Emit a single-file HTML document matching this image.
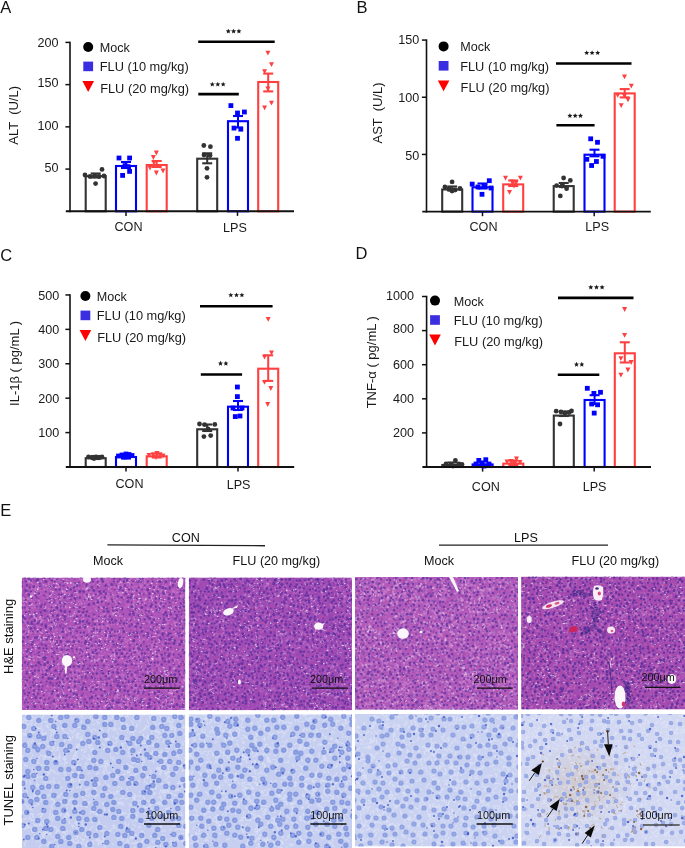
<!DOCTYPE html>
<html><head><meta charset="utf-8"><style>
html,body{margin:0;padding:0;background:#fff;}
svg{will-change:transform;}
body{width:685px;height:848px;position:relative;overflow:hidden;font-family:"Liberation Sans", sans-serif;}
</style></head><body>
<svg width="685" height="848" style="position:absolute;left:0;top:0"><defs><filter id="sf" x="0" y="0" width="1" height="1"><feGaussianBlur stdDeviation="0.45"/></filter><radialGradient id="brn"><stop offset="0" stop-color="#c9ad8c" stop-opacity="0.35"/><stop offset="1" stop-color="#c9ad8c" stop-opacity="0"/></radialGradient><clipPath id="ch0"><rect x="21.8" y="577.6" width="163.6" height="132.4"/></clipPath><clipPath id="ct0"><rect x="21.8" y="714.4" width="163.6" height="133.6"/></clipPath><clipPath id="ch1"><rect x="188.8" y="577.4" width="163.2" height="132.9"/></clipPath><clipPath id="ct1"><rect x="188.8" y="714.3" width="163.2" height="133.7"/></clipPath><clipPath id="ch2"><rect x="355.0" y="577.0" width="163.0" height="132.8"/></clipPath><clipPath id="ct2"><rect x="355.0" y="714.0" width="163.0" height="132.5"/></clipPath><clipPath id="ch3"><rect x="521.1" y="576.6" width="163.9" height="133.0"/></clipPath><clipPath id="ct3"><rect x="521.1" y="714.0" width="163.9" height="132.5"/></clipPath></defs><g clip-path="url(#ch0)"><g filter="url(#sf)"><rect x="21.8" y="577.6" width="163.6" height="132.4" fill="#b055b9"/><g transform="translate(21.8,577.6)"><path d="M31 32h0M157 112h0M115 127h0M82 80h0M144 37h0M136 87h0M92 61h0M54 55h0M90 10h0M147 131h0M29 20h0M69 10h0M25 79h0M35 5h0M53 34h0M20 44h0M20 43h0M57 57h0M109 57h0M147 126h0M155 119h0M158 55h0M123 65h0M67 128h0M123 77h0M140 124h0M157 3h0M55 46h0M154 129h0M76 24h0M85 65h0M9 63h0M59 71h0M4 40h0M23 27h0M32 44h0M56 0h0M46 97h0M130 80h0M87 77h0M154 111h0M92 39h0M5 64h0M162 41h0M117 70h0M34 27h0M118 30h0M134 36h0M3 22h0M106 14h0M41 16h0M47 15h0M34 99h0M99 32h0M87 107h0M137 114h0M121 88h0M115 29h0M3 69h0M115 115h0M136 21h0M6 118h0M134 3h0M89 129h0M92 125h0M13 48h0M120 86h0M6 28h0M100 47h0M138 58h0M73 66h0M140 71h0M161 94h0M136 6h0M141 40h0" stroke="#cc80d0" stroke-width="1.0" stroke-linecap="round" stroke-opacity="0.55"/><path d="M130 12h0M107 82h0M2 70h0M108 61h0M116 42h0M66 112h0M160 53h0M103 103h0M124 16h0M31 97h0M54 39h0M15 77h0M142 24h0M149 108h0M99 56h0M6 127h0M98 39h0M118 9h0M46 121h0M10 23h0M94 17h0M113 77h0M52 132h0M72 111h0M42 1h0M111 27h0M150 117h0M95 42h0M116 126h0M28 60h0M161 60h0M5 116h0M116 76h0M129 3h0M39 19h0M117 24h0M130 120h0M153 96h0M5 107h0M131 23h0M129 19h0M155 11h0M92 41h0M138 119h0M44 63h0M78 42h0M101 123h0M127 3h0M37 91h0M58 82h0M87 21h0M148 42h0M145 18h0M119 34h0M149 128h0M112 25h0M84 75h0M162 123h0M66 26h0M118 9h0M77 1h0M104 83h0M155 88h0M42 53h0M32 50h0M7 123h0M48 2h0M78 129h0M75 27h0M109 60h0M120 32h0M123 25h0M6 8h0M70 83h0M89 10h0M61 63h0M102 102h0M151 57h0M16 116h0M114 37h0M59 96h0M72 106h0M146 33h0M162 50h0M33 56h0M159 8h0M96 120h0M18 24h0M37 24h0M28 100h0M79 29h0M155 106h0M86 68h0M162 87h0M2 63h0M26 21h0M104 131h0M134 11h0M68 121h0M51 41h0M59 91h0M62 94h0M162 106h0M101 38h0M88 39h0M64 88h0M33 97h0M54 109h0M137 78h0M37 21h0M125 109h0M3 44h0M106 14h0M148 73h0M103 26h0M54 123h0M92 74h0M47 119h0M94 110h0M132 2h0M77 19h0M43 75h0M82 53h0M114 70h0M50 52h0M93 120h0M156 0h0M49 43h0M58 78h0M5 119h0M77 27h0M151 119h0M33 84h0M144 7h0M142 94h0M13 30h0M116 26h0M97 30h0M152 88h0M7 79h0M41 106h0M47 100h0M46 73h0M76 99h0M152 66h0M91 85h0M85 126h0M129 105h0M43 106h0M130 32h0M51 6h0M102 70h0M28 34h0M10 54h0M35 128h0M23 52h0M106 8h0M35 46h0M90 22h0M35 62h0M141 27h0M12 92h0M45 2h0M117 36h0M25 124h0M3 43h0M14 117h0M126 69h0M64 32h0M22 94h0M119 88h0M37 39h0M38 84h0M70 52h0M39 12h0M4 52h0M10 54h0M43 88h0M67 55h0M136 116h0M149 5h0M83 41h0M160 20h0M37 90h0M136 128h0M57 117h0M158 109h0M87 31h0M21 8h0M17 93h0M41 95h0M131 17h0M110 31h0M153 131h0M117 16h0M89 64h0M125 130h0M24 23h0M60 34h0M11 118h0M107 82h0M29 4h0M19 10h0M66 93h0M37 51h0M107 107h0M104 47h0M148 43h0M55 98h0M29 14h0M82 53h0M88 126h0M116 24h0M111 125h0M24 84h0M83 75h0M109 56h0M162 98h0M88 115h0M46 85h0M130 20h0M16 5h0M141 110h0M101 119h0M143 96h0M76 17h0M154 81h0M120 48h0M57 93h0M74 124h0M11 55h0M72 126h0M114 89h0M41 56h0M14 48h0M118 89h0M104 62h0M34 49h0M65 98h0M120 103h0M18 104h0M48 103h0M68 7h0M5 15h0M8 55h0M49 98h0M8 111h0M36 13h0M51 64h0M97 127h0M98 49h0M100 78h0M9 12h0M141 53h0M136 43h0M9 101h0M161 121h0M109 73h0M92 122h0M5 57h0M17 98h0M96 27h0M79 130h0M114 31h0M119 76h0M10 109h0M75 64h0M123 14h0M93 73h0M119 35h0M3 71h0M48 33h0M79 36h0M127 34h0M38 60h0M93 46h0M17 75h0M10 88h0M30 70h0M68 64h0M92 18h0M29 20h0M78 104h0M39 87h0M30 31h0M129 72h0M125 32h0M68 131h0M2 66h0M11 121h0M74 49h0M45 124h0M30 46h0M50 24h0M13 30h0M82 21h0M138 62h0M125 53h0M35 3h0M50 6h0M102 42h0M88 61h0M140 117h0M83 130h0M28 96h0M151 68h0M0 66h0M105 128h0M80 64h0M138 67h0M132 106h0M133 40h0M11 88h0M161 115h0M161 82h0M80 51h0M114 68h0M112 125h0M152 121h0M127 44h0M122 33h0M95 32h0M11 7h0M68 54h0M78 127h0M163 70h0M125 8h0M156 118h0M8 94h0M80 78h0M161 16h0M110 98h0M42 81h0M65 132h0M134 111h0M122 77h0M146 88h0M132 56h0M58 100h0M136 50h0M61 87h0M41 24h0M55 116h0M161 30h0M37 48h0M95 13h0M141 8h0M3 92h0M53 62h0M92 47h0M41 39h0M77 68h0M129 118h0M130 82h0M137 10h0M2 20h0M97 77h0M17 84h0M63 109h0M158 32h0M150 89h0M31 31h0M110 83h0M117 65h0M61 44h0M97 121h0M92 32h0M125 96h0M135 20h0M62 11h0M6 15h0M31 15h0M105 22h0M88 50h0M93 67h0M145 78h0M89 124h0M63 94h0M116 120h0M121 115h0M22 103h0M103 37h0M140 131h0M60 92h0M0 43h0M162 84h0M110 128h0M140 49h0M105 3h0M5 21h0M135 46h0M111 129h0M2 63h0M58 132h0M79 18h0M146 99h0M34 85h0M19 13h0M60 49h0M159 80h0M61 54h0M106 47h0M41 42h0M131 122h0M62 15h0M104 118h0M42 101h0M105 106h0M31 16h0M74 79h0M6 56h0M142 76h0M135 12h0M0 73h0M145 9h0M68 69h0M17 18h0M161 111h0M153 28h0M149 63h0M75 62h0M53 75h0M7 51h0M52 49h0M62 23h0M2 101h0M118 105h0M28 131h0M132 16h0M83 7h0M97 109h0M40 97h0M37 8h0M62 36h0M49 39h0M86 3h0M134 114h0M61 126h0M80 97h0M145 1h0M45 89h0M105 80h0M138 6h0M53 85h0M159 28h0M137 111h0M60 85h0M111 73h0M1 53h0M120 81h0M2 43h0M162 52h0M113 13h0M69 106h0M37 2h0M11 46h0M42 29h0M15 77h0M16 126h0M5 93h0M68 70h0M47 118h0M126 49h0M161 78h0M102 127h0M38 29h0M60 126h0M135 70h0M8 93h0M11 39h0M144 47h0M101 87h0M46 73h0M114 55h0M34 1h0M22 40h0M132 29h0M144 122h0M156 67h0M93 54h0M75 8h0M13 56h0M91 21h0M103 6h0M97 34h0M47 101h0M42 86h0M23 100h0M90 31h0M14 30h0M33 26h0M90 102h0M102 51h0M27 68h0M27 118h0M80 38h0M71 91h0M155 98h0M162 2h0M45 78h0M83 24h0M14 72h0M41 103h0M21 67h0M151 91h0M86 47h0M41 53h0M17 65h0M19 29h0M30 9h0M99 57h0M60 1h0M78 126h0M29 67h0M47 88h0M143 24h0M58 77h0M47 119h0M25 51h0M55 48h0M68 79h0M1 100h0M156 59h0M51 127h0M154 11h0M110 12h0M29 40h0M86 100h0M15 96h0M23 65h0M64 109h0M71 71h0M98 63h0M7 39h0M125 63h0M128 69h0M64 0h0M56 87h0M67 24h0M130 68h0M29 126h0M83 61h0M44 25h0M122 79h0M102 84h0M60 97h0M103 30h0M125 35h0M96 125h0M147 116h0M72 29h0M49 109h0M2 60h0M86 40h0M25 64h0M96 89h0M161 105h0M44 83h0M87 45h0M55 90h0M28 19h0M8 101h0M17 122h0M12 56h0M152 82h0M51 93h0M138 59h0M48 83h0M105 19h0M140 28h0M90 31h0M1 51h0M51 9h0M82 106h0M123 103h0M121 47h0M163 9h0M129 129h0M119 37h0M53 20h0M112 108h0M84 130h0M156 20h0M108 7h0M96 96h0M55 23h0M22 58h0M19 82h0M87 12h0M152 44h0M34 98h0M77 77h0M67 96h0M74 33h0M7 32h0M145 18h0M1 46h0M143 28h0M29 112h0M72 29h0M104 30h0M163 108h0M161 81h0M139 23h0M78 8h0M126 39h0M70 77h0M67 131h0M118 75h0M17 119h0M70 21h0M48 101h0M91 95h0M100 61h0M88 115h0M34 82h0M143 112h0M105 83h0M15 44h0M149 0h0M77 106h0M58 106h0M102 52h0M19 16h0M78 29h0M149 18h0M144 2h0M153 100h0M2 42h0M106 120h0M116 108h0M139 100h0M26 120h0M136 125h0M73 55h0M118 126h0M97 55h0M6 22h0M111 26h0M44 126h0M112 83h0M127 27h0M141 67h0M87 22h0M101 67h0M119 26h0M100 68h0M148 110h0M148 90h0M146 64h0M117 88h0M27 39h0M105 15h0M74 90h0M77 129h0M41 84h0M72 77h0M11 70h0M60 5h0M59 70h0M35 125h0M34 114h0M89 81h0M142 9h0M116 68h0M38 103h0M124 87h0M32 31h0M161 35h0M63 131h0M3 14h0M121 98h0M144 22h0M113 76h0M54 41h0M126 86h0M115 116h0M126 67h0M79 110h0M44 59h0M48 96h0M151 6h0M144 91h0M85 87h0M124 14h0M130 20h0M91 15h0M120 16h0M152 54h0M20 121h0M160 91h0M66 73h0M48 51h0M7 130h0M136 47h0M56 68h0M67 121h0M133 71h0M118 86h0M94 38h0M150 21h0M47 25h0M27 98h0M6 87h0M71 6h0M153 22h0M61 42h0M22 42h0M70 131h0M86 54h0M93 11h0M54 11h0M60 55h0M38 59h0M113 49h0M7 109h0M85 23h0M145 67h0M6 11h0M29 39h0M131 26h0M122 18h0M44 105h0M34 89h0M40 103h0M25 23h0M121 86h0M93 18h0M29 13h0M58 84h0M104 3h0M136 112h0M152 108h0M145 2h0M8 128h0M92 60h0M106 95h0M93 87h0M104 113h0M27 56h0M44 37h0M113 87h0M118 67h0M71 3h0M128 15h0M56 128h0M68 71h0M92 9h0M49 44h0M58 30h0M129 39h0M89 83h0M162 59h0M3 21h0M163 130h0M103 10h0M132 127h0M22 27h0M27 85h0M31 104h0M29 92h0M138 118h0M44 121h0M118 52h0M29 83h0M58 13h0M75 62h0M39 25h0M89 34h0M72 60h0M115 9h0M18 17h0M43 41h0M119 65h0M58 67h0M84 3h0M19 50h0M102 109h0M36 19h0M153 31h0M68 8h0M90 33h0M4 16h0M21 20h0" stroke="#cc80d0" stroke-width="1.5" stroke-linecap="round" stroke-opacity="0.55"/><path d="M76 67h0M30 68h0M15 107h0M85 85h0M34 121h0M29 74h0M105 15h0M98 49h0M157 64h0M92 113h0M3 36h0M146 130h0M104 64h0M150 47h0M147 115h0M129 114h0M102 51h0M100 11h0M163 116h0M64 97h0M123 4h0M79 30h0M148 87h0M146 43h0M35 55h0M103 59h0M112 26h0M29 1h0M57 92h0M101 100h0M130 125h0M107 27h0M134 85h0M57 11h0M90 102h0M113 125h0M86 38h0M139 128h0M94 27h0M159 68h0M131 75h0M113 9h0M120 16h0M41 26h0M71 50h0M103 85h0M21 53h0M3 27h0M83 100h0M17 5h0M10 126h0M125 43h0M84 57h0M30 60h0M103 54h0M42 121h0M127 108h0M147 116h0M126 101h0M108 75h0M64 132h0M4 81h0M41 120h0M83 128h0M77 22h0M69 70h0M60 38h0M92 38h0M64 119h0M12 120h0M86 124h0M99 15h0M86 16h0M146 104h0M59 36h0M92 78h0M111 73h0M53 73h0M14 75h0M12 28h0M13 40h0M19 94h0M60 48h0M63 26h0M84 72h0M14 11h0M147 11h0M24 99h0M85 101h0M55 128h0M81 71h0M116 121h0M157 85h0M116 106h0M69 19h0M29 8h0M39 95h0M90 108h0M130 94h0M42 115h0M117 13h0M77 127h0M135 28h0M50 62h0M155 75h0M23 12h0M116 24h0M70 68h0M129 87h0M82 19h0M161 68h0M40 76h0M22 120h0M108 41h0M121 51h0M93 23h0M105 5h0M24 127h0M77 54h0M140 54h0M93 120h0M52 7h0M147 97h0M123 40h0M11 16h0M109 115h0M132 29h0M130 16h0M146 108h0M137 47h0M114 124h0M72 70h0M108 104h0M83 112h0M128 22h0M80 29h0M82 5h0M81 58h0M148 75h0M24 60h0M163 101h0M38 34h0M100 5h0M114 114h0M145 61h0M73 132h0M51 56h0M34 37h0M160 39h0M150 29h0M63 43h0M46 21h0M78 22h0M69 20h0M115 73h0M81 78h0M57 118h0M126 83h0M0 72h0M39 65h0M90 83h0M117 92h0M102 65h0M60 38h0M53 24h0M74 102h0M9 34h0M130 52h0M136 75h0M159 18h0M69 84h0M46 52h0M153 33h0M93 19h0M45 30h0M13 24h0M65 8h0M73 110h0M123 41h0M130 97h0M149 3h0M122 72h0M18 131h0M157 29h0M105 28h0M145 113h0M137 91h0M38 80h0M84 4h0M73 79h0M152 20h0M121 131h0M11 115h0M41 107h0M91 104h0M162 27h0M56 42h0M46 80h0M30 17h0M32 132h0M67 19h0M69 109h0M47 113h0M122 80h0M134 113h0M76 42h0M11 61h0M27 86h0M57 71h0M83 16h0M21 12h0M74 74h0M25 128h0M25 108h0M117 21h0M54 65h0M145 125h0M82 120h0M60 57h0M59 57h0M86 72h0M44 105h0M134 104h0M121 55h0M62 59h0M19 42h0M20 116h0M110 123h0M27 46h0M85 51h0M138 47h0M117 57h0M139 5h0M36 26h0M100 72h0M119 125h0M85 10h0M82 26h0M80 78h0M136 91h0M160 110h0M126 35h0M86 44h0M54 96h0M62 38h0M32 18h0M86 72h0M159 61h0M27 23h0M131 66h0M101 49h0M145 77h0M46 13h0M57 74h0M94 84h0M15 66h0M42 120h0M112 106h0M150 3h0M56 105h0M149 123h0M93 125h0M45 25h0M141 71h0M86 126h0M148 33h0M90 36h0M106 93h0M71 14h0M12 36h0M72 17h0M94 99h0M106 90h0M12 52h0M36 115h0M42 105h0M73 48h0M74 42h0M160 104h0M118 126h0M109 58h0M37 102h0M160 45h0M149 8h0M115 74h0M45 75h0M81 22h0M99 61h0M49 92h0M14 105h0M43 65h0M35 93h0M78 42h0M133 75h0M56 58h0M135 121h0M28 47h0M118 6h0M10 111h0M58 130h0M45 88h0M3 41h0M145 100h0M108 92h0M68 52h0M77 70h0M112 92h0M74 53h0M159 72h0M51 114h0M105 15h0M76 119h0M35 59h0M55 76h0M3 29h0M55 127h0M30 84h0M153 6h0M117 25h0M80 51h0M5 25h0M138 82h0M78 5h0M24 53h0M99 25h0M139 26h0M117 31h0M69 42h0M51 98h0M158 27h0M27 5h0M30 97h0M16 5h0M135 91h0M87 17h0M127 84h0M98 67h0M10 17h0M47 60h0M79 53h0M65 11h0M25 20h0M98 101h0M110 28h0M18 5h0M34 6h0M151 126h0M130 5h0M142 33h0M52 22h0M124 45h0M114 96h0M135 66h0M115 79h0M159 54h0M139 106h0M138 51h0M144 47h0M33 38h0M132 12h0M16 12h0M26 131h0M110 21h0M68 68h0M51 58h0M126 78h0M76 34h0M58 32h0M118 103h0M74 91h0M5 11h0M121 40h0M72 111h0M67 72h0M110 44h0M144 48h0M128 74h0M56 99h0M119 89h0M87 77h0M123 82h0M149 7h0M45 11h0M86 4h0M153 16h0M55 54h0M37 32h0M15 28h0M159 95h0M122 102h0M44 70h0M93 10h0M10 97h0M146 131h0M111 88h0M76 27h0M37 29h0M114 121h0M3 115h0M55 9h0M75 2h0M104 114h0M102 130h0M76 119h0M65 16h0M160 26h0M147 39h0M86 35h0M133 102h0M97 115h0M9 17h0M26 75h0M63 9h0M99 42h0M134 66h0M86 123h0M19 95h0M54 102h0M27 7h0M5 65h0M112 110h0M150 122h0M58 27h0M87 7h0M1 73h0M117 126h0M37 26h0M14 106h0M78 15h0M22 18h0M112 107h0M9 101h0M161 38h0M101 8h0M93 9h0M121 113h0M137 77h0M25 2h0M122 37h0M57 126h0M19 5h0M137 130h0M153 82h0M53 50h0M89 69h0M90 90h0M48 76h0M86 23h0M98 83h0M100 39h0M113 29h0M96 129h0M61 57h0M3 78h0M101 104h0M121 80h0M90 88h0M15 89h0M70 128h0M117 23h0M73 84h0M27 47h0M142 15h0M98 36h0M142 6h0M38 58h0M98 36h0M39 129h0M55 34h0M72 53h0M86 73h0M9 42h0M97 121h0M39 49h0M18 122h0M39 25h0M113 30h0M55 132h0M43 102h0M102 59h0M74 102h0M65 16h0M126 1h0M84 19h0M98 57h0M70 104h0M49 126h0M121 21h0M60 2h0M126 31h0M131 80h0M86 79h0M104 75h0M67 111h0M126 91h0M41 14h0M41 81h0M52 42h0M126 107h0M159 59h0M68 74h0M42 8h0M96 94h0M153 96h0M103 113h0M42 62h0M86 98h0M148 81h0M112 24h0M58 94h0M159 116h0M60 43h0M103 20h0M38 82h0M40 71h0M118 66h0M128 67h0M164 72h0M105 59h0M89 125h0M112 14h0M100 54h0M80 57h0M9 32h0M158 51h0M123 3h0M44 74h0M141 67h0M101 65h0M101 110h0M7 85h0M41 126h0M75 123h0M76 99h0M50 9h0M137 112h0M6 21h0M93 11h0M82 129h0M5 80h0M157 74h0M124 22h0M59 97h0M10 37h0M5 80h0M89 9h0M99 34h0M33 79h0M29 13h0M62 103h0M158 11h0M154 121h0M15 103h0M128 84h0M97 77h0M57 19h0M75 2h0M11 18h0M88 28h0M149 29h0M31 24h0M98 82h0M14 8h0M24 128h0M3 59h0M69 15h0M98 120h0M113 98h0M150 79h0M49 25h0M51 95h0M0 28h0M65 90h0M15 82h0M100 67h0M162 115h0M28 34h0M143 103h0M10 11h0M75 104h0M15 42h0M106 126h0M150 17h0M60 112h0M92 30h0M21 36h0M9 102h0M74 72h0M35 25h0M55 26h0M30 110h0M4 45h0M163 95h0M88 65h0M150 111h0M52 6h0M62 74h0M155 9h0M146 103h0M15 96h0M76 126h0M145 26h0M160 97h0M15 54h0M40 11h0M55 126h0M113 81h0M52 44h0M119 47h0M17 42h0M17 10h0M144 102h0M103 87h0M119 79h0M97 92h0M48 30h0M14 16h0M162 103h0M121 27h0M138 42h0M125 104h0M94 3h0M143 94h0M25 87h0M140 32h0M58 101h0M11 62h0M75 74h0M144 128h0M60 99h0M156 66h0M93 57h0M42 127h0M61 11h0M111 68h0M81 54h0M97 6h0M41 77h0M124 128h0M76 43h0M72 49h0M37 10h0M89 78h0M122 56h0M83 37h0M64 57h0M37 17h0M57 24h0M88 71h0M101 103h0M115 110h0M157 38h0M153 14h0M50 63h0M30 69h0M94 98h0M50 55h0M71 18h0M19 61h0M61 125h0M114 111h0M140 101h0M82 40h0M63 73h0M85 1h0M6 79h0M51 119h0M90 67h0M93 121h0M49 130h0M12 69h0M145 72h0M71 125h0M87 48h0M52 36h0M105 48h0M45 71h0M138 34h0M93 116h0M141 122h0M66 128h0M87 103h0M62 1h0M88 2h0M29 72h0M108 62h0M99 99h0M21 90h0M69 120h0M118 94h0M123 6h0M142 54h0M79 16h0M123 22h0M57 48h0M117 92h0M138 3h0M66 122h0M37 9h0M90 62h0M154 115h0M145 24h0M123 1h0M76 124h0M118 67h0M54 126h0M77 126h0M156 42h0M139 24h0M149 131h0M22 126h0M79 23h0M133 71h0M74 108h0M38 81h0M139 48h0M128 24h0M93 40h0M82 66h0M157 107h0M92 91h0M68 15h0M43 14h0M51 37h0M102 37h0M136 1h0M34 28h0M131 83h0M162 61h0M27 48h0M126 114h0M8 24h0M42 65h0M17 23h0M85 23h0M103 12h0M38 131h0M53 132h0M27 42h0M139 128h0M35 24h0M3 28h0M157 15h0M127 86h0M160 110h0M10 6h0M114 22h0M113 47h0M65 74h0M4 1h0M7 38h0M74 93h0M45 64h0M97 26h0M40 122h0M19 63h0M30 111h0M60 71h0M147 113h0M60 42h0M109 82h0M110 1h0M31 29h0M142 123h0M100 129h0M59 24h0M141 71h0M44 30h0M132 64h0M159 15h0" stroke="#cc80d0" stroke-width="2.0" stroke-linecap="round" stroke-opacity="0.55"/><path d="M74 74h0M7 130h0M76 58h0M163 132h0M47 9h0M14 44h0M17 8h0M35 36h0M131 40h0M34 52h0M105 13h0M35 34h0M31 98h0M32 126h0M115 34h0M6 2h0M89 98h0M121 93h0M81 81h0M32 57h0M81 111h0M81 42h0M74 3h0M107 107h0M74 83h0M62 75h0M35 119h0M160 71h0M52 120h0M85 96h0M105 69h0M68 127h0M71 108h0M139 81h0M38 98h0M151 29h0M136 56h0M30 27h0M2 93h0M84 2h0M131 93h0M83 130h0M115 101h0M163 84h0M12 79h0M100 8h0M7 21h0M8 131h0M77 130h0M95 56h0M87 132h0M160 121h0M56 99h0M12 16h0M69 34h0M60 87h0M112 40h0M150 124h0M52 53h0M130 72h0M92 23h0M158 86h0M10 72h0M40 29h0M135 88h0M132 110h0M19 86h0M43 117h0M56 72h0M87 20h0M0 109h0M140 40h0M86 21h0M64 61h0M67 10h0M66 93h0M83 104h0M100 21h0M137 26h0M76 16h0M149 131h0M98 16h0M29 131h0M113 100h0M79 132h0M86 57h0M11 121h0M82 124h0M28 116h0M119 41h0M39 88h0M61 88h0M105 12h0M39 58h0M117 76h0M96 12h0M113 110h0M80 101h0M6 32h0M40 61h0M60 45h0M138 50h0M43 52h0M125 96h0M66 51h0M103 75h0M109 126h0M77 81h0M59 76h0M27 115h0M55 101h0M116 82h0M2 78h0M47 97h0M51 106h0M114 72h0M163 27h0M79 55h0M154 114h0M2 28h0M2 70h0M131 110h0M161 13h0M144 42h0M30 47h0M142 17h0M80 31h0M106 124h0M130 68h0M40 106h0M126 73h0M30 51h0M75 67h0M95 38h0M67 17h0M89 13h0M99 128h0M162 52h0M106 93h0M107 29h0M121 34h0M77 2h0M139 14h0M66 81h0M158 85h0M43 15h0M81 68h0M111 11h0M102 73h0M104 3h0M128 58h0M12 15h0M19 41h0M68 71h0M113 51h0M92 129h0M25 126h0M132 13h0M100 16h0M95 119h0M113 48h0M118 39h0M45 67h0M26 114h0M87 87h0M153 48h0M155 15h0M108 10h0M162 41h0M5 76h0M112 113h0M80 74h0M55 93h0M160 126h0M100 81h0M14 69h0M5 15h0M95 100h0M0 9h0M74 31h0M86 34h0M58 121h0M63 18h0M128 45h0M121 63h0M34 116h0M152 45h0M23 95h0M144 96h0M125 70h0M51 101h0M93 39h0M149 31h0M95 21h0M72 11h0M38 110h0M70 74h0M32 28h0M131 130h0M30 92h0M119 8h0M126 104h0M4 21h0M37 87h0M156 82h0M71 91h0M91 85h0M119 42h0M17 126h0M67 53h0M67 40h0M74 63h0M74 50h0M3 55h0M97 94h0M161 18h0M53 96h0M162 75h0M51 116h0M5 108h0M101 20h0M35 117h0M44 15h0M31 115h0M144 131h0M162 10h0M154 58h0M35 10h0M133 96h0M9 5h0M27 63h0M53 34h0M138 93h0M8 4h0M82 66h0M119 10h0M6 4h0M138 80h0M47 39h0M128 93h0M30 52h0M125 15h0M99 127h0M94 118h0M137 87h0M118 113h0M112 20h0M110 96h0M91 77h0M112 131h0M132 52h0M48 49h0M35 2h0M99 7h0M55 19h0M77 119h0M77 40h0M52 96h0M23 72h0M126 81h0M159 48h0M147 127h0M106 63h0M113 75h0M8 21h0M92 37h0M54 112h0M26 109h0M29 100h0M27 31h0M22 78h0M31 42h0M58 62h0M43 107h0M98 127h0M33 119h0M48 55h0M130 111h0M92 19h0M120 116h0M120 8h0M55 14h0M71 79h0M152 120h0M40 104h0M43 14h0M157 126h0M138 112h0M147 96h0M9 90h0M109 80h0M157 108h0M59 1h0M140 102h0M137 131h0M99 18h0M83 36h0M148 131h0M151 34h0M130 8h0M0 128h0M5 81h0M40 21h0M8 49h0M132 35h0M40 52h0M20 124h0M144 52h0M28 96h0M105 106h0M80 4h0M149 111h0M142 128h0M13 55h0M72 7h0M135 81h0M71 112h0M91 54h0M5 107h0M40 81h0M142 90h0M40 13h0M59 123h0M40 85h0M60 57h0M72 117h0M74 24h0M118 25h0M161 66h0M163 12h0M1 129h0M77 73h0M98 43h0M77 105h0M141 35h0M29 66h0M158 86h0M33 65h0M96 99h0M24 90h0M115 111h0M92 38h0M71 108h0M4 120h0M108 6h0M11 31h0M144 131h0M50 92h0M70 84h0M107 42h0M148 129h0M46 3h0M11 39h0M110 109h0M62 66h0M90 79h0M111 6h0M76 27h0M138 32h0M65 12h0M138 121h0M69 64h0M61 4h0M12 124h0M6 127h0M27 63h0M100 97h0M13 87h0M122 23h0M6 55h0M28 42h0M140 128h0M106 110h0M73 84h0M52 7h0M123 111h0M131 70h0M63 122h0M9 15h0M49 1h0M106 3h0M13 11h0M71 38h0M61 80h0M12 60h0M114 115h0M14 116h0M38 122h0M41 66h0M90 71h0M18 91h0M133 88h0M38 108h0M37 64h0M118 78h0M151 12h0M48 81h0M48 41h0M102 98h0M56 65h0M100 121h0M58 1h0M137 58h0M51 67h0M58 129h0M89 64h0M34 127h0M153 39h0M0 128h0M123 10h0M89 23h0M145 17h0M157 47h0M51 108h0M54 58h0M48 66h0M162 121h0M83 54h0M9 31h0M62 129h0M16 49h0M5 48h0M61 37h0M20 126h0M106 128h0M153 119h0M69 76h0M153 57h0M36 87h0M47 53h0M121 131h0M87 98h0M85 90h0M115 73h0M139 42h0M137 65h0M62 51h0M66 69h0M74 128h0M74 63h0M96 35h0M106 78h0M91 36h0M149 113h0M27 59h0M91 130h0M83 84h0M46 75h0M105 86h0M34 100h0M144 9h0M56 17h0M156 58h0M5 31h0M119 113h0M147 112h0M69 67h0M93 71h0M3 80h0M122 62h0M98 38h0M109 13h0M135 97h0M151 14h0M87 25h0M2 120h0M117 0h0M43 86h0M106 46h0M60 110h0M100 8h0M36 20h0M107 57h0M69 50h0M163 34h0M163 12h0M114 66h0M137 2h0M69 118h0M10 48h0M54 49h0M149 126h0M111 15h0M51 103h0M31 84h0M131 71h0M92 73h0M153 83h0M7 64h0M116 118h0M151 25h0M29 48h0M94 25h0M89 17h0M5 90h0M112 47h0M92 66h0M42 132h0M92 128h0M114 33h0M11 111h0M3 38h0M78 23h0M110 4h0M51 50h0M102 20h0M59 2h0M57 36h0M82 42h0M36 106h0M109 100h0M72 78h0M116 86h0M81 49h0M67 111h0M30 87h0M129 6h0M26 115h0M34 130h0M74 73h0M137 18h0M18 9h0M161 2h0M9 86h0M81 37h0M149 116h0M73 39h0M133 99h0M89 59h0M77 125h0M113 97h0M37 123h0M146 46h0M163 66h0M108 2h0M50 62h0M107 98h0" stroke="#cc80d0" stroke-width="2.5" stroke-linecap="round" stroke-opacity="0.55"/><path d="M116 32h0M36 73h0M136 70h0M42 130h0M117 79h0M144 94h0M149 26h0M34 47h0M66 117h0M67 77h0M123 111h0M49 66h0M29 73h0M129 123h0M14 18h0M57 39h0M6 64h0M99 93h0M63 57h0M113 75h0M8 49h0M105 108h0M23 56h0M119 117h0M141 44h0M64 107h0M18 62h0M81 99h0M106 123h0M152 58h0M50 64h0M91 41h0M35 49h0M78 10h0M22 41h0M55 104h0M105 69h0M154 107h0M64 66h0M12 0h0M33 112h0M163 6h0M144 96h0M57 39h0M139 42h0M136 119h0M6 127h0M152 130h0" stroke="#843ea8" stroke-width="1.0" stroke-linecap="round" stroke-opacity="0.5"/><path d="M13 61h0M77 129h0M91 121h0M106 3h0M62 3h0M68 27h0M64 107h0M133 6h0M98 63h0M72 116h0M79 35h0M95 16h0M49 103h0M14 118h0M28 93h0M99 59h0M156 92h0M126 23h0M85 58h0M161 16h0M139 4h0M87 31h0M4 89h0M5 1h0M114 74h0M152 102h0M90 28h0M110 41h0M130 115h0M134 112h0M143 109h0M147 12h0M132 23h0M129 110h0M103 46h0M94 70h0M26 114h0M158 125h0M80 83h0M97 13h0M120 30h0M12 100h0M130 104h0M97 59h0M152 106h0M142 129h0M98 51h0M60 65h0M57 71h0M137 100h0M88 43h0M151 11h0M4 20h0M8 62h0M53 40h0M16 54h0M153 34h0M10 108h0M40 111h0M41 72h0M42 25h0M105 106h0M52 68h0M162 87h0M21 131h0M72 81h0M129 99h0M129 28h0M29 120h0M31 114h0M14 108h0M22 1h0M97 98h0M47 48h0M14 112h0M136 32h0M79 102h0M162 117h0M51 48h0M90 59h0M15 85h0M77 28h0M36 30h0M17 112h0M35 102h0M60 0h0M153 65h0M96 12h0M141 84h0M141 39h0M128 113h0M161 28h0M76 103h0M80 46h0M90 112h0M42 110h0M48 79h0M127 16h0M72 8h0M8 71h0M6 120h0M36 127h0M82 120h0M150 26h0M135 54h0M41 80h0M121 72h0M75 111h0M45 19h0M112 73h0M46 111h0M162 26h0M2 16h0M157 100h0M65 73h0M9 25h0M82 89h0M65 87h0M120 103h0M55 77h0M23 28h0M46 11h0M55 39h0M83 99h0M161 82h0M60 37h0M95 58h0M51 42h0M57 121h0M118 101h0M159 86h0M159 110h0M102 26h0M28 35h0M35 14h0M55 19h0M66 9h0M7 98h0M159 93h0M136 56h0M98 36h0M38 121h0M17 89h0M45 41h0M41 44h0M152 78h0M39 71h0M38 83h0M149 4h0M34 8h0M109 99h0M130 36h0M34 84h0M75 49h0M96 96h0M92 69h0M53 48h0M45 24h0M23 1h0M154 9h0M46 4h0M94 52h0M102 126h0M4 84h0M31 49h0M90 98h0M81 74h0M133 35h0M40 34h0M141 94h0M107 22h0M136 87h0M20 65h0M111 64h0M126 26h0M19 23h0M45 126h0M17 113h0M131 122h0M73 132h0M60 92h0M105 80h0M76 66h0M155 32h0M132 125h0M19 29h0M136 110h0M57 124h0M34 67h0M149 106h0M24 77h0M70 48h0M67 68h0M28 61h0M23 78h0M21 71h0M98 0h0M70 64h0M70 85h0M81 120h0M42 21h0M51 15h0M156 103h0M38 66h0M125 37h0M129 76h0M128 84h0M125 60h0M39 34h0M118 66h0M160 48h0M36 37h0M152 48h0M34 108h0M48 112h0M115 52h0M155 114h0M22 73h0M155 43h0M67 60h0M149 130h0M34 11h0M134 46h0M32 93h0M137 16h0M35 68h0M147 28h0M81 105h0M137 110h0M153 123h0M90 115h0M68 70h0M120 71h0M154 37h0M143 22h0M56 47h0M45 48h0M40 8h0M96 87h0M68 81h0M3 108h0M131 33h0M28 30h0M28 113h0M112 114h0M79 68h0M3 79h0M11 89h0M13 123h0M144 52h0M105 4h0M10 66h0M103 81h0M69 118h0M62 32h0M25 97h0M60 102h0M21 104h0M105 94h0M1 38h0M144 36h0M34 97h0M76 100h0M37 68h0M119 108h0M86 78h0M48 19h0M137 116h0M136 110h0M32 73h0M137 124h0M29 45h0M122 53h0M140 48h0M55 123h0M162 96h0M63 101h0M160 81h0M93 6h0M76 111h0M8 71h0M40 128h0M136 41h0M151 40h0M69 101h0M144 78h0M150 9h0M124 81h0M8 101h0M130 79h0M15 59h0M9 64h0M146 68h0M25 43h0M23 37h0M149 95h0M116 95h0M2 41h0M109 10h0M61 44h0M124 118h0M9 54h0M99 118h0M88 61h0M31 60h0M40 28h0M84 84h0M70 64h0M12 47h0M33 66h0M56 84h0M112 131h0M111 106h0M100 101h0M132 94h0M23 18h0M154 10h0M44 86h0M69 112h0M80 28h0M42 100h0M161 27h0M105 16h0M161 49h0M154 92h0M62 28h0M2 39h0M106 122h0M61 57h0M27 54h0M30 48h0M138 1h0M158 9h0M54 109h0M135 93h0M160 87h0M37 12h0M87 97h0M34 113h0M64 92h0M2 94h0M63 128h0M105 108h0M58 67h0M133 42h0M60 88h0M112 68h0M21 33h0M88 125h0M32 70h0M1 67h0M107 67h0M72 12h0M76 121h0M80 29h0M75 96h0M10 98h0M89 101h0M62 88h0M47 26h0M70 61h0M122 33h0M127 3h0M68 2h0M56 130h0M30 8h0M41 9h0M30 8h0M137 56h0M142 23h0M7 111h0M85 3h0M155 39h0M59 34h0M150 18h0M80 68h0M76 112h0M151 45h0M57 38h0M13 23h0M105 91h0M28 45h0M163 1h0M66 131h0M143 91h0M148 120h0M145 87h0M155 54h0M53 67h0M132 42h0M58 14h0M6 39h0M5 7h0M36 13h0M61 91h0M107 37h0M9 14h0M33 49h0M50 103h0M135 73h0M25 40h0M96 130h0M23 32h0M122 72h0M124 51h0M84 47h0M131 104h0M44 120h0M38 51h0M98 73h0M145 66h0M39 9h0M36 42h0M155 75h0M14 100h0M108 36h0M116 22h0M100 115h0M126 85h0M115 38h0M73 7h0M140 131h0M7 66h0M15 54h0M118 80h0M21 129h0M110 130h0M99 112h0M43 23h0M32 94h0M74 17h0M145 15h0M110 17h0M70 23h0M43 72h0M15 68h0M8 60h0M114 112h0M2 121h0M133 128h0M40 43h0M143 106h0M103 99h0M118 30h0M145 105h0M130 111h0M18 120h0M8 47h0M50 25h0M93 26h0M3 2h0M76 130h0M147 15h0M159 79h0M5 41h0M14 126h0M132 15h0M10 14h0M73 22h0M65 46h0M71 13h0M57 47h0M23 8h0M23 26h0M18 109h0M99 63h0M56 121h0M36 70h0M4 1h0M88 98h0M34 125h0M43 24h0M40 28h0M68 129h0M49 24h0M122 41h0M92 114h0M90 40h0M115 132h0M61 48h0M110 57h0M151 18h0M43 8h0M19 2h0M84 114h0M137 31h0M161 100h0M159 122h0M146 12h0M50 31h0M35 63h0M86 130h0M17 21h0M56 119h0M92 45h0M107 65h0M156 39h0M2 14h0M148 105h0M147 3h0M89 6h0M160 46h0M38 127h0M44 32h0M4 79h0M99 125h0M154 71h0M138 20h0M98 77h0M48 130h0M130 80h0M126 100h0M20 12h0M5 14h0M98 60h0M47 72h0M142 62h0M151 10h0M140 115h0M6 60h0M32 80h0M18 91h0M77 18h0M159 41h0M106 110h0M51 9h0M121 4h0" stroke="#843ea8" stroke-width="1.5" stroke-linecap="round" stroke-opacity="0.5"/><path d="M133 104h0M90 99h0M53 77h0M50 52h0M106 44h0M161 74h0M12 125h0M47 73h0M151 101h0M112 88h0M119 72h0M26 62h0M14 97h0M146 128h0M98 45h0M89 58h0M116 111h0M20 11h0M13 63h0M106 31h0M147 85h0M47 13h0M32 39h0M10 65h0M48 22h0M62 34h0M68 81h0M116 123h0M75 93h0M36 27h0M110 99h0M31 81h0M36 99h0M2 71h0M145 129h0M9 7h0M26 77h0M137 4h0M104 72h0M82 66h0M158 4h0M18 66h0M13 77h0M104 72h0M121 4h0M34 37h0M150 62h0M12 120h0M79 38h0M3 15h0M73 68h0M123 97h0M95 94h0M124 36h0M31 72h0M112 91h0M99 20h0M46 1h0M159 62h0M102 5h0M139 77h0M87 42h0M99 7h0M17 116h0M93 8h0M15 88h0M3 11h0M76 66h0M159 31h0M163 51h0M59 44h0M140 5h0M129 105h0M17 90h0M69 69h0M144 75h0M98 119h0M159 86h0M20 33h0M84 74h0M42 47h0M92 101h0M109 105h0M57 103h0M135 56h0M156 8h0M97 128h0M43 18h0M30 27h0M78 62h0M113 20h0M35 40h0M21 36h0M29 131h0M28 0h0M7 89h0M77 57h0M157 37h0M159 53h0M127 41h0M77 75h0M34 59h0M25 40h0M77 71h0M46 24h0M3 48h0M100 44h0M28 100h0M85 130h0M143 53h0M79 94h0M107 105h0M99 41h0M108 71h0M128 94h0M24 46h0M33 23h0M77 18h0M14 101h0M58 86h0M115 58h0M66 57h0M112 123h0M90 59h0M54 23h0M99 27h0M27 114h0M71 10h0M69 16h0M34 25h0M4 107h0M116 96h0M34 123h0M1 82h0M20 121h0M25 62h0M101 64h0M48 2h0M21 81h0M91 58h0M142 43h0M59 56h0M117 104h0M92 118h0M98 51h0M159 63h0M61 99h0M116 114h0M111 104h0M135 93h0M29 126h0M38 7h0M71 38h0M23 7h0M139 7h0M121 122h0M159 88h0M33 99h0M59 13h0M12 88h0M45 86h0M111 14h0M132 61h0M143 56h0M93 104h0M24 25h0M35 49h0M4 23h0M10 121h0M24 59h0M74 111h0M71 48h0M99 121h0M106 85h0M86 10h0M128 125h0M75 61h0M13 47h0M93 42h0M124 45h0M141 123h0M48 35h0M128 83h0M101 37h0M133 61h0M62 15h0M66 2h0M123 27h0M66 20h0M85 101h0M84 56h0M137 46h0M84 125h0M9 65h0M21 93h0M134 122h0M72 46h0M24 14h0M67 59h0M39 121h0M89 115h0M66 42h0M142 40h0M62 2h0M118 56h0M70 73h0M79 20h0M35 37h0M20 67h0M4 108h0M143 6h0M74 61h0M16 36h0M22 67h0M139 103h0M116 115h0M158 42h0M48 94h0M162 76h0M21 114h0M138 101h0M94 32h0M109 34h0M36 94h0M36 1h0M156 12h0M162 94h0M82 96h0M72 92h0M33 51h0M40 47h0M101 36h0M49 128h0M129 24h0M126 114h0M20 8h0M161 43h0M161 33h0M53 2h0M8 71h0M148 107h0M139 126h0M88 81h0M8 41h0M54 24h0M121 54h0M137 35h0M27 22h0M135 13h0M116 113h0M98 111h0M151 120h0M30 45h0M1 38h0M160 65h0M50 87h0M74 57h0M10 32h0M84 38h0M135 113h0M16 82h0M84 16h0M37 104h0M6 14h0M70 35h0M8 39h0M75 126h0M131 124h0M111 34h0M147 62h0M8 76h0M159 9h0M18 32h0M129 122h0M73 37h0M142 99h0M131 62h0M107 113h0M101 22h0M98 96h0M6 34h0M118 5h0M93 91h0M69 82h0M110 39h0M119 111h0M88 15h0M104 79h0M8 68h0M38 60h0M143 70h0M116 68h0M140 14h0M156 32h0M45 102h0M90 12h0M7 25h0M55 88h0M96 38h0M126 4h0M35 82h0M112 64h0M9 14h0M48 65h0M157 66h0M158 38h0M131 1h0M110 3h0M97 56h0M53 53h0M99 65h0M8 105h0M108 30h0M12 128h0M93 70h0M162 109h0M13 17h0M120 81h0M86 42h0M41 85h0M103 18h0M154 80h0M41 3h0M157 59h0M73 2h0M114 28h0M10 129h0M95 68h0M148 106h0M114 29h0M161 57h0M153 65h0M119 20h0M88 116h0M15 106h0M101 109h0M18 34h0M122 59h0M59 69h0M22 61h0M118 82h0M47 64h0M134 121h0M152 41h0M127 110h0M149 49h0M145 103h0M127 15h0M91 90h0M40 118h0M17 21h0M42 0h0M71 45h0M163 10h0M78 16h0M147 76h0M109 59h0M99 131h0M145 5h0M142 60h0M135 102h0M6 13h0M12 103h0M1 18h0M43 129h0M69 98h0M40 66h0M121 55h0M96 1h0M24 71h0M51 72h0M99 2h0M108 115h0M65 17h0M75 5h0M7 49h0M27 91h0M2 115h0M68 46h0M29 111h0M46 24h0M50 17h0M144 44h0M74 72h0M126 50h0M143 67h0M76 24h0M47 44h0M65 102h0M133 95h0M93 44h0M144 82h0M32 10h0M91 52h0M159 31h0M70 49h0M41 24h0M149 66h0M58 73h0M138 5h0M100 62h0M98 110h0M109 53h0M74 103h0M113 49h0M19 30h0M1 119h0M24 19h0M93 37h0M87 27h0M93 19h0M32 131h0M67 108h0M61 108h0M35 118h0M7 8h0M156 118h0M35 79h0M129 94h0M37 50h0M46 97h0M157 108h0M29 106h0M97 103h0M80 130h0M106 80h0M155 50h0M141 23h0M62 35h0M138 112h0M3 19h0M53 58h0M8 121h0M80 58h0M74 41h0M64 95h0M21 4h0M130 65h0M128 105h0M130 2h0M92 40h0M80 113h0M146 122h0M2 68h0M152 63h0M108 12h0M66 101h0" stroke="#843ea8" stroke-width="2.0" stroke-linecap="round" stroke-opacity="0.5"/><path d="M152 7h0M92 33h0M27 93h0M0 88h0M11 74h0M47 96h0M36 32h0M95 105h0M108 33h0M146 0h0M28 107h0M94 88h0M93 45h0M122 66h0M68 62h0M71 97h0M63 130h0M149 108h0M68 92h0M106 130h0M80 102h0M125 86h0M104 92h0M161 68h0M25 34h0M139 41h0M104 105h0M134 25h0M4 27h0M159 46h0M12 49h0M99 34h0M148 89h0M10 81h0M13 0h0M70 96h0M35 68h0M7 47h0M38 100h0M61 84h0M13 48h0M61 116h0M84 121h0M2 78h0M71 89h0M44 68h0M38 110h0M109 84h0M27 46h0M124 55h0M58 8h0M24 107h0M6 129h0M137 54h0M156 40h0M85 27h0M115 46h0M13 4h0M59 96h0M32 123h0M56 51h0M70 20h0M34 93h0M129 114h0M25 4h0M32 22h0M163 8h0M130 129h0M62 43h0M136 123h0M83 19h0M150 90h0M90 110h0M125 79h0M119 123h0M18 87h0M29 125h0M87 34h0M12 56h0M47 82h0M102 80h0M84 12h0M11 121h0M21 57h0M0 8h0M112 132h0M2 69h0M93 76h0M8 19h0M35 86h0M156 3h0M62 125h0M93 39h0M158 28h0M47 56h0M80 96h0M90 99h0M76 25h0M65 6h0M127 17h0M31 106h0M140 78h0M128 130h0M62 127h0M93 1h0M30 11h0M154 132h0M18 71h0M28 105h0M109 123h0M29 11h0M40 116h0M38 63h0M101 71h0M56 105h0M84 26h0M73 106h0M6 60h0M125 46h0M98 57h0M105 10h0M120 5h0M78 123h0M90 70h0M55 127h0M18 85h0M140 120h0M148 32h0M69 98h0M98 87h0M0 18h0M2 100h0M100 33h0M107 24h0M112 101h0M124 38h0M41 12h0M147 93h0M163 43h0M48 41h0M116 127h0M55 20h0M84 118h0M153 42h0M43 60h0M160 34h0M151 23h0M6 130h0M146 79h0M162 76h0M43 49h0M76 11h0M110 56h0M156 127h0M142 121h0M61 14h0M77 14h0M15 76h0M8 41h0M72 115h0M75 130h0M126 14h0M148 48h0M74 80h0M86 79h0M118 39h0M84 102h0M16 117h0M51 74h0M68 127h0M80 3h0M93 85h0M49 56h0M10 19h0M28 101h0M95 124h0M146 24h0M107 48h0M59 99h0M9 78h0M163 48h0" stroke="#843ea8" stroke-width="2.5" stroke-linecap="round" stroke-opacity="0.5"/><path d="M28 1h0M35 2h0M50 0h0M59 0h0M70 2h0M75 0h0M92 1h0M98 2h0M121 1h0M137 0h0M141 1h0M156 0h0M161 0h0M164 1h0M33 4h0M39 4h0M42 4h0M57 5h0M62 5h0M76 4h0M92 4h0M96 4h0M111 4h0M120 5h0M126 4h0M131 4h0M164 5h0M32 8h0M38 7h0M42 8h0M46 10h0M76 9h0M95 8h0M110 7h0M117 10h0M123 8h0M156 10h0M160 10h0M168 8h0M9 14h0M14 14h0M24 14h0M67 13h0M93 12h0M107 12h0M110 12h0M120 12h0M131 14h0M141 14h0M159 13h0M14 18h0M22 18h0M28 16h0M65 17h0M74 17h0M89 17h0M122 17h0M133 16h0M138 18h0M4 22h0M15 20h0M25 22h0M28 21h0M37 21h0M49 22h0M63 22h0M71 21h0M115 21h0M119 22h0M126 20h0M128 20h0M153 21h0M3 24h0M14 25h0M20 27h0M23 27h0M28 25h0M32 25h0M87 26h0M91 24h0M110 25h0M120 25h0M134 25h0M144 26h0M148 25h0M154 24h0M162 25h0M8 31h0M15 29h0M30 30h0M39 29h0M42 29h0M77 30h0M91 30h0M95 29h0M114 31h0M124 28h0M8 34h0M13 35h0M91 33h0M120 35h0M124 33h0M137 33h0M149 34h0M153 34h0M157 34h0M163 33h0M7 37h0M20 38h0M26 39h0M41 38h0M59 38h0M72 37h0M77 39h0M83 39h0M94 37h0M102 37h0M130 38h0M160 37h0M164 37h0M0 43h0M10 44h0M23 41h0M52 41h0M58 43h0M77 43h0M84 43h0M99 43h0M105 43h0M109 43h0M113 41h0M138 41h0M147 41h0M1 45h0M30 45h0M35 46h0M38 48h0M45 46h0M82 47h0M91 45h0M98 46h0M105 46h0M120 47h0M141 46h0M143 45h0M155 47h0M-2 50h0M5 50h0M39 49h0M51 51h0M75 52h0M79 52h0M108 49h0M129 52h0M148 51h0M152 52h0M158 51h0M5 56h0M11 54h0M16 54h0M29 53h0M36 55h0M49 55h0M59 55h0M70 54h0M72 53h0M93 54h0M96 54h0M112 55h0M136 55h0M149 56h0M156 56h0M158 55h0M164 56h0M20 60h0M30 58h0M37 60h0M45 58h0M51 59h0M54 60h0M60 59h0M70 58h0M73 58h0M93 58h0M102 60h0M122 58h0M130 58h0M141 58h0M157 58h0M16 62h0M21 63h0M47 64h0M83 64h0M97 62h0M100 64h0M122 64h0M130 62h0M134 64h0M164 64h0M5 66h0M20 67h0M28 66h0M34 66h0M37 68h0M43 68h0M47 68h0M51 68h0M80 68h0M85 67h0M108 68h0M128 68h0M133 67h0M138 66h0M147 66h0M11 70h0M22 71h0M25 71h0M30 71h0M35 71h0M50 71h0M59 72h0M67 71h0M79 72h0M84 71h0M89 72h0M94 73h0M112 71h0M132 70h0M142 71h0M149 70h0M156 72h0M165 72h0M-1 75h0M23 74h0M37 77h0M58 76h0M61 74h0M91 75h0M105 76h0M129 74h0M135 75h0M140 77h0M143 76h0M148 76h0M152 77h0M157 77h0M1 80h0M10 80h0M17 78h0M30 79h0M36 81h0M41 81h0M48 79h0M55 81h0M60 79h0M64 78h0M72 79h0M87 79h0M103 79h0M107 79h0M117 79h0M131 78h0M156 81h0M7 85h0M43 83h0M46 85h0M52 83h0M62 85h0M64 83h0M72 84h0M75 85h0M85 84h0M105 84h0M108 83h0M115 83h0M161 84h0M6 87h0M19 87h0M39 88h0M68 88h0M73 88h0M76 88h0M87 87h0M96 87h0M101 87h0M114 88h0M133 88h0M143 90h0M148 90h0M152 87h0M162 87h0M0 92h0M5 94h0M9 93h0M41 92h0M46 93h0M61 91h0M72 91h0M77 91h0M96 92h0M108 94h0M116 93h0M128 92h0M135 91h0M143 92h0M148 92h0M163 93h0M21 97h0M29 96h0M49 95h0M57 96h0M64 98h0M71 96h0M124 97h0M133 96h0M140 96h0M-4 101h0M12 102h0M17 100h0M54 100h0M60 100h0M64 100h0M73 101h0M79 101h0M106 99h0M113 102h0M127 102h0M135 100h0M160 100h0M167 101h0M11 105h0M14 106h0M19 105h0M25 104h0M29 105h0M42 105h0M48 104h0M69 106h0M81 104h0M92 104h0M97 105h0M126 104h0M131 105h0M144 105h0M158 105h0M-1 109h0M4 108h0M21 109h0M31 108h0M58 108h0M81 108h0M85 108h0M118 109h0M134 109h0M153 108h0M158 109h0M2 113h0M17 112h0M20 112h0M25 114h0M41 112h0M49 114h0M56 113h0M65 112h0M89 112h0M94 113h0M117 114h0M133 115h0M6 118h0M16 116h0M22 118h0M60 118h0M70 119h0M74 118h0M88 117h0M102 117h0M116 116h0M121 116h0M152 117h0M-1 122h0M23 122h0M27 121h0M33 123h0M52 120h0M56 121h0M76 121h0M82 122h0M97 122h0M101 122h0M109 120h0M114 121h0M139 121h0M153 121h0M-3 125h0M3 125h0M6 125h0M17 125h0M22 126h0M26 126h0M41 127h0M56 127h0M70 126h0M76 126h0M79 125h0M102 126h0M108 126h0M122 125h0M133 125h0M146 125h0M19 129h0M22 131h0M28 130h0M35 131h0M38 129h0M52 129h0M58 129h0M63 129h0M96 129h0M120 130h0M139 130h0M145 131h0M158 129h0M-2 135h0M12 133h0M18 133h0M22 135h0M37 133h0M47 135h0M60 135h0M66 133h0M80 133h0M88 135h0M109 134h0M114 133h0M124 134h0M129 134h0M152 133h0M160 133h0" stroke="#5a32a0" stroke-width="2.0" stroke-linecap="round" stroke-opacity="0.75"/><path d="M3 0h0M12 1h0M31 -1h0M44 -1h0M63 1h0M85 -1h0M127 -1h0M147 -1h0M0 5h0M4 4h0M9 3h0M15 3h0M18 6h0M30 3h0M53 6h0M68 4h0M71 4h0M102 4h0M105 3h0M144 4h0M150 3h0M153 4h0M0 9h0M5 8h0M8 10h0M18 9h0M28 9h0M52 10h0M99 10h0M103 8h0M129 8h0M132 10h0M138 9h0M148 10h0M151 8h0M34 12h0M38 12h0M45 13h0M49 12h0M62 14h0M78 14h0M82 14h0M98 12h0M101 13h0M115 13h0M136 14h0M144 11h0M148 11h0M-1 16h0M17 16h0M32 17h0M37 17h0M40 17h0M47 18h0M50 18h0M79 16h0M84 16h0M96 19h0M104 16h0M110 17h0M118 16h0M128 16h0M148 17h0M152 17h0M158 16h0M0 20h0M10 21h0M43 20h0M58 20h0M67 22h0M76 22h0M83 20h0M90 22h0M100 20h0M106 20h0M134 21h0M138 21h0M157 21h0M162 22h0M-1 25h0M8 26h0M43 26h0M53 26h0M72 26h0M76 25h0M80 24h0M97 26h0M106 24h0M116 26h0M130 27h0M139 26h0M159 26h0M3 30h0M19 29h0M52 30h0M58 30h0M62 31h0M82 30h0M85 31h0M129 29h0M134 29h0M138 31h0M142 29h0M149 29h0M154 30h0M158 30h0M162 29h0M4 35h0M19 35h0M29 34h0M32 33h0M48 34h0M61 35h0M65 34h0M77 33h0M82 34h0M95 33h0M114 32h0M127 34h0M135 33h0M10 39h0M31 38h0M49 38h0M55 39h0M64 38h0M67 39h0M88 39h0M108 37h0M112 37h0M117 38h0M120 37h0M126 39h0M142 37h0M145 38h0M149 37h0M155 38h0M27 41h0M33 43h0M36 42h0M43 42h0M61 44h0M65 44h0M71 42h0M81 41h0M90 42h0M94 43h0M123 42h0M128 41h0M132 42h0M154 41h0M158 43h0M163 42h0M6 45h0M16 46h0M20 47h0M54 46h0M58 45h0M63 48h0M67 46h0M73 47h0M78 47h0M88 45h0M102 46h0M110 47h0M116 46h0M135 47h0M158 47h0M164 46h0M13 51h0M19 52h0M24 50h0M31 50h0M41 51h0M58 50h0M63 50h0M72 51h0M86 51h0M90 52h0M101 51h0M119 50h0M132 50h0M140 50h0M142 51h0M161 51h0M2 54h0M25 55h0M55 54h0M62 55h0M78 54h0M84 54h0M88 55h0M108 56h0M120 54h0M131 53h0M147 56h0M2 60h0M6 59h0M13 60h0M15 60h0M27 59h0M41 60h0M65 58h0M84 58h0M98 60h0M107 58h0M113 59h0M116 59h0M126 59h0M138 60h0M146 58h0M150 60h0M166 59h0M11 64h0M25 62h0M30 62h0M35 64h0M45 64h0M57 64h0M69 62h0M74 64h0M78 64h0M87 64h0M91 64h0M139 62h0M144 62h0M153 63h0M10 67h0M24 68h0M63 66h0M70 68h0M77 68h0M92 67h0M95 67h0M115 67h0M119 68h0M125 69h0M6 72h0M40 72h0M55 72h0M65 71h0M102 72h0M108 73h0M120 72h0M137 73h0M146 72h0M161 72h0M5 74h0M9 75h0M17 75h0M44 77h0M46 77h0M67 77h0M75 76h0M110 77h0M113 75h0M120 76h0M123 76h0M163 75h0M5 79h0M22 80h0M24 80h0M45 79h0M68 80h0M82 80h0M97 80h0M113 81h0M122 80h0M127 80h0M135 79h0M159 79h0M166 79h0M-3 85h0M3 85h0M23 82h0M57 85h0M80 83h0M91 83h0M94 84h0M119 83h0M122 83h0M129 85h0M133 85h0M136 85h0M143 84h0M147 84h0M151 83h0M0 88h0M14 88h0M32 88h0M52 89h0M57 89h0M82 88h0M110 87h0M119 89h0M126 89h0M128 88h0M140 87h0M157 89h0M13 93h0M17 93h0M25 93h0M28 91h0M34 93h0M39 94h0M66 91h0M87 94h0M103 93h0M119 92h0M124 92h0M154 93h0M157 94h0M-1 96h0M5 96h0M32 98h0M38 97h0M43 98h0M53 95h0M66 95h0M75 96h0M81 96h0M87 96h0M91 95h0M106 96h0M110 97h0M114 95h0M121 97h0M145 95h0M149 97h0M158 97h0M164 95h0M3 101h0M8 100h0M21 100h0M41 102h0M46 101h0M50 101h0M70 100h0M84 99h0M87 101h0M118 100h0M131 101h0M0 103h0M5 103h0M35 106h0M38 105h0M53 104h0M57 105h0M62 106h0M85 106h0M101 105h0M107 104h0M111 104h0M121 104h0M155 103h0M9 110h0M12 108h0M17 109h0M37 108h0M41 109h0M47 110h0M53 109h0M64 110h0M71 110h0M75 108h0M89 108h0M98 109h0M103 109h0M110 110h0M128 110h0M139 110h0M142 110h0M149 110h0M161 110h0M168 109h0M12 113h0M31 114h0M35 113h0M60 112h0M69 114h0M74 112h0M79 112h0M83 114h0M98 113h0M106 114h0M113 114h0M122 114h0M147 113h0M161 113h0M3 116h0M12 117h0M30 116h0M42 118h0M45 118h0M80 118h0M85 117h0M93 116h0M107 117h0M112 119h0M127 117h0M133 116h0M136 119h0M146 119h0M157 119h0M160 117h0M167 117h0M4 122h0M19 121h0M38 123h0M44 123h0M48 120h0M63 122h0M68 121h0M70 120h0M85 121h0M104 122h0M144 120h0M157 121h0M162 121h0M11 125h0M32 124h0M46 127h0M50 127h0M59 125h0M65 125h0M85 125h0M88 127h0M95 125h0M97 125h0M113 125h0M137 125h0M142 127h0M150 125h0M161 127h0M167 126h0M42 130h0M46 129h0M71 129h0M77 129h0M110 131h0M114 128h0M126 130h0M128 129h0M133 131h0M148 129h0M4 134h0M7 135h0M31 133h0M40 135h0M50 133h0M55 135h0M86 133h0M100 135h0M105 135h0M132 133h0M143 133h0M167 135h0" stroke="#5a32a0" stroke-width="2.5" stroke-linecap="round" stroke-opacity="0.75"/><path d="M7 1h0M16 2h0M22 1h0M80 1h0M87 -1h0M103 0h0M106 2h0M118 2h0M131 -1h0M151 0h0M24 4h0M81 4h0M116 4h0M138 4h0M159 5h0M12 9h0M55 8h0M65 8h0M70 10h0M84 8h0M90 7h0M141 10h0M4 13h0M53 14h0M58 14h0M72 13h0M126 12h0M162 13h0M7 17h0M142 16h0M53 21h0M109 20h0M147 21h0M38 25h0M67 27h0M0 30h0M35 30h0M100 31h0M110 29h0M120 30h0M-2 34h0M23 33h0M39 33h0M43 34h0M57 34h0M86 34h0M111 35h0M144 35h0M1 39h0M14 38h0M36 38h0M43 39h0M3 41h0M13 43h0M18 44h0M118 42h0M142 42h0M10 46h0M24 48h0M130 45h0M9 51h0M29 51h0M48 51h0M114 49h0M41 54h0M102 54h0M115 55h0M126 56h0M141 56h0M-3 59h0M89 59h0M160 58h0M1 64h0M39 64h0M52 64h0M64 64h0M112 63h0M148 62h0M160 64h0M67 66h0M99 68h0M144 66h0M152 66h0M158 67h0M17 70h0M45 72h0M74 73h0M98 72h0M117 71h0M126 72h0M32 75h0M71 75h0M95 76h0M100 76h0M141 81h0M147 78h0M17 85h0M26 85h0M32 84h0M10 89h0M23 87h0M29 89h0M44 87h0M48 89h0M62 88h0M90 89h0M104 88h0M80 92h0M11 96h0M24 97h0M96 95h0M129 96h0M153 97h0M27 101h0M30 101h0M36 101h0M95 102h0M98 100h0M104 101h0M141 100h0M145 101h0M155 101h0M133 104h0M138 106h0M148 104h0M61 110h0M96 108h0M114 108h0M123 109h0M7 115h0M103 113h0M137 114h0M155 114h0M166 113h0M-3 118h0M36 118h0M52 116h0M55 117h0M141 117h0M14 120h0M91 123h0M120 122h0M128 122h0M118 125h0M127 126h0M155 127h0M6 130h0M13 129h0M65 130h0M87 131h0M90 130h0M104 130h0M152 129h0M161 130h0M26 133h0M70 133h0M76 133h0M119 135h0M138 135h0" stroke="#5a32a0" stroke-width="3.0" stroke-linecap="round" stroke-opacity="0.75"/><path d="M80 61l-4 0M44 72l2 -2M159 18l0 1M42 76l0 4M87 117l0 -2M97 129l0 -2M160 123l1 -2M56 113l-3 0M0 19l2 3M42 46l3 1M153 113l3 -1M26 40l1 4M40 74l-3 1M107 130l-2 2M142 1l-1 -2M76 43l-4 1M99 3l-1 3M48 66l-3 1M13 40l0 -3M144 118l2 3M63 61l3 -2M50 111l2 3M97 11l-1 -4M41 114l1 3M118 61l-1 -3M113 119l0 3M69 11l1 -1M56 15l-4 0M77 109l-3 1M33 17l-2 -1M125 21l-2 2M64 13l-1 -2M155 110l1 1M21 43l-3 1M85 61l1 -4M18 59l-2 3M152 73l-2 2M115 120l-2 1M152 86l-1 0M106 2l2 1M139 118l3 -2M76 48l1 3M73 57l2 -2M162 110l-3 -1M159 43l2 1M119 91l1 -3M18 39l0 2M139 30l-2 -3M41 113l-1 -2M79 48l-1 1M124 121l-4 1M134 40l0 2M81 98l-1 -1M118 126l1 1M81 31l-2 -1M146 30l4 1M72 85l1 -4M145 56l-1 -2M88 98l0 -2M85 73l0 -3M5 58l2 -1M35 87l2 -1M49 39l0 -2M57 45l-2 0M128 115l3 -1M57 60l-1 1M21 63l1 2M97 71l2 0M54 86l3 1M41 88l-1 -2M134 10l1 -2M163 102l2 2M160 131l-1 2M14 40l1 3M17 100l-4 -1M98 52l-1 4M133 73l1 2M0 95l0 -2M119 3l-3 -2M13 123l-3 3M138 107l0 2M88 127l-1 2M68 22l1 -3M70 92l2 2M121 35l-3 3M81 109l0 -3M47 18l1 -2M92 31l2 0M91 132l-2 -1M134 59l-4 0M27 37l3 1M39 62l1 -3M3 122l0 -2M114 69l2 -1M129 94l2 2M13 69l2 0M28 66l1 -3M21 7l4 1M93 76l0 4M155 44l-2 2M32 14l-2 0M19 123l1 -2M119 86l1 -3M143 13l1 3M24 31l0 -3M36 69l3 0M147 115l3 1M27 19l3 -2M9 79l-1 -1M84 47l2 2M45 76l-2 0M151 90l1 2M15 97l-3 3M55 65l-1 1M57 124l0 4M21 56l-3 -1M7 52l0 3M140 14l0 -2M26 18l-1 -1M44 5l2 0M106 45l-1 -2M137 31l-1 3M113 86l-2 -1M42 24l2 1M59 109l-2 -1M41 15l0 -3M144 90l-3 0M25 0l-2 -2M94 37l1 2M19 80l-4 -1M73 58l-3 1M153 89l0 3M95 47l2 -1M141 90l2 1M91 90l-2 2M78 19l-2 3M10 55l-1 1M81 92l-4 -1M40 105l2 2M2 111l2 -1M5 24l-4 0M150 114l1 3M54 8l-1 -2M162 53l-1 2M21 60l4 0M131 22l-1 2M9 27l2 -1M67 20l0 -4M31 51l-1 -3M5 82l1 1M130 31l-1 2M95 30l2 0M123 21l3 -1M101 117l1 -1M27 8l2 3M113 17l-2 3M83 129l3 -3M77 32l2 2M63 21l2 -1M139 17l0 2M150 50l0 2M69 18l-1 2M46 12l-2 -1M105 120l3 3M52 38l-4 1M117 62l2 2M66 11l0 -3M110 120l-2 -1M105 65l1 1M116 3l-1 -2M162 102l1 2M88 79l2 -1M22 59l0 3M162 71l2 2M119 70l1 2M104 99l1 2M13 1l-2 -1M142 124l-2 2M0 28l-1 1M156 5l-2 -1M160 131l4 0M28 23l-2 1M139 73l-1 -2M153 47l2 2M95 34l-3 2M131 32l1 1M134 69l2 0M10 80l-3 -1M76 82l-1 2M144 121l1 3M120 6l1 -2M28 74l2 -2M154 26l1 -2M152 121l0 3M34 6l3 1M5 72l-2 0M91 37l1 -2M84 118l1 -2M115 25l2 -1M11 63l-3 0M65 3l0 -3M48 111l-1 2M20 4l-1 -1M17 101l0 -2M59 129l2 -2M108 121l-3 1M120 46l3 0M83 81l-1 4M24 112l1 2M144 93l-2 -1M64 29l-3 1M7 28l4 -1M42 93l1 -3M78 9l-2 -2M70 96l-1 2M149 96l1 -2M70 59l2 -1M39 119l0 2M35 47l-2 1M125 93l2 3M148 7l1 -3M58 120l2 0M141 2l-2 1M11 82l2 1M74 56l0 -2M107 116l2 -2M38 121l1 -3M65 23l1 -3M8 3l-1 2M130 22l0 -4M60 84l2 3M143 96l3 2M104 122l0 -4M6 48l-1 3M56 30l-4 -1M98 117l-1 1M93 93l1 -2M83 117l0 2M31 66l1 -4M32 44l1 3" stroke="#f2d8ee" stroke-width="0.7" stroke-opacity="0.8" fill="none"/><path d="M30 8h0M144 97h0M68 61h0M116 4h0M116 12h0M152 0h0M162 117h0M106 30h0M138 50h0M127 32h0M147 38h0M20 55h0M163 61h0M85 19h0M138 78h0M37 110h0M7 114h0M159 49h0M136 126h0M20 79h0M77 12h0M159 123h0M90 55h0M15 97h0M126 62h0M10 129h0M151 84h0M98 8h0M143 68h0M96 13h0M141 42h0M18 76h0M146 98h0M94 30h0M36 128h0M38 59h0M32 99h0M31 14h0M25 79h0M138 71h0M132 20h0M96 129h0M158 73h0M90 47h0M37 95h0M41 2h0M113 14h0M25 91h0M78 78h0M26 11h0M75 74h0M67 19h0M82 16h0M93 81h0M107 86h0M77 113h0M30 85h0M17 99h0M72 101h0M25 0h0M32 2h0M149 19h0M129 127h0M18 129h0M29 27h0M91 106h0M149 29h0M0 33h0M7 81h0M144 61h0M51 9h0M130 50h0M157 33h0M48 54h0M95 62h0M126 7h0M37 25h0M109 125h0M18 54h0M59 100h0M129 98h0M98 97h0M20 75h0M35 129h0M125 120h0M78 6h0M25 13h0M78 123h0M80 60h0" stroke="#f4e6f6" stroke-width="0.5" stroke-linecap="round" stroke-opacity="0.85"/><path d="M144 13h0M124 22h0M133 12h0M13 99h0M80 45h0M105 55h0M148 113h0M107 17h0M3 101h0M109 57h0M141 108h0M33 110h0M146 95h0M139 94h0M104 13h0M5 36h0M100 5h0M81 104h0M106 95h0M84 128h0M31 69h0M147 40h0M23 115h0M99 103h0M53 36h0M26 73h0M40 25h0M156 22h0M87 11h0M135 6h0M66 72h0M76 7h0M99 67h0M142 100h0M113 42h0M58 98h0M49 121h0M46 67h0M33 101h0M31 74h0M34 21h0M85 124h0M109 106h0M84 30h0M85 62h0M36 122h0M34 28h0M50 25h0M101 93h0M47 18h0M73 90h0M9 92h0M32 56h0M74 58h0M115 32h0M11 18h0M67 61h0M69 106h0M41 18h0M10 87h0M52 82h0M79 38h0M103 69h0M51 52h0M117 89h0M111 81h0M156 82h0M121 108h0M114 55h0M64 104h0M38 40h0M63 111h0M164 11h0M54 81h0M97 113h0M100 110h0M135 52h0M53 118h0M132 53h0M43 37h0M34 123h0M129 49h0M103 104h0M86 44h0M114 103h0M151 63h0M143 52h0M17 69h0M149 30h0M30 49h0M160 56h0M112 22h0M117 21h0M63 97h0M104 127h0M107 30h0M43 128h0M14 13h0M88 122h0M145 93h0M140 104h0M55 6h0M152 125h0M53 124h0M104 93h0M25 56h0M134 77h0M15 14h0M75 33h0M54 19h0M129 83h0M100 130h0M30 35h0M39 19h0M32 6h0M158 46h0M133 45h0M91 17h0M84 23h0M18 26h0M52 119h0M109 65h0M140 130h0M138 47h0M19 62h0M130 39h0M30 97h0M103 41h0M82 112h0M131 79h0M118 101h0M103 61h0M33 34h0M74 66h0M88 64h0M39 120h0M10 22h0M95 99h0M90 81h0M119 21h0M0 79h0M64 130h0M124 78h0M68 95h0M17 10h0M93 76h0M60 26h0M72 18h0M144 104h0M87 87h0M128 94h0M151 61h0M156 12h0M150 130h0M7 82h0M69 3h0M44 55h0M43 5h0M77 82h0M35 46h0M110 35h0M37 70h0M49 102h0M137 122h0M19 45h0M37 115h0M92 128h0M133 50h0M130 101h0M37 123h0M157 29h0M63 96h0M53 68h0M58 70h0M100 122h0M42 68h0M154 25h0M52 26h0M48 21h0M67 62h0M100 69h0M3 38h0M56 6h0M115 122h0M86 121h0M61 94h0M123 26h0M63 48h0M97 15h0M111 14h0M136 3h0M23 31h0M23 84h0M62 41h0M96 112h0M154 102h0M141 129h0M107 5h0M113 41h0M30 22h0M45 93h0M42 110h0M16 11h0M55 106h0M63 82h0M47 112h0M117 31h0M163 22h0M123 113h0M73 107h0M113 73h0M125 108h0M34 101h0M87 92h0M145 82h0M41 42h0M11 80h0M5 131h0M33 2h0M110 56h0M131 115h0M137 116h0M112 28h0M83 107h0M34 64h0M14 71h0M65 68h0M127 60h0M96 117h0M10 72h0M24 127h0M39 4h0M152 113h0M123 37h0M72 123h0M147 120h0M157 31h0M114 3h0M112 31h0M161 87h0M112 80h0M57 106h0M147 30h0M131 81h0M26 127h0M77 104h0M118 32h0M147 33h0M134 74h0M4 104h0M42 2h0M67 19h0M118 38h0M150 34h0M19 107h0M74 126h0M90 60h0M27 75h0M131 102h0M70 83h0M85 43h0M138 65h0M68 113h0M162 126h0M124 100h0M50 129h0M76 21h0M39 128h0M9 65h0M19 39h0M137 62h0M44 29h0M140 98h0M128 87h0M22 92h0M22 75h0M1 103h0M144 13h0M148 101h0M35 6h0M2 75h0M84 120h0M137 12h0M141 99h0M106 5h0M112 18h0M39 39h0M37 93h0M99 90h0M18 58h0M96 70h0M68 95h0M154 56h0M76 104h0M95 114h0M71 77h0M83 70h0M36 55h0M15 113h0M72 55h0M88 95h0M87 55h0M96 102h0M162 64h0M101 81h0M38 22h0M111 77h0M152 102h0M98 24h0M93 89h0M85 82h0M76 44h0M102 124h0M26 96h0M71 104h0M45 99h0M1 57h0M138 63h0M129 72h0M141 24h0M44 54h0M76 55h0M144 63h0M34 43h0M146 93h0M113 79h0M115 27h0" stroke="#f4e6f6" stroke-width="1.0" stroke-linecap="round" stroke-opacity="0.85"/><path d="M131 34h0M124 56h0M0 93h0M96 113h0M34 10h0M35 77h0M54 27h0M143 22h0M37 77h0M16 52h0M128 11h0M139 21h0M101 15h0M8 37h0M80 71h0M15 107h0M143 47h0M134 56h0M55 122h0M145 70h0M134 120h0M107 58h0M53 44h0M16 5h0M150 20h0M7 48h0M141 47h0M120 38h0M96 114h0M79 62h0M55 41h0M99 31h0M58 129h0M22 2h0M121 124h0M65 11h0M48 30h0M31 88h0M84 67h0M65 75h0M119 84h0M15 36h0M117 42h0M94 38h0M20 114h0M4 66h0M135 19h0M35 67h0M118 21h0M130 6h0M92 82h0M125 128h0M49 6h0M12 37h0M43 17h0M121 128h0M83 55h0M24 53h0M30 25h0M14 126h0M45 12h0M8 82h0M45 46h0M46 6h0M13 67h0M109 62h0M10 120h0M58 86h0M136 121h0M81 44h0M9 74h0M13 16h0M70 22h0M80 124h0M8 95h0M131 76h0M66 79h0M130 81h0M48 106h0M77 66h0M131 81h0M49 5h0M131 16h0M131 82h0M117 17h0M16 12h0M113 123h0M91 84h0M96 66h0M33 113h0M161 109h0M49 69h0M150 126h0M81 41h0M29 61h0M155 72h0M143 94h0M66 49h0M117 43h0M137 41h0M33 59h0M66 66h0M16 5h0M104 11h0" stroke="#f4e6f6" stroke-width="1.5" stroke-linecap="round" stroke-opacity="0.85"/><path d="M42 127h0M133 7h0M128 68h0M112 58h0M60 32h0M10 58h0M142 82h0M57 72h0M72 109h0M91 11h0M31 81h0M36 124h0M154 26h0M36 61h0M151 121h0M62 110h0M77 49h0M126 120h0M147 16h0M136 6h0M17 128h0M28 66h0M0 83h0M19 56h0" stroke="#e0407a" stroke-width="1.0" stroke-linecap="round" stroke-opacity="0.8"/><path d="M80 32h0M9 100h0M91 111h0M33 105h0M161 87h0M13 86h0M2 103h0M7 33h0M37 63h0M61 4h0M135 112h0M51 124h0M88 120h0M48 72h0M122 37h0M10 90h0" stroke="#e0407a" stroke-width="1.5" stroke-linecap="round" stroke-opacity="0.8"/></g><ellipse cx="67" cy="660.7" rx="5.2" ry="5.8" transform="rotate(0 67 660.7)" fill="#fbf6fb"/><path d="M64.8,665 l0.3,8.6 l1.4,0 l0.8,-8.6z" fill="#fbf6fb"/><ellipse cx="74" cy="657.3" rx="1.2" ry="1.1" transform="rotate(0 74 657.3)" fill="#fbf6fb"/><ellipse cx="87" cy="579.5" rx="4" ry="3.2" transform="rotate(0 87 579.5)" fill="#fbf6fb"/><ellipse cx="31" cy="596.5" rx="1.2" ry="1.2" transform="rotate(0 31 596.5)" fill="#fbf6fb"/><ellipse cx="180.5" cy="583" rx="2.6" ry="5" transform="rotate(10 180.5 583)" fill="#fbf6fb"/></g></g><g clip-path="url(#ct0)"><g filter="url(#sf)"><rect x="21.8" y="714.4" width="163.6" height="133.6" fill="#c4cdef"/><g transform="translate(21.8,714.4)"><path d="M146 102l1 4M23 58l1 -2M32 34l-2 3M92 118l2 1M152 7l-3 0M60 60l-2 2M2 131l2 -4M111 66l-4 -2M62 112l-3 2M53 37l2 2M62 84l2 4M162 119l-3 0M82 55l1 -4M142 65l3 1M130 108l1 -2M100 75l0 -2M29 66l-2 4M121 105l-3 3M109 41l-1 3M130 86l-2 -2M51 96l0 2M95 124l3 -1M29 5l-2 2M162 21l2 -4M137 130l-3 3M162 44l4 0M58 51l-3 1M108 60l2 2M17 49l-2 -1M119 126l2 3M4 18l-1 2M1 46l-3 3M112 53l-3 0M24 42l-3 3M160 106l-5 1M4 14l0 3M130 132l-4 2M55 108l-3 1M93 17l-4 -3M103 39l-1 2M8 96l0 -2M49 105l-1 -4M107 50l1 3M150 30l-2 2M96 89l4 -1M78 9l-4 -3M139 126l2 1M125 113l-1 -2M126 40l4 -2M67 103l1 2M0 18l4 3M74 56l2 1M47 68l0 -3M162 1l-1 2M109 78l2 4M90 4l-2 2M138 80l-1 -2M26 8l-4 -1M109 71l-2 1M146 83l-1 -3M100 131l-4 -2M83 1l3 1M125 98l3 3M18 106l-2 -2M27 33l1 -2M132 81l0 -3M109 14l-2 -1M4 132l-2 -2M4 76l2 2M148 100l-3 -3M115 0l-3 -3M76 5l3 -1M42 21l-2 2M75 50l1 4M137 9l3 -1M30 75l-1 -2M42 82l1 3M131 8l2 -5M40 87l-4 1M70 132l1 -3M147 80l-1 -3M132 40l3 1M128 105l1 3M98 6l1 3M161 101l-2 0M78 110l-1 -5M69 73l-3 2M74 96l4 0M9 4l-5 1M94 97l3 -1M99 80l3 1M81 116l3 1M91 62l-3 -1M35 81l-2 -1M80 90l4 -3M116 101l-4 0M116 105l2 -1M150 19l-2 -1M75 26l2 0M135 127l-3 0M32 104l-1 -5M36 121l-1 3M136 83l4 -2M128 21l-2 1M98 1l-2 -2M93 34l-4 1M41 4l4 -2M130 20l0 -5M5 108l-1 3M41 39l4 -3M113 68l2 1M29 81l-2 -2M18 90l-3 0M76 68l1 3M106 25l-3 4M145 95l-1 -2M72 79l1 -4M14 120l-2 1M98 90l3 -1M61 92l-3 -1M149 79l2 0M54 20l5 -1M65 130l0 -5M133 2l1 3M74 125l3 -1M95 45l2 -2M65 129l0 2M89 95l2 -2M51 45l4 -1M80 126l-1 4M125 54l2 -1M32 17l-2 -2M13 11l2 -4M150 79l-1 4M126 37l-1 2M93 104l-1 3M56 62l4 0M19 14l-3 0M20 28l-3 2M91 80l-4 0M16 7l2 0M18 41l3 0M130 36l3 4M145 78l-5 0M71 126l1 4M7 124l-4 2M26 67l-3 2M90 93l1 -4M49 25l-2 1M123 1l-2 -2M107 63l3 3M55 48l3 -2M59 113l-3 1M105 2l-3 2M30 111l-3 1M139 90l-5 -1M31 85l-3 0M114 132l-2 1M23 87l-1 -4M54 122l3 0M136 15l-4 3M152 80l2 1M91 3l-1 -4M102 118l1 2M109 14l0 3M57 128l-4 0M134 22l0 -2M155 123l0 3M140 22l2 0M18 57l0 -2M106 124l-1 2M43 114l-2 3M94 62l2 -1M135 36l-1 3M93 14l-1 3M86 30l2 -2M91 27l3 3M36 81l0 3M119 57l2 -4M128 60l-2 4M66 33l3 0M71 43l0 -4M10 18l3 0M129 92l-1 -3M27 120l2 -2M93 13l-2 1M18 14l-4 -2M69 128l4 2M143 47l2 -1M11 20l-2 -3M138 70l3 -1M37 58l-1 3M131 117l4 -3M115 9l1 3M140 43l-4 -3M45 103l-3 -1M62 118l-2 3M2 42l-2 -1M122 19l-2 5M134 54l5 -1M7 2l5 1M5 1l-4 -2M134 132l-3 0M51 111l2 1M28 98l1 -3M41 64l3 1M23 127l-4 2M27 50l-5 0M25 132l3 -4M46 78l2 -4M106 56l0 4M75 17l2 -1M74 96l4 0M23 117l-3 3M151 85l0 2M8 66l1 4M138 10l-2 -1M29 72l-2 2M53 40l-2 3M163 115l2 -2M136 113l4 -1M38 2l2 -1M108 31l1 -3M31 31l2 3M29 3l3 -1M121 44l2 4M71 96l1 3M22 45l3 -4M50 92l1 3M30 90l-1 3M39 99l0 3M54 92l-2 4M18 127l0 -5M81 121l4 -3M141 49l-2 -4M87 13l-2 -5M79 26l-2 2M98 56l-4 2M112 13l2 4M102 16l4 -2M94 64l-2 3M79 129l2 -3M35 46l-1 -4M35 59l-3 -1M17 35l-4 2M112 61l4 -2M68 15l3 3M60 70l-2 4M108 126l1 -4M158 110l4 -3M159 53l1 -3M15 14l5 0M150 27l3 -1M160 2l1 2M123 75l3 -1M101 78l1 2M151 60l-2 2M21 99l-5 1M156 1l0 5M33 57l-4 -1M25 74l3 0M159 101l-3 -1M159 93l-4 1M55 83l1 2M127 105l-4 0M66 60l2 -2M4 6l-4 1M147 58l-3 0M10 36l-3 0M114 94l-4 -1M20 107l-2 4M109 80l-4 -3M7 59l0 -3M143 77l-5 -1M39 79l-2 4M157 114l2 -3M125 29l-5 0M21 33l4 2M75 111l2 0M130 41l-1 -3M137 87l1 2M54 40l-1 3M32 63l0 2M66 54l4 1M150 60l-3 -3M83 59l-3 -1M142 5l-3 1M128 74l4 2M135 71l-2 3M158 119l-4 3M52 58l-3 -1M113 72l2 -4M46 22l-2 -1M41 49l-3 1M162 72l-4 1M83 130l1 3M133 56l2 3M8 3l-1 -3M125 22l3 3M43 112l1 5M26 112l-4 0M157 109l-4 -2M115 32l-2 -4M110 46l1 4M37 42l-1 2M84 53l3 -2M134 98l3 0M140 34l-1 2M156 122l1 5M17 9l3 -3M97 85l4 -2M120 34l2 1M91 32l3 0M110 70l4 -3M84 2l-2 2M84 118l-3 0M60 13l-4 0M111 8l-2 -2M13 111l0 2M152 58l-3 2M54 35l1 -4M156 69l4 0M159 76l-3 -2M36 127l0 -4M22 29l1 2M85 23l-2 -3M115 40l-3 2M95 125l3 2M42 60l3 -4M85 8l-2 -4M123 111l-2 -2M46 32l-1 3M19 73l-3 -3M46 89l3 2M83 55l-1 2M138 116l-3 0M87 130l-2 -1M137 55l4 1M70 23l2 1M56 92l1 -2M36 36l0 -4M73 82l0 2M111 58l4 1M45 86l-3 3M73 123l-2 -2M3 79l3 2M30 126l0 3M147 28l-2 0M42 121l-1 3M139 38l-3 0M55 32l0 3M69 97l-1 3M49 37l2 -1M139 38l2 -1M113 69l-5 -1M156 123l1 3M147 59l-1 -3M96 91l2 -3M6 29l2 -4M95 62l-2 3M81 56l2 2M110 49l0 -3M138 83l3 4M62 126l-4 3M146 71l2 -4M111 49l4 -2M113 100l0 2M157 43l1 5M107 11l-2 1M154 13l-1 4M96 26l-2 2M101 1l-4 1M115 82l-2 -2M55 104l-1 4M98 125l3 2M31 85l2 3M55 25l-1 -3M96 87l3 3M91 56l2 0M65 79l-1 -3M71 95l0 -5M137 42l-3 -2M76 127l3 -1M131 1l1 4M153 107l4 -1M4 8l2 -4M57 52l-2 -3M111 28l1 -4M19 115l4 -2M140 45l3 -1M37 131l-1 2M157 33l-2 2M100 21l-3 1M13 28l-3 -3M135 3l1 3M142 50l-3 1M31 46l2 2M80 128l-5 -2M103 115l1 -4M158 112l-2 1M143 38l4 -2M149 96l-3 2M149 131l1 -4M77 126l1 -2M161 6l-2 1M86 18l2 -5M39 105l3 3M12 104l-2 -5M88 38l1 3M82 51l-5 2M162 11l0 3M76 35l-2 2M140 107l-4 -1M71 27l1 -2M13 81l-2 -1M31 90l2 -3M49 65l1 3M105 49l1 2M143 34l4 0M85 71l-1 4M107 77l2 2M109 17l-1 3M150 8l-5 -2M85 113l-3 -2M62 38l3 -1M69 67l1 -4M64 107l1 -4M162 47l3 2M107 129l-1 -4M32 66l1 3M39 99l5 -2M47 102l-2 -4M35 97l1 4M78 97l-3 4M43 86l-1 3M140 47l1 -2M31 12l1 3M0 42l-2 4M73 95l0 -3M95 76l3 1M156 75l-2 0M26 85l-1 4M28 121l1 -2M36 44l3 -1M103 119l2 -1M146 93l0 4M152 17l2 4M152 25l1 -4M133 132l-3 2M159 11l-4 -2M45 34l0 -4M19 103l2 -4M104 0l-2 -3M38 6l1 3M140 51l-3 -3M86 5l-1 4M125 25l1 -5M97 59l0 -3M8 60l-1 3M1 118l-2 -1M93 112l1 2M8 39l1 -2M89 5l3 -2M78 32l-2 -1M49 25l-2 -3M130 40l1 -4M7 111l-5 -2M49 54l4 -1M90 130l2 0M61 23l-3 3M147 22l3 -4M19 80l4 0M148 40l2 -1M20 17l2 3M111 89l0 -3M160 45l-2 3M28 100l0 -2M48 84l3 1M26 74l4 -1M1 23l-1 -3M144 89l0 2M121 15l2 -1M10 123l1 2M137 130l-3 1M36 46l3 1M146 73l2 2M158 36l0 4M3 86l-2 2M44 101l2 -2M8 94l3 2M160 36l-2 -4M155 104l2 3M25 57l2 3M130 46l-4 -2M146 77l-1 -3M67 104l2 -2M57 69l2 0M43 32l-1 -3M78 24l-2 -3M89 48l2 2M32 94l-3 -1M79 102l0 -5M134 75l0 -2M35 115l-1 5M103 85l4 -2M142 115l2 2M77 114l-2 -1M42 44l3 1M44 13l-5 1M76 45l1 3M63 87l4 2M77 98l-4 2M130 60l-1 2M83 64l-1 -4M44 1l1 3M1 58l-4 -1M34 124l-2 3M117 77l4 2M105 50l0 5M62 17l-3 -2M31 33l2 2M159 1l-2 2M156 36l3 1M123 65l-2 -2M145 68l3 0M98 1l3 1M148 95l-5 -1M119 82l-3 -1M63 43l-2 -3M112 96l-2 2M57 73l-3 0M65 67l2 0M54 116l1 3M90 112l3 -2M80 122l2 3M100 48l-2 -1M160 18l0 -2M137 18l-3 -1M89 44l4 -2M9 0l-2 -2M155 76l-2 1M116 40l4 -1M136 23l-2 -1M117 47l0 -2M26 120l-3 -2M3 31l-1 3M106 18l0 -2M147 56l-1 -4M57 98l3 -3M128 44l0 -3M119 8l-2 -2M88 100l1 3M122 52l-2 -2M114 85l-3 0M59 102l1 -3M56 45l-1 -5M21 105l1 4M108 62l2 -2M86 23l-3 2M107 91l2 1M56 31l0 4M119 89l0 -3M86 12l1 -3M27 9l2 2M153 129l3 -1M34 20l1 4M81 36l2 -3M142 117l-3 -1M156 57l-2 2M81 79l-2 -3M13 106l-2 0M115 101l-3 0M63 125l-3 0M157 44l1 4M89 33l4 -1M11 84l2 1M78 116l2 1M121 16l-4 2M34 69l3 1M33 39l-2 2M129 82l3 2M29 19l2 -3M19 130l0 2M88 25l-3 1M143 39l-4 0M117 98l-3 1M108 94l0 4M6 12l-1 2M18 64l-2 -2M5 43l4 3M112 17l-3 1M44 97l2 -4M125 65l1 -4M154 35l2 -3M87 82l2 0M133 37l0 -2M153 13l-4 -1M148 125l3 -2M124 28l-3 -3M51 68l4 -2M82 126l1 -4M136 127l1 -3M155 40l2 3M38 67l-1 2M46 92l-3 -3M61 62l2 4M129 107l-4 0M26 24l-1 -2M137 26l-2 2M97 3l-4 3M60 34l0 3M78 14l2 0M85 57l-1 -4M73 48l5 0M101 99l4 0M2 111l1 5M16 68l-2 4M111 110l3 2M162 114l-1 4M5 56l4 1M95 74l3 -2M46 98l0 5M6 31l-3 -2M73 95l3 2M14 71l4 3M69 44l-3 -4M100 56l1 -4M123 45l-3 -3M1 113l-1 -5M44 89l4 -3M2 50l4 2M82 93l1 4M73 9l-3 2M110 114l2 1M87 34l1 -5M47 127l4 1M115 121l-3 -1M82 91l-1 -3M52 21l-2 3M163 128l-3 -3M108 68l-2 4M158 100l2 4M141 38l-2 -1M64 43l4 2M105 67l0 -4M72 111l-3 3M107 29l-2 3M96 58l-3 0M83 116l3 3M72 133l-1 3M152 59l-2 3M144 125l-1 2M28 58l-3 4M66 127l1 4M92 33l-4 2M130 69l-2 2M108 102l4 2M45 103l-3 0M63 121l3 3M148 6l-1 1M101 92l1 -4M59 80l-4 1M6 83l-1 -3M25 32l3 0M29 86l2 -3M78 67l0 4M142 105l-1 -3M110 115l0 3M129 88l2 2M59 1l3 -1M108 32l-2 4M111 91l-4 -2M3 115l2 -4M12 92l2 -1M106 14l2 1M159 127l3 0M72 33l0 2M64 81l-2 -1M94 94l-4 3M153 28l-2 0M122 49l-2 -2M37 46l2 -4M10 100l2 4M24 25l-2 -2M44 45l-4 -1M42 28l2 -5M117 127l-2 2M25 29l0 -4M10 118l4 -1M105 1l2 2M18 62l3 1M17 89l-3 3M43 104l1 2M103 38l0 -4M14 123l3 -1M110 32l-2 4M70 38l1 -5M42 45l3 4M55 129l2 -4M63 92l3 1M158 67l3 1M47 88l2 -4M15 128l0 -2M101 30l-2 -1M134 117l-2 2M132 81l2 -3M10 43l-2 2M11 60l1 -2M140 58l-3 2M148 15l3 0M16 28l3 3M146 5l2 -3M54 7l-2 -2M56 22l-2 -1M128 5l2 -4M2 97l-2 3M86 4l2 -1M163 13l-2 0M154 101l3 3M76 113l0 -5M45 37l-1 3M25 45l1 3M127 133l-2 0M139 75l-1 3M67 6l-2 0M74 66l2 0M137 100l-4 1M73 82l4 -2M61 84l0 -5M10 55l1 -2M160 91l5 0M83 50l3 -1M44 19l-3 -3M150 87l-2 -4M138 89l-3 -1M72 21l0 5M149 101l3 3M5 11l4 -2M15 112l3 -1M91 44l-3 -2M147 63l3 -3M98 79l4 0M159 9l0 -3M121 91l3 3M88 98l-1 -2M142 17l-2 -4M124 126l-2 5M59 52l-1 -3M30 30l3 -3M153 47l-2 2M27 55l2 0M159 31l-5 0M127 102l-1 2M49 127l3 -3M135 10l-1 2M157 114l2 1M153 51l1 4M52 66l-4 -2M24 20l0 -3M104 110l-1 -3M68 131l2 2M42 14l-2 2M18 131l-1 2M145 62l-2 -4M51 90l-1 5M157 110l3 -1M136 21l2 -3M57 65l4 0M106 127l-3 1M8 7l4 -2M115 13l-1 -2M135 32l-4 -1M20 11l-1 2M113 61l-5 0M99 121l1 4M33 83l-4 -1M77 20l2 -4M125 5l2 5M101 13l4 -3M111 64l-1 2M59 133l-2 -2M73 73l2 4M56 124l-3 1M83 74l4 2M155 75l2 1M134 2l-4 1M73 36l-4 -1M45 120l2 1M94 61l1 -2M108 53l0 4M138 88l3 4M107 109l-1 3M0 93l-3 -2M69 82l1 -2M159 49l-3 -1M129 69l-1 2M94 122l2 -1M109 124l2 -1M119 116l3 1M68 6l1 -4M100 87l-2 2M2 68l2 2M135 52l2 3M75 112l2 2M83 49l1 3M140 120l4 2M22 121l0 3M90 84l2 0M134 66l-3 2M135 22l3 3M41 115l1 -3M149 126l-1 2M52 83l0 3M122 20l-1 3M14 48l4 1M44 114l2 4M55 30l4 0M41 73l-2 0M102 8l-3 3M71 98l-2 -2M92 114l0 -4M127 98l2 2M16 110l-3 2M116 86l3 0M30 20l-2 3M139 61l-2 -3M130 61l5 2M46 24l1 2M82 90l-1 -2M56 36l-3 4M55 112l0 -4M65 92l3 -4M58 68l-1 -3M1 74l-4 -3M135 55l4 -2M28 25l2 -1M80 47l-5 2M23 83l3 -2M46 101l2 -1M138 129l1 4M147 12l4 -2M33 46l-3 -3M154 43l0 -3M64 131l3 0M71 93l4 2M106 10l-2 -1M26 10l-2 3M111 125l-1 -4M138 0l1 4M16 70l3 1M113 127l3 2M119 38l-4 0M154 4l2 -2M64 90l-2 -3M44 39l0 5M58 122l2 3M20 19l2 2M161 55l1 2M84 27l-1 -4M95 23l-2 2M131 45l1 4M99 101l2 -3M111 12l-2 1M40 56l0 -3M156 52l1 -2M50 45l3 -2M67 52l-4 -3M151 13l-2 1M66 128l-2 1M19 16l3 -1M156 131l-1 -4M102 24l3 0M21 42l4 -2M43 41l-1 2M112 54l-2 2M33 37l3 -2M109 58l-4 0M132 3l2 -2M70 109l1 -4M34 81l3 2M110 68l-2 -1M94 17l3 3M62 32l0 -4M136 66l-2 1M95 83l-1 3M153 21l0 2M8 101l0 3M151 24l-2 3M101 84l1 -2M15 2l-1 3M28 119l-3 2M104 24l-3 -1M106 102l-2 2M38 107l0 -2M65 128l0 4M120 97l3 3M15 111l-4 -2M45 99l-2 3M8 134l2 4M51 19l0 -2M61 109l-1 4M11 84l-3 -2M119 110l-2 -2M151 110l3 -3M121 23l3 -1M2 8l1 2M27 42l2 2M21 8l-3 2M91 23l1 -2M81 73l0 -3M130 87l-4 0M147 92l1 2M153 124l-4 3M158 37l-1 -3M4 12l0 -4M66 12l2 2M111 81l0 3M123 66l-1 3M116 88l2 4M55 109l-1 -3M37 117l-1 -2M99 17l3 -3M113 104l3 -2M67 89l-2 3M120 127l3 -4M138 23l3 -1M125 33l-3 1M115 50l1 -2M29 70l-3 1M42 49l4 -1M59 130l3 -1M59 36l3 -1M2 105l3 -1M133 121l3 3M138 93l-2 5M47 56l2 0M49 3l2 2M142 133l-2 -2M123 85l-2 -4M67 120l-3 -1M51 125l2 4M112 0l1 -2M26 83l2 -3M140 110l-1 4M126 70l-2 -3M15 61l0 -2M44 60l2 4M57 33l1 -4M15 104l2 0M90 100l1 5M139 108l0 3M114 87l-2 -4M139 22l4 0M123 13l-1 4M138 84l2 -1M70 16l3 -2M126 33l-1 -5M162 89l-5 1M60 24l-1 4M2 80l-3 -4M37 13l-1 2M35 1l-1 2M73 97l-2 -3M25 54l-1 -4M18 83l4 -2M48 125l3 -3M123 119l0 3M62 52l2 2M131 129l-1 -3M30 103l1 5M130 122l-2 0M28 41l-4 0M145 31l-2 -3M84 132l-3 2M65 113l-2 3M5 66l-1 4M125 94l3 -3M94 39l2 0M103 108l2 3M49 118l-1 -2M54 100l1 -3M107 103l0 -3M31 101l-3 3M139 89l-2 -2M135 93l3 3M145 51l4 1M7 93l-1 2M20 83l-1 5M32 26l2 4M111 122l-1 -3M13 64l0 -4M2 8l-1 -2M9 11l3 1M26 127l4 2M85 33l4 3M5 5l-4 -1M80 21l-1 3M138 17l-4 0M126 29l3 3M145 45l-2 4M142 77l1 -4M76 131l2 -2M11 106l-2 0M94 76l1 3M139 19l-4 -3M15 82l-3 0M102 54l1 3M56 59l1 -3M155 102l2 -2M159 49l-1 3M146 31l2 4M115 121l-3 -2M150 115l-3 1M92 80l3 -1M56 24l0 -4M138 109l-2 -4M84 25l4 -1M162 114l-4 2M142 109l-1 -3M151 72l-3 -1M17 83l1 -3M23 68l-2 -1M25 52l2 3M12 79l1 -4M123 56l0 3M126 44l3 3M34 45l-4 -1M20 123l2 -4M133 84l0 3M32 21l0 -4M93 44l-3 2M131 29l3 4M12 85l4 1M67 45l-2 1M84 117l5 0M101 28l0 5M35 87l-2 2M55 115l-1 -2M39 121l-3 2M73 46l-3 3M157 109l-4 -3M68 81l-1 -2M58 24l3 2M27 14l-2 -3M93 11l1 -3M29 2l2 2M14 15l-4 -2M22 1l-3 4M155 70l3 -4M5 63l-1 -3M133 43l0 -2M137 124l3 0M22 74l-5 0M86 48l0 3M143 76l5 1M142 25l-1 4M64 81l3 2M6 6l-4 -2M33 16l3 3M1 20l4 1M33 114l-1 -3M0 33l3 -3M60 45l1 -2M160 45l0 2M16 108l-3 -3M122 98l-2 0M151 24l-3 -1M43 125l5 -1M10 40l2 1M79 47l-2 -1M57 59l0 -4M8 32l-2 -2M42 85l3 -3M110 108l2 -1M64 30l0 5M8 48l5 0M109 129l5 0M5 65l-2 -1M123 119l-4 -2M35 32l2 4M117 112l2 1M5 93l2 -2M47 102l-1 -5M119 0l-3 -3M118 114l-1 -2M104 60l-3 0M133 28l-3 4M87 46l-4 2M31 2l4 1M7 99l5 1M60 109l1 -3M33 15l0 3M110 52l-4 -1M111 4l2 2M94 25l2 -2M58 68l-2 -3M20 32l4 -2M121 26l-1 3M128 131l1 3M8 97l-2 1M76 129l1 -4M94 98l4 3M146 82l-4 -1M20 110l-3 0M108 35l1 -2M42 35l0 -5M34 25l-3 2M5 80l-2 3M22 65l5 -2M147 61l-2 4M151 87l-1 2M42 52l1 -2M102 100l-2 -4M77 110l4 1M150 130l4 1M89 98l-2 -3M79 114l2 3M155 89l4 -1M9 113l1 5M75 111l1 2M18 116l-1 3M8 125l-2 -4M125 87l1 -2M88 76l2 4M96 16l-3 -2M44 121l-2 -5M41 105l1 3M151 1l-2 -2M57 123l-4 2M17 115l-3 0M92 45l0 3M153 38l1 4M25 42l2 2M73 98l-2 -3M31 86l2 0M112 19l0 3M38 117l-4 -1M69 128l2 -2M71 71l3 2M60 6l-1 3M38 38l0 5M149 24l1 -4M74 114l1 3M58 53l-3 1M65 88l4 -1M25 20l-4 -1M84 69l-1 -2M137 56l3 2M109 117l-2 3M124 15l0 -5M97 115l2 -1M118 37l2 -3M83 7l0 -4M67 46l2 -2M126 78l2 0M56 96l3 1M30 37l-2 -1M16 66l-3 0M113 81l-3 -3M91 88l3 -3M86 49l2 1M62 125l-1 3M98 38l3 0M29 55l-2 4M154 14l-2 2M16 48l1 -3M53 51l1 -4M14 60l-4 1M100 131l-3 -1M71 4l0 3M68 1l1 2M30 123l2 -1M52 62l0 -3M86 120l1 -2M152 6l-3 -2M74 60l4 -2M83 80l4 0M111 10l0 -3M47 19l-2 -1M19 107l-3 -4M31 44l3 0M31 56l2 3M67 116l2 -2M72 106l-1 2M63 49l3 -1M162 26l2 2M153 116l4 -2M106 37l1 3M146 85l0 3M2 35l3 -1M111 83l3 0M111 68l2 3M30 77l-2 -1M65 34l-3 3M13 14l4 -1M0 91l0 3M80 29l4 3M83 49l3 0M65 85l-3 1M129 134l-2 3M23 71l2 -1M160 55l1 2M113 81l0 3M48 110l-1 -4M110 123l4 1M140 55l3 0M121 57l0 -2M144 98l-1 3M157 10l4 2M112 118l-3 0M128 90l2 0M99 73l1 3M155 124l-2 -2M141 78l-2 1M132 16l3 2M143 49l-2 3M126 94l-4 -2M138 68l-1 -3M95 2l-3 -4M160 40l-1 -5M1 123l0 3M70 47l-1 -2M145 20l4 -2M95 115l0 2M112 18l-1 -2M77 127l-1 4M52 64l-4 3M140 55l0 2M91 77l2 3M151 7l-3 3M127 1l2 4M49 24l0 3M147 4l-3 3M141 102l-4 0M121 2l-1 -3M109 83l-1 -3M74 67l3 1M114 42l-1 2M107 64l-1 2M88 73l-2 -4M118 68l-2 -3M9 30l1 -4M146 80l3 -2M63 129l1 4M146 60l-4 -3M16 83l3 -2M99 13l-2 2M119 3l0 3M27 16l4 -2M66 31l5 0M16 118l4 1M133 106l2 3M144 100l2 3M124 39l2 0M67 75l-4 0M85 22l-2 3M115 58l2 -3M23 112l-4 -1M55 133l2 2M95 120l-2 3M156 129l-3 0M89 59l-4 -1M14 56l1 2M66 119l-4 3M135 0l3 -2M104 10l1 4M76 8l0 2M155 2l3 1M29 105l-5 1M4 51l-2 0M42 28l0 3M54 51l1 2M98 62l-3 1M24 117l-2 4M143 78l-2 1M96 79l-1 -2M150 106l3 -3M76 126l-3 0M5 115l1 -4M8 19l0 -4M32 112l4 2M71 49l-2 -4M57 20l-2 -2M17 42l1 2M162 106l3 -1M69 33l0 4M111 16l1 3M123 56l-2 2M41 97l1 -5M133 7l1 3M73 15l1 2M129 55l0 4M151 129l3 -4M95 47l0 3M22 80l1 3M39 79l3 0M50 18l-3 -3M123 75l1 -5M52 74l-3 3M93 113l-3 1M90 115l-4 2M155 81l-3 0M153 102l4 2M163 43l2 -2M150 112l3 -1M87 4l-2 -2M148 48l4 0M51 114l-1 -4M1 68l-4 1M67 33l3 -3M36 7l-3 -3M112 133l3 2M113 3l-2 -4M15 64l1 -4M146 44l-4 0M94 65l2 1M20 102l-2 0M23 62l-4 1M140 7l-1 3M137 45l1 3M13 11l-2 2M11 56l1 4M82 126l-2 3M163 67l2 0M101 126l1 -2M143 123l2 2M130 69l-2 -4M8 18l3 0M9 49l2 -2M148 46l3 -1M13 48l-2 2M58 59l-2 0M19 50l3 2M45 107l0 -2M40 118l4 0M125 13l2 -2M68 24l-1 -4M108 41l-3 2M159 97l1 3M159 104l-3 1M162 31l-2 -4M71 73l4 2M59 2l2 2M30 68l2 -1M23 37l3 2M27 103l2 -4M11 8l-2 2M3 89l2 3M26 118l-3 0M106 100l3 -1M130 97l0 -4M83 46l-1 2M123 85l0 -2M82 16l-4 -1M57 23l-3 -3M54 15l-3 3M27 64l-2 1M10 105l-3 -1M91 63l-1 -5M113 106l3 0M6 113l4 0M106 75l-1 -2M2 46l2 -4M57 24l4 -3M53 91l3 2M21 25l2 4" stroke="#e2e7f8" stroke-width="1.1" stroke-opacity="0.6" fill="none"/><path d="M-4 2h0M7 3h0M17 6h0M29 6h0M39 3h0M45 2h0M55 6h0M66 7h0M74 2h0M83 3h0M95 3h0M101 5h0M115 3h0M132 4h0M142 5h0M153 2h0M159 3h0M2 12h0M12 14h0M32 12h0M43 11h0M53 11h0M62 13h0M83 10h0M89 10h0M102 13h0M110 14h0M131 13h0M140 12h0M145 14h0M157 11h0M169 12h0M-6 24h0M8 21h0M17 22h0M22 24h0M35 22h0M43 22h0M66 20h0M73 23h0M83 21h0M100 23h0M111 24h0M119 24h0M130 23h0M143 21h0M150 21h0M158 19h0M3 31h0M13 32h0M21 32h0M30 29h0M40 30h0M48 32h0M61 29h0M67 27h0M76 28h0M88 29h0M108 29h0M117 27h0M127 28h0M135 31h0M146 28h0M156 31h0M167 27h0M-4 36h0M6 36h0M16 35h0M27 39h0M44 36h0M73 38h0M86 36h0M94 35h0M101 38h0M111 36h0M125 40h0M134 39h0M143 40h0M152 39h0M158 37h0M4 45h0M12 47h0M25 48h0M34 48h0M52 48h0M72 46h0M79 47h0M97 47h0M112 45h0M116 46h0M128 43h0M139 47h0M148 47h0M157 48h0M170 48h0M6 57h0M17 54h0M25 54h0M39 55h0M47 55h0M57 54h0M68 53h0M74 54h0M96 57h0M104 53h0M114 56h0M123 54h0M142 53h0M154 54h0M164 52h0M6 62h0M12 61h0M24 64h0M46 64h0M53 61h0M60 62h0M74 65h0M84 63h0M91 61h0M100 64h0M110 64h0M121 61h0M132 62h0M137 66h0M151 60h0M161 65h0M1 69h0M11 73h0M20 73h0M27 72h0M35 72h0M48 71h0M65 69h0M73 70h0M83 74h0M93 69h0M107 69h0M114 69h0M126 73h0M131 71h0M144 72h0M151 73h0M164 71h0M3 81h0M16 78h0M22 82h0M32 81h0M44 80h0M54 81h0M61 79h0M72 78h0M81 81h0M89 82h0M101 78h0M108 80h0M122 78h0M128 78h0M147 82h0M159 81h0M0 87h0M9 87h0M15 85h0M24 88h0M36 90h0M43 87h0M53 88h0M63 89h0M74 89h0M85 90h0M92 88h0M113 89h0M122 88h0M131 87h0M143 88h0M154 87h0M160 88h0M5 98h0M22 96h0M34 98h0M42 96h0M53 97h0M61 98h0M72 94h0M78 97h0M91 95h0M97 97h0M111 96h0M120 96h0M128 98h0M135 94h0M147 98h0M156 94h0M-2 102h0M16 106h0M25 107h0M36 104h0M42 107h0M57 104h0M65 105h0M73 105h0M92 103h0M100 104h0M111 102h0M119 106h0M130 104h0M140 102h0M151 104h0M157 104h0M1 111h0M13 115h0M24 114h0M29 115h0M41 114h0M60 115h0M78 113h0M99 112h0M106 116h0M127 111h0M136 115h0M157 111h0M164 112h0M-4 123h0M6 123h0M15 123h0M36 122h0M47 123h0M54 118h0M67 119h0M74 121h0M85 119h0M96 120h0M103 121h0M110 119h0M120 121h0M133 121h0M141 124h0M152 120h0M159 123h0M22 127h0M30 132h0M39 127h0M48 129h0M57 132h0M68 130h0M85 128h0M98 129h0M105 132h0M118 131h0M125 127h0M136 128h0M144 130h0M153 130h0M164 129h0" stroke="#7d93dd" stroke-width="5.4" stroke-linecap="round" stroke-opacity="0.9"/><path d="M-4 2h0M7 3h0M17 6h0M29 6h0M39 3h0M45 2h0M55 6h0M66 7h0M74 2h0M83 3h0M95 3h0M101 5h0M115 3h0M132 4h0M142 5h0M153 2h0M159 3h0M2 12h0M12 14h0M32 12h0M43 11h0M53 11h0M62 13h0M83 10h0M89 10h0M102 13h0M110 14h0M131 13h0M140 12h0M145 14h0M157 11h0M169 12h0M-6 24h0M8 21h0M17 22h0M22 24h0M35 22h0M43 22h0M66 20h0M73 23h0M83 21h0M100 23h0M111 24h0M119 24h0M130 23h0M143 21h0M150 21h0M158 19h0M3 31h0M13 32h0M21 32h0M30 29h0M40 30h0M48 32h0M61 29h0M67 27h0M76 28h0M88 29h0M108 29h0M117 27h0M127 28h0M135 31h0M146 28h0M156 31h0M167 27h0M-4 36h0M6 36h0M16 35h0M27 39h0M44 36h0M73 38h0M86 36h0M94 35h0M101 38h0M111 36h0M125 40h0M134 39h0M143 40h0M152 39h0M158 37h0M4 45h0M12 47h0M25 48h0M34 48h0M52 48h0M72 46h0M79 47h0M97 47h0M112 45h0M116 46h0M128 43h0M139 47h0M148 47h0M157 48h0M170 48h0M6 57h0M17 54h0M25 54h0M39 55h0M47 55h0M57 54h0M68 53h0M74 54h0M96 57h0M104 53h0M114 56h0M123 54h0M142 53h0M154 54h0M164 52h0M6 62h0M12 61h0M24 64h0M46 64h0M53 61h0M60 62h0M74 65h0M84 63h0M91 61h0M100 64h0M110 64h0M121 61h0M132 62h0M137 66h0M151 60h0M161 65h0M1 69h0M11 73h0M20 73h0M27 72h0M35 72h0M48 71h0M65 69h0M73 70h0M83 74h0M93 69h0M107 69h0M114 69h0M126 73h0M131 71h0M144 72h0M151 73h0M164 71h0M3 81h0M16 78h0M22 82h0M32 81h0M44 80h0M54 81h0M61 79h0M72 78h0M81 81h0M89 82h0M101 78h0M108 80h0M122 78h0M128 78h0M147 82h0M159 81h0M0 87h0M9 87h0M15 85h0M24 88h0M36 90h0M43 87h0M53 88h0M63 89h0M74 89h0M85 90h0M92 88h0M113 89h0M122 88h0M131 87h0M143 88h0M154 87h0M160 88h0M5 98h0M22 96h0M34 98h0M42 96h0M53 97h0M61 98h0M72 94h0M78 97h0M91 95h0M97 97h0M111 96h0M120 96h0M128 98h0M135 94h0M147 98h0M156 94h0M-2 102h0M16 106h0M25 107h0M36 104h0M42 107h0M57 104h0M65 105h0M73 105h0M92 103h0M100 104h0M111 102h0M119 106h0M130 104h0M140 102h0M151 104h0M157 104h0M1 111h0M13 115h0M24 114h0M29 115h0M41 114h0M60 115h0M78 113h0M99 112h0M106 116h0M127 111h0M136 115h0M157 111h0M164 112h0M-4 123h0M6 123h0M15 123h0M36 122h0M47 123h0M54 118h0M67 119h0M74 121h0M85 119h0M96 120h0M103 121h0M110 119h0M120 121h0M133 121h0M141 124h0M152 120h0M159 123h0M22 127h0M30 132h0M39 127h0M48 129h0M57 132h0M68 130h0M85 128h0M98 129h0M105 132h0M118 131h0M125 127h0M136 128h0M144 130h0M153 130h0M164 129h0" stroke="#a6b4e8" stroke-width="2.0" stroke-linecap="round" stroke-opacity="0.7"/><path d="M17 5h0M28 5h0M65 8h0M75 3h0M84 2h0M96 2h0M141 7h0M161 3h0M0 11h0M33 13h0M42 11h0M61 11h0M82 10h0M101 14h0M131 13h0M158 10h0M169 12h0M-7 24h0M8 21h0M24 22h0M112 24h0M120 23h0M158 19h0M3 29h0M12 33h0M77 29h0M116 28h0M128 27h0M136 31h0M157 30h0M169 25h0M-5 37h0M16 37h0M25 37h0M73 39h0M94 35h0M112 37h0M125 40h0M135 40h0M143 40h0M152 37h0M113 44h0M170 48h0M15 53h0M58 53h0M74 54h0M97 57h0M104 53h0M114 57h0M122 53h0M7 63h0M54 60h0M73 66h0M84 63h0M111 64h0M121 63h0M133 62h0M136 67h0M150 59h0M161 66h0M48 71h0M106 69h0M124 74h0M34 80h0M43 79h0M55 80h0M71 77h0M89 82h0M121 78h0M127 78h0M158 82h0M10 88h0M23 88h0M36 88h0M44 86h0M52 87h0M65 90h0M92 88h0M123 88h0M132 85h0M142 88h0M154 88h0M6 97h0M42 94h0M76 97h0M91 96h0M146 99h0M15 107h0M74 106h0M112 101h0M118 106h0M130 104h0M140 103h0M23 113h0M43 115h0M59 114h0M98 111h0M107 116h0M127 111h0M134 116h0M164 112h0M46 124h0M121 120h0M133 119h0M160 124h0M23 126h0M29 132h0M40 128h0M48 130h0M69 128h0M106 133h0M154 128h0" stroke="#7d93dd" stroke-width="3.0" stroke-linecap="round" stroke-opacity="0.5"/><path d="M151 128h0M15 59h0M11 93h0M120 47h0M15 44h0M110 40h0M33 130h0M43 104h0M18 119h0M54 5h0M136 47h0M1 87h0M46 24h0M149 29h0M14 14h0M149 120h0M8 22h0M54 118h0M159 123h0M149 94h0M21 94h0M72 85h0M134 133h0M34 7h0M34 15h0M12 55h0M128 61h0M13 66h0M87 30h0M81 129h0M105 113h0M48 76h0M129 44h0M32 27h0M25 120h0M91 53h0M107 64h0M57 112h0" stroke="#3a52c6" stroke-width="1.5" stroke-linecap="round" stroke-opacity="0.8"/><path d="M158 72h0M83 100h0M3 74h0M72 24h0M30 1h0M6 83h0M119 31h0M45 76h0M113 70h0M119 31h0M25 110h0M127 94h0M17 124h0M68 123h0M105 27h0M26 112h0M7 109h0M6 98h0M89 49h0M116 92h0M31 42h0M57 109h0M56 45h0M11 76h0M163 77h0M21 115h0M2 125h0M47 37h0M128 71h0M53 50h0M78 33h0M55 35h0M162 51h0M3 61h0M115 41h0M35 18h0M78 16h0M144 132h0M43 96h0M58 98h0M127 99h0M3 110h0M134 57h0M105 114h0M83 122h0M43 40h0M123 77h0M10 90h0M154 27h0M17 18h0M60 56h0M119 40h0M11 77h0M58 70h0" stroke="#3a52c6" stroke-width="2.0" stroke-linecap="round" stroke-opacity="0.8"/><path d="M153 89h0M2 62h0M49 70h0M70 66h0M77 23h0M13 29h0M49 103h0M114 124h0M132 67h0M99 33h0M34 47h0M64 110h0M85 100h0M147 32h0M123 35h0M22 60h0M53 94h0" stroke="#3a52c6" stroke-width="2.5" stroke-linecap="round" stroke-opacity="0.8"/></g></g></g><g clip-path="url(#ch1)"><g filter="url(#sf)"><rect x="188.8" y="577.4" width="163.2" height="132.9" fill="#a24bb4"/><g transform="translate(188.8,577.4)"><path d="M68 31h0M25 26h0M102 97h0M48 70h0M131 66h0M39 5h0M41 32h0M64 93h0M39 84h0M19 119h0M121 15h0M147 33h0M97 113h0M116 11h0M106 120h0M97 57h0M29 51h0M35 92h0M22 69h0M54 98h0M18 116h0M73 34h0M31 130h0M46 8h0M140 68h0M112 35h0M81 47h0M27 128h0M97 18h0M59 41h0M13 30h0M102 3h0M160 23h0M143 125h0M62 87h0M79 47h0M143 55h0M117 64h0M97 8h0M46 60h0M150 106h0M154 113h0M156 24h0M141 47h0M124 53h0M41 71h0M131 68h0M67 43h0M66 72h0M110 89h0M146 124h0M32 21h0M69 106h0M103 77h0M111 48h0M35 44h0M118 114h0M30 108h0M43 13h0M124 57h0M134 117h0M23 81h0M43 68h0M52 125h0M63 8h0M38 78h0M74 73h0M84 19h0M113 115h0M143 125h0M8 121h0M153 49h0M52 92h0M124 16h0M109 54h0M120 8h0M126 110h0M140 113h0M133 71h0M55 8h0M49 42h0M4 57h0M122 131h0M136 115h0M96 34h0M68 53h0M65 20h0M62 72h0M83 70h0M124 83h0M35 129h0" stroke="#c078cc" stroke-width="1.0" stroke-linecap="round" stroke-opacity="0.55"/><path d="M41 84h0M45 86h0M153 5h0M61 38h0M91 113h0M23 41h0M3 40h0M156 43h0M29 57h0M159 120h0M80 6h0M1 1h0M12 130h0M118 38h0M60 128h0M28 115h0M6 40h0M15 45h0M55 55h0M59 31h0M117 29h0M135 25h0M136 106h0M36 5h0M71 46h0M121 92h0M46 46h0M149 69h0M130 125h0M125 39h0M120 15h0M120 119h0M94 45h0M143 74h0M149 73h0M93 92h0M73 82h0M28 17h0M139 129h0M32 3h0M9 63h0M100 47h0M34 27h0M35 48h0M86 25h0M116 107h0M134 4h0M2 102h0M143 25h0M6 54h0M35 45h0M29 24h0M64 30h0M126 101h0M67 88h0M33 83h0M47 34h0M145 69h0M111 75h0M128 103h0M15 2h0M96 75h0M112 7h0M24 32h0M86 67h0M29 58h0M4 75h0M54 81h0M84 90h0M135 77h0M140 118h0M25 113h0M72 8h0M121 44h0M54 100h0M50 113h0M64 26h0M58 33h0M112 124h0M8 111h0M93 60h0M74 30h0M130 97h0M89 12h0M2 119h0M45 104h0M149 72h0M135 67h0M3 76h0M19 84h0M138 86h0M155 20h0M115 65h0M111 54h0M157 38h0M63 68h0M87 120h0M97 55h0M138 133h0M112 19h0M72 126h0M119 97h0M92 80h0M25 120h0M141 73h0M99 13h0M11 72h0M161 92h0M16 64h0M38 68h0M100 104h0M127 61h0M15 116h0M128 21h0M22 32h0M162 73h0M157 26h0M67 27h0M133 99h0M109 42h0M147 29h0M78 60h0M96 65h0M152 77h0M95 132h0M76 110h0M159 112h0M141 44h0M6 100h0M83 21h0M125 10h0M31 65h0M118 42h0M128 130h0M157 85h0M91 44h0M112 12h0M23 122h0M116 36h0M150 98h0M35 67h0M53 84h0M104 80h0M41 123h0M108 29h0M34 25h0M143 117h0M0 51h0M47 128h0M77 108h0M76 107h0M139 51h0M48 86h0M121 121h0M52 60h0M34 11h0M24 78h0M74 65h0M65 124h0M102 23h0M27 69h0M156 72h0M128 45h0M108 19h0M45 61h0M37 55h0M63 39h0M41 49h0M149 129h0M154 123h0M132 80h0M156 58h0M52 61h0M74 70h0M146 18h0M82 66h0M14 15h0M46 29h0M83 71h0M23 92h0M77 25h0M139 50h0M61 76h0M102 49h0M67 76h0M69 27h0M77 17h0M32 33h0M27 69h0M120 0h0M112 50h0M83 42h0M12 107h0M146 32h0M7 119h0M141 80h0M79 90h0M107 71h0M133 66h0M106 25h0M97 63h0M76 30h0M91 84h0M47 5h0M41 4h0M36 21h0M71 67h0M19 21h0M118 119h0M85 97h0M90 3h0M148 53h0M39 102h0M117 40h0M27 2h0M26 102h0M160 28h0M143 4h0M129 99h0M103 106h0M72 11h0M54 34h0M152 4h0M48 82h0M121 22h0M37 52h0M145 24h0M118 50h0M83 69h0M144 114h0M107 16h0M13 93h0M108 63h0M74 87h0M117 114h0M111 75h0M152 94h0M37 24h0M21 8h0M80 64h0M155 95h0M112 96h0M7 1h0M92 57h0M28 120h0M40 120h0M100 9h0M87 41h0M0 128h0M21 127h0M114 24h0M127 126h0M96 64h0M123 58h0M143 18h0M128 62h0M87 36h0M92 95h0M51 53h0M102 14h0M142 129h0M16 123h0M49 99h0M160 30h0M75 74h0M107 46h0M117 106h0M118 24h0M17 19h0M50 3h0M3 50h0M123 59h0M0 9h0M83 61h0M73 83h0M49 53h0M61 58h0M136 119h0M59 77h0M60 112h0M137 92h0M87 18h0M51 37h0M67 84h0M16 18h0M149 75h0M153 67h0M12 60h0M161 13h0M156 58h0M51 44h0M77 19h0M92 110h0M104 78h0M123 72h0M20 16h0M69 44h0M101 4h0M133 133h0M126 98h0M147 68h0M117 15h0M63 104h0M17 97h0M129 67h0M148 111h0M130 45h0M8 25h0M118 67h0M32 33h0M142 74h0M10 101h0M106 113h0M147 48h0M81 89h0M118 115h0M3 43h0M38 117h0M148 46h0M141 1h0M99 102h0M16 80h0M68 6h0M60 17h0M51 91h0M156 101h0M16 40h0M161 35h0M72 67h0M156 39h0M133 20h0M74 71h0M28 42h0M44 36h0M98 6h0M93 49h0M151 50h0M105 13h0M152 12h0M64 23h0M38 3h0M76 120h0M78 53h0M57 3h0M1 106h0M96 42h0M12 61h0M94 20h0M106 37h0M126 56h0M113 101h0M24 27h0M80 35h0M115 68h0M32 127h0M63 131h0M127 8h0M86 126h0M25 62h0M125 70h0M17 71h0M4 7h0M115 72h0M100 39h0M57 40h0M105 75h0M156 7h0M5 44h0M1 96h0M79 71h0M134 35h0M45 76h0M114 12h0M61 126h0M79 69h0M125 33h0M62 41h0M117 103h0M94 36h0M72 42h0M113 33h0M31 45h0M31 56h0M95 8h0M72 111h0M15 62h0M3 6h0M102 42h0M157 130h0M25 57h0M61 110h0M29 117h0M87 20h0M145 12h0M29 23h0M1 101h0M24 25h0M74 86h0M121 62h0M89 107h0M47 125h0M121 70h0M79 15h0M8 113h0M141 88h0M45 19h0M2 32h0M66 65h0M111 103h0M53 58h0M115 64h0M137 121h0M63 95h0M20 21h0M49 69h0M36 37h0M130 27h0M8 106h0M30 97h0M20 110h0M135 116h0M154 109h0M48 112h0M50 101h0M12 6h0M70 34h0M65 65h0M70 7h0M146 77h0M70 121h0M47 83h0M111 68h0M22 32h0M2 88h0M111 110h0M69 77h0M48 105h0M108 15h0M135 117h0M124 115h0M2 6h0M49 61h0M4 130h0M70 72h0M82 74h0M112 39h0M12 27h0M150 110h0M29 13h0M89 8h0M42 38h0M159 82h0M63 51h0M98 92h0M24 83h0M118 56h0M146 121h0M15 25h0M5 20h0M79 38h0M3 10h0M145 42h0M63 124h0M128 53h0M7 106h0M18 74h0M103 44h0M33 62h0M55 102h0M36 62h0M125 7h0M5 93h0M36 31h0M136 117h0M4 89h0M88 114h0M134 48h0M62 121h0M73 92h0M76 81h0M31 100h0M95 1h0M132 108h0M81 14h0M5 57h0M147 6h0M99 59h0M136 9h0M12 41h0M46 2h0M14 96h0M59 132h0M91 129h0M4 103h0M25 13h0M65 99h0M126 110h0M129 30h0M106 39h0M109 131h0M22 112h0M162 124h0M47 27h0M95 73h0M12 81h0M47 117h0M65 2h0M79 110h0M145 58h0M123 25h0M41 13h0M122 57h0M137 25h0M73 76h0M80 123h0M131 126h0M84 13h0M113 50h0M17 74h0M44 133h0M93 124h0M59 108h0M65 71h0M117 126h0M75 65h0M68 111h0M74 119h0M51 69h0M91 33h0M150 126h0M67 91h0M90 93h0M56 118h0M90 33h0M33 85h0M41 73h0M118 118h0M79 132h0M155 73h0M50 87h0M78 107h0M149 93h0M73 99h0M45 33h0M11 50h0M115 40h0M29 52h0M76 11h0M162 62h0M59 54h0M32 130h0M6 117h0M100 119h0M133 89h0M55 99h0M52 88h0M63 95h0M104 61h0M154 33h0M30 46h0M20 67h0M148 92h0M148 65h0M20 113h0M57 35h0M48 88h0M2 68h0M66 15h0M95 49h0M101 40h0M89 95h0M45 67h0M134 11h0M139 68h0M55 37h0M158 52h0M97 28h0M135 17h0M57 60h0M98 61h0M109 61h0M119 4h0M153 112h0M71 51h0M71 83h0M67 104h0M155 80h0M11 4h0M159 116h0M89 69h0M152 121h0M48 20h0M93 128h0M22 131h0M89 0h0M117 129h0M111 35h0M37 101h0M68 90h0M60 51h0M53 8h0M36 110h0M52 36h0M162 130h0M109 55h0M139 15h0M148 86h0M70 28h0M144 4h0M58 31h0M161 124h0M55 72h0M136 94h0M115 81h0M159 68h0M149 95h0M146 56h0M129 31h0M92 81h0M116 7h0M97 59h0M84 40h0M60 98h0M43 41h0M102 63h0M71 65h0M160 114h0M59 32h0M48 122h0M110 57h0M65 76h0M87 13h0M111 20h0M83 69h0M127 5h0M122 101h0M39 31h0M9 99h0M29 38h0M101 105h0M14 37h0M94 38h0M36 112h0M152 27h0M133 29h0M28 100h0M42 111h0M159 115h0M144 79h0M29 47h0M50 131h0M141 125h0M129 77h0M155 25h0M57 120h0M55 18h0M31 46h0M74 45h0M84 64h0M46 32h0M162 87h0M32 28h0M130 127h0M133 73h0M133 36h0M58 82h0M72 39h0M95 94h0M60 122h0M41 128h0M1 43h0M116 98h0M110 56h0M47 104h0M148 41h0M96 103h0M149 24h0M63 77h0M122 101h0M115 91h0M137 83h0M43 35h0M79 26h0M143 72h0M144 69h0M7 27h0M86 16h0M127 9h0M108 31h0M39 53h0M157 56h0M23 90h0M33 32h0M30 65h0M138 113h0M76 30h0M86 64h0M4 39h0M127 108h0M39 35h0M74 111h0M29 121h0M30 120h0M59 117h0M118 102h0M36 118h0M127 89h0M50 33h0M7 123h0M159 114h0M131 131h0M162 51h0M25 111h0M117 127h0M106 37h0M88 54h0M83 37h0M154 45h0M68 128h0M109 92h0M52 105h0M55 111h0M40 113h0M135 87h0M61 42h0M71 116h0M15 51h0M4 131h0M91 67h0M94 91h0M121 4h0M67 36h0M23 89h0M51 79h0M47 60h0M152 14h0M5 13h0M137 131h0M46 76h0M102 65h0M67 28h0M1 25h0M129 30h0M96 80h0M6 14h0M46 96h0M75 101h0M21 45h0M100 13h0M90 39h0M30 110h0M157 94h0M106 54h0M153 111h0M90 106h0M4 124h0M83 52h0M88 14h0M151 111h0M154 101h0M162 21h0M5 72h0M116 67h0M106 126h0M95 31h0M113 54h0M82 33h0M96 74h0M147 94h0M141 81h0M125 6h0M6 61h0M155 20h0M81 114h0M48 118h0M143 66h0M118 79h0M149 4h0M38 32h0M90 6h0M129 106h0M27 67h0M107 108h0M102 124h0M54 85h0M29 16h0M150 30h0M151 9h0M14 96h0M141 73h0M26 126h0M162 15h0M117 100h0M11 66h0M72 67h0" stroke="#c078cc" stroke-width="1.5" stroke-linecap="round" stroke-opacity="0.55"/><path d="M87 17h0M156 19h0M74 53h0M101 89h0M47 65h0M54 1h0M132 77h0M127 53h0M161 78h0M26 10h0M63 65h0M14 47h0M85 112h0M17 86h0M61 101h0M59 60h0M5 50h0M144 44h0M99 72h0M58 100h0M55 71h0M117 88h0M94 101h0M68 15h0M79 122h0M42 71h0M41 93h0M27 69h0M28 128h0M107 28h0M155 5h0M72 82h0M119 29h0M93 27h0M17 79h0M78 67h0M19 91h0M109 112h0M37 60h0M95 92h0M65 113h0M44 17h0M9 120h0M26 25h0M10 127h0M88 55h0M120 114h0M100 93h0M48 54h0M39 110h0M156 21h0M162 43h0M4 57h0M102 46h0M54 79h0M58 71h0M154 102h0M97 98h0M32 86h0M103 67h0M23 49h0M100 17h0M141 0h0M50 37h0M47 22h0M121 47h0M74 124h0M60 112h0M142 79h0M53 74h0M95 74h0M75 6h0M21 112h0M112 70h0M130 42h0M141 113h0M59 6h0M62 8h0M93 87h0M86 25h0M119 42h0M151 8h0M109 20h0M50 113h0M83 105h0M101 36h0M114 46h0M81 2h0M22 3h0M58 98h0M83 108h0M143 94h0M26 125h0M19 128h0M102 58h0M62 16h0M61 30h0M62 35h0M133 117h0M115 36h0M145 68h0M24 108h0M70 37h0M75 17h0M93 53h0M23 71h0M49 25h0M106 22h0M156 70h0M61 93h0M144 1h0M119 30h0M57 102h0M75 3h0M163 70h0M107 75h0M67 4h0M89 42h0M55 17h0M82 4h0M64 46h0M70 95h0M114 93h0M114 73h0M56 1h0M147 79h0M111 92h0M34 9h0M81 122h0M54 38h0M40 81h0M91 55h0M98 30h0M159 62h0M89 9h0M95 92h0M22 11h0M22 107h0M44 42h0M108 64h0M20 37h0M146 82h0M15 2h0M2 11h0M160 116h0M145 90h0M92 109h0M7 57h0M120 82h0M52 123h0M10 59h0M146 55h0M99 69h0M88 61h0M17 63h0M78 40h0M45 99h0M131 131h0M8 90h0M22 83h0M63 62h0M146 107h0M129 34h0M78 66h0M22 33h0M5 32h0M47 95h0M146 17h0M90 64h0M55 48h0M18 30h0M159 76h0M27 67h0M65 116h0M49 58h0M159 96h0M135 78h0M156 97h0M96 129h0M25 131h0M129 28h0M134 45h0M101 125h0M7 41h0M109 9h0M148 115h0M121 39h0M42 53h0M103 67h0M125 24h0M12 132h0M76 37h0M83 98h0M130 95h0M111 63h0M101 112h0M117 29h0M133 14h0M103 119h0M5 6h0M74 5h0M127 35h0M83 63h0M7 23h0M104 32h0M86 50h0M131 29h0M154 100h0M133 32h0M119 27h0M97 94h0M68 75h0M30 77h0M103 22h0M8 122h0M113 86h0M75 102h0M116 20h0M49 19h0M34 36h0M137 22h0M130 96h0M49 96h0M111 8h0M99 62h0M62 95h0M0 37h0M128 47h0M123 47h0M48 11h0M102 89h0M24 5h0M103 43h0M116 56h0M13 88h0M103 35h0M34 29h0M103 29h0M5 15h0M88 52h0M66 86h0M44 10h0M101 13h0M117 127h0M123 66h0M155 14h0M149 131h0M27 124h0M29 24h0M140 4h0M34 97h0M77 117h0M141 96h0M109 85h0M26 42h0M95 17h0M95 89h0M4 108h0M156 99h0M96 56h0M149 41h0M89 99h0M57 36h0M95 117h0M115 125h0M142 7h0M59 47h0M74 40h0M27 86h0M41 53h0M46 89h0M24 102h0M32 42h0M154 121h0M50 125h0M124 42h0M51 129h0M35 48h0M127 15h0M151 105h0M51 117h0M150 92h0M100 94h0M94 90h0M144 104h0M100 76h0M100 60h0M127 38h0M118 10h0M60 12h0M46 50h0M158 49h0M63 126h0M19 133h0M105 16h0M31 65h0M124 9h0M74 115h0M133 7h0M123 61h0M36 40h0M138 22h0M115 92h0M33 112h0M5 0h0M46 47h0M126 79h0M126 18h0M33 69h0M85 73h0M80 102h0M161 61h0M15 70h0M4 116h0M99 34h0M60 81h0M21 39h0M86 84h0M151 10h0M74 49h0M20 49h0M128 107h0M107 119h0M2 83h0M3 124h0M86 10h0M37 90h0M153 71h0M103 62h0M66 122h0M153 121h0M120 44h0M74 72h0M75 49h0M112 108h0M54 97h0M41 107h0M82 20h0M38 47h0M119 67h0M65 66h0M74 54h0M158 115h0M60 125h0M145 45h0M98 24h0M94 82h0M40 74h0M113 131h0M122 46h0M54 6h0M60 125h0M142 28h0M114 124h0M52 1h0M42 84h0M62 73h0M123 23h0M119 4h0M146 105h0M146 83h0M88 93h0M107 31h0M159 3h0M8 113h0M121 83h0M145 44h0M46 20h0M133 108h0M121 57h0M15 91h0M56 25h0M102 110h0M75 69h0M98 55h0M11 74h0M156 107h0M18 99h0M47 78h0M105 15h0M80 4h0M100 130h0M160 129h0M141 95h0M136 7h0M121 70h0M148 45h0M79 26h0M2 11h0M138 6h0M91 16h0M128 31h0M120 130h0M65 109h0M133 98h0M145 86h0M26 97h0M116 93h0M72 55h0M46 63h0M118 7h0M34 52h0M119 97h0M150 93h0M31 105h0M35 124h0M126 1h0M86 1h0M117 33h0M60 50h0M26 57h0M151 4h0M136 96h0M37 9h0M133 105h0M27 108h0M89 95h0M14 27h0M13 27h0M147 60h0M33 5h0M152 100h0M130 90h0M151 75h0M82 60h0M10 84h0M87 113h0M157 101h0M83 18h0M26 95h0M48 79h0M32 132h0M88 125h0M65 50h0M11 51h0M162 109h0M42 80h0M70 68h0M60 12h0M97 56h0M103 122h0M108 7h0M75 131h0M155 1h0M138 45h0M72 17h0M35 124h0M87 59h0M84 47h0M155 97h0M55 53h0M46 86h0M143 108h0M96 58h0M90 112h0M37 83h0M63 52h0M24 118h0M43 45h0M13 45h0M107 100h0M119 34h0M44 130h0M33 39h0M93 38h0M137 129h0M68 26h0M65 0h0M10 95h0M114 70h0M36 106h0M32 84h0M0 60h0M162 90h0M120 73h0M9 57h0M46 46h0M41 67h0M99 63h0M94 28h0M30 50h0M48 50h0M160 71h0M93 57h0M161 20h0M58 114h0M150 83h0M45 71h0M52 48h0M152 90h0M121 73h0M89 3h0M79 53h0M3 68h0M157 18h0M77 10h0M68 24h0M79 87h0M101 49h0M17 33h0M21 97h0M54 2h0M13 62h0M41 104h0M11 93h0M67 108h0M93 105h0M108 119h0M9 100h0M154 122h0M157 127h0M1 14h0M62 16h0M60 32h0M75 105h0M94 4h0M61 37h0M7 68h0M121 82h0M36 25h0M128 34h0M119 29h0M29 122h0M39 95h0M147 80h0M69 43h0M46 118h0M92 61h0M136 36h0M43 61h0M4 35h0M152 128h0M3 119h0M63 76h0M127 26h0M44 37h0M51 24h0M3 75h0M25 26h0M134 121h0M16 86h0M103 118h0M31 31h0M19 79h0M71 6h0M66 97h0M80 60h0M73 15h0M55 29h0M104 28h0M75 120h0M108 5h0M120 96h0M154 16h0M120 97h0M85 65h0M73 4h0M106 52h0M146 89h0M152 44h0M18 33h0M145 118h0M110 14h0M104 70h0M140 89h0M126 92h0M0 116h0M69 78h0M152 113h0M77 92h0M140 42h0M8 19h0M17 42h0M111 123h0M131 9h0M106 68h0M50 27h0M57 114h0M28 32h0M91 101h0M77 109h0M145 113h0M43 109h0M52 90h0M25 43h0M49 83h0M56 33h0M15 110h0M61 8h0M6 78h0M131 99h0M121 122h0M132 120h0M136 126h0M123 18h0M18 34h0M40 119h0M132 98h0M109 115h0M130 122h0M158 18h0M143 48h0M107 81h0M108 132h0M149 18h0M38 96h0M55 39h0M62 102h0M119 130h0M126 79h0M122 60h0M160 3h0M82 106h0M10 37h0M107 90h0M25 120h0M40 85h0M116 4h0M100 115h0M41 69h0M11 110h0M94 110h0M22 90h0M133 1h0M143 100h0M85 64h0M65 44h0M71 23h0M76 19h0M65 45h0M2 76h0M51 103h0M75 78h0M26 98h0M92 99h0M8 49h0M53 28h0M15 74h0M89 9h0M90 67h0M129 55h0M133 41h0M16 35h0M56 49h0M151 115h0M5 87h0M156 14h0M65 71h0M142 90h0M27 77h0M61 117h0M132 4h0M64 115h0M82 69h0M53 32h0M99 14h0M43 127h0M154 47h0M16 45h0M124 31h0M51 131h0M45 47h0M46 115h0M101 90h0M94 48h0M114 85h0M71 113h0M21 83h0M46 20h0M36 35h0M129 70h0M161 97h0M47 48h0M144 97h0M149 3h0M155 115h0M7 113h0M15 33h0M27 110h0M104 64h0M81 83h0M24 65h0M80 59h0M103 120h0M131 57h0M12 1h0M91 59h0M131 75h0M111 23h0M98 13h0M94 128h0M12 43h0M48 118h0M14 69h0M69 6h0M37 81h0M150 102h0M109 132h0M65 19h0M1 42h0M151 94h0M35 41h0M152 132h0M74 63h0M122 39h0M10 38h0M78 34h0M55 104h0M127 70h0M28 56h0M11 44h0M12 97h0M142 92h0M21 133h0M129 112h0M16 102h0M124 43h0M117 89h0M44 39h0M50 128h0M154 124h0M41 110h0M26 2h0M110 85h0M108 36h0M118 123h0M66 68h0M148 44h0M60 102h0M134 4h0M16 65h0M114 35h0M84 75h0M59 19h0M75 99h0M44 117h0M152 29h0M53 25h0M95 49h0M135 9h0M128 74h0M102 102h0M3 37h0M36 74h0M7 62h0M23 12h0M127 96h0M103 23h0M157 68h0M78 49h0M38 85h0M69 57h0M21 89h0M14 99h0M155 17h0M91 98h0M47 77h0M97 70h0M100 86h0M73 60h0M142 14h0M68 88h0M64 27h0M40 2h0M116 114h0M99 91h0M30 48h0M62 88h0M146 5h0M36 62h0M116 77h0M122 92h0M93 90h0M33 98h0M68 30h0M142 0h0M140 94h0M134 103h0M37 47h0M121 97h0" stroke="#c078cc" stroke-width="2.0" stroke-linecap="round" stroke-opacity="0.55"/><path d="M147 122h0M66 100h0M118 113h0M140 9h0M43 86h0M56 115h0M108 26h0M79 7h0M27 124h0M112 121h0M88 40h0M139 118h0M118 20h0M122 43h0M36 6h0M63 121h0M21 13h0M18 129h0M38 78h0M145 54h0M159 33h0M162 87h0M124 47h0M30 15h0M70 49h0M94 20h0M125 23h0M56 80h0M50 72h0M131 6h0M127 37h0M78 99h0M33 58h0M123 23h0M10 131h0M130 79h0M149 76h0M146 39h0M65 106h0M141 104h0M116 88h0M119 96h0M62 108h0M155 67h0M44 14h0M93 26h0M137 107h0M139 63h0M13 111h0M9 5h0M132 108h0M47 61h0M148 108h0M136 10h0M47 2h0M95 19h0M135 53h0M147 127h0M12 54h0M115 66h0M70 99h0M163 0h0M44 38h0M106 116h0M36 102h0M144 2h0M160 10h0M39 17h0M162 30h0M95 92h0M57 81h0M54 94h0M79 45h0M35 87h0M137 57h0M53 105h0M143 70h0M153 30h0M52 78h0M39 34h0M29 11h0M8 64h0M55 34h0M49 34h0M42 67h0M4 105h0M41 91h0M77 46h0M124 95h0M31 96h0M158 118h0M145 33h0M137 32h0M32 82h0M60 87h0M44 91h0M1 92h0M4 118h0M38 20h0M9 6h0M16 125h0M146 100h0M155 24h0M23 88h0M120 68h0M27 105h0M36 87h0M93 96h0M42 75h0M86 94h0M106 129h0M2 84h0M44 72h0M1 83h0M113 93h0M83 111h0M92 37h0M111 38h0M97 76h0M18 48h0M33 113h0M38 10h0M147 121h0M39 96h0M156 94h0M138 112h0M36 55h0M81 96h0M81 75h0M103 60h0M112 122h0M75 25h0M124 95h0M86 89h0M30 77h0M92 59h0M27 47h0M114 90h0M64 21h0M12 106h0M155 4h0M27 3h0M22 95h0M84 68h0M127 105h0M121 51h0M39 76h0M89 26h0M15 55h0M26 95h0M122 99h0M139 70h0M120 109h0M78 49h0M44 100h0M152 38h0M126 101h0M25 120h0M150 72h0M156 24h0M118 45h0M36 129h0M77 69h0M142 27h0M20 76h0M76 9h0M18 84h0M57 76h0M23 13h0M80 11h0M29 116h0M37 58h0M109 13h0M5 112h0M110 56h0M65 104h0M40 61h0M108 119h0M150 55h0M160 57h0M121 111h0M160 78h0M111 92h0M115 91h0M143 118h0M109 49h0M118 99h0M108 26h0M133 61h0M162 85h0M69 48h0M157 19h0M38 98h0M153 50h0M25 53h0M9 70h0M137 36h0M143 20h0M100 116h0M9 27h0M109 92h0M98 28h0M93 116h0M147 54h0M9 106h0M4 130h0M10 97h0M145 1h0M136 69h0M36 104h0M124 18h0M22 46h0M10 112h0M12 38h0M20 72h0M24 86h0M64 28h0M39 118h0M30 82h0M89 47h0M148 105h0M134 19h0M129 133h0M88 104h0M17 20h0M15 76h0M139 102h0M110 84h0M87 90h0M44 80h0M101 124h0M57 87h0M74 28h0M46 39h0M70 33h0M122 73h0M103 70h0M110 121h0M158 36h0M146 33h0M84 122h0M54 61h0M88 1h0M133 132h0M111 100h0M76 86h0M3 88h0M6 87h0M130 62h0M28 29h0M149 117h0M92 122h0M131 109h0M55 118h0M34 27h0M26 75h0M160 34h0M62 9h0M20 108h0M162 61h0M5 94h0M28 68h0M134 11h0M58 98h0M153 68h0M73 114h0M160 91h0M79 78h0M28 111h0M98 12h0M57 40h0M124 126h0M126 104h0M157 53h0M140 112h0M53 26h0M111 53h0M10 15h0M134 112h0M97 129h0M89 28h0M84 119h0M64 112h0M44 122h0M63 94h0M21 125h0M19 53h0M48 56h0M91 112h0M88 50h0M72 7h0M139 37h0M42 112h0M23 46h0M9 115h0M161 18h0M71 60h0M34 43h0M149 67h0M60 18h0M3 112h0M35 90h0M98 99h0M31 63h0M17 125h0M8 32h0M98 28h0M80 105h0M105 88h0M70 75h0M106 100h0M40 118h0M157 60h0M149 17h0M45 121h0M163 71h0M67 68h0M47 29h0M149 87h0M68 82h0M10 2h0M74 80h0M153 107h0M26 38h0M158 120h0M65 62h0M28 59h0M162 123h0M111 121h0M98 63h0M95 126h0M27 123h0M122 8h0M28 61h0M39 35h0M161 66h0M116 109h0M138 86h0M109 13h0M1 80h0M116 65h0M40 14h0M33 6h0M52 5h0M56 79h0M122 70h0M97 7h0M50 44h0M53 116h0M155 2h0M20 78h0M112 9h0M137 44h0M75 127h0M112 47h0M98 129h0M7 88h0M41 20h0M162 19h0M162 110h0M71 106h0M22 106h0M17 96h0M116 26h0M2 91h0M114 61h0M1 132h0M146 10h0M111 61h0M137 131h0M75 60h0M10 41h0M78 116h0M60 36h0M75 126h0M7 33h0M36 128h0M143 30h0M114 105h0M62 87h0M105 27h0M134 80h0M35 52h0M45 105h0M11 107h0M110 103h0M158 13h0M113 12h0M27 27h0M75 112h0M128 35h0M141 131h0M28 93h0M100 110h0M157 5h0M135 28h0M14 122h0M100 37h0M58 68h0M0 40h0M95 11h0M86 80h0M68 11h0M106 123h0M4 87h0M127 76h0M59 34h0M52 108h0M53 131h0M105 75h0M46 109h0M121 93h0M129 70h0M77 88h0M126 39h0M16 119h0M47 127h0M77 94h0M67 63h0M72 128h0M93 120h0M116 111h0M56 18h0M108 35h0M133 63h0M18 86h0M23 100h0M26 104h0M158 66h0M43 34h0M157 68h0M95 52h0M123 28h0M90 43h0M10 17h0M38 86h0M150 86h0M3 45h0M140 106h0M69 34h0M46 26h0M46 68h0M81 95h0M63 8h0M110 36h0M119 25h0M6 130h0M144 60h0M27 114h0M49 35h0M117 57h0M53 124h0M109 132h0M13 92h0M58 8h0M152 65h0M120 119h0M119 43h0M16 116h0M100 22h0M15 36h0M116 83h0M52 23h0M65 71h0M28 86h0M145 133h0M52 46h0M24 52h0M127 47h0M15 44h0M144 112h0M143 90h0M8 120h0M11 48h0M106 127h0M119 89h0M18 77h0M108 101h0M105 41h0M23 45h0M134 17h0M114 28h0M97 2h0M72 28h0M2 50h0M85 111h0M62 76h0M46 121h0M116 41h0M35 107h0M40 131h0M102 74h0M125 35h0M86 73h0M113 110h0M146 70h0M163 93h0M22 69h0M136 115h0M131 104h0M104 62h0M35 34h0" stroke="#c078cc" stroke-width="2.5" stroke-linecap="round" stroke-opacity="0.55"/><path d="M149 46h0M110 22h0M19 131h0M31 17h0M55 18h0M121 46h0M105 132h0M75 118h0M49 5h0M13 10h0M86 69h0M161 10h0M30 120h0M89 49h0M124 104h0M109 17h0M60 25h0M128 52h0M57 14h0M129 3h0M46 66h0M74 92h0M81 28h0M12 126h0M67 1h0M16 76h0M82 127h0M158 48h0M131 6h0M14 82h0M66 42h0M75 4h0M87 15h0M45 46h0M148 46h0M24 31h0M22 87h0M60 7h0M23 14h0M65 108h0M53 22h0M29 117h0M56 104h0M85 67h0M25 101h0" stroke="#843ea8" stroke-width="1.0" stroke-linecap="round" stroke-opacity="0.5"/><path d="M135 130h0M120 113h0M147 122h0M103 105h0M47 126h0M46 117h0M37 94h0M101 80h0M130 130h0M132 52h0M50 107h0M17 56h0M38 80h0M126 74h0M154 115h0M145 98h0M64 85h0M112 9h0M41 85h0M67 36h0M21 118h0M17 65h0M145 5h0M2 64h0M21 36h0M11 13h0M9 11h0M114 72h0M87 70h0M87 81h0M65 79h0M5 108h0M92 21h0M52 36h0M90 65h0M100 81h0M60 89h0M122 99h0M89 106h0M90 48h0M85 8h0M36 75h0M150 112h0M115 84h0M157 127h0M44 37h0M117 16h0M52 45h0M36 24h0M66 88h0M94 91h0M75 49h0M145 86h0M115 113h0M63 21h0M29 132h0M112 41h0M7 75h0M101 78h0M59 19h0M23 34h0M108 61h0M154 88h0M87 83h0M105 24h0M110 37h0M109 72h0M44 17h0M67 107h0M9 90h0M24 11h0M93 30h0M118 127h0M88 116h0M110 65h0M67 93h0M60 35h0M120 95h0M138 41h0M36 115h0M66 89h0M133 130h0M130 32h0M132 52h0M99 85h0M69 69h0M110 77h0M94 2h0M12 16h0M31 16h0M141 73h0M89 123h0M20 70h0M48 63h0M49 120h0M126 27h0M31 118h0M40 126h0M93 87h0M41 50h0M70 45h0M101 66h0M51 126h0M77 105h0M161 91h0M86 122h0M38 59h0M110 47h0M14 19h0M141 102h0M53 115h0M50 93h0M77 17h0M130 130h0M100 44h0M62 112h0M155 65h0M161 23h0M106 60h0M106 117h0M143 112h0M95 25h0M26 78h0M27 49h0M4 82h0M14 37h0M151 15h0M61 34h0M150 42h0M134 50h0M3 81h0M14 64h0M151 52h0M122 105h0M156 48h0M93 59h0M35 127h0M155 95h0M139 81h0M8 70h0M128 6h0M62 27h0M51 125h0M69 42h0M161 33h0M7 114h0M137 19h0M135 4h0M112 111h0M120 21h0M91 131h0M142 77h0M114 23h0M97 73h0M150 2h0M90 88h0M72 84h0M68 129h0M44 45h0M124 94h0M19 36h0M140 93h0M30 121h0M104 54h0M147 72h0M139 128h0M16 73h0M117 94h0M27 35h0M61 62h0M47 90h0M9 121h0M65 65h0M61 107h0M51 81h0M163 95h0M86 85h0M5 104h0M81 86h0M84 75h0M32 8h0M132 9h0M101 63h0M132 62h0M130 18h0M36 37h0M33 62h0M136 97h0M146 14h0M148 83h0M9 108h0M87 5h0M88 84h0M6 124h0M151 58h0M110 121h0M100 1h0M19 126h0M47 130h0M27 82h0M85 49h0M78 8h0M144 51h0M148 133h0M139 7h0M45 123h0M122 90h0M77 121h0M156 100h0M59 26h0M112 21h0M83 94h0M105 4h0M55 55h0M45 24h0M4 11h0M104 115h0M111 81h0M100 33h0M48 72h0M37 31h0M7 92h0M95 91h0M51 39h0M127 31h0M29 98h0M162 116h0M109 129h0M66 7h0M160 59h0M111 16h0M3 58h0M104 59h0M117 62h0M154 71h0M114 41h0M12 119h0M144 46h0M160 57h0M18 24h0M114 128h0M119 92h0M59 122h0M65 15h0M75 101h0M154 55h0M162 77h0M100 80h0M125 57h0M143 36h0M76 76h0M74 67h0M70 35h0M118 26h0M6 26h0M64 125h0M80 24h0M9 33h0M46 103h0M6 11h0M108 42h0M131 73h0M30 35h0M163 100h0M115 105h0M63 71h0M94 29h0M130 74h0M24 13h0M98 79h0M114 39h0M68 47h0M141 94h0M83 9h0M110 21h0M77 4h0M45 70h0M73 107h0M11 75h0M61 13h0M104 4h0M25 72h0M105 6h0M68 38h0M29 60h0M151 3h0M77 38h0M28 87h0M53 126h0M80 120h0M144 66h0M87 62h0M16 34h0M24 69h0M140 43h0M78 55h0M129 64h0M3 36h0M96 13h0M52 96h0M57 118h0M7 7h0M127 47h0M100 19h0M121 55h0M158 75h0M149 58h0M143 92h0M52 60h0M143 38h0M83 94h0M156 91h0M133 43h0M153 122h0M31 63h0M136 43h0M162 89h0M82 112h0M68 103h0M97 41h0M57 80h0M139 126h0M137 97h0M38 56h0M53 100h0M155 108h0M130 73h0M33 16h0M11 122h0M3 118h0M33 65h0M137 13h0M22 75h0M11 25h0M86 57h0M74 80h0M37 58h0M134 7h0M46 1h0M15 96h0M0 60h0M30 67h0M128 88h0M83 12h0M95 79h0M132 74h0M18 15h0M152 61h0M44 51h0M11 86h0M12 111h0M157 127h0M56 24h0M146 62h0M54 52h0M35 32h0M37 97h0M3 26h0M61 80h0M148 40h0M93 82h0M88 18h0M111 102h0M108 109h0M105 42h0M122 86h0M71 15h0M116 123h0M63 126h0M132 4h0M155 79h0M83 43h0M42 89h0M132 77h0M105 28h0M96 39h0M78 58h0M87 57h0M128 115h0M110 58h0M149 67h0M33 89h0M9 31h0M24 51h0M5 107h0M64 132h0M7 95h0M6 61h0M127 18h0M105 9h0M35 129h0M106 9h0M162 12h0M135 130h0M37 119h0M58 23h0M161 26h0M57 27h0M74 112h0M109 129h0M68 54h0M70 114h0M152 90h0M117 31h0M11 27h0M62 95h0M7 71h0M104 4h0M77 25h0M10 13h0M11 123h0M57 21h0M106 54h0M63 117h0M58 39h0M83 37h0M80 117h0M127 74h0M127 6h0M157 117h0M72 132h0M61 90h0M45 95h0M91 80h0M66 75h0M30 108h0M7 53h0M62 128h0M39 44h0M105 25h0M104 73h0M32 125h0M15 105h0M87 35h0M144 122h0M68 117h0M66 21h0M31 5h0M114 111h0M28 36h0M26 112h0M94 77h0M152 44h0M56 1h0M49 31h0M117 95h0M18 87h0M23 93h0M84 105h0M130 91h0M98 36h0M17 40h0M20 55h0M82 121h0M17 31h0M124 127h0M41 60h0M107 52h0M136 29h0M38 9h0M12 100h0M151 123h0M110 126h0M11 68h0M53 5h0M92 122h0M39 54h0M158 32h0M110 112h0M148 19h0M7 100h0M21 39h0M50 70h0M162 65h0M3 66h0M75 102h0M101 83h0M114 82h0M132 59h0M104 98h0M62 0h0M103 94h0M54 80h0M49 92h0M152 23h0M5 66h0" stroke="#843ea8" stroke-width="1.5" stroke-linecap="round" stroke-opacity="0.5"/><path d="M28 36h0M50 74h0M157 121h0M158 4h0M50 110h0M58 114h0M92 76h0M123 117h0M113 47h0M48 87h0M101 11h0M22 125h0M43 119h0M135 116h0M13 125h0M15 70h0M137 60h0M151 22h0M12 116h0M136 32h0M146 101h0M121 9h0M63 113h0M35 99h0M2 39h0M134 33h0M161 100h0M97 16h0M123 24h0M108 77h0M43 112h0M26 64h0M124 58h0M66 66h0M159 131h0M13 122h0M43 90h0M135 82h0M100 103h0M106 34h0M54 84h0M149 129h0M90 56h0M117 2h0M36 67h0M47 96h0M139 85h0M8 130h0M102 0h0M106 44h0M53 56h0M126 17h0M111 121h0M66 25h0M9 29h0M62 126h0M35 130h0M134 68h0M143 99h0M149 5h0M158 10h0M105 35h0M148 26h0M137 6h0M156 97h0M98 50h0M115 2h0M84 101h0M131 107h0M83 13h0M49 34h0M123 25h0M94 60h0M124 3h0M47 30h0M157 77h0M37 6h0M117 1h0M79 11h0M45 118h0M77 13h0M22 29h0M13 2h0M149 26h0M118 12h0M100 80h0M59 9h0M14 126h0M65 57h0M163 25h0M58 46h0M72 1h0M135 50h0M69 90h0M21 32h0M87 43h0M131 31h0M82 42h0M129 4h0M8 101h0M2 90h0M81 1h0M15 41h0M110 59h0M38 6h0M17 123h0M6 53h0M108 4h0M122 66h0M58 97h0M136 84h0M62 20h0M162 101h0M54 114h0M51 116h0M25 116h0M121 9h0M144 31h0M114 14h0M23 60h0M76 30h0M20 25h0M76 25h0M40 123h0M103 8h0M151 16h0M4 109h0M61 35h0M13 103h0M66 48h0M92 116h0M145 125h0M89 28h0M74 115h0M145 6h0M45 28h0M99 104h0M94 28h0M121 107h0M146 77h0M81 2h0M11 78h0M143 49h0M32 50h0M18 36h0M141 109h0M155 100h0M150 83h0M7 95h0M14 73h0M26 117h0M95 25h0M121 37h0M107 126h0M51 13h0M146 76h0M126 132h0M106 25h0M67 42h0M135 20h0M107 75h0M73 16h0M67 81h0M36 52h0M118 7h0M86 87h0M156 105h0M103 61h0M31 103h0M150 65h0M137 75h0M47 102h0M137 56h0M162 111h0M12 6h0M109 26h0M89 46h0M105 111h0M113 31h0M68 62h0M118 130h0M126 73h0M127 106h0M159 112h0M57 59h0M68 71h0M81 109h0M76 14h0M73 4h0M43 78h0M116 8h0M88 124h0M56 121h0M81 64h0M63 132h0M13 128h0M115 22h0M76 63h0M19 118h0M29 127h0M24 34h0M37 37h0M150 109h0M51 35h0M49 40h0M144 99h0M50 105h0M41 126h0M60 22h0M62 108h0M161 68h0M68 97h0M16 3h0M60 38h0M92 71h0M34 22h0M136 24h0M118 10h0M123 49h0M161 71h0M15 108h0M143 57h0M54 53h0M2 86h0M30 91h0M15 91h0M106 83h0M14 103h0M162 23h0M40 44h0M158 119h0M12 102h0M69 21h0M110 123h0M144 19h0M116 18h0M115 117h0M105 28h0M144 76h0M108 110h0M5 74h0M102 6h0M154 37h0M79 52h0M5 77h0M154 29h0M74 74h0M120 45h0M9 34h0M145 8h0M34 6h0M65 20h0M16 45h0M113 4h0M149 59h0M56 119h0M87 123h0M22 35h0M68 60h0M150 86h0M9 125h0M140 37h0M70 99h0M138 44h0M117 18h0M147 94h0M35 87h0M37 122h0M129 14h0M22 93h0M142 8h0M64 16h0M23 8h0M92 110h0M7 128h0M137 0h0M56 129h0M10 116h0M89 110h0M122 116h0M21 110h0M143 69h0M102 79h0M86 81h0M110 106h0M119 87h0M116 107h0M111 14h0M8 46h0M92 20h0M162 57h0M117 9h0M124 63h0M45 90h0M95 7h0M43 23h0M58 124h0M18 60h0M6 106h0M52 39h0M2 114h0M110 121h0M146 64h0M108 116h0M135 14h0M146 90h0M27 107h0M144 55h0M143 46h0M124 41h0M13 95h0M111 128h0M102 35h0M133 73h0M52 20h0M157 52h0M11 52h0M35 82h0M85 101h0M149 48h0M64 22h0M126 132h0M55 12h0M15 101h0M43 120h0M140 84h0M150 75h0M135 114h0M153 70h0M1 65h0M123 97h0M11 50h0M121 32h0M24 53h0M71 89h0M28 117h0M72 39h0M42 73h0M24 40h0M79 97h0M130 35h0M63 123h0M123 41h0M161 81h0M111 92h0M18 102h0M151 23h0M96 15h0M42 48h0M82 56h0M53 27h0M71 56h0M97 39h0M92 2h0M55 1h0M31 5h0M81 107h0M160 131h0M109 24h0M40 110h0M26 82h0M60 115h0M65 14h0M16 31h0M42 57h0M111 113h0M89 119h0M46 3h0M146 2h0M155 69h0M48 44h0M79 50h0M112 44h0M124 92h0M128 16h0M145 102h0M86 91h0M111 75h0M10 18h0M118 45h0M4 9h0M17 34h0M105 1h0M55 97h0M24 27h0M148 40h0M83 127h0M53 82h0M49 37h0M113 107h0M11 113h0M18 41h0M111 109h0M160 35h0M13 64h0M100 32h0M100 75h0M74 129h0M64 85h0M56 8h0M143 40h0M30 67h0M88 45h0M68 62h0M11 28h0M27 58h0M37 14h0M143 120h0M36 69h0M12 99h0M57 28h0M58 125h0M26 107h0M75 25h0M29 44h0M30 125h0M131 127h0M98 132h0M151 24h0M45 22h0M87 29h0M120 21h0M89 96h0M113 70h0M148 101h0M13 36h0M8 28h0M24 58h0M115 44h0M2 84h0M71 1h0M102 114h0M31 50h0M3 86h0M140 113h0M102 92h0M18 62h0M128 109h0M143 80h0M83 81h0M23 74h0M32 87h0M39 2h0M148 108h0M5 109h0M37 11h0M5 1h0M78 106h0M99 99h0M136 51h0M120 65h0M78 20h0M101 19h0M17 131h0M84 90h0M6 54h0M130 75h0M7 102h0M123 60h0M51 128h0M9 116h0M26 125h0M64 48h0M11 56h0M8 94h0M79 68h0M30 19h0M155 67h0M23 25h0M109 84h0M46 130h0M150 101h0M25 106h0M144 17h0M27 123h0M132 123h0M36 28h0M157 87h0M18 109h0M96 65h0M82 18h0M142 44h0M159 58h0M9 48h0M83 127h0M104 38h0M101 101h0M139 81h0M16 45h0M19 128h0M126 48h0M19 106h0M21 5h0M116 8h0M52 79h0M118 41h0M35 88h0M73 79h0M139 5h0M60 49h0M151 1h0M34 124h0M162 81h0M134 60h0M69 57h0M131 86h0M97 113h0M65 94h0M110 123h0M53 76h0M7 18h0M53 83h0M1 84h0M152 90h0M122 67h0" stroke="#843ea8" stroke-width="2.0" stroke-linecap="round" stroke-opacity="0.5"/><path d="M90 115h0M113 123h0M82 72h0M47 3h0M7 19h0M87 7h0M111 51h0M9 40h0M28 61h0M58 1h0M29 77h0M132 57h0M5 1h0M99 115h0M112 101h0M30 118h0M126 27h0M70 72h0M38 65h0M112 91h0M120 61h0M55 27h0M105 48h0M9 44h0M99 4h0M60 41h0M160 107h0M145 51h0M74 105h0M53 85h0M115 19h0M11 32h0M104 12h0M33 17h0M57 6h0M59 15h0M4 14h0M63 10h0M4 91h0M125 8h0M34 90h0M108 46h0M138 9h0M142 93h0M110 51h0M39 30h0M159 124h0M64 108h0M145 114h0M101 126h0M72 66h0M103 66h0M67 10h0M10 57h0M34 26h0M29 76h0M76 56h0M25 126h0M148 45h0M64 25h0M97 20h0M139 66h0M133 29h0M87 76h0M37 32h0M77 66h0M9 88h0M57 9h0M67 113h0M136 23h0M98 96h0M141 23h0M76 44h0M134 32h0M140 55h0M6 9h0M125 73h0M76 14h0M23 75h0M109 89h0M127 9h0M88 36h0M61 42h0M12 128h0M11 19h0M3 43h0M142 24h0M8 26h0M5 127h0M7 32h0M86 3h0M29 7h0M5 78h0M14 17h0M51 6h0M109 113h0M46 12h0M58 59h0M82 117h0M74 13h0M86 55h0M104 63h0M162 81h0M115 128h0M156 104h0M141 123h0M102 104h0M120 128h0M27 18h0M98 40h0M103 40h0M58 15h0M106 89h0M106 52h0M58 16h0M6 94h0M7 111h0M26 21h0M30 34h0M156 7h0M163 31h0M85 97h0M156 79h0M73 12h0M91 117h0M97 87h0M10 69h0M131 103h0M74 130h0M131 72h0M110 50h0M80 119h0M142 93h0M24 58h0M66 125h0M64 29h0M46 64h0M157 69h0M30 52h0M117 121h0M141 39h0M55 86h0M123 0h0M102 44h0M67 17h0M99 23h0M36 49h0M160 55h0M6 97h0M7 118h0M128 91h0M29 15h0M47 26h0M157 49h0M121 125h0M19 9h0M162 6h0M65 68h0" stroke="#843ea8" stroke-width="2.5" stroke-linecap="round" stroke-opacity="0.5"/><path d="M7 -1h0M35 -1h0M39 -3h0M49 -3h0M52 -2h0M63 -1h0M67 -1h0M76 0h0M80 -2h0M88 -2h0M104 -1h0M122 0h0M130 -2h0M136 -2h0M150 -1h0M7 3h0M23 3h0M29 4h0M42 4h0M65 3h0M79 3h0M108 3h0M116 3h0M127 2h0M140 4h0M157 2h0M1 6h0M6 6h0M21 6h0M40 7h0M56 5h0M74 6h0M102 7h0M113 7h0M135 6h0M157 5h0M10 11h0M45 9h0M56 11h0M69 10h0M72 11h0M88 11h0M96 10h0M124 11h0M130 10h0M167 11h0M7 16h0M12 14h0M16 14h0M33 15h0M40 14h0M56 14h0M71 14h0M84 16h0M88 14h0M97 15h0M104 13h0M111 15h0M131 14h0M143 15h0M150 15h0M152 15h0M158 14h0M10 20h0M15 18h0M20 20h0M52 19h0M73 18h0M80 19h0M85 19h0M96 20h0M107 18h0M138 18h0M143 19h0M147 18h0M7 23h0M17 23h0M22 23h0M24 22h0M53 22h0M63 22h0M72 22h0M75 22h0M85 24h0M95 24h0M104 22h0M109 23h0M113 22h0M125 22h0M2 27h0M5 26h0M19 27h0M24 26h0M55 25h0M69 27h0M74 27h0M93 25h0M96 26h0M115 27h0M124 27h0M134 26h0M147 26h0M3 31h0M20 30h0M30 31h0M36 29h0M54 32h0M58 29h0M62 32h0M82 31h0M91 32h0M118 29h0M132 30h0M136 30h0M140 32h0M159 31h0M10 34h0M15 35h0M24 36h0M32 36h0M44 34h0M49 34h0M85 33h0M94 34h0M112 36h0M118 36h0M120 36h0M127 34h0M130 34h0M149 35h0M153 35h0M-1 37h0M28 37h0M29 40h0M36 38h0M53 38h0M66 39h0M82 39h0M92 38h0M136 37h0M158 40h0M2 43h0M24 42h0M28 44h0M33 43h0M49 42h0M51 42h0M56 44h0M66 43h0M74 43h0M78 43h0M97 44h0M106 44h0M134 41h0M150 42h0M0 46h0M3 47h0M26 46h0M31 47h0M36 48h0M65 48h0M67 47h0M91 48h0M105 45h0M115 46h0M118 48h0M123 47h0M126 48h0M141 48h0M151 48h0M161 47h0M5 51h0M14 52h0M27 51h0M37 51h0M61 50h0M70 50h0M74 51h0M80 52h0M82 50h0M93 50h0M100 50h0M110 49h0M119 50h0M123 51h0M132 51h0M138 50h0M166 50h0M-1 55h0M9 55h0M22 54h0M26 54h0M48 54h0M59 53h0M63 55h0M76 54h0M101 56h0M128 55h0M15 57h0M24 60h0M41 58h0M45 59h0M49 60h0M81 59h0M91 60h0M102 57h0M119 58h0M132 60h0M143 59h0M155 57h0M8 61h0M12 63h0M26 64h0M33 63h0M36 64h0M42 63h0M44 64h0M53 64h0M68 62h0M73 62h0M76 61h0M81 63h0M85 62h0M100 64h0M109 63h0M129 64h0M134 64h0M147 61h0M160 62h0M165 63h0M9 66h0M57 66h0M79 68h0M108 66h0M115 66h0M125 65h0M128 66h0M138 66h0M143 66h0M157 66h0M-2 70h0M3 70h0M10 72h0M13 70h0M28 70h0M32 71h0M35 70h0M59 71h0M76 69h0M87 71h0M96 72h0M123 70h0M129 69h0M133 70h0M142 71h0M165 70h0M5 74h0M15 75h0M28 73h0M41 75h0M48 73h0M57 75h0M66 74h0M73 74h0M88 73h0M99 75h0M101 76h0M120 74h0M124 74h0M128 76h0M151 75h0M9 79h0M26 77h0M40 80h0M74 79h0M76 79h0M88 79h0M92 79h0M102 79h0M104 80h0M118 80h0M124 79h0M133 78h0M152 78h0M54 83h0M59 84h0M81 81h0M88 83h0M93 82h0M105 81h0M108 82h0M115 83h0M118 83h0M122 81h0M128 83h0M138 83h0M146 82h0M160 83h0M-1 87h0M2 87h0M12 88h0M17 87h0M26 88h0M31 87h0M41 88h0M58 87h0M69 85h0M114 85h0M128 88h0M137 87h0M141 86h0M154 87h0M159 86h0M20 89h0M32 92h0M37 90h0M41 90h0M61 92h0M66 91h0M82 90h0M87 90h0M96 91h0M103 90h0M121 89h0M129 90h0M149 92h0M153 91h0M157 90h0M-1 96h0M35 96h0M50 94h0M53 95h0M87 95h0M95 95h0M99 96h0M113 96h0M122 95h0M131 94h0M139 94h0M144 96h0M156 96h0M14 100h0M26 99h0M37 100h0M46 99h0M55 100h0M64 99h0M68 100h0M95 98h0M110 97h0M138 98h0M143 98h0M145 99h0M161 100h0M167 98h0M26 103h0M55 102h0M64 101h0M69 104h0M78 102h0M82 103h0M101 102h0M104 101h0M113 103h0M118 101h0M124 103h0M129 104h0M131 103h0M137 102h0M143 101h0M159 102h0M0 107h0M17 105h0M35 108h0M45 107h0M64 107h0M110 105h0M121 107h0M128 108h0M146 107h0M155 106h0M10 110h0M19 112h0M24 109h0M39 112h0M43 110h0M49 110h0M53 110h0M56 111h0M65 110h0M76 111h0M79 112h0M99 111h0M103 109h0M112 110h0M127 112h0M130 109h0M138 110h0M158 112h0M4 115h0M33 114h0M40 115h0M47 113h0M70 116h0M80 114h0M83 115h0M97 116h0M143 116h0M149 116h0M167 115h0M2 118h0M24 119h0M29 120h0M40 119h0M61 117h0M70 118h0M75 119h0M81 120h0M107 119h0M119 117h0M139 118h0M164 120h0M13 121h0M18 122h0M24 122h0M42 124h0M51 124h0M62 123h0M79 124h0M130 122h0M157 124h0M27 125h0M31 126h0M36 127h0M46 125h0M50 128h0M85 128h0M91 125h0M99 126h0M111 128h0M113 127h0M123 126h0M128 126h0M132 126h0M149 127h0M163 126h0M1 130h0M18 131h0M37 131h0M52 131h0M66 132h0M69 131h0M84 132h0M92 131h0M109 129h0M116 130h0M121 129h0M135 132h0M153 130h0M165 129h0M3 135h0M8 136h0M16 135h0M27 134h0M30 135h0M35 135h0M48 135h0M72 135h0M81 134h0M89 135h0M100 135h0M118 134h0M121 136h0M135 133h0M153 134h0M160 134h0M164 135h0" stroke="#522c9e" stroke-width="2.0" stroke-linecap="round" stroke-opacity="0.75"/><path d="M-3 0h0M3 -1h0M26 0h0M31 -2h0M57 -1h0M71 0h0M84 -1h0M96 -2h0M98 -2h0M108 -2h0M113 -1h0M127 -2h0M141 -3h0M145 0h0M154 -1h0M160 -2h0M164 -3h0M15 2h0M20 3h0M37 2h0M46 2h0M58 3h0M60 4h0M70 2h0M86 3h0M93 2h0M97 2h0M111 3h0M120 2h0M134 2h0M147 3h0M153 4h0M-3 7h0M24 7h0M31 7h0M35 7h0M43 7h0M48 5h0M54 8h0M63 6h0M71 7h0M98 6h0M108 7h0M118 7h0M122 6h0M126 7h0M149 7h0M153 7h0M165 7h0M1 10h0M23 12h0M28 9h0M31 9h0M42 10h0M51 11h0M65 9h0M78 11h0M82 12h0M91 10h0M101 9h0M107 9h0M111 10h0M115 11h0M121 12h0M142 11h0M157 10h0M3 15h0M20 14h0M23 13h0M28 14h0M42 14h0M47 14h0M75 15h0M79 16h0M93 15h0M107 13h0M118 15h0M127 13h0M135 14h0M161 13h0M0 20h0M6 19h0M25 18h0M29 17h0M38 19h0M55 20h0M64 18h0M71 17h0M92 17h0M101 18h0M117 18h0M119 18h0M124 18h0M135 19h0M159 18h0M162 18h0M-3 22h0M29 22h0M40 23h0M59 24h0M68 24h0M79 21h0M97 22h0M117 23h0M120 23h0M130 23h0M137 23h0M139 21h0M150 22h0M153 21h0M160 23h0M163 22h0M28 27h0M32 27h0M46 26h0M51 25h0M60 26h0M65 27h0M102 27h0M120 25h0M131 26h0M143 25h0M152 26h0M158 25h0M165 27h0M12 30h0M26 32h0M38 31h0M47 31h0M77 31h0M86 32h0M94 31h0M109 29h0M113 30h0M121 32h0M126 30h0M145 30h0M153 29h0M5 35h0M21 35h0M29 35h0M39 34h0M53 33h0M60 34h0M67 36h0M71 34h0M74 35h0M79 35h0M90 36h0M99 36h0M103 34h0M107 35h0M140 34h0M143 33h0M158 34h0M163 34h0M4 39h0M12 40h0M16 38h0M20 38h0M40 39h0M44 40h0M49 37h0M62 39h0M71 39h0M78 40h0M95 39h0M101 40h0M103 39h0M112 38h0M119 39h0M122 40h0M151 39h0M154 39h0M19 44h0M37 42h0M63 41h0M72 41h0M88 43h0M112 41h0M116 43h0M126 42h0M130 43h0M141 42h0M144 42h0M153 44h0M14 46h0M18 47h0M23 46h0M45 47h0M50 46h0M59 46h0M72 48h0M77 45h0M82 46h0M87 48h0M101 47h0M134 45h0M138 45h0M145 48h0M10 50h0M23 50h0M31 49h0M52 50h0M54 50h0M88 50h0M130 49h0M144 51h0M149 52h0M158 52h0M161 51h0M5 53h0M14 55h0M17 54h0M37 55h0M40 56h0M44 55h0M54 56h0M68 53h0M82 55h0M93 54h0M105 55h0M110 55h0M118 55h0M132 54h0M138 56h0M140 56h0M145 56h0M151 54h0M160 56h0M1 58h0M5 60h0M10 58h0M19 60h0M31 59h0M35 60h0M60 58h0M63 59h0M68 58h0M79 59h0M97 58h0M106 58h0M115 60h0M124 58h0M129 59h0M150 59h0M161 57h0M165 58h0M-1 63h0M3 62h0M21 62h0M49 61h0M58 62h0M92 63h0M104 64h0M114 62h0M119 63h0M124 62h0M136 63h0M142 63h0M152 62h0M0 65h0M14 67h0M20 66h0M23 67h0M28 66h0M37 67h0M41 66h0M47 65h0M51 67h0M60 67h0M65 66h0M69 67h0M74 65h0M84 66h0M92 68h0M147 68h0M154 66h0M161 66h0M22 70h0M40 70h0M64 72h0M82 71h0M90 71h0M100 71h0M118 70h0M150 71h0M161 72h0M10 75h0M24 75h0M37 73h0M62 75h0M69 75h0M80 74h0M115 74h0M138 75h0M143 74h0M3 79h0M17 79h0M33 78h0M46 78h0M51 80h0M60 78h0M63 77h0M81 79h0M114 78h0M128 79h0M141 79h0M147 79h0M161 78h0M166 78h0M4 84h0M8 81h0M13 83h0M19 81h0M21 84h0M32 81h0M41 81h0M64 82h0M69 82h0M95 83h0M100 84h0M133 83h0M164 83h0M8 87h0M21 87h0M37 86h0M44 85h0M63 86h0M72 88h0M76 87h0M81 88h0M87 88h0M92 88h0M96 86h0M101 86h0M105 87h0M109 86h0M117 86h0M133 86h0M146 87h0M152 88h0M5 91h0M10 92h0M14 90h0M24 92h0M28 91h0M46 90h0M56 90h0M70 91h0M73 89h0M94 90h0M106 92h0M111 90h0M114 90h0M134 92h0M140 91h0M8 95h0M11 93h0M16 95h0M22 95h0M30 94h0M38 94h0M57 96h0M63 96h0M66 94h0M70 94h0M76 95h0M81 94h0M89 95h0M105 94h0M108 96h0M134 93h0M150 94h0M164 95h0M4 98h0M9 99h0M24 100h0M32 98h0M49 97h0M74 98h0M76 100h0M82 98h0M86 100h0M99 98h0M104 100h0M115 99h0M125 98h0M129 97h0M133 98h0M151 100h0M156 98h0M0 101h0M11 103h0M16 104h0M23 103h0M32 104h0M41 103h0M44 103h0M59 104h0M72 101h0M87 104h0M90 101h0M96 102h0M109 102h0M145 103h0M151 102h0M157 102h0M8 106h0M14 107h0M21 105h0M27 107h0M33 105h0M60 106h0M82 106h0M86 106h0M95 106h0M107 106h0M115 106h0M124 105h0M132 108h0M138 106h0M141 107h0M161 107h0M166 106h0M1 109h0M7 110h0M16 111h0M30 110h0M33 110h0M90 111h0M95 111h0M109 110h0M116 111h0M122 112h0M144 112h0M154 111h0M163 110h0M1 115h0M11 116h0M13 113h0M20 116h0M27 113h0M37 116h0M56 116h0M59 114h0M64 115h0M88 115h0M92 116h0M102 115h0M106 114h0M110 113h0M116 114h0M120 116h0M124 115h0M127 115h0M139 115h0M152 115h0M155 115h0M12 119h0M22 120h0M36 117h0M48 119h0M57 120h0M65 120h0M86 119h0M90 119h0M95 118h0M98 118h0M103 119h0M122 120h0M136 120h0M146 117h0M149 117h0M153 118h0M158 120h0M6 123h0M10 122h0M29 122h0M34 123h0M37 122h0M57 123h0M71 122h0M75 122h0M84 123h0M89 123h0M92 122h0M99 122h0M112 124h0M115 124h0M121 123h0M134 124h0M150 122h0M162 123h0M-3 126h0M14 125h0M22 126h0M41 125h0M54 125h0M57 126h0M73 128h0M81 128h0M97 125h0M103 127h0M119 126h0M156 126h0M159 127h0M11 132h0M24 131h0M45 132h0M78 130h0M86 131h0M96 131h0M101 129h0M123 129h0M128 131h0M137 130h0M144 130h0M155 130h0M39 135h0M53 134h0M57 136h0M66 135h0M76 134h0M84 133h0M103 136h0M109 135h0M112 135h0M149 135h0" stroke="#522c9e" stroke-width="2.5" stroke-linecap="round" stroke-opacity="0.75"/><path d="M22 -1h0M44 -2h0M116 -3h0M1 3h0M33 3h0M52 1h0M87 2h0M101 2h0M129 2h0M85 6h0M90 5h0M93 7h0M130 6h0M141 7h0M5 9h0M18 11h0M36 9h0M135 12h0M138 11h0M60 14h0M140 16h0M34 19h0M46 19h0M110 19h0M130 20h0M11 22h0M43 23h0M47 22h0M145 23h0M9 28h0M16 26h0M38 26h0M80 25h0M88 27h0M105 28h0M6 29h0M15 32h0M66 32h0M3 35h0M57 33h0M134 35h0M85 37h0M109 38h0M126 39h0M147 40h0M5 42h0M86 43h0M93 44h0M121 42h0M159 42h0M162 41h0M7 47h0M39 46h0M56 48h0M97 47h0M110 45h0M156 47h0M164 47h0M17 51h0M47 49h0M106 51h0M116 52h0M153 49h0M95 54h0M123 54h0M166 53h0M55 59h0M86 58h0M146 57h0M63 64h0M89 67h0M99 66h0M112 66h0M44 71h0M48 70h0M69 70h0M74 70h0M104 72h0M137 69h0M156 71h0M2 76h0M18 75h0M82 73h0M93 76h0M112 74h0M157 76h0M-1 78h0M68 80h0M138 77h0M27 84h0M35 82h0M72 82h0M77 81h0M143 82h0M150 81h0M157 83h0M50 87h0M53 86h0M123 88h0M166 86h0M53 91h0M124 91h0M43 96h0M116 94h0M-2 99h0M19 98h0M42 99h0M60 98h0M91 98h0M119 98h0M5 103h0M7 103h0M49 104h0M5 106h0M54 106h0M68 106h0M73 108h0M78 108h0M102 107h0M-3 112h0M134 110h0M149 110h0M22 116h0M162 116h0M6 120h0M16 117h0M43 117h0M54 119h0M131 119h0M2 122h0M48 122h0M65 124h0M103 123h0M108 121h0M126 122h0M154 123h0M4 128h0M136 125h0M141 127h0M29 132h0M147 130h0M22 134h0M95 134h0M139 134h0" stroke="#522c9e" stroke-width="3.0" stroke-linecap="round" stroke-opacity="0.75"/><path d="M95 103l4 0M106 83l0 -3M108 113l2 2M17 62l-3 0M163 14l2 -2M81 39l0 -3M36 125l2 1M140 128l-2 0M126 45l4 0M50 51l1 3M154 114l-1 2M58 51l-2 -3M80 72l-3 -1M112 119l2 -2M154 118l1 -1M137 61l1 -3M29 20l3 0M25 37l3 1M131 84l-3 0M90 57l3 -1M71 41l-4 -1M7 85l2 0M70 81l-2 3M97 110l0 2M7 120l-3 -3M95 28l-2 -1M139 116l3 0M66 25l-3 -3M7 95l3 -1M26 87l3 -2M77 105l-1 3M117 118l1 -3M55 101l-2 -2M90 18l-2 1M26 33l3 1M79 19l2 -1M81 72l3 -1M74 27l-1 2M135 65l-1 -2M137 74l2 -2M116 90l2 1M81 52l-2 0M156 106l-2 1M159 112l-1 3M155 35l-2 2M160 10l-1 -3M54 29l2 0M160 36l2 1M146 92l1 2M78 29l1 3M6 95l1 -2M79 25l3 -1M161 20l-2 3M138 96l3 -1M28 132l-2 3M150 119l-4 1M115 95l1 2M46 78l1 2M129 63l-2 -1M63 49l-2 -1M111 70l-3 1M29 17l-2 2M109 129l-1 2M32 34l1 1M93 129l3 -3M141 20l4 0M31 9l-3 1M162 3l1 -4M35 51l-3 -1M48 132l-2 -2M162 26l-2 -1M34 42l0 2M94 58l0 -2M63 73l0 -2M8 125l-2 0M111 61l-2 3M63 10l3 -2M86 125l1 2M136 130l0 -4M105 95l0 -3M33 57l2 -2M123 30l2 -2M127 37l-1 1M30 126l-2 0M32 130l-2 -2M71 35l1 -2M59 19l3 0M44 70l3 1M153 79l-2 -2M127 93l-1 -1M90 5l-3 1M109 34l0 2M64 22l2 -1M19 31l0 -3M159 121l3 3M28 11l-4 1M43 133l-2 -1M123 6l2 1M151 96l2 0M15 71l-4 -1M111 112l2 -2M40 82l0 -2M94 127l-2 0M33 75l0 -2M3 106l3 1M112 58l2 -3M134 132l-3 -2M90 43l3 -2M15 0l0 -2M43 103l-2 0M82 123l-1 -2M77 5l3 2M58 62l-2 -3M127 21l-2 3M105 126l2 2M82 89l1 3M91 18l-3 1M93 66l0 -4M130 117l-2 0M105 133l2 0M68 43l2 -1M37 107l-1 -1M25 33l2 3M84 126l1 3M95 83l2 -3M150 75l3 0M19 37l-3 -1M22 106l-1 -1M116 34l3 1M93 77l3 -1M2 42l4 -1M78 125l-2 0M76 40l1 -2M150 26l0 3M132 14l1 2M59 50l2 3M75 124l0 -2M76 132l0 2M144 58l2 0M159 43l-2 2M5 45l0 4M95 52l-1 2M25 33l1 -1M143 59l-1 -2M118 47l0 3M0 104l0 2M49 9l-2 0M135 115l-3 2M122 80l-1 1M88 93l1 -4M114 16l-3 1M30 0l-1 -3M139 118l1 -2M60 78l-3 0M67 29l0 4M143 88l2 1M58 26l2 3M63 83l2 0M22 114l3 2M66 13l-2 1M121 126l4 0M32 124l2 2M62 87l-3 0M99 129l-3 1M100 88l4 -1M157 112l2 -2M122 18l0 3M87 67l3 -2M68 42l-2 -1M50 24l3 1M68 61l-1 -4M111 23l2 -1M80 112l3 1M109 21l3 -2M50 92l3 1M144 62l-3 2M124 70l0 -3M139 119l0 -3M4 123l-2 -2M126 55l1 -2M129 37l2 -1M33 68l2 0M162 68l0 -2M91 3l-2 3M77 128l-1 -3M79 24l2 -1M149 5l1 2M72 59l-1 -1M22 2l-3 0M159 34l1 1M114 33l1 -2M40 46l-3 -1M63 116l-1 -2M104 45l2 0M101 43l-1 -1M23 36l-1 -4M160 49l-3 -1M56 105l4 0M39 133l2 0M67 1l3 2M123 121l2 -1M7 97l1 -2M26 56l-2 3M128 127l1 3M103 54l0 3M154 114l-2 0M46 103l-1 -2M163 52l2 2M6 62l-3 -1M89 58l-2 -1M96 100l-2 1M88 32l-3 1M20 113l3 -1M79 111l1 3M32 44l-2 1M36 109l1 -2M70 104l-1 -1M117 8l-1 -3M43 78l2 0M157 70l0 -3" stroke="#f2d8ee" stroke-width="0.7" stroke-opacity="0.8" fill="none"/><path d="M91 77h0M80 50h0M112 55h0M22 117h0M25 32h0M116 110h0M0 107h0M58 75h0M24 30h0M3 119h0M137 20h0M17 51h0M126 62h0M2 110h0M36 24h0M158 71h0M66 68h0M58 33h0M47 8h0M85 32h0M33 42h0M105 91h0M139 66h0M94 96h0M163 34h0M61 59h0M146 85h0M28 39h0M78 68h0M55 5h0M161 80h0M121 116h0M6 114h0M100 104h0M16 28h0M128 36h0M90 17h0M68 76h0M95 45h0M60 48h0M51 78h0M56 56h0M118 109h0M146 103h0M37 124h0M141 124h0M60 32h0M110 37h0M63 48h0M68 52h0M132 64h0M94 116h0M72 52h0M155 42h0M124 27h0M146 124h0M51 57h0M86 17h0M91 130h0M129 43h0M18 63h0M63 42h0M14 49h0M148 88h0M59 77h0M70 61h0M28 133h0M42 89h0M91 107h0M129 123h0M9 75h0M9 106h0M16 18h0M16 35h0" stroke="#f4e6f6" stroke-width="0.5" stroke-linecap="round" stroke-opacity="0.85"/><path d="M23 108h0M134 1h0M85 88h0M97 57h0M11 87h0M45 14h0M70 80h0M130 46h0M8 97h0M77 129h0M61 7h0M112 33h0M123 3h0M7 110h0M156 19h0M13 123h0M44 105h0M152 61h0M6 46h0M101 67h0M19 8h0M93 30h0M129 6h0M148 64h0M125 132h0M92 83h0M159 66h0M124 91h0M156 101h0M45 12h0M151 71h0M35 44h0M4 69h0M7 13h0M75 105h0M87 78h0M99 88h0M148 52h0M30 95h0M85 130h0M11 79h0M134 15h0M13 121h0M63 50h0M138 116h0M140 9h0M157 99h0M42 11h0M80 84h0M19 59h0M40 62h0M149 16h0M128 128h0M95 119h0M8 90h0M16 44h0M30 20h0M38 4h0M45 94h0M161 40h0M82 113h0M145 68h0M70 52h0M163 13h0M52 34h0M44 81h0M127 126h0M25 31h0M161 71h0M25 106h0M103 119h0M132 65h0M48 5h0M49 124h0M92 132h0M71 21h0M73 3h0M121 89h0M144 1h0M34 32h0M159 24h0M138 85h0M153 16h0M151 45h0M14 64h0M24 111h0M1 100h0M159 29h0M20 95h0M26 6h0M73 65h0M147 28h0M45 89h0M67 55h0M101 41h0M147 46h0M158 11h0M139 97h0M73 15h0M124 73h0M40 43h0M112 25h0M159 99h0M148 13h0M71 11h0M77 102h0M72 25h0M55 81h0M38 93h0M136 59h0M48 78h0M119 0h0M51 12h0M65 11h0M56 46h0M141 105h0M145 10h0M31 67h0M127 52h0M161 30h0M54 33h0M75 105h0M72 17h0M97 17h0M82 45h0M69 6h0M78 8h0M121 132h0M143 70h0M112 62h0M51 47h0M47 39h0M7 42h0M151 25h0M89 97h0M39 10h0M134 109h0M123 117h0M55 95h0M93 90h0M68 2h0M3 81h0M74 20h0M99 18h0M129 6h0M125 56h0M90 19h0M105 12h0M126 11h0M129 42h0M7 116h0M119 59h0M4 51h0M22 9h0M136 28h0M123 26h0M24 18h0M110 104h0M93 117h0M162 91h0M5 14h0M18 93h0M127 67h0M141 49h0M40 84h0M25 116h0M92 15h0M121 61h0M88 34h0M8 72h0M43 57h0M130 55h0M72 21h0M46 21h0M162 14h0M147 50h0M162 80h0M8 55h0M9 84h0M65 94h0M57 17h0M130 120h0M4 63h0M10 13h0M68 16h0M26 97h0M16 112h0M105 110h0M89 28h0M14 87h0M56 74h0M18 66h0M153 8h0M87 130h0M160 78h0M66 6h0M68 62h0M104 84h0M160 46h0M156 107h0M113 43h0M43 36h0M86 69h0M87 12h0M8 21h0M105 131h0M3 55h0M56 31h0M49 13h0M162 12h0M158 80h0M156 44h0M123 21h0M93 14h0M23 98h0M33 26h0M61 113h0M78 23h0M115 66h0M77 131h0M79 41h0M18 33h0M48 124h0M47 57h0M52 48h0M105 13h0M123 21h0M123 51h0M103 24h0M143 79h0M9 131h0M67 111h0M125 57h0M7 70h0M24 55h0M14 86h0M155 68h0M82 84h0M60 105h0M108 55h0M137 53h0M39 72h0M108 127h0M32 115h0M76 94h0M151 22h0" stroke="#f4e6f6" stroke-width="1.0" stroke-linecap="round" stroke-opacity="0.85"/><path d="M64 108h0M33 25h0M135 86h0M123 29h0M147 35h0M110 47h0M98 13h0M68 69h0M161 91h0M156 6h0M45 109h0M161 73h0M27 10h0M17 37h0M129 32h0M82 46h0M29 39h0M68 36h0M90 54h0M60 44h0M141 127h0M90 1h0M127 87h0M49 62h0M137 14h0M14 101h0M115 113h0M107 110h0M67 67h0M126 130h0M73 3h0M101 68h0M118 96h0M162 107h0M160 71h0M46 70h0M89 45h0M62 122h0M102 29h0M60 53h0M152 98h0M154 68h0M160 121h0M118 33h0M20 46h0M31 33h0M102 21h0M13 74h0M155 54h0M139 73h0M153 96h0M69 48h0M107 12h0M33 79h0M113 90h0M5 64h0M101 35h0M51 97h0M117 47h0M159 33h0" stroke="#f4e6f6" stroke-width="1.5" stroke-linecap="round" stroke-opacity="0.85"/><path d="M89 40h0M83 29h0M69 114h0M65 132h0M107 86h0M51 100h0M154 11h0M12 80h0M161 107h0M14 58h0M144 18h0M128 45h0M123 85h0M37 123h0M34 105h0M148 35h0" stroke="#e0407a" stroke-width="1.0" stroke-linecap="round" stroke-opacity="0.8"/><path d="M66 31h0M133 39h0M99 4h0M128 74h0M23 83h0M93 119h0M128 99h0M74 46h0M158 120h0M71 82h0M92 45h0M160 9h0M57 87h0M118 57h0" stroke="#e0407a" stroke-width="1.5" stroke-linecap="round" stroke-opacity="0.8"/></g><ellipse cx="228.5" cy="611.8" rx="5.5" ry="3.4" transform="rotate(-20 228.5 611.8)" fill="#fbf6fb"/><path d="M231,609 l7,-4 l-1,3z" fill="#fbf6fb"/><ellipse cx="318.7" cy="626.2" rx="4.5" ry="3.5" transform="rotate(0 318.7 626.2)" fill="#fbf6fb"/><path d="M313,626 l12,-3 l-4,5 l5,3z" fill="#fbf6fb"/><ellipse cx="239.4" cy="682" rx="1.5" ry="2.5" transform="rotate(0 239.4 682)" fill="#fbf6fb"/></g></g><g clip-path="url(#ct1)"><g filter="url(#sf)"><rect x="188.8" y="714.3" width="163.2" height="133.7" fill="#c6cff0"/><g transform="translate(188.8,714.3)"><path d="M161 20l-2 3M88 66l-4 2M30 107l-3 1M82 40l-3 0M67 54l-1 -2M27 47l3 3M77 94l-3 4M137 81l2 2M116 69l3 1M9 60l2 -4M18 87l-3 1M118 20l0 3M30 66l-1 2M95 47l3 2M107 8l-1 -4M53 2l1 3M120 64l2 -1M39 6l-5 0M17 93l1 -4M48 124l-4 -1M67 50l-1 -2M162 92l3 3M125 74l0 3M49 97l4 0M80 110l-1 -4M23 16l-3 3M87 58l-1 2M32 91l3 -1M34 42l4 -2M27 92l0 -4M162 40l-2 -2M4 83l4 -1M136 6l2 -3M150 24l-4 3M48 58l-2 3M53 87l0 -2M25 84l1 -3M88 53l-3 -2M6 107l-2 -2M74 48l3 4M75 25l1 2M90 29l-1 3M61 131l-3 0M57 5l-1 -3M28 107l-1 4M130 109l1 4M75 39l3 2M13 20l1 5M142 84l4 0M44 48l-2 -4M118 6l-2 -3M154 79l3 1M99 99l-1 -4M125 73l4 -1M70 64l1 -2M132 52l-1 2M49 83l-4 1M91 9l-1 -2M47 12l-1 -4M18 79l2 2M30 55l-4 1M78 70l2 0M112 36l-1 -4M69 21l-3 -3M57 104l-3 -3M156 130l3 2M32 62l5 -1M93 64l4 -2M64 62l-3 2M74 81l3 0M110 120l1 -5M149 107l-1 -3M22 92l-4 2M91 106l-1 3M137 72l3 -2M52 12l-2 -1M39 70l4 1M8 10l-3 1M118 70l-2 2M0 16l3 -3M154 19l0 5M144 2l2 2M56 80l1 -2M33 101l2 -1M117 34l1 -2M126 6l2 4M79 42l2 4M119 41l2 -1M148 36l-2 -3M145 123l-5 1M31 132l4 -2M4 39l-4 -1M13 5l-1 -3M148 49l2 -1M95 130l-4 -3M91 103l4 -1M140 119l-1 -5M147 8l4 -2M54 33l-2 3M118 41l-2 2M146 96l-1 -4M98 72l2 -1M24 42l0 -3M31 69l0 5M67 88l-3 2M7 104l0 -2M75 10l0 -4M10 126l-3 2M27 70l3 -1M126 44l-4 2M16 119l4 2M56 102l4 0M56 44l-2 2M89 14l-1 -3M67 60l-1 -3M50 53l-4 -1M26 72l2 0M132 69l1 -4M45 37l1 2M158 113l-2 0M105 96l-3 -4M67 21l1 -2M45 81l-4 3M83 91l3 1M141 94l4 0M30 120l2 -1M142 128l-3 0M31 89l-1 2M124 59l-4 -1M75 71l-5 -1M113 32l3 1M117 28l5 0M84 107l4 -1M43 93l4 -2M143 73l3 -1M135 98l1 -2M26 9l0 -4M50 134l-4 2M119 40l3 1M37 23l-2 2M2 3l-1 -4M90 19l-2 -2M158 38l-2 -2M63 99l2 2M65 102l3 3M146 45l2 1M27 102l-3 3M34 32l1 3M156 131l2 3M157 97l-1 -4M76 92l3 0M38 5l-4 1M51 70l-2 -2M28 40l3 3M47 56l2 -3M60 83l1 -3M96 12l0 2M154 1l2 -2M15 45l-2 -2M33 51l1 3M144 90l1 -1M27 46l-2 4M137 78l4 0M2 43l0 -5M103 23l3 0M2 39l-1 4M127 112l0 -3M84 1l1 -3M59 74l-4 1M72 131l-4 -1M130 116l-4 0M79 19l3 2M58 129l2 -3M158 100l-1 -4M151 29l-3 -2M152 115l3 -4M162 124l0 -2M96 96l-1 4M75 126l-5 -1M97 68l-2 2M85 32l1 5M124 86l-1 3M123 96l-2 -1M5 95l4 3M57 71l-2 -3M118 26l5 -1M156 115l0 -3M100 15l-2 -4M77 128l-2 -4M90 42l2 0M52 23l2 3M26 85l4 2M126 76l-3 4M107 89l-5 0M107 94l-5 -1M65 37l-3 1M85 14l1 -3M64 29l1 -2M113 56l0 -2M59 25l-3 -4M150 2l3 0M142 37l3 -4M7 100l3 2M142 26l1 -3M134 6l2 1M114 92l-2 3M2 36l-1 3M5 36l2 1M95 44l0 3M83 94l-3 -1M139 80l4 2M105 62l-2 4M73 115l-5 0M101 112l1 4M21 89l0 4M20 54l2 -2M74 94l-3 1M64 126l0 -5M79 47l-1 -4M95 125l-2 -4M69 21l-4 3M115 93l-3 0M50 66l-4 0M112 72l-1 2M140 72l-1 -3M7 64l-3 -1M72 53l-3 1M137 43l-1 4M133 93l-4 -2M115 102l-1 -2M43 70l-3 2M38 102l-2 -1M130 80l-2 -2M91 109l-4 2M116 107l-5 -1M121 96l-2 -3M6 107l-4 2M97 72l-4 3M152 97l-2 1M68 31l-2 -4M82 46l-3 2M19 38l4 -2M127 61l0 -3M155 45l1 5M103 0l4 2M147 61l1 -3M85 37l1 -3M66 128l3 -4M97 91l-4 -2M5 21l1 -2M119 106l-3 1M56 27l-1 2M123 65l-4 -1M134 100l-2 2M47 11l-3 2M116 123l1 -2M137 68l5 -1M18 11l1 -3M5 112l-1 3M51 107l4 -1M44 24l-5 0M7 25l-3 3M85 41l2 1M12 15l2 1M63 75l-3 1M98 8l-5 1M12 8l2 1M8 39l-2 1M131 96l3 -1M72 67l-2 -1M105 22l3 1M86 96l-2 -2M32 37l-1 -2M100 66l2 -2M146 70l3 -2M13 44l0 3M56 118l0 -3M98 132l0 5M6 112l4 -2M65 125l-3 2M136 1l2 2M52 13l5 0M33 112l3 -3M41 42l-1 3M50 14l-3 -1M12 129l4 1M135 38l2 -4M10 33l-2 4M138 100l-2 -4M121 82l5 -1M79 123l-1 4M77 4l1 -3M118 111l2 -4M145 90l1 4M91 79l-1 4M135 25l3 0M8 119l-2 -1M29 46l-2 2M20 45l-2 -1M93 0l-4 2M128 18l3 0M63 89l-2 -2M159 132l-3 2M139 10l-1 5M98 101l2 2M131 22l4 -1M151 125l0 -3M137 32l-4 -2M9 111l4 1M135 22l3 1M42 38l3 4M18 125l2 2M122 97l0 3M96 41l1 -3M95 112l1 4M36 83l3 0M92 42l-2 0M17 124l-3 -3M50 93l2 3M80 77l-2 4M23 114l-3 1M109 125l-3 2M22 47l-5 1M80 79l-3 2M38 91l1 4M18 98l3 -1M105 22l-2 -4M71 101l-4 1M163 33l-4 0M32 51l2 0M105 31l4 -3M124 113l2 -1M161 114l-3 1M81 109l-3 0M10 1l2 -3M31 56l3 -1M155 30l3 2M64 38l0 2M122 99l-3 -2M80 126l3 -2M101 88l0 -3M82 21l3 -3M109 120l-1 2M29 111l4 0M7 29l4 3M98 95l-2 2M56 43l-2 -3M1 122l-2 1M130 17l-5 1M55 27l0 2M131 90l-2 3M114 2l1 -3M77 10l3 -2M46 4l4 0M124 133l4 -2M0 70l-1 -4M64 19l0 4M130 40l1 3M129 106l4 1M100 41l4 0M42 46l-3 2M126 62l3 2M36 68l3 0M121 115l2 2M28 92l3 2M86 96l-1 3M46 98l2 2M7 28l-3 0M126 105l-1 2M121 112l3 4M99 70l-3 -3M51 37l-1 3M124 61l-4 -2M5 45l-2 -3M87 118l-3 -3M17 118l1 2M64 57l3 -1M16 18l-4 -1M30 93l0 -3M155 29l-3 0M108 71l-2 1M125 64l3 -3M50 107l4 -2M148 114l0 -3M47 31l1 -3M110 116l3 2M6 100l-2 2M161 5l0 3M144 95l3 2M123 129l2 -2M113 95l2 -3M72 38l0 2M133 65l3 3M29 94l-2 1M134 125l-3 -4M44 96l-4 2M124 3l-3 1M138 46l-4 0M159 126l-4 -2M87 52l3 -2M157 55l-2 -3M66 121l3 -3M113 72l1 2M120 49l1 -2M62 85l-5 0M110 105l3 -1M113 35l-1 -4M38 99l-2 -1M52 86l1 3M39 66l3 -3M96 86l1 2M93 104l-1 -2M101 130l0 3M125 43l-5 -1M129 118l5 1M118 72l-3 -3M146 19l-3 -2M128 90l3 -1M11 76l-2 1M45 67l2 -4M96 114l4 1M53 68l0 2M156 118l-5 -1M57 79l5 -2M66 79l-2 3M66 26l3 0M117 53l2 -1M1 25l-3 1M150 107l4 3M28 108l0 -4M86 7l-3 -3M68 72l-1 -4M142 86l3 -1M74 39l1 2M36 15l-2 3M6 26l-2 -3M58 82l3 3M103 116l-5 -2M8 16l2 -2M84 90l-2 3M26 103l4 -3M53 75l4 3M57 64l-2 -3M133 44l5 -1M144 29l3 1M77 17l2 -2M46 38l1 3M20 103l-3 1M11 39l3 0M32 55l2 -2M127 76l0 2M148 35l1 3M118 45l-2 -1M20 39l-2 3M101 124l-3 -2M58 130l-3 1M46 13l-1 -4M113 24l2 0M138 109l1 2M86 11l0 -3M62 41l-2 -2M151 96l-3 3M28 36l0 5M27 91l-2 0M72 80l2 -4M5 16l0 -3M107 56l-3 0M58 118l-1 -3M63 100l-4 -2M138 30l2 -1M115 1l4 0M72 18l4 0M69 116l-3 2M138 61l4 1M54 6l3 -2M127 70l2 3M143 1l-2 3M70 0l-2 -4M33 94l-2 -3M47 17l2 3M9 40l0 -4M73 24l2 2M38 59l-1 2M64 121l-3 0M85 110l-3 0M67 97l-3 1M72 12l-2 -2M58 70l3 0M136 87l-4 0M153 124l-4 -1M43 92l-2 1M23 59l2 1M27 120l0 3M104 20l3 0M87 9l-2 -3M130 59l-4 3M70 78l2 1M94 18l-4 0M149 1l1 -3M49 53l-1 -4M109 13l-2 0M138 22l-2 4M115 2l2 -2M76 30l4 0M40 92l2 0M114 35l3 0M91 109l3 -3M161 127l-2 -1M131 67l4 -1M103 110l4 0M71 0l-3 -1M15 63l-4 -3M74 101l3 -4M20 55l-2 -2M122 4l-2 1M158 49l-4 -3M99 122l4 -3M128 114l-1 2M5 17l2 -2M58 45l1 -4M0 0l4 0M112 53l4 -1M132 55l4 -1M112 124l2 2M58 40l-3 -3M29 100l2 3M52 95l0 4M13 67l-2 -2M109 110l-2 -3M154 70l0 -4M43 83l-3 3M111 52l2 1M74 6l-3 -3M56 59l-4 3M129 42l-3 3M92 17l2 0M153 118l-3 1M50 33l-1 -4M93 39l5 -1M20 106l0 5M66 30l-4 1M100 7l-2 0M120 124l-1 3M59 126l2 3M62 52l0 4M134 29l-3 2M10 24l3 2M91 5l4 3M160 47l-1 -3M78 129l-1 -5M84 38l4 -2M152 50l-1 3M162 57l1 -4M80 126l-2 -2M33 94l-1 3M9 9l1 -2M68 13l4 0M122 48l3 -2M40 10l-4 2M26 43l3 2M124 25l2 0M135 84l-3 -3M110 51l4 2M79 22l2 3M67 104l-3 0M99 38l-1 -5M4 88l-1 -3M139 75l1 -3M59 132l-1 -3M4 7l-2 2M77 26l-2 -4M121 88l2 3M84 70l-2 -4M26 73l1 -3M136 100l0 4M75 36l1 -4M150 130l3 -3M108 71l-4 1M116 64l4 2M93 41l-2 -3M115 18l-1 -3M53 10l-2 2M18 70l-2 -1M103 97l4 2M144 75l-4 0M113 105l-1 -3M69 33l-2 4M96 31l-2 2M23 48l-2 1M84 30l-1 -2M56 16l3 1M114 85l1 4M33 92l-5 2M4 127l-2 0M36 20l3 2M116 40l4 2M113 46l-2 -3M19 117l-2 -2M56 112l-3 -1M87 120l4 2M33 71l2 0M92 97l-2 5M7 73l-2 4M8 12l1 2M11 64l-2 3M4 16l2 -3M67 133l4 3M26 66l5 1M81 49l0 -3M70 47l2 -1M158 74l-2 2M125 42l0 4M139 36l0 4M163 75l2 -2M18 37l-4 1M64 1l-1 -3M87 76l4 -2M24 6l-3 -1M144 85l0 -4M59 55l0 3M70 58l-1 3M1 101l5 0M78 97l-1 -3M9 87l-4 0M143 24l0 2M132 23l2 -4M106 106l-3 0M4 23l0 -4M36 29l1 -4M1 3l0 -2M151 76l2 2M54 46l4 -3M102 130l4 0M119 86l2 1M88 46l-4 -1M78 76l-3 0M25 13l-3 0M113 24l-2 3M101 88l3 3M48 7l2 1M125 32l0 4M133 54l0 -5M22 69l1 3M110 26l-1 5M132 89l0 -2M155 10l-2 2M108 4l3 4M122 49l-3 0M4 17l2 -3M2 81l3 2M38 45l1 -4M124 21l-3 -1M101 38l0 2M68 26l-4 -2M112 29l0 -3M42 54l-2 0M111 59l0 5M15 100l0 -2M157 8l-1 -4M95 55l2 -1M134 1l-2 -2M76 50l-1 4M67 2l-3 2M16 109l1 4M44 8l2 0M90 34l2 -3M158 34l3 -3M75 34l2 -4M119 85l3 0M55 74l5 -1M91 83l1 -2M32 57l-4 -2M84 35l-2 -1M20 75l2 -2M113 63l3 -3M114 40l-1 -2M10 118l2 -4M30 102l-3 2M118 14l0 3M68 63l-4 -1M89 72l-3 1M23 107l4 0M147 51l3 -3M145 72l-3 0M82 131l1 2M103 102l0 -4M50 44l-2 1M40 17l3 2M93 32l3 0M9 70l-1 3M143 109l1 -4M98 13l3 -1M138 52l1 2M109 38l-1 3M38 64l3 -4M118 118l-1 -4M116 32l0 -3M2 129l2 0M96 80l0 5M90 7l1 -3M30 23l-2 -4M126 63l-3 4M137 86l-2 1M156 67l3 2M2 130l-4 -2M68 1l0 4M75 79l-3 -3M57 102l3 -2M151 13l-1 2M49 3l2 1M26 117l-2 0M12 107l-1 -3M43 22l2 4M94 71l3 -1M37 126l4 -2M125 49l3 -3M10 103l0 4M128 84l-2 -1M60 53l-2 1M160 8l-4 2M83 87l3 -1M74 115l0 -4M94 69l-2 -2M2 48l1 2M131 15l3 -1M151 34l1 -2M113 127l-4 -1M87 107l-4 3M74 57l-3 1M139 134l-2 3M142 39l-1 -5M92 88l4 -1M17 19l-4 -1M54 111l-2 -2M64 10l-3 -1M91 133l3 0M49 40l1 3M134 44l2 -3M118 6l4 -3M80 11l-2 1M143 130l3 3M145 35l-2 4M91 58l1 -4M55 81l4 -1M25 1l-3 -1M67 101l-5 -2M98 74l-3 -4M108 51l2 -2M17 5l3 -2M99 91l-2 -4M74 60l-3 -1M1 20l2 0M135 96l-2 -4M157 44l-3 -2M104 56l3 4M120 75l5 1M52 11l1 -2M25 41l-2 1M30 73l-4 3M101 105l2 -1M57 45l1 4M1 2l-3 -1M153 105l1 -3M141 42l2 -2M70 96l-3 0M72 34l4 2M69 124l3 -3M144 128l0 -3M146 52l0 -2M53 21l4 1M149 17l1 -3M120 77l2 2M146 100l-4 -2M14 20l-4 0M94 129l-1 -3M121 25l-2 1M11 12l1 2M54 68l-1 4M66 74l-4 0M91 131l3 -2M144 24l-4 0M77 35l1 2M71 65l2 2M45 26l-3 -1M110 123l3 -2M120 47l2 2M87 105l-3 0M44 78l-2 0M43 39l-1 3M125 100l-4 2M115 35l2 -3M45 125l2 -1M29 8l-2 0M95 18l2 3M120 13l1 4M156 24l1 -3M84 24l4 -1M138 82l-2 -2M69 113l-4 3M17 85l-2 2M60 125l2 0M156 101l2 -4M30 72l1 -4M87 77l5 -2M157 98l2 3M62 47l2 1M39 88l-3 1M112 5l-1 -4M75 60l1 -3M55 46l-4 -2M123 32l-3 -1M151 74l-4 2M126 15l3 1M71 31l-3 2M159 121l0 -2M119 78l-2 2M51 81l0 -2M57 68l-3 0M54 24l4 -2M74 49l-1 3M97 18l3 -3M16 100l2 -1M22 95l-2 -2M84 95l-2 0M148 28l0 -2M50 23l0 -4M73 126l-2 -2M58 65l1 2M55 40l1 3M85 132l3 0M124 67l4 -1M151 18l3 -1M101 8l3 1M115 83l1 -2M97 49l3 -3M99 115l-2 1M3 58l0 3M13 119l-4 1M156 13l-1 -2M110 88l3 1M14 88l-5 0M18 87l3 0M59 59l-1 -4M143 55l-4 -1M60 92l0 5M86 30l-1 3M50 92l0 -3M10 122l2 3M140 73l0 -4M137 115l0 -3M143 121l4 3M158 6l-2 3M24 68l2 2M114 61l-3 -2M76 91l-5 1M152 59l4 2M31 108l4 -3M114 131l1 -4M5 11l0 -2M9 34l-2 -2M46 40l0 -3M76 51l1 3M154 88l3 -1M56 131l2 -2M82 100l-2 -1M64 120l-2 3M120 128l-5 0M29 113l2 -3M46 86l-1 2M2 82l4 -1M115 71l2 4M137 39l-2 2M7 21l5 -1M63 15l1 -3M31 115l-1 -1M144 129l-4 0M31 120l2 -1M150 84l-2 -3M79 75l2 0M9 83l4 -1M15 5l4 1M14 47l-4 2M48 45l0 -3M114 18l2 -4M99 108l-2 -1M16 131l0 4M54 32l1 2M139 47l-4 -3M127 60l2 -5M52 50l-4 1M125 2l1 -2M7 131l3 -2M85 127l2 4M63 69l-4 -1M38 19l3 -2M118 77l1 -4M10 53l-3 0M12 36l-3 3M114 83l0 -3M132 55l-3 -3M10 3l-5 -1M77 114l-1 -2M107 119l2 -3M93 82l-4 0M126 120l-3 -3M69 71l-1 -3M115 106l1 3M24 57l-1 4M51 113l2 2M67 111l2 1M35 29l3 1M79 104l0 3M18 44l2 1M57 105l-2 -2M144 20l-2 0M54 9l-1 -4M124 27l3 -1M126 69l-3 -2M17 31l0 4M101 79l0 2M88 120l-3 0M144 63l2 -2M1 32l3 0M68 40l-4 3M70 9l-2 -2M99 48l2 0M123 22l0 -2M3 6l-4 1M114 98l1 2M155 65l2 -3M38 117l-3 -1M90 81l-4 1M20 63l0 -2M141 95l-4 -2M134 42l2 -3M38 97l2 -3M86 109l5 0M122 22l-2 2M36 47l-3 0M125 81l5 -2M21 22l2 1M79 121l-2 -4M54 4l-3 1M31 72l-3 0M120 110l0 4M53 44l1 -4M158 33l-3 3M21 52l1 5M131 100l-2 -4M150 86l1 2M115 83l1 -3M20 10l3 -4M52 124l3 0M100 63l1 4M87 112l3 4M145 81l-1 3M45 84l3 -1M86 103l-2 1M43 19l0 3M50 27l-3 -1M8 110l4 0M109 55l-4 1M140 94l1 5M78 3l-2 0M113 127l-2 -4M103 36l1 -4M77 11l-2 4M129 6l2 -2M102 67l-4 -1M88 87l2 0M62 92l2 0M86 56l3 2M78 121l1 -2M35 30l4 -1M60 12l2 4M67 125l5 -1M107 107l-4 3M49 18l-2 -3M95 63l1 2M24 19l0 -5M39 105l-1 -2M117 127l-5 0M141 38l0 3M94 1l1 2M4 50l-3 -2M100 13l2 -2M58 109l-1 2M56 1l-1 -4M33 80l3 -4M69 29l3 3M85 98l-4 -1M9 73l-1 4M119 93l2 -3M85 6l1 2M90 103l-2 4M156 59l-1 2M138 86l4 2M55 18l1 -2M41 19l0 -3M112 36l-3 -3M11 104l-2 4M162 54l-1 -2M1 31l3 3M118 90l0 -4M77 40l2 4M59 4l-3 3M83 48l-5 -1M135 80l0 -3M79 5l3 -3M75 65l-3 0M61 60l1 -2M81 16l2 -3M17 21l3 1M2 58l1 3M73 120l3 -1M118 100l1 -4M92 113l-3 -1M26 29l2 -2M130 88l2 1M43 46l-2 2M150 64l-3 0M52 103l4 1M73 13l3 -1M42 45l2 -4M113 28l-2 4M25 20l5 -2M13 91l0 -2M110 102l3 0M48 64l-3 1M41 2l3 -1M129 118l2 -2M137 98l-4 -2M108 110l-2 3M146 15l-1 -4M90 128l-3 3M10 31l2 -2M92 79l2 -2M157 97l2 0M67 46l-1 4M22 52l1 3M55 97l-1 3M128 102l-1 -2M101 44l-1 -3M115 32l-3 -4M42 33l1 -4M18 123l3 1M154 35l-3 3M73 106l-3 0M48 93l3 -4M18 5l-1 -5M44 13l3 -2M153 94l-1 4M113 68l-2 1M142 105l-1 4M72 94l-4 -1M102 37l2 1M57 106l5 0M105 53l-1 -4M161 85l0 -4M42 111l-2 3M13 1l3 0M118 78l0 -3M50 21l1 -5M118 32l3 3M22 55l1 -3M88 125l-2 3M17 102l-2 -2M95 76l3 0M95 20l-2 -3M62 53l2 0M113 66l4 0M55 119l-2 -4M50 0l0 3M117 50l-1 -3M149 94l0 2M92 57l2 -3M149 40l2 0M131 1l-1 -3M35 37l0 4M122 75l4 2M152 107l4 1M52 127l-2 -2M134 56l3 3M107 67l-1 5M151 0l5 1M88 78l3 -1M131 102l1 3M83 89l2 1M53 103l0 2M80 47l-1 -5M38 66l-3 1M63 28l-2 2M83 124l2 -2M146 102l1 -2M11 52l3 -4M107 98l2 2M67 34l-3 2M70 121l3 -1M31 41l-3 2M97 28l-4 -1M134 9l3 3M72 131l0 -4M106 1l-1 -4M45 96l-3 -3M104 109l-2 -2M77 132l-2 -4M17 122l0 3M91 43l2 -3M154 92l5 1M139 29l4 1M101 16l2 1M98 1l-4 0M135 97l1 5M69 91l2 0M71 6l2 2M98 18l-4 1M16 28l-1 -5M73 29l-2 3M82 108l3 2M104 119l-4 0M16 60l-5 -1M109 82l0 3M68 51l2 -3M139 75l-4 0M19 22l-3 -1M95 75l-1 3M123 119l-1 2M90 120l-3 2M47 73l-4 0M17 55l3 3M21 91l-1 4M99 125l-3 1M34 63l-1 -3M159 18l3 -4M104 132l-3 -3M128 32l3 -3M54 64l-1 2M41 41l4 0M96 82l-2 3M133 45l-1 3M22 62l1 -2M107 33l-2 3M2 122l2 -1M82 104l2 -1M3 121l3 2M128 134l-1 -5M109 84l0 -3M44 41l2 3M67 49l-2 -3M143 124l-3 -2M85 31l2 -2M31 75l-1 -3M11 80l-1 -2M118 89l-4 -1M70 102l4 2M114 73l3 3M41 58l-4 1M13 101l-2 -3M3 57l2 1M139 69l-4 -3M60 87l4 -1M92 114l3 3M19 126l-4 0M109 119l-2 1M42 12l0 5M67 89l-4 3M60 64l-1 -2M127 76l0 -5M24 129l-1 -3M111 15l-3 0M57 4l1 5M53 72l4 1M48 121l-3 -2M43 25l5 -2M34 96l-3 1M64 24l0 -3M69 37l-1 4M23 38l3 3M41 37l1 3M33 12l-2 4M6 120l4 -1M38 115l-2 -1M99 25l-2 3M149 32l-1 3M26 92l2 2M11 69l-3 -2M3 121l-5 1M87 50l0 -3M135 11l-1 -3M90 132l0 2M6 50l-1 -4M93 90l-1 4M32 112l-3 -3M102 37l1 5M100 78l-1 3M143 117l-1 -2M145 54l4 -2M16 69l-3 -2M102 58l-3 0M111 106l0 -4M152 16l-2 -3M75 100l3 0M9 48l-2 0M34 30l1 -3M159 22l-1 4M159 69l-3 2M15 3l2 3M62 92l2 -3M107 87l-3 3M22 79l3 -2M134 124l3 -1M69 85l-2 -2M99 62l0 4M156 2l3 -2M124 104l0 4M27 131l-3 -1M92 85l3 0M87 79l3 1M144 47l3 -2M38 15l3 -1M38 112l-2 -2M29 108l2 -1M68 66l-2 -4M60 80l3 -1M54 16l-3 0M119 125l2 1M35 16l-3 2M147 118l-4 -1M100 80l-3 2M95 57l3 0M76 4l-5 2M154 89l-4 -1M136 14l3 0M157 82l3 1M112 8l4 -1M83 3l-1 -3M72 17l2 -2M130 53l2 -4M47 95l-2 3M44 17l1 -2M32 38l2 0M162 67l-3 0M99 8l4 2M62 16l1 2M134 45l-1 3M38 89l0 -3M130 134l0 -2M161 59l-1 5M152 116l-2 -1M35 84l0 3M84 111l5 -1M113 81l2 -2M151 65l-4 -1M77 12l4 1M21 53l-4 -2M11 23l1 -3M121 62l4 2M148 9l-2 -1M70 129l0 5M85 104l1 3M4 0l4 0M19 48l-2 1M123 6l-3 0M79 32l4 2M65 67l2 3M58 76l3 1M68 69l-3 -1M53 27l2 3M110 117l1 -3M127 127l1 2M5 34l0 -3M93 23l2 -2M58 95l-1 -3M16 15l1 2M29 82l-1 4M71 116l-4 2M120 9l-1 -4M18 84l1 3M63 60l-2 -1M64 73l-3 -3M142 72l1 -5M127 24l-2 2M109 63l3 -2M23 57l2 -1M148 10l-4 3M23 98l-4 0M49 49l5 1M16 3l3 3M137 40l-1 2M73 18l3 -1M139 56l1 3M4 122l-3 -1M20 50l-1 2M86 108l0 -3M89 129l3 -3M61 120l-3 1M43 66l-2 -4M19 79l-3 -2M34 10l-1 -2M114 48l-1 -3M82 22l2 -2M115 66l4 -1M159 74l3 -1M120 44l-2 4M152 45l-1 3M37 80l-3 -1M20 113l3 3M92 44l3 -3M41 32l2 1M20 102l2 1M78 61l-2 0M57 58l1 -4M32 130l-3 0M163 32l-3 2M143 89l0 4M29 13l4 -3M152 132l2 1M155 102l1 4M27 83l1 -2M133 99l-4 1M159 63l-2 -2M129 40l3 -2M76 67l-5 1M12 119l3 1M11 13l3 1M109 69l-5 -1M81 19l1 -3M28 24l4 -3M163 44l0 2M147 53l2 -2M66 82l1 -3M161 91l-4 1M110 47l-3 1M148 8l0 -3M149 92l3 3M101 90l2 1M141 94l4 0M36 47l-2 -3M154 65l-4 0M153 59l-1 -4M45 105l-2 0M40 54l2 3M27 69l4 0M62 11l2 -4M163 86l-1 4M11 30l4 0M129 132l2 -2M131 30l4 0M3 76l2 2M153 12l1 -3M137 81l-2 -5M62 107l-1 -5M50 14l1 2M102 58l3 0M39 6l-2 -4M139 4l4 0M31 104l3 0M65 75l-3 -2M153 111l1 -3M18 32l2 -1M161 16l1 2M54 42l4 1M137 75l3 3" stroke="#e2e7f8" stroke-width="1.1" stroke-opacity="0.6" fill="none"/><path d="M2 5h0M9 6h0M21 2h0M29 5h0M39 7h0M47 5h0M59 6h0M69 1h0M78 6h0M85 6h0M94 3h0M108 2h0M126 7h0M135 2h0M142 5h0M155 2h0M163 5h0M2 10h0M11 11h0M28 15h0M41 12h0M47 10h0M59 15h0M66 14h0M79 15h0M88 13h0M95 13h0M108 14h0M118 10h0M124 13h0M136 11h0M144 10h0M152 14h0M163 10h0M0 21h0M4 20h0M14 22h0M29 19h0M37 21h0M46 20h0M62 23h0M72 19h0M86 23h0M104 20h0M114 21h0M122 21h0M130 21h0M160 19h0M6 31h0M13 31h0M21 31h0M35 31h0M41 29h0M63 31h0M71 30h0M88 31h0M101 31h0M111 27h0M118 30h0M136 28h0M146 32h0M159 30h0M1 36h0M8 40h0M28 39h0M39 38h0M48 36h0M59 37h0M66 35h0M78 36h0M87 37h0M95 36h0M107 38h0M112 39h0M123 37h0M135 38h0M143 36h0M153 38h0M160 35h0M2 48h0M12 46h0M32 47h0M44 44h0M50 46h0M72 44h0M92 46h0M109 44h0M119 46h0M127 46h0M146 44h0M159 44h0M-1 53h0M9 54h0M20 52h0M30 56h0M39 55h0M49 53h0M56 56h0M68 52h0M78 56h0M84 53h0M94 56h0M104 57h0M117 54h0M133 52h0M141 52h0M155 55h0M160 52h0M2 64h0M16 61h0M25 62h0M32 63h0M42 62h0M53 62h0M61 65h0M74 65h0M90 60h0M101 64h0M113 64h0M123 61h0M131 61h0M140 64h0M148 65h0M156 64h0M-3 72h0M4 71h0M17 70h0M28 69h0M45 72h0M76 69h0M86 71h0M96 70h0M102 70h0M113 71h0M121 73h0M129 71h0M139 71h0M153 71h0M162 74h0M2 81h0M11 80h0M23 78h0M30 82h0M42 82h0M51 81h0M60 78h0M69 80h0M83 79h0M90 77h0M101 80h0M107 80h0M119 82h0M129 80h0M139 77h0M148 78h0M155 81h0M166 82h0M-4 87h0M8 86h0M19 88h0M25 88h0M35 90h0M46 89h0M56 88h0M68 87h0M75 88h0M87 86h0M92 90h0M101 85h0M111 88h0M123 87h0M130 86h0M144 88h0M153 88h0M159 89h0M2 93h0M15 96h0M24 95h0M33 94h0M44 96h0M50 97h0M62 94h0M69 93h0M83 95h0M89 93h0M98 97h0M107 96h0M119 97h0M128 98h0M138 95h0M146 94h0M156 97h0M166 98h0M3 104h0M12 104h0M20 107h0M31 104h0M38 105h0M46 106h0M60 102h0M69 106h0M79 103h0M89 106h0M94 105h0M105 105h0M118 104h0M123 103h0M145 106h0M152 105h0M164 102h0M13 112h0M25 114h0M34 114h0M40 111h0M49 113h0M59 115h0M72 110h0M82 112h0M91 110h0M98 113h0M107 112h0M119 113h0M127 110h0M138 110h0M146 112h0M157 114h0M168 114h0M-2 121h0M6 124h0M15 121h0M26 121h0M38 119h0M46 121h0M52 123h0M63 124h0M76 120h0M85 123h0M92 119h0M104 121h0M110 119h0M121 120h0M133 120h0M140 123h0M150 120h0M158 120h0M7 131h0M17 132h0M27 130h0M36 131h0M54 132h0M62 129h0M74 130h0M82 131h0M89 129h0M110 128h0M120 127h0M128 131h0M138 132h0M152 127h0M157 131h0" stroke="#7f95de" stroke-width="5.4" stroke-linecap="round" stroke-opacity="0.9"/><path d="M2 5h0M9 6h0M21 2h0M29 5h0M39 7h0M47 5h0M59 6h0M69 1h0M78 6h0M85 6h0M94 3h0M108 2h0M126 7h0M135 2h0M142 5h0M155 2h0M163 5h0M2 10h0M11 11h0M28 15h0M41 12h0M47 10h0M59 15h0M66 14h0M79 15h0M88 13h0M95 13h0M108 14h0M118 10h0M124 13h0M136 11h0M144 10h0M152 14h0M163 10h0M0 21h0M4 20h0M14 22h0M29 19h0M37 21h0M46 20h0M62 23h0M72 19h0M86 23h0M104 20h0M114 21h0M122 21h0M130 21h0M160 19h0M6 31h0M13 31h0M21 31h0M35 31h0M41 29h0M63 31h0M71 30h0M88 31h0M101 31h0M111 27h0M118 30h0M136 28h0M146 32h0M159 30h0M1 36h0M8 40h0M28 39h0M39 38h0M48 36h0M59 37h0M66 35h0M78 36h0M87 37h0M95 36h0M107 38h0M112 39h0M123 37h0M135 38h0M143 36h0M153 38h0M160 35h0M2 48h0M12 46h0M32 47h0M44 44h0M50 46h0M72 44h0M92 46h0M109 44h0M119 46h0M127 46h0M146 44h0M159 44h0M-1 53h0M9 54h0M20 52h0M30 56h0M39 55h0M49 53h0M56 56h0M68 52h0M78 56h0M84 53h0M94 56h0M104 57h0M117 54h0M133 52h0M141 52h0M155 55h0M160 52h0M2 64h0M16 61h0M25 62h0M32 63h0M42 62h0M53 62h0M61 65h0M74 65h0M90 60h0M101 64h0M113 64h0M123 61h0M131 61h0M140 64h0M148 65h0M156 64h0M-3 72h0M4 71h0M17 70h0M28 69h0M45 72h0M76 69h0M86 71h0M96 70h0M102 70h0M113 71h0M121 73h0M129 71h0M139 71h0M153 71h0M162 74h0M2 81h0M11 80h0M23 78h0M30 82h0M42 82h0M51 81h0M60 78h0M69 80h0M83 79h0M90 77h0M101 80h0M107 80h0M119 82h0M129 80h0M139 77h0M148 78h0M155 81h0M166 82h0M-4 87h0M8 86h0M19 88h0M25 88h0M35 90h0M46 89h0M56 88h0M68 87h0M75 88h0M87 86h0M92 90h0M101 85h0M111 88h0M123 87h0M130 86h0M144 88h0M153 88h0M159 89h0M2 93h0M15 96h0M24 95h0M33 94h0M44 96h0M50 97h0M62 94h0M69 93h0M83 95h0M89 93h0M98 97h0M107 96h0M119 97h0M128 98h0M138 95h0M146 94h0M156 97h0M166 98h0M3 104h0M12 104h0M20 107h0M31 104h0M38 105h0M46 106h0M60 102h0M69 106h0M79 103h0M89 106h0M94 105h0M105 105h0M118 104h0M123 103h0M145 106h0M152 105h0M164 102h0M13 112h0M25 114h0M34 114h0M40 111h0M49 113h0M59 115h0M72 110h0M82 112h0M91 110h0M98 113h0M107 112h0M119 113h0M127 110h0M138 110h0M146 112h0M157 114h0M168 114h0M-2 121h0M6 124h0M15 121h0M26 121h0M38 119h0M46 121h0M52 123h0M63 124h0M76 120h0M85 123h0M92 119h0M104 121h0M110 119h0M121 120h0M133 120h0M140 123h0M150 120h0M158 120h0M7 131h0M17 132h0M27 130h0M36 131h0M54 132h0M62 129h0M74 130h0M82 131h0M89 129h0M110 128h0M120 127h0M128 131h0M138 132h0M152 127h0M157 131h0" stroke="#a6b4e8" stroke-width="2.0" stroke-linecap="round" stroke-opacity="0.7"/><path d="M9 5h0M28 5h0M40 8h0M46 5h0M58 5h0M78 5h0M93 2h0M108 2h0M136 3h0M3 10h0M10 11h0M28 15h0M47 9h0M89 13h0M108 13h0M135 10h0M153 13h0M165 11h0M14 23h0M29 18h0M63 24h0M72 18h0M124 20h0M129 20h0M13 32h0M21 31h0M33 29h0M42 28h0M63 32h0M71 29h0M89 31h0M116 31h0M145 31h0M7 39h0M38 39h0M59 36h0M67 35h0M78 38h0M87 37h0M94 36h0M107 37h0M111 41h0M3 48h0M73 46h0M92 46h0M120 48h0M128 45h0M160 44h0M0 52h0M8 53h0M20 51h0M38 55h0M49 52h0M58 55h0M85 52h0M93 54h0M116 54h0M25 63h0M41 62h0M53 62h0M88 60h0M102 65h0M148 65h0M5 71h0M16 69h0M27 68h0M96 70h0M112 70h0M121 73h0M139 71h0M164 74h0M3 80h0M9 81h0M31 83h0M149 79h0M154 81h0M7 85h0M34 89h0M45 88h0M74 89h0M93 89h0M124 87h0M129 86h0M14 96h0M24 94h0M45 96h0M63 92h0M68 95h0M90 94h0M97 99h0M119 98h0M127 99h0M138 95h0M157 96h0M167 98h0M1 104h0M11 104h0M20 107h0M31 105h0M45 105h0M59 103h0M124 104h0M146 106h0M151 106h0M163 100h0M12 112h0M36 114h0M71 111h0M106 110h0M126 110h0M140 111h0M158 115h0M13 122h0M27 123h0M51 122h0M86 125h0M103 122h0M111 118h0M19 133h0M75 130h0M110 129h0M130 132h0M151 127h0M157 132h0" stroke="#7f95de" stroke-width="3.0" stroke-linecap="round" stroke-opacity="0.5"/><path d="M5 62h0M18 29h0M137 72h0M43 3h0M83 92h0M82 69h0M8 5h0M127 84h0M79 128h0M19 116h0M35 113h0M153 33h0M158 49h0M89 102h0M154 83h0M44 67h0M84 24h0M163 1h0M149 24h0M102 22h0M130 80h0M111 21h0M58 120h0M38 24h0M8 111h0M71 70h0M15 7h0M16 11h0M33 77h0M153 133h0M15 132h0M72 126h0M159 27h0M163 96h0M24 127h0M138 131h0M6 21h0M139 53h0" stroke="#3a52c6" stroke-width="1.5" stroke-linecap="round" stroke-opacity="0.8"/><path d="M93 116h0M11 13h0M42 4h0M102 119h0M55 38h0M93 76h0M69 37h0M54 113h0M70 113h0M153 110h0M58 102h0M68 91h0M36 8h0M135 107h0M108 99h0M153 67h0M55 85h0M151 48h0M151 33h0M3 31h0M135 34h0M43 82h0M52 43h0M118 80h0M21 52h0M40 48h0M66 94h0M132 120h0M150 36h0M38 55h0M22 54h0M141 133h0M145 100h0M24 25h0M158 31h0M127 129h0M137 3h0M151 42h0M125 7h0M130 100h0M120 85h0M92 102h0M141 38h0M64 50h0M163 62h0M108 47h0M37 77h0M61 45h0M39 97h0M46 82h0M125 73h0M75 69h0M87 53h0M103 56h0M34 59h0M141 20h0" stroke="#3a52c6" stroke-width="2.0" stroke-linecap="round" stroke-opacity="0.8"/><path d="M143 51h0M144 70h0M68 50h0M4 16h0M161 54h0M107 122h0M59 123h0M15 66h0M86 118h0M49 62h0M49 11h0M89 29h0M94 59h0M60 41h0M61 57h0" stroke="#3a52c6" stroke-width="2.5" stroke-linecap="round" stroke-opacity="0.8"/></g></g></g><g clip-path="url(#ch2)"><g filter="url(#sf)"><rect x="355.0" y="577.0" width="163.0" height="132.8" fill="#b25aba"/><g transform="translate(355.0,577.0)"><path d="M85 68h0M127 44h0M77 22h0M109 2h0M121 37h0M143 22h0M14 52h0M114 6h0M146 54h0M14 69h0M136 12h0M78 31h0M123 66h0M148 74h0M58 41h0M12 0h0M160 96h0M63 37h0M83 111h0M36 58h0M60 42h0M8 31h0M5 106h0M15 9h0M13 69h0M65 86h0M111 97h0M114 53h0M46 84h0M99 38h0M69 73h0M114 17h0M38 72h0M8 67h0M29 51h0M44 16h0M33 71h0M129 13h0M34 56h0M56 44h0M147 11h0M55 116h0M47 13h0M104 62h0M38 76h0M80 65h0M89 69h0M23 123h0M94 61h0M110 122h0M63 81h0M48 91h0M102 9h0M56 53h0M31 43h0M79 94h0M15 50h0M70 126h0M1 80h0M40 14h0M95 10h0M47 72h0M58 95h0M47 119h0M155 106h0M163 4h0M136 79h0M105 1h0M74 19h0M26 121h0M108 105h0M76 124h0M108 81h0M119 94h0M161 33h0" stroke="#ce88d2" stroke-width="1.0" stroke-linecap="round" stroke-opacity="0.55"/><path d="M40 120h0M159 125h0M18 40h0M32 3h0M58 100h0M79 14h0M44 83h0M29 72h0M94 87h0M19 82h0M66 7h0M65 85h0M112 81h0M84 57h0M157 131h0M46 12h0M120 22h0M146 15h0M9 32h0M162 77h0M88 117h0M29 7h0M108 8h0M143 20h0M84 5h0M151 95h0M59 105h0M122 88h0M71 36h0M17 98h0M87 57h0M114 94h0M8 113h0M98 49h0M141 117h0M26 120h0M117 87h0M11 49h0M69 24h0M12 6h0M53 34h0M89 93h0M89 22h0M58 103h0M128 56h0M123 3h0M107 50h0M25 129h0M154 104h0M84 81h0M18 71h0M32 84h0M101 108h0M9 129h0M65 1h0M19 108h0M37 15h0M11 109h0M142 44h0M130 130h0M139 56h0M101 115h0M31 3h0M118 14h0M157 129h0M123 4h0M89 112h0M78 26h0M142 102h0M151 115h0M125 4h0M74 82h0M152 73h0M63 116h0M138 36h0M111 59h0M106 92h0M85 57h0M116 58h0M120 8h0M153 63h0M146 109h0M60 14h0M139 86h0M36 60h0M72 25h0M68 64h0M113 81h0M89 75h0M115 17h0M3 90h0M28 91h0M141 127h0M69 48h0M160 79h0M152 21h0M20 23h0M57 58h0M41 97h0M33 115h0M154 113h0M90 119h0M6 57h0M112 44h0M15 48h0M27 36h0M48 129h0M138 44h0M36 128h0M8 105h0M22 90h0M44 132h0M49 25h0M75 72h0M56 76h0M109 128h0M157 93h0M145 104h0M84 5h0M92 112h0M72 69h0M106 108h0M91 15h0M81 65h0M85 14h0M70 37h0M9 98h0M4 115h0M20 1h0M47 1h0M149 55h0M132 11h0M25 74h0M34 67h0M103 37h0M104 42h0M112 74h0M51 95h0M103 114h0M138 21h0M25 86h0M55 49h0M161 131h0M31 121h0M104 111h0M25 14h0M130 101h0M75 22h0M95 33h0M118 115h0M15 88h0M68 125h0M147 10h0M40 128h0M11 97h0M2 5h0M71 4h0M120 14h0M103 121h0M93 114h0M107 112h0M148 105h0M19 42h0M86 83h0M35 27h0M35 106h0M105 80h0M109 44h0M39 19h0M79 5h0M4 1h0M130 16h0M162 3h0M90 100h0M15 103h0M78 61h0M152 93h0M117 83h0M20 44h0M39 22h0M72 68h0M87 106h0M59 33h0M35 41h0M146 8h0M108 125h0M97 131h0M54 82h0M85 27h0M28 70h0M69 0h0M152 74h0M81 115h0M105 31h0M77 21h0M41 94h0M0 110h0M22 113h0M44 37h0M113 85h0M40 86h0M14 42h0M87 129h0M50 114h0M124 128h0M20 99h0M131 10h0M71 109h0M72 16h0M42 51h0M48 60h0M92 89h0M74 81h0M33 94h0M141 82h0M16 71h0M155 27h0M126 7h0M144 28h0M5 110h0M80 36h0M57 22h0M60 28h0M153 37h0M81 103h0M142 3h0M37 125h0M149 30h0M48 57h0M117 96h0M55 91h0M43 14h0M96 12h0M108 125h0M72 27h0M34 126h0M162 7h0M124 20h0M95 61h0M5 40h0M61 25h0M100 67h0M13 60h0M24 124h0M114 65h0M85 37h0M148 28h0M102 110h0M4 89h0M79 44h0M56 106h0M25 116h0M71 39h0M126 55h0M54 91h0M150 123h0M80 33h0M107 65h0M94 76h0M148 29h0M40 59h0M15 7h0M121 119h0M28 75h0M85 61h0M31 18h0M63 9h0M112 88h0M39 18h0M117 95h0M53 2h0M123 65h0M58 91h0M64 85h0M37 98h0M144 127h0M20 115h0M22 78h0M116 78h0M44 20h0M44 8h0M74 72h0M127 119h0M40 39h0M134 55h0M59 8h0M56 8h0M124 69h0M22 88h0M35 71h0M114 121h0M8 21h0M25 120h0M115 9h0M104 108h0M105 62h0M161 33h0M125 35h0M143 76h0M135 20h0M144 52h0M97 70h0M8 1h0M75 46h0M107 59h0M4 49h0M38 88h0M148 65h0M131 75h0M83 1h0M84 64h0M13 35h0M53 84h0M36 51h0M61 103h0M1 22h0M84 37h0M90 17h0M53 116h0M38 17h0M141 118h0M19 21h0M100 67h0M43 102h0M73 119h0M108 86h0M12 115h0M38 29h0M36 86h0M108 116h0M84 127h0M83 76h0M126 7h0M26 92h0M61 14h0M54 87h0M91 61h0M96 96h0M20 115h0M106 53h0M149 6h0M152 51h0M160 72h0M89 39h0M104 86h0M100 38h0M119 80h0M89 90h0M120 0h0M41 50h0M147 5h0M122 100h0M89 8h0M98 7h0M13 91h0M65 25h0M33 57h0M155 70h0M128 21h0M54 110h0M31 86h0M139 5h0M72 25h0M113 69h0M97 116h0M41 9h0M38 60h0M47 19h0M41 37h0M55 14h0M36 125h0M21 15h0M37 57h0M117 6h0M36 46h0M61 118h0M89 48h0M71 91h0M60 58h0M13 10h0M5 65h0M86 32h0M28 36h0M17 7h0M98 132h0M92 43h0M144 102h0M72 60h0M160 82h0M157 121h0M20 123h0M40 12h0M10 18h0M150 94h0M64 83h0M12 116h0M120 12h0M100 47h0M36 26h0M104 86h0M32 64h0M50 38h0M27 116h0M40 131h0M9 31h0M67 118h0M35 118h0M68 7h0M159 122h0M39 46h0M108 113h0M99 17h0M89 117h0M138 55h0M101 63h0M151 11h0M48 129h0M130 55h0M115 123h0M26 104h0M123 40h0M126 15h0M133 82h0M9 128h0M54 33h0M113 14h0M91 7h0M142 121h0M25 57h0M9 63h0M65 100h0M83 93h0M21 87h0M50 50h0M149 103h0M112 91h0M55 78h0M132 85h0M155 83h0M62 27h0M49 37h0M8 51h0M11 93h0M146 120h0M39 58h0M111 123h0M52 107h0M134 21h0M26 104h0M132 59h0M75 33h0M34 75h0M26 100h0M81 10h0M73 85h0M0 49h0M111 52h0M45 107h0M33 92h0M148 93h0M5 64h0M161 54h0M64 103h0M128 74h0M108 58h0M163 101h0M104 76h0M88 21h0M139 5h0M141 85h0M59 6h0M49 32h0M78 26h0M69 27h0M151 121h0M86 75h0M92 65h0M14 53h0M118 34h0M128 20h0M39 115h0M68 126h0M80 85h0M138 114h0M142 91h0M100 26h0M74 129h0M90 90h0M5 12h0M2 102h0M81 26h0M87 88h0M50 93h0M113 43h0M27 10h0M82 37h0M65 2h0M156 133h0M19 132h0M0 109h0M68 21h0M120 21h0M3 53h0M148 104h0M115 29h0M152 58h0M78 110h0M159 56h0M114 4h0M25 46h0M36 72h0M78 21h0M117 44h0M67 81h0M48 50h0M152 94h0M153 48h0M37 71h0M153 45h0M13 74h0M67 11h0M22 103h0M45 75h0M142 31h0M19 80h0M122 99h0M43 89h0M162 56h0M109 121h0M37 37h0M21 17h0M41 41h0M33 120h0M4 36h0M27 34h0M17 15h0M151 106h0M147 119h0M141 128h0M27 81h0M153 32h0M56 95h0M89 119h0M21 26h0M122 38h0M144 24h0M34 108h0M24 43h0M15 53h0M106 108h0M35 59h0M104 82h0M62 52h0M25 28h0M145 88h0M109 51h0M88 52h0M115 17h0M5 130h0M100 5h0M156 7h0M30 14h0M77 55h0M139 99h0M129 14h0M3 47h0M111 3h0M87 71h0M125 131h0M85 90h0M9 104h0M19 100h0M44 60h0M91 124h0M155 17h0M112 102h0M111 72h0M135 22h0M163 93h0M85 33h0M73 64h0M156 127h0M5 54h0M161 48h0M157 61h0M117 86h0M51 130h0M107 122h0M38 104h0M22 101h0M50 70h0M39 23h0M76 88h0M61 34h0M144 37h0M86 104h0M54 110h0M107 61h0M85 73h0M67 63h0M70 52h0M46 76h0M153 119h0M27 54h0M142 8h0M148 40h0M11 44h0M62 2h0M30 120h0M39 0h0M58 21h0M158 69h0M27 85h0M64 86h0M53 78h0M157 127h0M116 39h0M67 125h0M52 67h0M108 113h0M71 12h0M29 81h0M40 10h0M5 78h0M53 44h0M129 53h0M78 51h0M33 117h0M45 101h0M11 73h0M150 19h0M90 10h0M94 70h0M73 49h0M146 93h0M160 103h0M2 29h0M68 53h0M105 5h0M103 84h0M160 124h0M139 6h0M140 61h0M113 69h0M125 40h0M117 21h0M19 127h0M16 79h0M97 78h0M109 64h0M160 77h0M28 81h0M49 45h0M94 50h0M24 74h0M85 86h0M160 78h0M25 48h0M159 31h0M126 63h0M11 75h0M145 126h0M35 65h0M73 25h0M149 26h0M88 73h0M60 2h0M160 55h0M16 56h0M7 118h0M147 95h0M129 3h0M140 79h0M87 99h0M150 89h0M40 91h0M44 57h0M50 38h0M53 83h0M121 86h0M155 22h0M133 122h0M162 61h0M156 24h0M120 97h0M95 19h0M61 102h0M54 58h0M10 21h0M83 34h0M32 37h0M147 57h0M160 8h0M141 59h0M87 6h0M103 51h0M104 130h0M66 65h0M143 109h0M66 54h0M93 10h0M4 102h0M6 97h0M134 126h0M39 97h0M157 93h0M127 43h0M107 131h0M51 15h0M69 103h0M13 69h0M105 22h0M37 44h0M71 123h0M33 70h0M6 4h0M22 3h0M145 119h0M84 49h0M113 95h0M25 72h0M157 67h0M48 107h0M148 123h0M28 31h0M0 17h0M115 55h0M115 7h0M121 13h0M8 25h0M120 57h0M93 42h0M62 45h0M16 72h0M38 46h0M135 96h0M132 14h0M14 33h0M37 26h0M42 7h0M52 61h0M49 67h0M12 113h0M162 91h0M153 101h0M101 74h0M63 10h0M48 116h0M153 21h0M20 92h0M63 33h0M127 108h0M16 79h0M31 40h0M84 108h0M3 61h0" stroke="#ce88d2" stroke-width="1.5" stroke-linecap="round" stroke-opacity="0.55"/><path d="M80 85h0M114 57h0M10 53h0M86 48h0M0 73h0M46 54h0M46 132h0M43 108h0M87 6h0M18 63h0M63 20h0M52 92h0M163 91h0M38 13h0M74 64h0M1 94h0M44 4h0M7 95h0M76 62h0M40 47h0M107 74h0M64 100h0M80 46h0M98 59h0M108 16h0M49 88h0M63 84h0M138 11h0M38 128h0M113 131h0M69 86h0M156 64h0M115 26h0M95 128h0M19 125h0M126 12h0M47 104h0M24 59h0M60 92h0M54 125h0M120 27h0M129 6h0M35 113h0M33 93h0M92 42h0M7 103h0M26 17h0M27 23h0M94 120h0M48 21h0M102 114h0M36 75h0M24 118h0M127 62h0M141 65h0M45 40h0M130 5h0M104 131h0M73 59h0M142 51h0M42 87h0M62 96h0M95 109h0M110 3h0M162 17h0M98 32h0M34 119h0M75 130h0M31 52h0M29 24h0M79 29h0M55 29h0M39 41h0M133 76h0M19 32h0M90 20h0M114 75h0M114 19h0M11 126h0M139 21h0M44 94h0M67 22h0M5 98h0M116 86h0M57 41h0M78 16h0M163 31h0M7 41h0M37 90h0M124 63h0M33 114h0M43 88h0M115 52h0M128 110h0M160 112h0M13 127h0M46 45h0M95 132h0M92 50h0M90 16h0M119 32h0M95 66h0M60 18h0M145 57h0M37 23h0M0 10h0M61 15h0M97 79h0M5 83h0M120 44h0M119 126h0M130 3h0M29 84h0M46 74h0M139 46h0M147 125h0M133 72h0M79 35h0M109 111h0M12 99h0M132 64h0M105 34h0M100 52h0M149 2h0M106 67h0M68 84h0M156 76h0M15 70h0M47 63h0M5 21h0M145 72h0M139 91h0M41 124h0M150 25h0M102 124h0M70 131h0M6 86h0M154 47h0M86 57h0M97 40h0M162 40h0M144 46h0M3 99h0M131 0h0M44 102h0M9 40h0M5 128h0M52 36h0M97 103h0M119 44h0M71 56h0M3 90h0M79 125h0M47 124h0M117 35h0M76 26h0M41 27h0M93 53h0M96 4h0M136 25h0M108 12h0M64 49h0M124 82h0M6 122h0M15 122h0M41 87h0M43 100h0M46 1h0M96 47h0M39 81h0M82 68h0M143 22h0M10 15h0M138 23h0M50 40h0M108 126h0M144 65h0M82 61h0M115 55h0M33 111h0M84 97h0M88 12h0M90 61h0M120 66h0M40 89h0M146 69h0M93 37h0M92 47h0M104 33h0M103 24h0M109 104h0M114 1h0M124 123h0M50 45h0M20 6h0M84 29h0M144 101h0M121 50h0M32 66h0M80 99h0M20 99h0M80 40h0M130 34h0M77 121h0M61 4h0M143 12h0M134 48h0M160 52h0M49 51h0M68 114h0M36 35h0M72 118h0M152 89h0M73 95h0M66 15h0M61 80h0M122 87h0M4 42h0M160 58h0M145 84h0M4 37h0M11 47h0M54 32h0M29 104h0M116 83h0M126 40h0M38 6h0M123 126h0M18 1h0M66 79h0M84 79h0M118 45h0M98 31h0M147 90h0M160 87h0M138 81h0M38 68h0M116 40h0M135 5h0M37 27h0M62 25h0M156 66h0M12 9h0M4 79h0M26 61h0M121 48h0M22 58h0M36 81h0M150 52h0M85 118h0M5 21h0M40 73h0M124 59h0M158 94h0M49 8h0M19 119h0M147 72h0M27 0h0M1 124h0M28 81h0M10 77h0M125 72h0M124 77h0M6 1h0M57 84h0M19 128h0M94 100h0M42 54h0M143 8h0M51 106h0M79 115h0M36 72h0M62 42h0M129 116h0M144 107h0M111 114h0M29 132h0M48 130h0M41 80h0M24 8h0M2 31h0M141 117h0M44 3h0M43 94h0M76 116h0M120 2h0M68 49h0M124 81h0M91 130h0M35 48h0M126 45h0M20 107h0M132 95h0M133 1h0M93 87h0M54 36h0M48 45h0M119 30h0M97 100h0M114 2h0M57 107h0M57 57h0M1 1h0M83 46h0M158 81h0M96 91h0M2 111h0M152 20h0M162 43h0M139 32h0M63 22h0M26 65h0M149 85h0M44 61h0M49 61h0M129 35h0M28 2h0M52 64h0M92 74h0M65 9h0M100 115h0M74 113h0M96 122h0M8 94h0M148 11h0M19 46h0M52 80h0M46 64h0M23 95h0M83 29h0M85 129h0M89 3h0M51 32h0M45 22h0M40 23h0M85 10h0M155 55h0M115 87h0M131 26h0M16 16h0M106 48h0M18 21h0M153 75h0M90 6h0M78 122h0M14 74h0M94 34h0M143 58h0M72 46h0M52 13h0M53 107h0M125 5h0M100 126h0M136 97h0M160 109h0M97 48h0M120 38h0M153 94h0M1 72h0M144 75h0M28 109h0M61 122h0M121 47h0M129 126h0M133 84h0M0 88h0M21 19h0M40 120h0M71 127h0M106 33h0M144 116h0M137 19h0M21 66h0M117 120h0M154 31h0M81 52h0M149 61h0M139 12h0M91 32h0M88 119h0M140 21h0M139 81h0M29 17h0M69 22h0M136 90h0M2 81h0M57 21h0M139 4h0M80 18h0M121 69h0M50 91h0M112 109h0M35 116h0M51 96h0M19 81h0M4 59h0M17 86h0M137 20h0M145 48h0M20 68h0M15 118h0M14 47h0M74 71h0M117 18h0M12 127h0M102 16h0M97 119h0M76 54h0M128 56h0M142 128h0M73 129h0M58 114h0M10 29h0M111 74h0M97 69h0M50 106h0M32 103h0M103 122h0M109 132h0M124 78h0M127 14h0M41 107h0M130 67h0M57 64h0M13 14h0M52 121h0M127 31h0M151 45h0M11 51h0M151 47h0M19 2h0M98 86h0M98 116h0M37 35h0M73 115h0M134 64h0M162 24h0M121 88h0M162 56h0M59 81h0M51 1h0M145 55h0M146 21h0M162 129h0M106 87h0M14 1h0M79 24h0M113 4h0M73 41h0M58 78h0M97 57h0M26 30h0M37 81h0M88 72h0M102 99h0M45 100h0M52 83h0M60 81h0M151 94h0M41 110h0M129 14h0M97 104h0M147 106h0M32 93h0M113 103h0M83 17h0M58 94h0M158 18h0M28 30h0M46 43h0M45 42h0M144 61h0M15 98h0M123 37h0M76 69h0M94 113h0M71 117h0M91 36h0M106 118h0M87 41h0M24 27h0M11 90h0M33 109h0M80 103h0M60 76h0M48 43h0M43 51h0M11 81h0M122 98h0M35 24h0M98 130h0M143 99h0M126 16h0M23 131h0M29 90h0M129 2h0M27 0h0M114 1h0M142 79h0M19 97h0M107 99h0M2 97h0M29 12h0M147 12h0M74 32h0M74 116h0M31 53h0M92 119h0M23 18h0M146 73h0M22 86h0M143 71h0M87 51h0M95 53h0M159 77h0M101 4h0M99 117h0M101 16h0M126 41h0M156 71h0M146 101h0M151 104h0M161 65h0M46 117h0M5 119h0M69 32h0M46 74h0M105 83h0M38 11h0M13 84h0M123 50h0M63 29h0M24 104h0M60 80h0M86 49h0M135 113h0M0 82h0M41 13h0M95 26h0M39 6h0M21 16h0M1 9h0M75 130h0M123 108h0M5 40h0M20 4h0M56 6h0M84 49h0M30 46h0M96 84h0M10 12h0M39 22h0M127 131h0M135 48h0M151 61h0M127 40h0M84 64h0M20 131h0M115 122h0M12 109h0M47 102h0M99 62h0M101 83h0M50 20h0M92 82h0M79 64h0M41 103h0M128 37h0M107 118h0M14 40h0M113 126h0M45 28h0M93 83h0M41 41h0M71 80h0M42 53h0M58 126h0M142 51h0M126 53h0M99 85h0M14 6h0M149 54h0M91 53h0M122 34h0M123 106h0M77 52h0M79 117h0M94 113h0M64 110h0M77 120h0M93 110h0M120 27h0M121 84h0M67 51h0M120 61h0M162 4h0M88 4h0M44 11h0M144 106h0M51 127h0M84 30h0M39 104h0M32 87h0M118 15h0M41 125h0M14 62h0M130 132h0M16 15h0M46 18h0M121 6h0M24 4h0M149 114h0M107 2h0M11 86h0M94 117h0M55 3h0M102 59h0M73 124h0M118 34h0M85 31h0M12 54h0M71 113h0M154 64h0M156 13h0M51 36h0M18 22h0M68 17h0M148 56h0M53 14h0M38 51h0M51 105h0M69 86h0M150 107h0M54 29h0M133 86h0M116 8h0M37 100h0M22 27h0M1 131h0M129 17h0M59 109h0M44 57h0M84 126h0M153 105h0M6 130h0M39 107h0M147 126h0M155 58h0M31 5h0M122 29h0M81 109h0M42 69h0M99 129h0M130 12h0M26 62h0M161 33h0M80 85h0M26 112h0M127 105h0M28 118h0M83 116h0M12 10h0M151 9h0M115 102h0M77 75h0M28 23h0M41 108h0M32 114h0M101 83h0M55 83h0M107 4h0M55 37h0M143 34h0M139 10h0M53 38h0M49 130h0M80 32h0M3 65h0M49 18h0M25 107h0M143 4h0M34 53h0M19 26h0M77 91h0M115 109h0M139 126h0M49 105h0M72 54h0M38 52h0M113 17h0M20 74h0M134 79h0M76 81h0M121 112h0M69 105h0M41 67h0M43 113h0M137 6h0M77 34h0M139 58h0M109 74h0M115 105h0M67 35h0M88 44h0M36 42h0M122 129h0M152 77h0M8 6h0M3 56h0M62 32h0M83 46h0M113 97h0M136 71h0M138 47h0M135 61h0M140 128h0M111 72h0M67 97h0M93 41h0M132 74h0M76 88h0M32 101h0M63 65h0M57 87h0M32 84h0M80 101h0M78 46h0M17 37h0M105 43h0M50 108h0M18 1h0M13 130h0M75 63h0M86 22h0M74 113h0M100 31h0M84 130h0" stroke="#ce88d2" stroke-width="2.0" stroke-linecap="round" stroke-opacity="0.55"/><path d="M74 81h0M108 132h0M8 21h0M128 75h0M123 84h0M90 65h0M102 7h0M35 67h0M51 92h0M111 102h0M90 46h0M129 123h0M15 17h0M6 21h0M38 55h0M115 30h0M32 1h0M43 86h0M104 60h0M96 84h0M59 118h0M11 53h0M78 119h0M45 42h0M107 73h0M14 133h0M47 10h0M115 79h0M38 130h0M108 105h0M68 62h0M64 76h0M85 98h0M78 103h0M162 53h0M31 50h0M86 48h0M70 103h0M55 106h0M119 4h0M60 2h0M124 95h0M20 8h0M121 91h0M61 114h0M9 56h0M55 25h0M138 104h0M162 33h0M133 46h0M62 32h0M131 76h0M63 61h0M10 10h0M78 103h0M43 126h0M145 113h0M80 70h0M11 67h0M127 0h0M30 94h0M67 38h0M61 68h0M27 87h0M51 36h0M91 13h0M87 119h0M25 61h0M49 99h0M77 82h0M98 90h0M29 34h0M119 13h0M15 87h0M5 3h0M94 48h0M14 40h0M23 106h0M101 124h0M41 31h0M93 74h0M99 51h0M141 111h0M55 33h0M56 105h0M45 27h0M49 110h0M23 98h0M40 54h0M67 25h0M106 57h0M26 102h0M40 119h0M84 64h0M143 112h0M116 121h0M107 79h0M31 5h0M151 3h0M5 8h0M33 68h0M5 81h0M78 78h0M112 97h0M6 96h0M22 124h0M27 45h0M28 102h0M113 12h0M102 88h0M108 41h0M74 93h0M127 127h0M155 107h0M137 83h0M63 111h0M21 97h0M21 115h0M115 35h0M76 117h0M59 51h0M111 7h0M40 125h0M86 56h0M161 9h0M87 15h0M43 7h0M111 97h0M83 113h0M133 62h0M63 74h0M61 115h0M125 30h0M99 46h0M46 38h0M79 117h0M119 57h0M9 93h0M9 40h0M81 89h0M156 115h0M45 73h0M58 121h0M136 100h0M52 5h0M118 56h0M100 84h0M160 89h0M63 131h0M138 11h0M62 77h0M73 70h0M152 49h0M121 71h0M16 87h0M25 78h0M121 109h0M11 120h0M111 39h0M84 128h0M108 50h0M158 104h0M64 106h0M115 20h0M140 126h0M119 74h0M48 99h0M62 60h0M132 28h0M21 0h0M62 18h0M9 101h0M107 78h0M59 38h0M58 21h0M130 15h0M113 130h0M16 50h0M32 12h0M78 61h0M51 103h0M79 10h0M155 122h0M163 9h0M113 100h0M63 53h0M85 22h0M81 126h0M115 122h0M24 18h0M45 55h0M60 54h0M162 19h0M38 28h0M151 122h0M141 19h0M14 128h0M15 32h0M88 54h0M132 45h0M159 15h0M73 33h0M100 45h0M105 105h0M14 54h0M11 62h0M129 93h0M151 81h0M38 119h0M83 53h0M139 90h0M72 12h0M16 16h0M150 105h0M101 88h0M71 48h0M36 48h0M155 56h0M3 63h0M32 81h0M30 86h0M54 120h0M18 106h0M162 60h0M8 16h0M105 74h0M135 5h0M33 23h0M92 83h0M81 111h0M103 49h0M7 88h0M25 106h0M0 74h0M113 130h0M66 66h0M104 72h0M76 4h0M4 38h0M53 2h0M105 62h0M20 1h0M56 43h0M116 22h0M159 93h0M87 36h0M123 35h0M39 111h0M33 124h0M28 109h0M79 82h0M69 129h0M25 8h0M5 40h0M137 46h0M37 24h0M21 85h0M136 61h0M148 111h0M84 54h0M133 41h0M57 19h0M161 129h0M114 112h0M121 28h0M73 121h0M91 100h0M144 107h0M2 132h0M93 92h0M38 32h0M155 29h0M28 22h0M105 28h0M81 26h0M33 84h0M61 123h0M152 1h0M142 80h0M94 106h0M157 109h0M79 130h0M99 35h0M123 52h0M103 48h0M83 53h0M150 75h0M49 42h0M6 14h0M97 28h0M73 93h0M54 114h0M161 106h0M64 20h0M82 103h0M76 107h0M153 63h0M99 33h0M143 103h0M150 120h0M80 17h0M16 109h0M122 80h0M118 105h0M72 110h0M120 32h0M88 118h0M143 68h0M47 9h0M98 104h0M65 8h0M100 74h0M150 49h0M50 91h0M91 80h0M9 97h0M20 43h0M96 70h0M40 119h0M46 35h0M74 49h0M42 27h0M158 62h0M10 111h0M113 6h0M66 69h0M107 22h0M63 11h0M73 79h0M21 9h0M48 130h0M146 94h0M159 38h0M25 59h0M104 87h0M115 103h0M143 20h0M13 108h0M17 60h0M148 68h0M151 119h0M117 99h0M59 54h0M32 13h0M132 35h0M71 28h0M60 123h0M124 110h0M143 116h0M98 93h0M113 68h0M132 53h0M102 0h0M99 25h0M9 40h0M84 56h0M133 19h0M98 38h0M23 111h0M71 36h0M26 19h0M57 15h0M114 102h0M145 99h0M80 68h0M134 30h0M51 65h0M152 96h0M18 99h0M71 3h0M19 7h0M79 104h0M59 17h0M46 18h0M129 76h0M71 126h0M128 126h0M56 67h0M153 7h0M85 63h0M117 73h0M124 13h0M119 80h0M77 92h0M145 6h0M55 68h0M106 106h0M66 23h0M90 50h0M33 13h0M146 118h0M144 79h0M81 123h0M134 72h0M64 2h0M151 5h0M64 1h0M34 21h0M1 11h0M159 37h0M78 77h0M154 105h0M25 65h0M98 7h0M157 30h0M52 129h0M153 94h0M64 78h0M41 17h0M19 5h0M132 132h0M107 101h0M98 55h0M78 58h0M94 4h0M90 39h0M114 96h0M135 12h0M66 53h0M96 64h0M49 132h0M29 82h0M36 18h0M38 93h0M132 81h0M24 80h0M43 90h0M50 17h0M73 81h0M159 71h0M97 2h0M129 126h0M102 120h0M91 93h0M11 127h0M108 23h0M23 123h0M55 31h0M160 117h0M153 123h0M48 97h0M113 9h0M18 72h0M38 92h0M158 15h0M67 14h0M111 99h0M70 66h0M1 65h0M163 85h0M159 106h0M81 5h0M106 23h0M163 30h0M27 83h0M98 39h0M70 62h0M42 67h0M31 51h0M2 56h0M2 65h0M21 79h0M36 126h0M51 8h0M34 123h0M102 73h0M116 127h0M39 3h0M149 48h0M128 19h0M4 79h0M129 50h0M32 62h0M9 24h0M61 117h0M75 45h0M115 100h0M49 82h0M11 88h0M9 70h0M118 72h0M63 118h0M162 4h0M76 39h0M13 114h0M44 100h0M125 86h0M158 12h0M107 16h0M10 122h0M111 1h0M150 107h0M125 21h0M15 79h0M151 91h0M163 52h0M2 21h0M145 106h0M96 104h0M82 98h0M159 112h0M7 94h0M85 14h0M95 26h0M70 4h0M81 129h0M80 130h0M157 103h0M30 94h0M47 78h0M158 34h0M14 15h0M123 119h0M89 35h0M93 18h0M36 90h0M130 99h0M111 19h0M88 114h0M144 67h0M75 111h0M69 37h0M127 26h0M89 96h0M43 9h0M87 40h0M56 80h0M115 95h0M95 88h0M136 55h0M79 89h0M110 106h0M16 99h0M48 16h0M3 31h0M156 93h0M157 94h0M80 12h0M0 43h0M52 130h0M132 46h0M44 118h0M91 21h0M24 39h0M105 41h0M65 55h0M149 54h0M29 16h0M1 41h0M125 51h0M140 26h0M102 6h0M132 87h0M15 14h0M100 4h0M84 59h0M111 30h0M4 28h0M59 68h0M136 13h0M75 131h0M143 36h0M76 5h0M148 3h0M71 60h0M71 2h0M78 128h0M91 12h0M96 41h0M9 71h0M3 74h0M51 103h0M91 76h0M148 44h0M20 29h0M96 67h0M48 108h0M9 130h0M110 60h0M90 32h0M154 130h0M81 123h0M12 13h0M108 14h0M32 52h0M34 70h0M107 22h0M149 57h0M45 38h0M49 120h0M158 33h0M129 91h0M29 15h0M12 1h0M64 49h0M108 101h0" stroke="#ce88d2" stroke-width="2.5" stroke-linecap="round" stroke-opacity="0.55"/><path d="M142 4h0M27 11h0M152 107h0M113 87h0M72 122h0M21 7h0M63 50h0M142 133h0M74 127h0M41 119h0M157 14h0M157 20h0M126 11h0M56 73h0M97 79h0M28 98h0M35 106h0M14 77h0M64 93h0M89 52h0M14 93h0M96 4h0M116 104h0M51 100h0M68 112h0M1 25h0M19 100h0M160 64h0M33 23h0M19 17h0M51 125h0M11 22h0M76 67h0M33 34h0M34 104h0M6 124h0M63 56h0M27 27h0M133 118h0M26 85h0M11 17h0M10 79h0M22 65h0" stroke="#843ea8" stroke-width="1.0" stroke-linecap="round" stroke-opacity="0.5"/><path d="M1 132h0M43 11h0M75 91h0M157 26h0M111 55h0M156 10h0M12 16h0M140 77h0M141 92h0M32 110h0M144 85h0M160 38h0M138 51h0M119 92h0M141 116h0M152 16h0M5 34h0M155 110h0M92 9h0M51 104h0M42 14h0M89 69h0M70 14h0M162 126h0M160 89h0M0 55h0M139 17h0M143 67h0M19 68h0M130 20h0M20 39h0M96 11h0M46 119h0M37 47h0M99 32h0M99 79h0M43 113h0M105 5h0M148 6h0M8 24h0M69 103h0M38 68h0M86 32h0M32 114h0M8 4h0M75 17h0M65 114h0M54 10h0M46 92h0M109 69h0M4 121h0M128 9h0M87 119h0M35 71h0M154 68h0M37 90h0M95 36h0M122 77h0M1 118h0M47 109h0M159 2h0M104 23h0M153 7h0M118 1h0M20 12h0M129 30h0M130 25h0M98 132h0M34 20h0M39 24h0M92 83h0M38 89h0M118 107h0M9 26h0M103 40h0M24 61h0M143 130h0M48 117h0M38 31h0M7 111h0M62 78h0M70 67h0M49 7h0M71 112h0M158 62h0M141 67h0M132 52h0M126 9h0M141 7h0M159 93h0M160 75h0M151 113h0M78 32h0M79 69h0M139 35h0M12 61h0M53 112h0M31 11h0M21 6h0M105 25h0M62 18h0M15 79h0M81 35h0M158 77h0M0 105h0M101 14h0M95 36h0M105 79h0M45 5h0M53 92h0M124 54h0M111 54h0M92 122h0M34 82h0M40 65h0M87 89h0M56 80h0M146 76h0M158 24h0M44 18h0M118 24h0M103 87h0M18 24h0M160 98h0M56 93h0M66 48h0M47 71h0M35 112h0M21 106h0M10 12h0M7 5h0M63 68h0M23 117h0M72 11h0M151 52h0M67 35h0M12 81h0M59 91h0M51 29h0M152 59h0M132 0h0M12 37h0M113 114h0M25 80h0M63 86h0M2 63h0M143 76h0M27 65h0M126 10h0M73 34h0M41 81h0M8 76h0M77 74h0M45 8h0M115 12h0M91 26h0M54 99h0M43 25h0M98 99h0M39 131h0M99 12h0M134 21h0M79 81h0M73 37h0M73 120h0M88 14h0M20 61h0M42 18h0M123 45h0M63 22h0M148 123h0M35 114h0M158 19h0M102 52h0M104 107h0M57 38h0M20 53h0M79 124h0M128 48h0M140 126h0M89 117h0M123 18h0M143 19h0M143 34h0M140 85h0M121 77h0M51 97h0M161 129h0M79 27h0M30 38h0M156 82h0M162 78h0M133 38h0M5 112h0M39 64h0M46 37h0M42 18h0M131 79h0M33 64h0M133 110h0M89 78h0M39 77h0M54 37h0M57 132h0M97 104h0M60 124h0M88 128h0M67 45h0M22 113h0M117 7h0M123 21h0M111 4h0M108 111h0M114 93h0M161 95h0M30 46h0M72 8h0M161 6h0M109 5h0M15 90h0M98 107h0M104 43h0M153 132h0M151 55h0M154 86h0M52 37h0M3 30h0M86 94h0M92 126h0M76 84h0M1 98h0M21 102h0M150 100h0M141 54h0M58 34h0M33 91h0M101 102h0M109 73h0M13 7h0M23 113h0M7 46h0M73 101h0M113 74h0M160 11h0M27 116h0M5 15h0M79 3h0M79 130h0M156 127h0M4 9h0M41 58h0M76 14h0M135 28h0M31 113h0M50 93h0M99 55h0M55 19h0M145 1h0M95 124h0M67 93h0M123 15h0M12 26h0M57 47h0M86 41h0M18 107h0M62 102h0M45 25h0M97 126h0M144 61h0M81 5h0M104 63h0M24 33h0M128 78h0M70 81h0M37 66h0M82 5h0M20 121h0M80 90h0M125 33h0M35 5h0M74 129h0M123 114h0M19 118h0M22 88h0M69 30h0M159 45h0M61 80h0M105 94h0M102 3h0M8 31h0M88 63h0M126 81h0M57 50h0M130 130h0M0 96h0M5 74h0M1 133h0M143 52h0M15 77h0M151 28h0M140 1h0M21 113h0M134 45h0M105 123h0M141 107h0M102 24h0M152 98h0M77 108h0M163 131h0M19 16h0M24 45h0M53 96h0M68 91h0M39 3h0M79 54h0M150 49h0M71 58h0M145 99h0M60 45h0M59 42h0M155 123h0M39 109h0M131 42h0M26 48h0M160 36h0M5 24h0M16 9h0M96 15h0M44 95h0M130 85h0M61 115h0M70 40h0M95 27h0M118 66h0M21 12h0M159 80h0M35 64h0M33 88h0M10 124h0M114 54h0M38 82h0M73 96h0M56 121h0M108 10h0M79 49h0M116 102h0M151 76h0M19 79h0M30 95h0M87 39h0M2 77h0M40 54h0M118 28h0M84 19h0M148 125h0M127 79h0M6 0h0M107 131h0M11 47h0M155 17h0M7 10h0M67 61h0M108 41h0M64 67h0M43 87h0M85 41h0M79 25h0M18 90h0M103 100h0M18 5h0M119 64h0M64 6h0M124 115h0M157 37h0M17 55h0M91 20h0M139 90h0M104 98h0M34 126h0M66 13h0M85 98h0M88 67h0M54 26h0M84 36h0M102 5h0M72 8h0M106 11h0M80 105h0M55 61h0M89 89h0M94 21h0M111 41h0M7 98h0M130 2h0M45 61h0M148 24h0M11 57h0M68 6h0M109 63h0M22 75h0M105 37h0M18 102h0M35 108h0M6 63h0M60 84h0M155 64h0M95 69h0M94 80h0M76 3h0M95 35h0M58 82h0M57 57h0M103 12h0M7 113h0M141 130h0M72 52h0M65 118h0M78 133h0M28 61h0M120 62h0M83 21h0M136 100h0M122 49h0M76 69h0M125 114h0M70 68h0M80 69h0M40 10h0M114 84h0M28 36h0M149 113h0M100 127h0M92 75h0M12 96h0M138 126h0M141 15h0M61 78h0M108 51h0M88 34h0M117 11h0M24 76h0M113 71h0M89 71h0M14 100h0M127 39h0M63 113h0M125 76h0M45 32h0M60 85h0M93 66h0M66 113h0M55 17h0M79 65h0M146 52h0M144 128h0M154 60h0M135 36h0M97 99h0M79 112h0M77 24h0M67 72h0M112 92h0M68 108h0M33 65h0M2 21h0M74 120h0M36 47h0M69 117h0M150 108h0M9 72h0M14 35h0M60 33h0M99 29h0M20 131h0M151 115h0M138 91h0M122 31h0M24 125h0M34 5h0M131 43h0M66 9h0M145 55h0M109 75h0M74 126h0M19 27h0M40 4h0M162 131h0M141 9h0M114 1h0M57 65h0M51 79h0M22 102h0M63 82h0M157 82h0M31 37h0M52 112h0M103 108h0M159 77h0M151 38h0M64 39h0" stroke="#843ea8" stroke-width="1.5" stroke-linecap="round" stroke-opacity="0.5"/><path d="M1 109h0M51 14h0M67 109h0M25 60h0M134 120h0M33 71h0M90 94h0M151 68h0M62 131h0M63 61h0M106 92h0M44 67h0M26 87h0M94 39h0M112 74h0M39 120h0M56 43h0M45 21h0M16 52h0M11 100h0M122 79h0M147 97h0M66 115h0M129 124h0M141 63h0M40 30h0M91 40h0M50 66h0M29 79h0M131 58h0M82 26h0M136 116h0M119 118h0M80 91h0M150 67h0M12 40h0M81 119h0M20 28h0M137 120h0M91 58h0M1 97h0M96 95h0M65 61h0M54 96h0M25 77h0M44 128h0M18 38h0M57 118h0M154 4h0M74 121h0M63 110h0M61 63h0M68 108h0M99 18h0M26 97h0M143 119h0M130 15h0M15 75h0M6 4h0M24 74h0M91 72h0M9 117h0M14 129h0M84 129h0M11 130h0M41 43h0M122 90h0M107 13h0M126 77h0M7 74h0M1 15h0M133 118h0M51 110h0M58 95h0M1 35h0M58 8h0M76 18h0M15 82h0M56 132h0M104 0h0M92 49h0M61 111h0M34 52h0M161 124h0M84 61h0M140 82h0M70 11h0M157 59h0M68 22h0M76 81h0M54 37h0M55 101h0M0 114h0M72 3h0M137 98h0M5 18h0M79 124h0M31 47h0M97 59h0M91 20h0M55 16h0M24 29h0M53 91h0M20 114h0M151 38h0M122 61h0M3 132h0M146 84h0M47 103h0M66 20h0M159 127h0M27 3h0M24 94h0M26 120h0M118 114h0M145 60h0M15 1h0M19 121h0M119 45h0M126 4h0M150 14h0M118 56h0M12 71h0M95 106h0M113 86h0M130 61h0M86 89h0M145 80h0M58 27h0M43 1h0M130 16h0M47 60h0M47 64h0M104 20h0M143 86h0M110 49h0M132 104h0M161 7h0M106 5h0M148 87h0M77 81h0M77 69h0M148 121h0M147 122h0M102 96h0M135 8h0M19 99h0M19 48h0M11 67h0M137 78h0M132 90h0M11 69h0M162 89h0M37 98h0M105 77h0M145 106h0M43 69h0M100 122h0M76 123h0M61 51h0M101 119h0M82 61h0M76 9h0M92 21h0M93 59h0M25 12h0M82 118h0M134 94h0M27 32h0M118 69h0M54 21h0M137 59h0M163 7h0M158 35h0M128 108h0M102 42h0M31 84h0M67 46h0M60 105h0M111 64h0M70 122h0M113 92h0M132 127h0M147 76h0M55 120h0M43 86h0M148 44h0M67 66h0M53 49h0M78 18h0M123 25h0M148 43h0M10 42h0M74 70h0M10 60h0M4 57h0M151 30h0M78 103h0M155 54h0M97 123h0M40 52h0M156 53h0M98 24h0M145 52h0M83 52h0M16 24h0M58 19h0M89 23h0M132 89h0M106 60h0M98 91h0M98 89h0M128 50h0M157 65h0M26 76h0M119 40h0M22 59h0M72 67h0M48 38h0M55 33h0M38 15h0M55 91h0M2 2h0M113 85h0M89 116h0M132 112h0M89 73h0M54 31h0M11 100h0M52 51h0M85 43h0M121 101h0M31 75h0M73 74h0M22 122h0M114 79h0M125 111h0M142 85h0M77 89h0M99 67h0M44 125h0M7 21h0M107 29h0M125 87h0M116 46h0M27 60h0M134 95h0M9 39h0M66 39h0M138 24h0M4 83h0M44 57h0M6 81h0M163 25h0M49 82h0M83 97h0M19 114h0M69 95h0M14 79h0M103 14h0M66 2h0M56 118h0M89 95h0M103 43h0M75 2h0M152 1h0M76 97h0M87 30h0M89 97h0M3 87h0M116 5h0M160 18h0M144 34h0M6 18h0M89 44h0M30 48h0M16 94h0M119 24h0M127 63h0M157 86h0M113 32h0M120 20h0M5 3h0M77 13h0M135 84h0M20 70h0M77 25h0M91 5h0M73 45h0M108 130h0M25 88h0M13 26h0M55 24h0M145 15h0M106 83h0M18 106h0M79 83h0M128 42h0M45 98h0M34 1h0M100 50h0M162 31h0M28 53h0M108 19h0M7 13h0M125 64h0M16 66h0M91 7h0M44 70h0M69 99h0M53 10h0M94 4h0M39 1h0M128 95h0M159 62h0M29 88h0M1 83h0M85 2h0M3 132h0M153 97h0M135 130h0M84 113h0M47 48h0M133 45h0M116 70h0M64 92h0M112 105h0M157 45h0M37 15h0M113 11h0M140 59h0M153 21h0M128 73h0M75 128h0M81 3h0M81 7h0M138 97h0M30 75h0M104 7h0M0 25h0M49 4h0M142 25h0M17 29h0M111 39h0M16 106h0M46 96h0M120 84h0M9 119h0M60 103h0M49 61h0M75 122h0M85 8h0M116 60h0M148 12h0M163 3h0M5 92h0M65 85h0M106 49h0M67 21h0M36 17h0M94 2h0M121 76h0M135 112h0M99 54h0M30 82h0M47 52h0M40 8h0M50 6h0M159 89h0M61 57h0M98 78h0M93 43h0M75 110h0M45 132h0M85 29h0M151 78h0M2 106h0M61 70h0M19 42h0M69 24h0M18 32h0M105 0h0M133 94h0M35 118h0M110 119h0M102 124h0M161 130h0M102 30h0M45 87h0M64 114h0M57 43h0M116 14h0M27 42h0M53 65h0M41 39h0M46 118h0M24 68h0M84 100h0M76 38h0M140 12h0M138 28h0M3 14h0M99 81h0M23 83h0M63 80h0M38 92h0M159 107h0M78 85h0M137 95h0M64 88h0M56 6h0M17 21h0M69 55h0M150 10h0M11 55h0M4 102h0M114 115h0M67 23h0M140 87h0M26 14h0M4 42h0M83 103h0M59 103h0M54 30h0M108 89h0M101 23h0M158 125h0M68 112h0M114 31h0M162 52h0M153 50h0M91 3h0M19 58h0M93 12h0M73 132h0M86 119h0M115 27h0M121 6h0M61 50h0M21 83h0M96 57h0M4 103h0M52 45h0M106 18h0M160 50h0M86 53h0M112 5h0M10 130h0M153 11h0M93 25h0M48 98h0M106 39h0M93 91h0M121 127h0M22 111h0M89 39h0M137 7h0M72 73h0M106 14h0M160 18h0M2 42h0M91 58h0M129 17h0M68 74h0M5 73h0M31 61h0M93 103h0M78 90h0M157 40h0M18 93h0M78 55h0M29 56h0M62 99h0M153 113h0M131 72h0M37 89h0M73 125h0M66 46h0M24 25h0M41 22h0M6 57h0M146 126h0M59 123h0M58 120h0M143 46h0M96 24h0M64 123h0M11 130h0M2 65h0M50 79h0M53 25h0M155 126h0M115 88h0M110 23h0M107 19h0M36 106h0M109 77h0M130 52h0M39 121h0M74 100h0M37 124h0M125 1h0M58 101h0M45 10h0" stroke="#843ea8" stroke-width="2.0" stroke-linecap="round" stroke-opacity="0.5"/><path d="M17 130h0M81 131h0M127 27h0M138 83h0M82 82h0M132 86h0M110 46h0M79 4h0M144 112h0M51 117h0M130 128h0M79 124h0M97 23h0M130 121h0M162 34h0M72 71h0M85 103h0M43 68h0M50 62h0M35 106h0M50 93h0M34 28h0M66 34h0M89 48h0M144 69h0M151 108h0M61 126h0M160 53h0M78 107h0M16 73h0M130 77h0M73 32h0M87 91h0M127 11h0M61 57h0M43 53h0M153 1h0M143 66h0M95 80h0M44 62h0M75 4h0M74 10h0M123 99h0M34 99h0M55 58h0M62 48h0M46 92h0M119 43h0M6 67h0M12 72h0M141 112h0M85 76h0M81 85h0M9 23h0M32 103h0M43 62h0M14 21h0M6 36h0M129 45h0M57 61h0M73 11h0M24 15h0M10 84h0M134 128h0M105 16h0M39 71h0M133 95h0M64 129h0M76 90h0M113 44h0M109 100h0M48 14h0M58 130h0M73 126h0M160 14h0M1 14h0M139 97h0M161 95h0M135 90h0M90 103h0M32 101h0M89 33h0M38 59h0M130 90h0M97 13h0M39 6h0M85 98h0M147 75h0M55 55h0M15 31h0M98 7h0M26 3h0M152 39h0M153 10h0M45 109h0M133 119h0M56 107h0M136 79h0M130 101h0M149 7h0M135 100h0M136 117h0M21 69h0M104 15h0M14 19h0M38 131h0M150 21h0M113 1h0M34 121h0M145 125h0M143 89h0M57 85h0M63 80h0M108 79h0M5 60h0M74 16h0M28 28h0M142 117h0M161 96h0M85 27h0M82 48h0M71 113h0M105 9h0M3 80h0M9 66h0M64 33h0M95 123h0M38 107h0M50 92h0M22 79h0M113 86h0M130 125h0M16 116h0M76 121h0M115 132h0M80 44h0M68 132h0M77 107h0M13 123h0M87 1h0M155 31h0M92 119h0M76 16h0M109 82h0M160 67h0M102 48h0M45 35h0M76 98h0M23 113h0M107 30h0M17 80h0M3 128h0M99 30h0M91 102h0M91 66h0" stroke="#843ea8" stroke-width="2.5" stroke-linecap="round" stroke-opacity="0.5"/><path d="M39 -2h0M42 -2h0M49 -1h0M119 -1h0M123 -1h0M137 -1h0M145 -1h0M147 -3h0M154 -3h0M6 2h0M10 2h0M17 4h0M22 1h0M26 2h0M32 3h0M41 1h0M85 3h0M93 2h0M142 1h0M151 3h0M157 1h0M162 3h0M14 6h0M34 6h0M64 7h0M69 8h0M83 8h0M99 8h0M104 6h0M128 7h0M139 6h0M12 12h0M37 10h0M57 11h0M65 12h0M82 10h0M91 10h0M104 12h0M127 11h0M130 10h0M147 12h0M151 11h0M162 12h0M4 14h0M27 16h0M43 16h0M47 15h0M67 14h0M73 17h0M78 16h0M84 15h0M87 14h0M94 15h0M97 17h0M112 15h0M134 16h0M6 19h0M41 18h0M83 19h0M85 19h0M127 21h0M130 21h0M136 19h0M4 25h0M9 23h0M53 24h0M60 24h0M64 24h0M100 24h0M108 26h0M125 25h0M130 25h0M138 25h0M153 25h0M164 23h0M29 29h0M40 27h0M56 29h0M70 29h0M95 28h0M105 28h0M121 28h0M131 30h0M149 28h0M166 27h0M17 34h0M22 32h0M42 31h0M69 32h0M73 34h0M93 32h0M124 33h0M133 32h0M153 34h0M158 31h0M3 38h0M12 36h0M73 36h0M98 36h0M102 38h0M111 37h0M137 36h0M141 36h0M14 40h0M23 42h0M39 42h0M53 43h0M103 41h0M110 40h0M149 42h0M159 42h0M38 47h0M51 46h0M63 44h0M76 45h0M82 47h0M103 45h0M107 47h0M115 46h0M158 45h0M6 51h0M12 50h0M18 50h0M23 49h0M43 50h0M68 51h0M73 49h0M92 49h0M101 51h0M128 50h0M158 51h0M11 54h0M20 54h0M45 53h0M52 53h0M56 53h0M60 53h0M76 54h0M81 56h0M94 53h0M119 55h0M135 55h0M140 55h0M156 55h0M-3 60h0M24 58h0M67 59h0M104 60h0M114 58h0M123 60h0M144 59h0M159 60h0M1 63h0M7 63h0M18 64h0M27 63h0M38 63h0M48 63h0M55 64h0M68 63h0M76 62h0M87 64h0M92 65h0M96 65h0M101 63h0M118 63h0M132 62h0M137 63h0M146 62h0M-1 68h0M8 68h0M14 66h0M33 67h0M54 66h0M57 69h0M63 67h0M78 67h0M109 69h0M127 67h0M131 67h0M138 69h0M148 66h0M153 68h0M1 73h0M26 73h0M31 71h0M37 72h0M58 71h0M72 70h0M90 71h0M102 73h0M107 72h0M115 73h0M138 72h0M142 72h0M4 76h0M18 75h0M27 77h0M32 75h0M41 76h0M53 77h0M61 75h0M72 76h0M83 76h0M88 75h0M107 75h0M119 77h0M121 76h0M149 75h0M161 76h0M3 82h0M10 82h0M14 80h0M19 81h0M28 80h0M55 80h0M74 80h0M84 80h0M120 79h0M126 80h0M129 81h0M134 82h0M141 80h0M144 81h0M19 85h0M29 84h0M40 85h0M49 84h0M65 84h0M80 85h0M83 85h0M98 84h0M104 85h0M133 86h0M139 84h0M143 85h0M10 90h0M14 89h0M20 89h0M25 90h0M30 89h0M49 91h0M55 88h0M61 88h0M71 90h0M74 90h0M91 89h0M101 88h0M106 89h0M125 89h0M129 90h0M135 90h0M150 88h0M35 95h0M58 93h0M68 94h0M75 93h0M100 94h0M135 93h0M153 93h0M21 98h0M30 99h0M52 99h0M57 99h0M81 99h0M92 98h0M97 98h0M112 97h0M116 98h0M152 97h0M9 101h0M21 104h0M52 103h0M58 104h0M61 103h0M77 102h0M88 101h0M102 101h0M109 102h0M113 101h0M127 103h0M139 101h0M142 102h0M162 102h0M15 107h0M29 107h0M41 108h0M66 108h0M85 108h0M105 108h0M109 107h0M127 107h0M161 107h0M0 112h0M5 112h0M7 110h0M25 112h0M30 111h0M40 112h0M54 111h0M58 110h0M69 110h0M90 112h0M93 111h0M100 111h0M108 111h0M134 110h0M144 112h0M148 112h0M160 110h0M6 116h0M11 116h0M20 114h0M30 115h0M41 116h0M52 114h0M77 117h0M87 115h0M97 115h0M121 116h0M161 114h0M13 119h0M48 120h0M68 119h0M93 121h0M118 119h0M123 119h0M127 119h0M136 120h0M142 119h0M148 119h0M151 121h0M10 123h0M31 123h0M37 125h0M50 124h0M87 125h0M90 124h0M95 124h0M110 126h0M115 124h0M120 125h0M147 124h0M152 123h0M162 123h0M167 126h0M27 128h0M42 129h0M92 128h0M108 127h0M133 127h0M152 129h0M156 129h0M162 128h0M2 134h0M5 132h0M17 134h0M30 132h0M47 132h0M57 132h0M70 134h0M76 133h0M81 132h0M90 132h0M96 132h0M120 132h0M166 132h0" stroke="#5c34a2" stroke-width="2.0" stroke-linecap="round" stroke-opacity="0.75"/><path d="M-2 -2h0M5 -3h0M7 -3h0M27 -3h0M32 -3h0M59 -3h0M63 -2h0M70 -2h0M88 -1h0M94 -1h0M99 -3h0M104 -3h0M109 -3h0M113 -3h0M127 -3h0M134 -2h0M159 -3h0M1 2h0M35 3h0M45 3h0M57 1h0M72 1h0M76 2h0M97 3h0M106 4h0M110 1h0M117 4h0M121 3h0M125 3h0M130 2h0M135 3h0M147 1h0M-2 6h0M5 6h0M40 6h0M45 8h0M49 7h0M58 7h0M80 6h0M89 6h0M109 5h0M119 6h0M125 6h0M135 8h0M144 7h0M159 8h0M7 10h0M17 10h0M20 11h0M26 11h0M29 11h0M46 10h0M50 12h0M72 10h0M76 10h0M85 10h0M100 10h0M115 11h0M135 10h0M-3 14h0M10 15h0M13 15h0M18 15h0M24 15h0M54 14h0M104 16h0M109 15h0M123 15h0M138 16h0M149 16h0M157 15h0M163 15h0M2 20h0M10 19h0M15 19h0M22 20h0M31 19h0M36 21h0M46 19h0M53 18h0M55 19h0M62 20h0M91 18h0M96 18h0M115 20h0M122 18h0M142 20h0M146 19h0M151 20h0M155 19h0M-2 24h0M13 23h0M25 23h0M35 24h0M45 23h0M74 24h0M85 25h0M88 25h0M104 23h0M114 23h0M134 24h0M149 24h0M160 24h0M5 27h0M11 28h0M14 28h0M24 27h0M51 27h0M59 28h0M64 29h0M76 28h0M81 29h0M89 30h0M116 28h0M124 28h0M140 28h0M9 34h0M13 33h0M29 34h0M49 32h0M59 33h0M79 32h0M84 34h0M103 33h0M119 32h0M163 31h0M7 37h0M17 37h0M37 37h0M46 39h0M82 36h0M88 38h0M91 38h0M106 38h0M121 38h0M131 37h0M147 38h0M150 38h0M157 38h0M0 41h0M3 42h0M8 40h0M19 42h0M48 42h0M57 42h0M63 42h0M69 41h0M74 41h0M88 42h0M94 41h0M119 42h0M123 42h0M129 43h0M134 42h0M140 42h0M145 40h0M155 42h0M165 43h0M1 45h0M11 45h0M21 46h0M30 46h0M42 47h0M57 45h0M66 46h0M87 47h0M92 47h0M112 45h0M127 45h0M138 44h0M141 45h0M147 47h0M153 47h0M-3 50h0M3 50h0M27 49h0M32 52h0M38 51h0M51 50h0M59 50h0M78 49h0M83 49h0M86 51h0M99 51h0M106 51h0M114 50h0M121 51h0M131 52h0M142 49h0M152 51h0M161 51h0M0 55h0M5 55h0M15 55h0M30 55h0M40 55h0M65 54h0M69 55h0M86 55h0M124 55h0M132 54h0M160 53h0M4 60h0M8 58h0M14 58h0M28 58h0M33 59h0M44 59h0M49 60h0M54 59h0M57 60h0M74 58h0M80 60h0M92 59h0M98 59h0M107 60h0M118 58h0M128 59h0M133 60h0M139 60h0M149 59h0M163 57h0M11 63h0M22 63h0M31 65h0M43 63h0M62 63h0M72 64h0M83 62h0M107 65h0M113 63h0M142 64h0M157 64h0M24 67h0M28 67h0M37 66h0M41 66h0M68 67h0M73 67h0M82 66h0M87 67h0M92 67h0M113 67h0M118 69h0M5 71h0M12 72h0M20 73h0M45 72h0M51 72h0M61 73h0M77 73h0M96 73h0M126 73h0M131 72h0M152 72h0M156 71h0M160 70h0M-2 77h0M14 77h0M22 77h0M36 77h0M59 77h0M77 76h0M92 76h0M97 77h0M132 77h0M153 76h0M157 78h0M26 79h0M40 82h0M51 81h0M66 82h0M70 81h0M79 81h0M94 79h0M101 82h0M104 81h0M109 81h0M115 81h0M151 82h0M155 80h0M163 80h0M14 84h0M24 86h0M33 84h0M59 86h0M75 84h0M108 84h0M115 86h0M118 84h0M124 85h0M150 86h0M165 86h0M0 89h0M45 90h0M84 89h0M109 88h0M120 89h0M140 88h0M166 89h0M-1 94h0M3 93h0M23 95h0M30 93h0M40 93h0M45 94h0M49 92h0M54 94h0M79 93h0M105 93h0M110 93h0M114 95h0M128 93h0M138 92h0M143 94h0M148 92h0M160 93h0M164 93h0M1 97h0M6 97h0M28 97h0M42 98h0M62 98h0M66 98h0M72 98h0M77 99h0M86 99h0M101 99h0M107 99h0M123 97h0M136 98h0M141 98h0M148 98h0M158 99h0M13 103h0M16 102h0M28 101h0M31 102h0M38 101h0M43 102h0M74 101h0M99 103h0M116 102h0M123 104h0M134 103h0M152 102h0M-1 106h0M9 105h0M20 107h0M25 108h0M45 107h0M60 106h0M69 106h0M76 105h0M89 107h0M95 107h0M101 106h0M130 108h0M136 106h0M139 108h0M155 107h0M164 107h0M15 110h0M35 110h0M43 111h0M74 111h0M79 111h0M124 111h0M128 112h0M154 111h0M165 111h0M15 116h0M26 114h0M36 115h0M61 114h0M70 115h0M90 116h0M102 114h0M107 117h0M111 114h0M117 115h0M125 116h0M130 115h0M137 116h0M142 117h0M145 116h0M150 114h0M156 117h0M166 114h0M-2 119h0M24 118h0M32 119h0M44 120h0M54 119h0M59 119h0M87 120h0M98 121h0M103 119h0M107 119h0M113 120h0M132 120h0M157 119h0M163 118h0M7 125h0M20 124h0M26 125h0M46 123h0M57 123h0M67 124h0M76 125h0M82 123h0M101 123h0M106 125h0M125 124h0M132 123h0M137 123h0M140 124h0M2 130h0M8 129h0M17 129h0M22 128h0M47 128h0M63 128h0M67 128h0M89 128h0M99 129h0M102 128h0M113 130h0M123 130h0M129 129h0M147 128h0M12 134h0M21 132h0M26 132h0M42 133h0M50 133h0M60 133h0M67 134h0M101 133h0M117 132h0M127 131h0M137 132h0M147 132h0M152 134h0M161 134h0" stroke="#5c34a2" stroke-width="2.5" stroke-linecap="round" stroke-opacity="0.75"/><path d="M24 -1h0M53 -2h0M74 -3h0M84 -2h0M51 1h0M68 1h0M83 2h0M10 7h0M18 5h0M24 7h0M53 7h0M94 7h0M148 7h0M154 5h0M165 6h0M2 10h0M41 11h0M61 11h0M95 11h0M142 12h0M167 12h0M57 15h0M64 14h0M119 15h0M27 21h0M71 19h0M76 19h0M111 19h0M160 19h0M38 23h0M48 23h0M68 23h0M79 24h0M-1 28h0M20 28h0M34 28h0M45 28h0M101 28h0M136 28h0M146 27h0M155 30h0M-2 34h0M32 33h0M39 33h0M97 32h0M128 33h0M23 38h0M27 37h0M41 37h0M52 37h0M56 37h0M128 37h0M163 38h0M45 42h0M84 40h0M100 41h0M26 45h0M71 47h0M95 45h0M122 46h0M46 51h0M64 51h0M138 50h0M104 55h0M115 54h0M165 56h0M18 60h0M38 58h0M51 63h0M123 63h0M1 68h0M49 67h0M103 68h0M163 69h0M17 72h0M40 71h0M66 72h0M81 72h0M87 72h0M111 71h0M122 73h0M147 72h0M9 76h0M48 77h0M67 77h0M136 76h0M142 77h0M0 81h0M33 82h0M45 81h0M158 82h0M-1 85h0M55 86h0M68 85h0M88 84h0M153 86h0M158 84h0M66 90h0M97 89h0M116 89h0M155 90h0M8 93h0M14 95h0M20 93h0M85 95h0M95 92h0M120 94h0M125 93h0M13 97h0M17 98h0M36 97h0M48 97h0M125 97h0M132 98h0M3 102h0M93 101h0M4 108h0M80 105h0M120 107h0M63 110h0M105 112h0M115 112h0M119 110h0M140 111h0M1 114h0M80 117h0M3 120h0M9 119h0M18 119h0M28 121h0M62 118h0M72 118h0M78 120h0M40 123h0M62 125h0M-3 128h0M36 129h0M53 128h0M58 128h0M78 127h0M117 128h0M139 129h0M142 127h0M106 132h0M110 133h0" stroke="#5c34a2" stroke-width="3.0" stroke-linecap="round" stroke-opacity="0.75"/><path d="M146 21l1 -2M5 18l2 -1M31 71l3 -2M145 11l1 -3M60 75l3 1M105 31l-2 0M19 109l-4 1M119 87l3 0M43 39l-4 1M112 113l2 -2M59 72l1 2M6 72l-1 -3M96 92l4 -1M67 59l-2 -1M120 108l1 -2M63 37l4 1M16 53l3 0M42 38l-2 1M99 50l-2 -3M35 26l2 0M78 41l2 1M15 118l-1 -2M10 18l-1 -3M122 75l3 -2M87 99l-1 2M49 97l-1 -1M39 9l4 -1M86 17l-2 1M22 71l-3 0M114 84l2 -3M139 55l2 0M25 93l0 -3M53 70l-2 1M121 101l0 -2M90 6l-1 -1M160 96l0 -3M75 28l-2 3M64 129l2 2M135 108l3 2M73 62l1 1M117 125l-1 2M106 14l2 0M154 97l1 3M16 73l0 -3M153 128l3 -2M107 29l1 -3M146 85l-1 2M42 125l2 -1M47 117l-2 1M62 66l2 -1M19 56l3 -1M78 131l-3 1M148 119l-2 -2M141 67l-3 -2M103 84l1 2M144 73l0 -2M127 91l3 0M115 122l-2 2M124 27l0 -2M131 71l1 -2M149 97l3 -2M112 98l-3 -1M71 96l2 -1M40 56l-3 1M127 49l2 -2M135 36l4 -1M1 19l-3 0M149 68l4 2M134 57l-1 1M60 42l3 0M88 24l0 -2M70 105l2 1M94 42l0 -2M44 7l2 -1M41 6l1 -3M161 123l3 1M127 47l3 0M17 119l3 -2M101 45l1 -2M96 69l2 -1M19 16l-1 3M52 123l-2 2M158 25l-2 -2M146 31l-2 2M123 47l-1 2M116 113l1 2M59 125l2 -2M118 96l-1 3M134 128l1 -2M48 13l1 1M5 9l1 -3M66 99l1 -2M80 84l1 -2M43 116l1 -3M12 108l-3 2M150 12l0 -2M7 19l-2 1M44 18l0 3M129 13l-4 0M67 108l3 1M112 109l2 1M42 105l-2 0M145 130l2 2M60 115l-2 1M114 17l1 1M147 51l-1 -3M30 104l3 2M88 44l1 -3M110 95l2 3M108 85l-1 -2M151 129l-4 -1M94 52l1 -3M7 24l0 -2M87 76l1 2M92 124l3 -1M145 68l2 0M34 89l-3 1M1 44l1 -1M20 18l1 2M71 130l-1 -2M79 65l1 -2M72 31l0 3M65 1l2 -1M108 90l-1 2M121 73l0 -3M118 50l2 2M109 14l-1 3M15 51l-2 3M33 84l0 2M65 37l2 2M22 62l-3 -1M26 27l-3 2M149 27l-3 -2M3 58l3 2M75 102l1 -3M118 95l3 -1M38 55l3 2M8 1l1 1M110 97l-1 3M126 111l-2 1M20 117l0 3M81 21l1 -3M143 132l1 3M102 1l-3 -2M132 98l-1 4M91 61l-1 1M22 78l-1 2M112 132l-2 -1M22 61l-3 -1M131 44l0 -3M20 28l-3 1M39 2l1 2M140 84l2 0M85 17l-2 -2M51 89l4 1M47 123l0 -2M102 65l-3 1M110 3l1 3M162 56l-4 0M142 33l0 -3M16 3l3 0M88 47l2 1M119 81l-2 1M64 77l1 2M34 58l2 -2M86 128l-2 0M58 13l-1 -2M121 94l1 3M109 84l-3 -1M92 9l-4 -1M133 94l-1 -4M125 102l-2 1M146 65l-3 0M107 90l3 2M38 117l0 2M75 55l-3 0M120 13l-1 2M73 78l3 2M128 30l2 2M56 79l3 1M107 109l1 2M6 104l-3 1M62 23l0 -4M99 116l-3 0M10 62l0 4M18 13l2 3M117 71l-2 0M151 62l-2 2M114 27l2 0M76 80l-1 1M158 87l-4 -1M46 60l2 3M6 73l-1 2M122 52l-3 -1M125 21l-1 4M41 54l-2 -3M50 82l1 2M40 72l2 -1M128 86l0 2M83 88l-3 2M73 130l0 -2M62 8l-2 3M11 55l3 -1M41 72l1 3M77 100l0 2M18 127l0 -2M106 8l2 0M34 77l2 0M160 39l1 -2M60 36l0 -2M56 13l1 2M46 47l0 -2M37 71l-1 3M120 27l-1 -4M108 122l1 2M128 0l-1 1M142 36l0 -2M88 98l-3 0M67 107l1 -3M40 12l-2 0" stroke="#f2d8ee" stroke-width="0.7" stroke-opacity="0.8" fill="none"/><path d="M53 101h0M138 14h0M92 69h0M60 73h0M65 20h0M68 11h0M47 56h0M130 104h0M26 3h0M2 128h0M39 64h0M42 57h0M48 111h0M15 26h0M130 73h0M101 89h0M85 77h0M135 75h0M140 105h0M5 111h0M94 19h0M158 115h0M143 26h0M153 57h0M99 102h0M95 0h0M27 93h0M76 39h0M117 81h0M61 28h0M8 39h0M45 104h0M148 32h0M29 13h0M17 88h0M131 101h0M133 84h0M134 4h0M58 47h0M102 20h0M26 115h0M88 105h0M99 105h0M72 100h0M16 11h0M95 73h0M134 129h0M161 22h0M51 1h0M10 106h0M64 25h0M146 56h0M85 98h0M95 7h0M39 61h0M75 88h0M48 123h0M8 95h0M6 37h0M111 116h0M17 54h0M57 60h0M11 57h0M86 43h0M152 80h0M118 121h0M162 129h0M125 88h0M19 79h0M71 132h0M101 96h0M84 117h0M114 88h0M6 49h0M63 53h0M43 125h0M134 128h0M150 10h0M92 112h0M89 10h0M57 43h0M133 50h0M68 60h0M103 35h0M26 45h0M69 39h0M69 95h0M34 33h0M1 109h0M138 104h0M10 43h0M92 41h0M29 23h0M54 65h0M42 74h0M52 86h0M39 121h0M97 42h0M57 58h0M139 4h0M75 24h0M36 19h0M41 7h0M24 61h0M124 20h0M151 58h0M135 13h0M57 3h0M108 125h0M39 10h0M34 105h0M52 127h0M88 26h0M33 76h0M79 47h0M142 130h0M144 85h0M106 71h0M46 36h0M32 71h0M160 102h0M146 40h0M82 119h0M124 44h0M146 112h0M7 44h0M78 39h0M116 38h0M95 114h0M79 49h0M56 39h0M106 121h0M28 45h0M24 55h0M3 100h0M57 8h0M80 77h0M71 105h0M137 56h0M150 90h0M59 4h0M92 21h0M152 129h0M51 55h0M136 115h0M52 23h0M85 112h0M121 110h0M29 55h0M118 100h0M63 39h0M79 92h0M57 75h0M153 88h0M20 55h0M138 89h0M119 57h0M5 75h0M43 90h0M147 73h0" stroke="#f4e6f6" stroke-width="0.5" stroke-linecap="round" stroke-opacity="0.85"/><path d="M100 81h0M94 92h0M25 52h0M102 51h0M0 86h0M15 61h0M153 4h0M25 10h0M158 20h0M135 93h0M145 28h0M15 125h0M17 102h0M108 45h0M134 36h0M159 24h0M132 100h0M102 47h0M160 49h0M4 112h0M120 9h0M109 71h0M85 87h0M90 110h0M135 67h0M28 104h0M162 117h0M1 16h0M86 129h0M38 24h0M72 73h0M75 127h0M21 53h0M12 80h0M83 5h0M45 6h0M59 123h0M45 19h0M30 102h0M86 58h0M78 11h0M156 49h0M33 50h0M132 131h0M22 33h0M45 113h0M20 80h0M51 54h0M2 98h0M9 103h0M78 62h0M83 63h0M38 97h0M86 118h0M89 13h0M9 38h0M63 90h0M114 44h0M11 67h0M30 103h0M118 124h0M88 36h0M145 79h0M97 57h0M137 28h0M140 112h0M87 40h0M29 128h0M49 66h0M140 98h0M21 54h0M138 79h0M73 27h0M27 94h0M15 106h0M135 15h0M91 69h0M77 60h0M32 30h0M136 97h0M85 104h0M109 113h0M110 112h0M145 23h0M107 39h0M136 8h0M123 70h0M115 92h0M112 97h0M123 49h0M70 45h0M57 86h0M136 83h0M81 38h0M160 129h0M127 37h0M23 72h0M118 122h0M51 111h0M84 9h0M40 116h0M148 63h0M140 119h0M118 102h0M134 125h0M72 124h0M76 83h0M33 21h0M55 33h0M77 94h0M87 74h0M159 129h0M97 10h0M108 97h0M12 90h0M142 129h0M82 132h0M123 116h0M50 68h0M95 7h0M74 112h0M28 7h0M149 91h0M123 64h0M134 4h0M95 69h0M88 36h0M89 107h0M124 105h0M7 3h0M56 81h0M73 118h0M11 50h0M41 108h0M73 126h0M116 15h0M89 84h0M125 94h0M17 13h0M36 18h0M139 126h0M3 53h0M81 48h0M77 117h0M92 108h0M13 110h0M107 24h0M16 53h0M72 22h0M75 98h0M146 47h0M99 41h0M106 51h0M117 21h0M157 9h0M39 11h0M144 55h0M127 19h0M51 116h0M55 34h0M125 20h0M7 56h0M32 22h0M130 49h0M141 132h0M21 114h0M143 130h0M2 16h0M95 65h0M114 95h0M75 82h0M90 23h0M123 22h0M155 116h0M97 111h0M68 109h0M61 104h0M146 51h0M137 28h0M134 86h0M11 117h0M0 85h0M68 18h0M50 16h0M8 10h0M88 6h0M150 34h0M96 55h0M26 77h0M62 68h0M151 60h0M13 87h0M133 106h0M6 112h0M26 67h0M85 14h0M123 81h0M14 99h0M96 131h0M134 13h0M11 119h0M10 31h0M118 90h0M1 43h0M33 109h0M143 17h0M98 117h0M30 100h0M47 38h0M8 60h0M118 120h0M103 15h0M51 118h0M28 62h0M155 70h0M90 107h0M150 120h0M150 69h0M48 81h0M135 11h0M77 25h0M23 125h0M52 23h0M112 38h0M32 123h0M108 63h0M150 35h0M116 58h0M140 70h0M19 53h0M96 110h0M66 116h0M136 76h0M65 47h0M81 86h0M126 44h0M0 31h0M31 36h0M44 1h0M118 31h0M28 128h0M40 20h0M40 126h0M155 70h0M133 12h0M35 102h0M144 100h0M8 89h0M111 40h0M125 125h0M4 52h0M13 81h0M95 68h0M24 17h0M132 82h0M60 122h0M110 65h0M12 5h0M89 11h0M108 1h0M72 112h0M78 33h0M156 20h0M158 42h0M67 90h0M80 35h0M35 123h0M106 90h0M71 128h0M13 60h0M162 11h0M30 33h0M161 76h0M87 127h0M152 110h0M52 19h0M117 8h0M103 22h0M155 77h0M95 55h0M147 94h0M60 26h0M63 111h0M72 88h0M113 29h0M28 99h0M103 77h0M120 50h0M133 87h0M16 34h0M111 53h0M147 48h0M100 17h0M106 115h0M159 92h0M16 127h0M7 20h0M11 18h0M10 33h0M48 55h0M55 22h0M158 73h0M61 43h0M9 35h0M109 66h0M157 37h0M7 9h0M24 14h0M39 71h0M44 99h0M106 131h0M81 33h0M81 30h0M3 45h0M18 23h0M10 129h0M33 131h0M26 65h0M119 48h0M120 68h0M33 5h0M17 41h0M53 82h0M107 5h0M53 52h0M95 50h0M70 31h0M145 70h0M56 22h0M26 24h0M74 63h0M116 76h0M51 5h0M85 132h0M160 29h0M155 93h0M112 74h0M28 12h0M41 65h0M6 93h0M106 21h0M12 59h0M63 93h0M8 71h0M51 56h0M145 111h0M88 105h0M83 5h0M50 8h0M28 28h0M3 68h0M104 87h0M68 10h0M21 14h0M73 131h0M64 133h0M148 109h0M145 5h0M8 108h0M68 82h0M13 17h0M136 93h0M67 114h0M45 18h0M100 23h0M72 64h0M49 31h0M79 85h0M31 125h0M108 65h0M27 104h0M17 51h0M115 34h0M151 32h0M132 29h0M8 52h0M79 23h0M22 32h0M28 35h0M5 8h0M62 66h0M43 50h0M79 81h0M144 45h0M82 40h0M80 57h0M49 48h0M75 45h0M56 109h0M9 17h0M158 31h0M70 74h0M139 104h0M153 63h0M41 92h0M133 93h0M71 6h0M73 3h0M24 58h0M105 8h0M125 85h0M26 82h0M29 71h0M69 35h0M89 53h0M1 97h0M59 132h0M80 7h0M28 8h0M134 109h0M120 90h0M23 19h0M158 81h0M8 52h0M6 5h0M51 124h0M125 107h0M97 58h0M9 76h0M48 35h0M21 90h0M25 8h0M98 103h0M140 91h0M66 33h0M56 91h0M119 39h0M4 102h0M139 1h0M80 91h0M50 67h0M76 121h0M53 116h0M16 31h0M121 100h0M135 105h0M159 27h0M124 22h0M50 81h0M102 112h0M72 116h0M28 124h0M83 67h0M65 70h0M146 130h0M34 42h0M125 35h0M97 55h0M107 23h0M123 80h0M21 110h0M19 68h0M59 42h0M41 39h0M111 96h0M156 91h0M127 17h0M133 96h0M115 114h0M135 68h0M150 110h0M49 113h0M155 30h0M78 3h0M159 14h0M10 8h0M112 113h0M38 21h0M22 65h0M96 29h0M42 88h0M161 103h0M57 79h0M80 37h0M97 42h0M110 50h0M128 124h0M144 43h0M104 6h0M76 40h0M87 87h0M62 10h0M76 130h0M129 21h0M74 123h0M153 33h0M42 56h0M134 126h0M46 84h0M31 15h0M154 82h0M16 44h0M107 68h0M68 54h0M2 81h0M0 49h0M8 88h0M67 110h0M114 14h0M28 114h0M62 11h0M64 21h0M100 125h0M87 59h0M142 80h0M67 106h0M22 20h0M25 55h0M104 29h0M53 63h0M63 128h0M13 120h0M87 122h0M4 111h0M121 123h0M80 47h0M161 8h0M79 122h0M3 10h0M94 113h0M87 12h0M34 48h0M84 75h0M51 80h0M30 65h0M103 123h0M5 118h0M9 2h0M97 33h0M161 105h0M122 100h0M16 20h0M10 103h0M19 54h0M144 6h0M142 65h0M91 104h0M123 10h0M44 36h0M33 11h0M95 83h0M17 3h0M57 46h0M102 51h0M62 99h0M135 82h0M107 10h0M121 100h0M106 42h0M108 93h0M121 70h0M104 57h0M71 15h0M139 33h0M133 81h0M155 42h0M72 105h0M127 35h0M160 100h0M36 113h0" stroke="#f4e6f6" stroke-width="1.0" stroke-linecap="round" stroke-opacity="0.85"/><path d="M119 35h0M50 44h0M118 117h0M38 15h0M6 33h0M1 72h0M1 21h0M153 88h0M6 47h0M129 28h0M131 61h0M110 11h0M109 91h0M34 92h0M92 89h0M104 23h0M59 40h0M83 88h0M125 7h0M120 117h0M90 73h0M139 113h0M141 102h0M92 105h0M134 119h0M79 123h0M38 127h0M49 13h0M49 86h0M146 82h0M150 82h0M149 82h0M101 120h0M97 102h0M13 55h0M33 20h0M30 69h0M99 57h0M90 63h0M112 25h0M105 11h0M33 30h0M109 89h0M140 63h0M5 123h0M7 44h0M153 30h0M118 107h0M26 110h0M59 119h0M18 105h0M85 36h0M86 123h0M48 45h0M26 66h0M90 132h0M112 25h0M73 108h0M66 7h0M96 32h0M25 124h0M4 67h0M129 51h0M24 14h0M134 117h0M26 23h0M142 33h0M152 71h0M11 28h0M123 11h0M157 114h0M26 24h0M0 14h0M121 45h0M94 14h0M155 5h0M134 41h0M28 76h0M27 124h0M86 18h0M43 52h0M36 84h0M156 74h0M72 46h0M39 17h0M11 58h0M161 34h0M136 99h0M24 103h0M148 80h0M161 130h0M39 59h0M122 124h0M63 104h0M19 69h0M97 38h0M71 10h0M19 60h0M80 82h0M31 45h0M53 113h0M142 20h0M131 33h0M21 104h0M157 118h0M10 114h0M90 97h0M139 72h0M17 41h0M116 26h0M67 87h0M62 87h0M39 83h0M110 45h0M26 38h0M68 77h0M15 49h0M17 12h0M78 11h0M61 20h0M139 72h0M76 50h0M89 37h0M146 127h0M46 58h0M14 50h0M95 110h0M108 33h0M141 88h0M42 25h0M54 81h0M24 57h0M53 103h0M91 63h0M103 56h0M13 32h0M57 58h0M111 8h0M117 48h0M129 82h0M86 2h0M34 13h0M39 56h0M47 112h0M50 23h0M51 90h0M109 62h0M115 56h0M109 58h0M24 72h0M114 32h0M147 51h0M153 6h0M60 46h0M69 45h0M65 9h0M102 62h0M2 54h0M134 100h0M30 130h0M59 44h0M135 56h0M18 74h0M58 25h0M149 122h0M15 93h0M11 88h0M89 53h0M82 71h0M142 112h0M118 97h0M87 42h0M98 132h0M32 100h0M43 96h0M1 41h0M57 3h0M84 47h0M128 1h0M123 35h0" stroke="#f4e6f6" stroke-width="1.5" stroke-linecap="round" stroke-opacity="0.85"/><path d="M162 127h0M47 100h0M80 111h0M75 16h0M119 61h0M143 64h0M0 29h0M143 63h0M95 59h0M109 59h0M149 125h0M162 46h0M95 91h0M71 62h0M131 8h0M136 92h0M112 93h0M21 36h0M87 97h0M125 126h0M72 124h0M66 119h0M152 105h0M61 34h0M17 129h0M34 13h0M107 58h0M158 53h0M132 86h0M104 127h0M62 13h0M105 117h0M90 90h0M57 41h0M71 127h0M30 24h0M79 118h0M99 93h0M16 37h0M33 114h0" stroke="#e0407a" stroke-width="1.0" stroke-linecap="round" stroke-opacity="0.8"/><path d="M123 90h0M145 41h0M142 115h0M83 11h0M12 113h0M82 120h0M18 124h0M53 25h0M25 52h0M65 37h0M93 36h0M80 91h0M90 59h0M76 87h0M57 23h0M48 3h0M70 60h0M1 15h0M150 117h0M35 14h0" stroke="#e0407a" stroke-width="1.5" stroke-linecap="round" stroke-opacity="0.8"/></g><ellipse cx="403" cy="633.5" rx="5.8" ry="5.3" transform="rotate(0 403 633.5)" fill="#fbf6fb"/><ellipse cx="421" cy="632" rx="1.5" ry="1.3" transform="rotate(0 421 632)" fill="#fbf6fb"/><path d="M449,577 l4,0 l6,14 l-2,1z" fill="#fbf6fb"/></g></g><g clip-path="url(#ct2)"><g filter="url(#sf)"><rect x="355.0" y="714.0" width="163.0" height="132.5" fill="#cad2f1"/><g transform="translate(355.0,714.0)"><path d="M0 129l-1 -2M5 42l-1 -2M45 2l0 2M161 75l-4 1M135 25l4 0M31 99l-4 -3M128 131l-3 1M110 98l-4 1M41 62l-3 -2M75 15l-1 3M97 68l-2 -1M73 99l2 3M73 109l-3 2M102 131l0 4M56 92l-2 1M24 56l-3 3M106 94l-2 2M114 88l-1 4M141 95l-3 -4M153 119l0 -5M59 64l-4 0M21 54l5 -2M18 117l4 -2M92 69l-3 1M17 106l-2 1M118 86l0 3M132 96l-2 3M6 88l-4 0M57 25l-4 0M71 55l0 -3M56 44l1 -4M132 131l-3 1M149 31l2 0M83 83l-3 2M110 16l3 -3M49 28l1 4M97 120l1 -5M0 7l1 2M140 47l-1 3M152 26l0 3M10 111l-3 0M39 92l3 -2M141 27l-3 -2M92 88l-3 0M83 51l4 2M102 63l1 -4M92 101l3 3M22 131l2 2M140 37l-4 0M72 72l3 -3M152 17l0 3M148 109l-1 3M61 2l2 -4M99 24l2 4M153 22l3 2M111 74l-5 0M28 21l-2 0M35 48l3 3M145 131l1 -5M31 106l1 3M23 9l3 2M18 10l1 3M40 84l1 3M131 101l3 3M119 42l3 0M149 111l4 -1M71 34l-4 -2M137 102l-2 -1M11 63l-4 1M6 76l2 -2M52 131l2 2M104 35l-2 1M80 2l2 1M156 14l-4 -1M115 88l-4 1M79 92l4 1M37 79l-2 -2M124 85l3 2M65 107l-3 1M131 112l-3 1M31 87l4 -1M102 28l2 1M108 55l1 -3M127 78l-3 1M46 63l4 1M10 109l0 4M54 66l-3 3M102 8l-2 1M142 106l-3 -3M75 109l3 -2M11 63l1 3M89 112l1 -5M92 32l3 4M148 54l1 -3M154 89l1 4M11 24l-3 1M3 70l-1 -3M21 105l-2 -1M26 49l-3 2M137 21l-4 3M45 89l4 1M37 117l-2 -1M118 82l2 -2M88 127l-1 -3M121 20l2 -1M99 58l2 4M123 49l-4 -1M50 111l-2 -1M6 119l3 -3M124 58l-4 2M6 76l1 -3M28 104l2 2M9 70l2 -1M80 104l-1 4M9 126l0 2M145 115l-2 -1M63 55l2 -1M70 5l-4 2M8 74l3 -1M75 42l2 -3M58 55l-1 2M131 62l4 0M151 92l0 -2M55 115l-2 -4M5 105l1 -5M76 115l4 -2M72 126l-4 -3M87 30l3 4M88 26l-1 -3M16 32l-2 2M78 112l-1 3M18 28l-3 0M147 28l-2 2M6 62l4 0M23 17l4 -1M135 78l0 -3M32 45l-4 2M60 77l-1 3M103 98l0 -2M7 87l-2 -3M80 111l-3 -3M162 116l2 0M79 116l0 4M51 89l0 -4M30 68l2 -1M106 9l4 2M47 130l4 2M19 110l2 -3M76 104l-3 3M130 124l4 1M24 123l1 4M20 123l2 -5M158 97l2 5M17 130l-1 -2M161 61l-3 -1M109 45l3 -1M119 118l-3 3M144 109l-5 1M96 84l0 4M134 96l1 4M56 47l4 -1M131 72l-1 4M127 2l-4 -2M75 110l4 0M32 14l3 0M103 99l-4 0M44 112l1 -2M122 48l2 1M97 66l-2 -4M62 27l1 -3M115 84l2 0M119 105l-5 -1M1 72l2 2M63 95l3 -2M34 50l0 4M162 67l0 3M29 3l4 -2M115 42l-5 -1M141 3l4 3M74 47l-5 0M109 83l1 4M22 82l5 -1M140 116l0 -4M84 86l-4 0M110 84l0 -3M119 125l3 -1M2 35l-4 1M97 28l2 -1M23 6l3 0M27 72l-2 0M47 55l3 3M60 132l0 5M121 20l-3 -2M122 41l-4 -1M57 43l2 -1M56 8l1 -3M148 21l3 -2M59 8l1 -3M152 54l-2 -1M147 126l1 -4M26 100l-3 0M80 28l4 3M100 103l2 -1M116 11l-2 -2M136 2l4 -2M3 71l3 2M120 41l3 -1M57 18l5 0M56 122l4 3M119 118l-2 0M69 123l3 0M18 11l0 2M1 85l-4 -3M67 56l1 -3M38 30l0 -2M91 124l-1 -4M47 37l-3 -2M137 77l-2 -3M31 36l0 2M138 68l-4 0M149 124l0 -3M44 30l-4 2M150 47l-2 -4M116 1l1 4M89 74l-3 3M156 11l-1 4M153 3l3 0M107 86l2 3M98 28l-2 2M19 2l3 0M60 5l-1 -2M60 93l3 3M133 91l1 -2M39 127l-3 -3M112 68l2 -2M110 82l2 2M47 78l3 3M108 76l4 1M110 33l-1 2M76 105l3 -2M149 72l2 -3M11 20l3 -3M76 28l3 2M51 55l3 -1M103 54l2 1M61 35l3 -3M98 6l1 -4M42 14l2 0M96 32l-2 -1M139 34l-1 4M131 6l1 3M113 73l2 -3M91 71l2 -4M38 22l2 -4M24 31l3 0M113 7l-4 0M111 38l1 -2M72 35l0 -3M62 17l2 3M142 17l4 0M96 36l2 2M151 6l4 0M34 114l4 -1M116 85l1 2M22 56l2 -2M2 12l2 1M78 43l2 -1M5 47l3 -2M16 40l2 2M76 99l-1 3M84 104l1 -2M94 43l0 -3M125 77l-1 -2M17 42l-3 -2M62 13l1 -2M2 17l3 2M93 37l-4 -2M41 11l3 1M85 31l2 -1M33 14l-2 -4M131 90l3 3M48 52l3 -2M117 22l-1 -4M111 22l-1 4M20 43l-4 -1M26 92l-2 2M1 39l2 2M56 12l1 -4M110 129l2 -2M147 37l2 3M116 66l-2 -2M149 89l-3 0M113 91l-3 4M67 122l0 4M98 76l4 2M19 57l-3 0M70 123l3 2M107 62l-2 -2M133 15l-3 3M156 81l2 -2M7 105l-2 0M62 112l4 0M52 40l1 -3M68 91l3 -2M131 122l1 -3M77 76l-1 -3M44 5l-1 -3M85 71l2 4M130 5l3 4M31 108l2 0M96 73l-1 -4M33 116l-2 1M17 15l-1 -2M34 69l3 -2M48 58l3 3M52 35l2 3M86 0l-2 4M154 20l1 2M45 54l-1 4M98 77l-2 0M85 120l3 2M71 56l2 2M120 7l-3 1M10 96l-2 4M95 54l3 -3M131 51l-3 2M159 50l-1 4M86 87l4 -1M47 17l3 0M104 0l-2 1M80 63l1 2M42 111l-2 2M86 3l2 1M59 67l3 0M79 42l-2 -2M21 8l-1 2M97 74l3 -1M59 129l-2 2M152 55l3 1M64 11l-2 2M27 91l-1 2M16 81l4 1M147 115l2 -1M135 53l4 -2M84 51l-4 3M30 13l-2 -3M77 78l0 -3M52 77l-2 -4M48 79l4 -2M105 25l1 -2M122 20l3 -4M38 80l-4 2M46 62l4 0M1 94l1 3M16 87l-3 -1M75 108l0 2M111 21l2 2M26 0l3 1M15 98l3 -1M123 32l-1 -4M157 90l1 -3M100 51l4 2M16 75l-5 1M72 46l2 -4M43 129l4 0M61 18l1 -3M84 2l-2 -3M95 2l1 3M107 3l-3 4M124 132l-2 4M26 24l1 -2M155 24l-3 -4M3 30l-2 -1M40 111l-3 -2M59 101l3 1M89 61l2 -1M115 16l3 -3M75 36l3 -3M2 116l0 -3M28 123l-2 -1M157 11l1 -4M97 40l0 3M38 98l0 -2M114 77l-1 -2M115 113l-3 3M116 56l5 -1M142 46l2 -3M88 44l-1 -3M4 72l4 1M46 73l-3 -1M54 56l1 -2M11 30l2 0M160 50l-2 -1M39 113l-2 1M134 28l5 -1M29 0l-3 -3M6 60l1 -5M15 36l1 -4M43 81l-3 -1M51 85l-2 1M140 41l3 4M138 109l-1 3M78 111l4 -2M125 37l0 -3M12 58l4 2M69 14l1 -3M98 105l-2 -3M158 34l1 4M156 9l3 1M56 65l-1 3M59 106l0 -3M44 132l4 -2M140 114l3 -1M46 115l2 -3M145 97l-3 -3M8 73l-3 -3M2 106l2 -1M77 4l1 2M49 21l5 0M106 121l4 3M64 113l-1 -5M160 0l-2 1M91 56l0 4M26 117l3 -1M92 116l3 -1M43 109l1 2M154 54l-1 4M60 10l1 -3M10 14l-1 4M51 88l-1 -4M21 78l1 2M92 7l-2 -4M68 111l3 2M106 6l3 -3M49 113l-4 1M95 87l-2 2M15 27l1 -3M147 107l0 2M5 58l4 -2M64 67l-2 1M2 50l-2 -1M144 115l2 2M131 2l1 4M94 102l1 -3M89 95l-4 3M125 113l2 2M52 37l4 2M8 34l5 -1M29 97l-2 3M48 86l1 4M15 49l2 -3M122 50l0 -5M42 93l3 -3M105 85l1 -4M53 14l2 -2M74 114l4 -2M64 36l-1 3M4 14l-3 -2M155 75l2 3M35 80l0 3M30 105l4 3M107 76l-2 -3M151 90l1 -4M135 114l-1 3M50 119l-3 -2M87 105l0 4M63 129l-2 0M95 105l1 -3M145 2l3 4M132 16l2 2M7 42l2 -1M82 37l3 -3M104 16l-2 1M45 14l3 -1M2 33l-2 0M100 52l2 1M93 41l1 2M116 48l1 3M2 29l-3 -1M156 2l2 1M6 46l4 -1M109 108l-1 -2M27 1l1 -2M73 60l3 0M124 19l-3 -2M29 113l0 -2M117 68l-4 3M85 66l-2 4M107 5l-1 2M42 91l-3 4M10 108l2 0M65 129l3 -2M68 126l-2 2M70 96l-2 -1M65 36l-1 2M119 34l-3 -1M104 87l1 -3M18 117l3 0M121 102l2 5M51 63l0 2M51 6l1 3M43 68l-1 2M28 98l0 4M25 82l-4 0M45 96l2 4M17 60l3 -3M33 98l1 -3M154 98l-3 -2M56 117l2 -3M132 13l2 -1M155 69l0 -3M9 12l2 0M142 32l-2 3M44 61l-1 -3M64 91l3 2M144 79l1 -2M162 125l4 -2M26 95l-4 0M40 73l-3 -2M152 84l-2 -2M67 75l-4 3M104 83l1 2M124 73l-4 0M56 106l-4 -2M21 108l-2 2M151 96l4 1M131 111l-2 2M34 115l1 2M86 103l0 -3M85 68l-2 -3M41 38l3 3M19 11l-1 -4M126 83l-2 3M7 124l-2 -2M137 79l1 -3M9 18l-1 -5M2 68l-2 -1M145 40l-2 4M147 49l-4 -2M66 67l-2 -2M137 125l1 4M96 83l-3 -1M124 2l-1 3M128 78l-2 -1M158 47l3 -2M63 112l0 -2M2 93l1 3M66 120l-4 -1M131 111l0 3M159 59l-2 -1M135 111l2 4M37 51l1 4M41 116l1 2M80 31l-2 1M70 7l1 2M94 123l-2 4M70 14l2 -4M123 114l4 -2M28 57l-3 -4M8 123l1 4M82 79l5 -1M4 57l1 -3M160 116l-2 0M62 130l-5 -1M30 13l0 -3M112 83l-4 2M116 63l-2 3M149 77l-2 0M133 77l-4 -1M32 60l-3 0M124 24l-1 3M31 25l1 -2M143 124l-3 1M100 38l3 0M1 66l1 -3M147 87l-3 -2M84 129l-3 2M82 7l-2 0M74 120l1 4M104 67l-3 -3M13 96l0 -4M102 119l-2 0M162 117l-2 -2M119 118l-4 1M90 53l-3 -4M33 5l-2 0M117 11l-1 5M140 126l4 1M151 66l3 -3M99 118l-2 -2M104 88l0 3M20 26l-4 0M0 102l1 2M79 49l-3 0M94 6l-2 -3M109 92l4 0M146 105l1 -3M80 15l0 -2M17 103l-2 4M157 77l-2 3M113 107l0 -2M107 59l3 -3M4 69l-4 -1M149 68l2 -1M124 88l2 -2M110 117l-2 3M90 127l3 1M83 60l3 0M42 27l-1 -3M151 30l-2 -3M105 111l2 -1M17 41l-4 0M147 64l2 2M81 94l-4 -3M158 99l-1 -4M117 63l-4 2M102 60l2 -2M118 129l-4 2M99 10l-3 -1M125 114l-3 1M114 128l1 4M85 56l0 -4M121 116l0 -2M2 49l-3 -3M92 122l0 -5M120 43l1 2M98 101l-4 -2M85 48l3 1M3 89l4 2M34 112l2 -3M111 0l-2 -4M11 95l0 -3M156 18l-3 3M136 98l4 1M106 92l0 -3M22 131l-4 1M38 112l-3 -1M27 70l1 -3M0 19l1 4M73 85l-4 1M155 115l2 -2M131 103l-2 -4M62 103l-3 -2M48 31l3 -1M20 43l-3 3M30 33l1 -2M108 87l0 -5M84 45l-3 -1M127 68l1 4M108 65l-2 2M72 37l2 -2M43 25l2 4M143 81l4 0M72 109l4 -1M112 103l-1 4M38 25l2 3M42 14l1 2M51 112l4 0M69 0l-3 3M24 118l-1 -4M158 128l-3 0M162 87l3 2M130 126l-3 -4M83 88l-1 -4M87 61l3 -2M163 19l4 2M18 42l-4 2M38 85l-5 -1M94 71l-4 -1M13 86l4 3M121 32l-2 1M18 20l-3 -2M34 126l2 -1M90 10l-1 -3M136 45l-1 3M70 35l3 2M57 90l2 3M20 26l-2 0M112 71l2 3M32 7l0 -4M45 18l4 1M44 25l1 -3M10 16l-2 0M143 26l0 3M66 90l-2 -1M81 15l0 -3M132 129l3 1M50 12l2 -4M139 70l5 -1M147 61l-2 -1M64 17l2 -3M59 33l2 4M145 100l-1 2M78 52l-2 0M89 34l-2 -3M25 13l4 0M56 27l-2 4M15 131l-3 -1M5 126l2 3M79 38l3 0M82 121l2 -2M64 123l3 0M13 89l3 1M55 107l-4 -3M78 1l-2 -2M115 71l2 1M55 41l-4 3M122 69l3 -1M9 58l2 4M47 122l0 -2M112 85l0 2M69 96l4 -2M51 84l-2 -4M92 28l-4 -2M158 38l0 -2M71 0l-1 5M83 123l1 4M113 117l5 0M99 110l-4 -1M47 49l4 -1M146 118l-2 1M161 113l2 -3M62 83l-4 -3M130 13l-3 -1M75 80l-4 -1M56 75l-3 1M23 101l4 1M44 37l1 -3M59 2l-3 0M9 13l-1 4M78 66l-2 -4M32 105l-1 2M155 21l-2 1M112 126l-1 -2M47 102l-1 -3M154 97l-3 -3M113 54l3 -2M120 63l4 -2M111 101l0 2M57 106l-2 -3M58 88l-3 4M54 97l4 2M22 91l4 -2M153 5l-2 -2M149 29l-1 -2M162 112l4 2M94 107l-4 -2M100 99l1 4M96 95l2 4M131 73l-5 0M77 33l-1 -3M153 81l3 -3M75 78l-1 2M151 130l1 -3M97 2l-4 1M122 37l0 -3M141 62l1 -2M6 98l-2 -2M122 69l-3 3M127 91l2 2M2 124l2 1M145 76l4 2M95 94l-5 0M43 57l0 3M96 63l4 -2M66 42l-3 1M37 2l4 1M154 56l-1 -3M139 76l-4 1M31 125l-3 -2M118 11l3 1M8 114l1 -4M119 10l4 -1M72 23l-2 -2M94 49l-1 3M159 98l2 4M96 58l2 1M36 69l-3 2M40 111l0 3M66 85l2 4M113 0l-4 1M91 57l-1 -3M6 94l2 2M0 46l-4 0M52 30l-2 3M62 123l1 -3M76 62l4 -1M14 95l-2 3M100 114l2 -3M71 44l-2 2M148 93l4 0M146 109l2 -2M12 62l-5 -1M28 52l-3 0M101 87l-3 0M116 122l-3 -3M158 94l-3 -4M16 71l-4 -2M149 41l4 -1M90 19l-2 4M18 109l-2 0M135 117l-3 -4M103 67l4 1M162 102l-2 0M75 53l-1 -5M3 81l-3 -3M77 108l-1 2M65 99l-1 -2M35 47l0 4M130 111l3 2M139 38l-1 -3M47 5l1 -3M76 27l1 -3M79 63l-1 4M95 52l0 2M26 106l0 -3M41 16l4 0M31 61l2 3M35 9l-4 1M7 110l-3 0M18 86l2 4M39 23l1 -3M116 48l-2 4M79 96l-1 4M52 57l-3 -3M14 129l0 3M68 85l3 -4M131 9l4 0M5 30l5 0M102 3l-1 4M55 74l-3 -1M32 114l-3 -3M122 80l-3 2M145 95l0 -3M109 56l-3 4M14 94l1 -2M11 79l-4 1M79 129l4 -1M64 10l2 -3M106 78l3 -2M39 12l-3 2M108 30l0 -4M108 88l3 1M13 35l1 -4M159 126l2 1M76 22l0 3M55 78l5 0M135 61l3 1M1 5l-2 4M75 126l2 -4M125 108l3 0M77 90l4 0M125 11l-1 -3M88 119l0 -2M130 0l2 -2M117 121l-3 3M112 67l1 4M91 125l-2 4M112 110l-2 -1M48 93l1 2M18 15l0 -3M128 52l-2 3M116 94l3 1M18 27l2 1M18 99l1 -2M105 132l0 -4M147 76l1 4M125 48l1 4M111 29l-4 -2M146 44l2 -2M116 87l-3 -3M137 110l-3 -1M5 20l2 1M160 16l-3 0M30 56l5 -1M159 3l1 3M33 84l2 -4M101 129l-3 4M48 21l-1 -4M19 87l-2 -1M120 50l-1 -2M52 79l-5 0M82 34l4 1M13 125l-3 2M58 14l2 2M8 68l4 -1M134 32l3 -4M62 120l3 2M149 126l1 -2M34 37l2 -3M67 19l-3 1M125 89l3 -2M78 41l3 -2M20 5l4 -3M41 57l1 2M28 108l2 1M67 49l-1 -2M38 55l-1 -2M51 71l-3 2M129 88l1 -2M73 98l-1 -2M6 82l4 -1M87 129l-5 0M56 122l-2 -1M10 48l2 2M73 114l2 -3M143 19l0 -2M121 116l-1 2M110 2l0 2M108 74l-1 -4M26 54l2 -1M58 129l2 0M25 97l-2 -3M4 81l3 1M132 18l-2 -3M121 43l-3 -2M54 51l-4 0M61 17l1 -3M140 109l-3 0M56 19l2 4M18 51l1 2M127 45l2 3M24 48l-3 -1M138 3l-1 -2M98 126l2 5M107 70l0 4M153 33l3 3M43 115l0 -3M50 109l0 -4M110 121l-1 2M84 90l0 4M128 100l-2 0M139 78l1 2M11 43l4 -1M115 48l4 2M40 119l2 -2M50 118l-2 -3M85 18l3 -3M26 42l4 2M0 34l3 2M125 75l-2 0M85 98l-4 -1M129 129l4 2M66 132l2 -2M48 58l-2 2M83 39l2 0M32 61l1 -4M120 89l4 -1M23 66l3 0M136 117l-1 -2M74 108l-1 4M149 31l-1 2M12 107l-2 1M49 124l2 -1M132 108l-1 -4M7 14l3 0M68 52l-3 -2M5 0l-1 -3M142 111l-5 0M144 104l-2 1M79 37l0 2M143 101l-2 3M17 75l3 -1M119 68l-2 3M67 112l1 -2M35 3l2 1M135 126l2 1M23 50l2 4M28 31l-4 -2M31 14l4 -2M115 116l-3 -1M38 81l-2 4M61 80l0 -4M111 58l-2 0M27 113l1 -3M114 78l3 -2M52 74l0 -3M56 58l-1 -2M64 110l2 -1M75 35l1 -4M143 123l-2 -2M73 102l3 1M37 45l0 -3M7 101l-3 -4M136 76l2 0M161 23l2 -3M70 41l-1 -4M66 22l-3 2M86 80l-2 1M94 100l0 -3M148 71l4 1M52 105l3 -1M124 38l1 2M71 38l1 -3M144 71l1 -2M53 124l4 3M49 83l3 -3M148 11l-4 1M104 70l-2 4M154 130l-4 3M88 28l0 5M49 9l2 2M101 122l2 2M45 50l3 -3M136 81l-3 1M15 114l-2 2M77 47l-2 -4M101 39l-2 3M1 63l-3 -4M36 31l3 0M116 90l4 3M96 6l4 0M142 55l4 2M137 4l-2 3M112 21l-2 -1M121 92l4 -1M80 13l-2 -2M60 106l2 1M57 73l0 -4M52 20l2 -1M8 96l2 -4M35 105l-3 -3M78 34l2 2M124 130l-2 1M120 9l2 -4M55 103l-2 1M28 6l1 4M23 20l-4 -3M65 46l3 -2M30 64l-4 2M116 101l-4 1M154 120l2 1M86 73l-3 -3M3 47l3 -1M138 120l-4 1M133 14l1 -4M72 72l-1 2M16 28l0 2M76 100l-3 0M110 57l-2 -3M83 30l1 2M68 120l-1 -3M25 102l2 3M35 53l-1 -3M156 34l3 0M36 130l-4 2M36 111l0 -2M97 54l1 -3M9 8l1 3M134 50l-3 -2M116 1l-2 3M49 34l0 -4M1 14l3 -1M129 75l2 3M122 56l4 -2M39 89l-1 2M112 108l2 1M115 125l2 1M82 1l4 2M54 125l0 2M114 116l3 -2M76 90l-2 4M42 71l2 3M123 121l-2 2M152 127l1 4M133 125l-4 3M131 111l-1 3M157 61l-2 3M39 9l1 4M21 25l1 5M64 46l-2 3M13 115l-2 2M152 59l-1 2M88 49l-1 2M23 104l-1 -4M149 37l-2 3M157 127l-3 0M25 11l2 -2M46 114l2 3M63 77l-3 3M98 55l3 1M12 109l-1 -2M141 18l-3 2M149 23l-2 -2M159 87l-2 3M39 86l1 -3M162 118l2 -2M99 3l-3 0M19 25l1 -4M65 65l1 -2M57 39l1 -3M31 90l-4 2M101 78l1 -4M75 90l0 5M46 51l2 1M89 26l3 2M44 52l1 2M115 45l2 0M38 16l-1 -3M33 80l2 1M19 60l-4 -2M25 37l3 -1M20 83l-3 -1M135 96l0 4M8 39l-2 2M122 97l-4 3M40 131l-3 2M8 28l-3 -3M121 62l-1 3M61 128l3 0M94 89l-1 3M94 28l-2 -4M104 75l4 1M91 115l1 -2M107 14l0 -3M156 63l3 3M146 23l2 -3M59 118l2 -1M12 89l-2 2M42 90l-1 5M91 132l2 -4M93 11l2 0M33 39l-5 1M52 89l-1 3M93 23l2 3M38 70l1 3M78 15l-3 0M91 90l3 3M20 25l-3 3M95 50l5 0M43 126l-1 -2M51 25l-1 -3M158 41l3 3M84 95l2 1M31 49l4 -2M121 24l3 -3M143 43l-2 -1M69 15l-3 -1M152 99l-4 -2M87 42l4 -2M23 109l-3 -4M129 85l-2 4M59 47l0 3M81 101l4 1M135 37l-2 3M118 126l-2 1M40 20l-2 4M63 9l-3 2M4 68l-1 2M32 35l1 -4M151 106l1 -2M42 47l-3 -3M152 3l-4 -3M134 81l-4 1M65 122l0 5M14 30l2 -3M37 59l-1 3M109 2l0 4M44 33l3 3M156 81l4 -3M116 78l-1 2M140 92l5 0M63 2l3 0M141 35l-1 2M135 130l1 2M33 28l2 -2M157 59l-5 -1M27 110l-4 -2M90 22l-4 1M28 89l-4 -1M69 86l-3 -2M149 126l3 -2M116 78l0 5M25 36l2 0M102 118l-3 -2M47 123l4 -3M39 40l0 -3M142 72l-2 3M122 85l-1 4M120 92l4 3M1 121l2 1M79 66l4 -2M73 103l0 -4M152 83l-1 -3M19 4l1 -3M102 31l1 5M77 130l-2 3M114 32l-4 2M161 68l-4 -3M99 97l-2 -2M73 90l3 3M36 87l-3 -1M75 55l0 -2M117 38l-3 0M18 73l-3 -1M107 123l2 -1M16 73l-2 -1M121 51l2 -4M54 74l-2 -2M146 111l-1 -5M5 34l-4 2M60 28l-3 0M73 38l2 -4M32 36l1 5M69 85l2 2M154 128l3 3M66 117l1 2M33 6l2 -1M90 46l4 3M95 104l-2 -1M65 45l-2 -3M106 85l4 -1M68 18l3 2M4 18l-5 -2M85 92l-4 2M45 100l2 -1M40 60l-2 -2M84 59l1 2M38 59l-1 3M111 117l-2 -1M10 83l3 -2M24 87l0 3M21 94l0 2M80 55l4 0M8 109l-2 -1M136 86l-2 -4M36 16l-1 -4M100 36l2 -3M108 78l-3 -2M42 11l4 3M141 15l-3 4M23 80l3 3M57 21l4 -1M144 22l1 2M124 64l-4 1M130 18l-2 -2M91 12l-2 3M16 48l0 -2M14 104l4 -1M23 76l-1 4M98 88l3 0M5 13l-2 2M122 57l2 -3M39 57l-1 2M23 38l-3 3M91 66l4 1M17 3l2 -1M127 52l0 3M142 13l3 -2M131 70l3 -2M15 40l0 3M96 49l0 -5M136 67l-4 -1M139 54l1 3M82 68l3 -1M66 118l-3 -1M23 98l-1 -3M12 12l-1 3M142 33l-2 -2M124 43l2 -2M126 31l4 -1M25 56l-2 2M102 74l-3 -1M33 87l-3 -1M132 23l1 -2M44 117l-2 4M107 104l-1 4M104 85l1 -4M105 68l-4 -1M65 13l1 4M124 31l4 -2M69 17l1 -2M12 69l4 -2M139 70l2 -1M108 107l3 0M129 127l-5 1M79 46l2 0M85 128l-4 1M132 73l2 0M76 11l2 1M1 46l-2 -2M3 112l-2 -2M122 14l2 -2M35 110l-3 2M70 31l-3 3M150 52l-3 3M10 86l2 4M62 3l-4 -1M82 122l-3 0M159 121l3 0M9 9l1 5M19 100l-1 -4M130 40l4 0M45 1l0 -2M148 32l1 2M66 48l-1 -5M83 14l-4 -2M125 128l-2 1M89 68l2 -2M66 25l4 -1M10 49l-1 4M116 112l-1 -4M41 34l-2 2M141 43l-2 -1M119 95l2 4M137 98l5 0M47 28l2 -2M131 52l4 0M111 35l3 -1M5 75l-4 0M115 14l0 3M81 44l-1 3M16 114l-4 -3M112 36l-1 4M87 91l-2 4M88 81l1 5M155 100l-2 4M123 0l-3 -4M147 116l-3 3M39 115l-3 -1M5 118l1 -5M115 4l3 -3M155 35l-1 3M158 61l1 -2M98 56l-4 -3M32 125l4 -2M55 1l-5 1M34 94l4 3M81 86l-3 -3M143 43l-1 3M45 12l-2 -1M10 65l0 -3M102 106l-1 -3M108 11l1 4M153 7l0 -4M121 96l-1 -3M130 91l-2 -2M125 116l4 0M16 100l-4 3M77 13l-1 4M103 115l2 0M39 118l-2 -3M36 123l4 3M131 65l-1 -2M140 59l2 4M72 89l3 -3M129 34l4 1M148 9l-1 -2M130 103l-4 -3" stroke="#e2e7f8" stroke-width="1.1" stroke-opacity="0.6" fill="none"/><path d="M-2 -3h0M10 -6h0M18 -5h0M29 -6h0M41 -1h0M49 -6h0M58 -5h0M71 -2h0M83 -1h0M88 -3h0M102 -5h0M109 -3h0M120 -2h0M133 -1h0M140 -5h0M151 -6h0M163 -2h0M17 5h0M24 7h0M37 3h0M56 3h0M65 6h0M76 4h0M89 5h0M95 5h0M130 6h0M137 6h0M149 4h0M161 3h0M-4 16h0M9 14h0M26 13h0M36 16h0M47 16h0M58 14h0M66 16h0M78 15h0M88 16h0M102 13h0M109 13h0M117 12h0M129 13h0M140 16h0M147 13h0M158 14h0M1 22h0M27 22h0M32 21h0M47 23h0M54 21h0M67 21h0M76 21h0M98 21h0M108 25h0M117 22h0M134 21h0M144 22h0M155 25h0M165 26h0M-1 34h0M22 34h0M28 30h0M43 30h0M48 32h0M61 34h0M73 31h0M82 32h0M90 31h0M102 34h0M114 32h0M125 32h0M133 31h0M140 33h0M150 30h0M163 31h0M3 40h0M13 43h0M33 41h0M44 39h0M55 41h0M64 42h0M84 42h0M95 42h0M105 43h0M113 43h0M125 44h0M135 40h0M146 39h0M154 44h0M167 39h0M13 47h0M18 52h0M33 52h0M40 51h0M52 47h0M60 49h0M74 49h0M82 49h0M92 48h0M101 49h0M112 51h0M123 50h0M132 50h0M141 48h0M154 50h0M164 53h0M4 60h0M15 57h0M24 59h0M34 59h0M46 58h0M55 57h0M66 58h0M79 57h0M85 60h0M96 58h0M107 57h0M117 58h0M125 59h0M148 60h0M155 61h0M-2 68h0M8 69h0M20 68h0M28 69h0M40 65h0M46 69h0M57 67h0M69 66h0M79 69h0M99 69h0M111 68h0M122 69h0M131 67h0M138 66h0M151 67h0M162 66h0M3 77h0M13 78h0M24 75h0M32 78h0M43 76h0M53 77h0M62 77h0M74 78h0M83 74h0M95 76h0M106 78h0M124 79h0M134 76h0M149 75h0M156 77h0M164 77h0M-1 86h0M8 87h0M19 86h0M27 83h0M42 88h0M51 85h0M62 86h0M71 85h0M83 83h0M92 83h0M103 84h0M110 85h0M122 87h0M133 85h0M141 83h0M150 85h0M4 94h0M26 93h0M34 96h0M48 92h0M56 93h0M69 94h0M79 96h0M89 95h0M109 94h0M119 93h0M129 95h0M136 97h0M161 94h0M0 103h0M13 103h0M21 104h0M29 104h0M39 101h0M50 102h0M64 103h0M85 101h0M92 103h0M101 106h0M111 104h0M122 103h0M136 105h0M143 102h0M155 102h0M163 102h0M4 112h0M17 111h0M29 113h0M37 114h0M47 113h0M59 110h0M68 111h0M78 111h0M88 112h0M96 112h0M110 111h0M118 113h0M129 112h0M139 111h0M159 112h0M-1 122h0M5 122h0M16 121h0M30 121h0M40 120h0M51 118h0M58 121h0M70 120h0M81 122h0M88 119h0M99 120h0M111 119h0M121 120h0M130 119h0M140 122h0M162 122h0M6 132h0M15 129h0M27 128h0M37 131h0M48 132h0M59 128h0M79 130h0M87 133h0M98 130h0M108 129h0M120 130h0M129 130h0M147 128h0M161 128h0" stroke="#889ce0" stroke-width="5.2" stroke-linecap="round" stroke-opacity="0.9"/><path d="M-2 -3h0M10 -6h0M18 -5h0M29 -6h0M41 -1h0M49 -6h0M58 -5h0M71 -2h0M83 -1h0M88 -3h0M102 -5h0M109 -3h0M120 -2h0M133 -1h0M140 -5h0M151 -6h0M163 -2h0M17 5h0M24 7h0M37 3h0M56 3h0M65 6h0M76 4h0M89 5h0M95 5h0M130 6h0M137 6h0M149 4h0M161 3h0M-4 16h0M9 14h0M26 13h0M36 16h0M47 16h0M58 14h0M66 16h0M78 15h0M88 16h0M102 13h0M109 13h0M117 12h0M129 13h0M140 16h0M147 13h0M158 14h0M1 22h0M27 22h0M32 21h0M47 23h0M54 21h0M67 21h0M76 21h0M98 21h0M108 25h0M117 22h0M134 21h0M144 22h0M155 25h0M165 26h0M-1 34h0M22 34h0M28 30h0M43 30h0M48 32h0M61 34h0M73 31h0M82 32h0M90 31h0M102 34h0M114 32h0M125 32h0M133 31h0M140 33h0M150 30h0M163 31h0M3 40h0M13 43h0M33 41h0M44 39h0M55 41h0M64 42h0M84 42h0M95 42h0M105 43h0M113 43h0M125 44h0M135 40h0M146 39h0M154 44h0M167 39h0M13 47h0M18 52h0M33 52h0M40 51h0M52 47h0M60 49h0M74 49h0M82 49h0M92 48h0M101 49h0M112 51h0M123 50h0M132 50h0M141 48h0M154 50h0M164 53h0M4 60h0M15 57h0M24 59h0M34 59h0M46 58h0M55 57h0M66 58h0M79 57h0M85 60h0M96 58h0M107 57h0M117 58h0M125 59h0M148 60h0M155 61h0M-2 68h0M8 69h0M20 68h0M28 69h0M40 65h0M46 69h0M57 67h0M69 66h0M79 69h0M99 69h0M111 68h0M122 69h0M131 67h0M138 66h0M151 67h0M162 66h0M3 77h0M13 78h0M24 75h0M32 78h0M43 76h0M53 77h0M62 77h0M74 78h0M83 74h0M95 76h0M106 78h0M124 79h0M134 76h0M149 75h0M156 77h0M164 77h0M-1 86h0M8 87h0M19 86h0M27 83h0M42 88h0M51 85h0M62 86h0M71 85h0M83 83h0M92 83h0M103 84h0M110 85h0M122 87h0M133 85h0M141 83h0M150 85h0M4 94h0M26 93h0M34 96h0M48 92h0M56 93h0M69 94h0M79 96h0M89 95h0M109 94h0M119 93h0M129 95h0M136 97h0M161 94h0M0 103h0M13 103h0M21 104h0M29 104h0M39 101h0M50 102h0M64 103h0M85 101h0M92 103h0M101 106h0M111 104h0M122 103h0M136 105h0M143 102h0M155 102h0M163 102h0M4 112h0M17 111h0M29 113h0M37 114h0M47 113h0M59 110h0M68 111h0M78 111h0M88 112h0M96 112h0M110 111h0M118 113h0M129 112h0M139 111h0M159 112h0M-1 122h0M5 122h0M16 121h0M30 121h0M40 120h0M51 118h0M58 121h0M70 120h0M81 122h0M88 119h0M99 120h0M111 119h0M121 120h0M130 119h0M140 122h0M162 122h0M6 132h0M15 129h0M27 128h0M37 131h0M48 132h0M59 128h0M79 130h0M87 133h0M98 130h0M108 129h0M120 130h0M129 130h0M147 128h0M161 128h0" stroke="#a6b4e8" stroke-width="2.0" stroke-linecap="round" stroke-opacity="0.7"/><path d="M-1 -2h0M8 -7h0M29 -5h0M50 -7h0M82 -2h0M104 -6h0M121 -2h0M134 -3h0M152 -4h0M164 0h0M36 4h0M56 4h0M88 4h0M95 5h0M129 5h0M136 7h0M148 5h0M161 2h0M8 15h0M27 15h0M109 14h0M146 13h0M28 23h0M33 20h0M46 23h0M68 21h0M76 21h0M110 26h0M118 21h0M133 21h0M145 22h0M23 34h0M47 32h0M116 32h0M125 31h0M151 30h0M2 40h0M13 44h0M45 39h0M55 40h0M83 41h0M105 43h0M112 44h0M124 42h0M153 44h0M167 40h0M14 46h0M60 48h0M83 47h0M111 51h0M140 48h0M22 61h0M33 59h0M46 58h0M64 59h0M106 57h0M116 58h0M126 58h0M20 69h0M45 70h0M80 68h0M138 68h0M162 68h0M43 77h0M63 76h0M83 73h0M96 77h0M105 79h0M149 75h0M62 86h0M82 83h0M92 82h0M132 86h0M26 92h0M35 96h0M47 93h0M91 95h0M136 98h0M49 102h0M91 102h0M121 104h0M136 104h0M162 103h0M17 112h0M29 114h0M37 116h0M69 112h0M76 110h0M119 112h0M130 113h0M160 112h0M-1 122h0M4 121h0M14 120h0M31 121h0M40 120h0M70 121h0M98 119h0M161 121h0M28 127h0M38 130h0M48 131h0M79 129h0M98 131h0M110 130h0M147 128h0M161 127h0" stroke="#889ce0" stroke-width="3.0" stroke-linecap="round" stroke-opacity="0.5"/><path d="M30 116h0M73 8h0M3 64h0M142 43h0M128 118h0M18 53h0M99 99h0M21 22h0M127 18h0M98 109h0M68 15h0M157 70h0M61 2h0M4 80h0M141 96h0M103 43h0M78 79h0M32 128h0M116 129h0M120 124h0M8 54h0M123 18h0M17 75h0M148 14h0M116 75h0M139 9h0M134 25h0M103 103h0M24 47h0M1 125h0M28 37h0M72 114h0M102 15h0M29 96h0M72 85h0M94 71h0M45 59h0" stroke="#3a52c6" stroke-width="1.5" stroke-linecap="round" stroke-opacity="0.8"/><path d="M29 93h0M121 29h0M134 26h0M3 27h0M142 37h0M15 12h0M35 87h0M71 5h0M82 84h0M158 28h0M79 38h0M116 24h0M115 96h0M33 91h0M130 109h0M76 37h0M79 102h0M113 119h0M55 59h0M144 127h0M137 25h0M81 17h0M128 43h0M9 21h0M99 86h0M92 93h0M0 66h0M79 117h0M56 27h0M4 45h0M151 64h0M28 11h0M150 70h0M38 127h0M84 105h0M32 115h0M23 56h0M77 112h0M27 63h0M28 8h0M115 61h0M95 66h0M107 3h0M88 100h0M131 11h0M9 91h0M148 88h0M104 93h0M6 126h0M89 3h0M49 18h0M56 82h0M86 34h0M106 54h0M105 92h0M154 125h0" stroke="#3a52c6" stroke-width="2.0" stroke-linecap="round" stroke-opacity="0.8"/><path d="M59 20h0M152 62h0M113 120h0M2 65h0M162 42h0M124 2h0M144 20h0M22 89h0M0 42h0M138 132h0M158 124h0M87 128h0M84 12h0M149 80h0" stroke="#3a52c6" stroke-width="2.5" stroke-linecap="round" stroke-opacity="0.8"/></g></g></g><g clip-path="url(#ch3)"><g filter="url(#sf)"><rect x="521.1" y="576.6" width="163.9" height="133.0" fill="#a64cb0"/><g transform="translate(521.1,576.6)"><path d="M33 77h0M27 13h0M44 123h0M1 131h0M77 62h0M43 105h0M34 20h0M158 95h0M116 112h0M55 20h0M35 17h0M148 1h0M132 87h0M77 74h0M86 131h0M136 12h0M130 97h0M2 106h0M31 123h0M56 96h0M105 79h0M116 45h0M105 2h0M161 23h0M75 68h0M77 58h0M41 114h0M39 122h0M148 76h0M19 74h0M34 111h0M111 11h0M144 62h0M121 109h0M33 2h0M149 22h0M13 14h0M130 77h0M53 78h0M46 122h0M103 88h0M8 78h0M35 60h0M161 37h0M51 6h0M37 32h0M73 81h0M53 31h0M92 121h0M163 130h0M65 110h0M78 76h0M134 107h0M14 108h0M75 7h0M131 64h0M126 126h0M153 121h0M82 113h0M5 43h0M99 37h0M25 79h0M131 118h0M136 45h0M160 11h0M120 0h0M29 7h0M66 23h0M122 3h0M25 20h0M124 99h0M95 65h0" stroke="#c47ac8" stroke-width="1.0" stroke-linecap="round" stroke-opacity="0.55"/><path d="M137 15h0M107 82h0M130 115h0M59 121h0M33 97h0M145 113h0M130 107h0M125 82h0M75 79h0M1 80h0M59 114h0M22 13h0M55 70h0M45 33h0M85 84h0M75 17h0M135 117h0M2 34h0M132 46h0M88 2h0M107 62h0M76 125h0M116 35h0M17 17h0M120 16h0M140 124h0M109 84h0M145 117h0M46 61h0M125 81h0M72 100h0M155 45h0M134 115h0M76 61h0M162 87h0M89 89h0M14 44h0M47 79h0M159 16h0M4 27h0M26 125h0M153 132h0M24 64h0M47 7h0M160 66h0M3 59h0M10 52h0M135 96h0M45 30h0M116 1h0M51 30h0M123 52h0M141 49h0M68 118h0M157 94h0M97 132h0M147 63h0M50 112h0M93 52h0M39 91h0M76 57h0M8 43h0M19 6h0M106 21h0M149 9h0M62 36h0M143 103h0M115 117h0M88 80h0M88 102h0M8 124h0M16 109h0M104 29h0M21 77h0M108 28h0M105 90h0M26 52h0M42 28h0M110 41h0M137 17h0M117 90h0M79 96h0M143 132h0M107 39h0M68 82h0M125 29h0M66 12h0M0 86h0M32 1h0M15 106h0M24 104h0M45 43h0M114 94h0M65 51h0M76 114h0M58 109h0M160 107h0M98 57h0M71 102h0M148 123h0M155 114h0M150 10h0M137 25h0M2 103h0M145 50h0M66 94h0M75 116h0M46 41h0M154 56h0M20 91h0M25 82h0M125 6h0M51 97h0M62 36h0M74 97h0M135 93h0M34 65h0M128 26h0M51 22h0M111 110h0M50 118h0M99 119h0M19 25h0M65 66h0M27 101h0M146 103h0M67 116h0M86 85h0M108 117h0M145 72h0M161 68h0M139 88h0M3 45h0M53 111h0M29 82h0M162 73h0M13 63h0M90 103h0M105 51h0M45 12h0M103 50h0M84 114h0M154 15h0M35 114h0M25 42h0M62 29h0M124 77h0M3 119h0M56 131h0M33 131h0M143 132h0M67 56h0M54 16h0M43 47h0M79 118h0M77 60h0M74 22h0M97 56h0M32 108h0M132 121h0M1 73h0M88 47h0M60 9h0M155 111h0M144 31h0M89 20h0M145 95h0M107 11h0M30 115h0M102 3h0M54 6h0M80 47h0M57 15h0M141 85h0M119 44h0M61 69h0M15 48h0M24 34h0M1 56h0M140 106h0M61 107h0M37 84h0M105 126h0M142 73h0M137 74h0M31 116h0M88 126h0M154 128h0M104 70h0M45 89h0M4 45h0M107 108h0M100 2h0M35 14h0M3 70h0M129 133h0M131 70h0M109 115h0M33 75h0M118 3h0M8 42h0M51 10h0M25 82h0M84 39h0M27 44h0M108 11h0M84 115h0M56 101h0M55 95h0M88 91h0M119 19h0M52 132h0M140 108h0M150 118h0M69 21h0M44 44h0M9 55h0M87 109h0M158 48h0M74 119h0M38 108h0M111 22h0M104 123h0M155 54h0M136 64h0M147 31h0M40 53h0M163 127h0M7 44h0M126 73h0M10 49h0M88 105h0M50 82h0M44 15h0M17 27h0M119 26h0M151 80h0M98 86h0M82 129h0M17 128h0M41 37h0M150 39h0M90 101h0M66 132h0M47 30h0M157 22h0M106 109h0M22 126h0M135 97h0M62 55h0M67 95h0M151 7h0M107 10h0M108 42h0M44 65h0M26 44h0M81 62h0M45 45h0M71 82h0M132 110h0M139 45h0M14 93h0M114 28h0M135 10h0M24 112h0M11 27h0M60 97h0M105 75h0M62 36h0M80 65h0M21 45h0M94 57h0M89 68h0M25 85h0M73 93h0M81 106h0M7 75h0M120 3h0M41 106h0M51 126h0M88 19h0M68 31h0M59 76h0M20 68h0M104 107h0M96 65h0M12 82h0M118 13h0M86 86h0M159 125h0M25 95h0M4 77h0M125 127h0M97 123h0M132 94h0M15 69h0M47 47h0M90 90h0M99 68h0M95 120h0M62 64h0M156 4h0M153 16h0M63 22h0M151 23h0M39 49h0M89 123h0M114 25h0M109 81h0M159 108h0M32 9h0M105 34h0M91 121h0M87 79h0M45 1h0M124 36h0M113 64h0M78 117h0M18 101h0M3 21h0M54 49h0M22 123h0M109 100h0M111 100h0M114 68h0M6 102h0M130 92h0M38 9h0M141 39h0M89 12h0M34 106h0M3 122h0M81 101h0M92 60h0M53 2h0M62 6h0M131 74h0M88 129h0M161 85h0M150 60h0M43 83h0M20 112h0M29 32h0M157 112h0M133 50h0M124 73h0M113 102h0M11 108h0M48 24h0M40 133h0M63 56h0M113 16h0M17 84h0M50 117h0M17 19h0M44 94h0M71 20h0M107 31h0M4 122h0M26 118h0M25 133h0M151 86h0M35 32h0M34 99h0M112 13h0M79 44h0M44 56h0M59 80h0M44 47h0M144 121h0M47 16h0M15 1h0M4 86h0M1 19h0M44 119h0M53 57h0M40 73h0M157 113h0M32 34h0M49 90h0M22 8h0M45 69h0M28 79h0M29 67h0M58 45h0M103 17h0M54 62h0M73 11h0M105 68h0M101 38h0M121 42h0M71 17h0M43 95h0M123 73h0M113 25h0M126 78h0M66 96h0M40 28h0M43 24h0M146 35h0M144 44h0M141 28h0M73 122h0M125 5h0M20 62h0M82 29h0M2 51h0M100 102h0M85 68h0M136 33h0M90 20h0M141 23h0M43 75h0M163 68h0M49 51h0M12 95h0M150 82h0M105 7h0M89 56h0M86 103h0M95 33h0M98 128h0M67 68h0M127 89h0M57 100h0M93 52h0M1 69h0M43 22h0M116 28h0M110 117h0M104 4h0M111 36h0M28 26h0M93 29h0M33 32h0M72 97h0M74 92h0M4 130h0M27 86h0M139 24h0M76 107h0M150 72h0M98 122h0M13 89h0M103 100h0M30 29h0M87 26h0M16 94h0M118 6h0M7 27h0M31 70h0M138 115h0M76 117h0M98 21h0M98 128h0M157 38h0M141 83h0M85 86h0M51 9h0M27 92h0M100 94h0M69 47h0M57 74h0M163 73h0M84 114h0M47 114h0M162 15h0M11 117h0M87 132h0M17 91h0M78 124h0M64 130h0M68 101h0M149 54h0M53 99h0M157 111h0M1 117h0M125 21h0M13 111h0M149 57h0M50 100h0M130 123h0M139 79h0M102 39h0M94 90h0M41 112h0M85 126h0M152 49h0M112 93h0M131 126h0M22 48h0M132 100h0M87 3h0M82 115h0M21 106h0M147 86h0M15 125h0M40 56h0M153 125h0M132 30h0M93 18h0M123 28h0M47 113h0M16 55h0M90 47h0M42 1h0M56 8h0M74 119h0M157 66h0M72 22h0M21 35h0M26 84h0M5 54h0M155 88h0M119 111h0M141 45h0M67 39h0M139 79h0M101 87h0M63 61h0M81 40h0M93 35h0M78 70h0M63 108h0M85 46h0M155 2h0M59 88h0M107 30h0M105 32h0M62 22h0M134 50h0M160 89h0M150 101h0M53 48h0M74 4h0M104 57h0M79 96h0M24 8h0M139 61h0M94 108h0M14 17h0M34 26h0M87 68h0M60 103h0M126 35h0M30 77h0M120 57h0M20 74h0M28 109h0M159 19h0M48 33h0M127 13h0M153 38h0M5 121h0M96 83h0M35 129h0M130 69h0M61 17h0M52 2h0M43 12h0M74 117h0M2 19h0M46 45h0M60 97h0M115 51h0M40 1h0M131 82h0M11 9h0M30 60h0M141 36h0M14 42h0M64 78h0M38 22h0M82 75h0M122 37h0M74 35h0M26 83h0M25 35h0M141 15h0M146 54h0M150 74h0M36 13h0M29 78h0M6 20h0M43 90h0M108 55h0M64 49h0M35 17h0M151 113h0M40 112h0M22 88h0M74 131h0M115 22h0M118 131h0M122 61h0M160 23h0M68 110h0M85 5h0M91 85h0M152 13h0M79 105h0M130 2h0M40 34h0M31 68h0M160 37h0M4 90h0M105 80h0M53 77h0M46 84h0M63 96h0M95 82h0M23 33h0M83 80h0M138 104h0M77 17h0M140 9h0M163 1h0M77 132h0M109 47h0M134 41h0M17 125h0M27 46h0M163 31h0M163 100h0M59 118h0M93 14h0M15 32h0M66 2h0M139 53h0M136 52h0M53 126h0M48 43h0M83 8h0M147 36h0M64 129h0M129 104h0M83 92h0M13 14h0M36 67h0M104 102h0M37 57h0M46 90h0M34 65h0M35 47h0M90 77h0M39 52h0M92 114h0M74 82h0M161 71h0M90 98h0M115 46h0M153 85h0M115 26h0M127 16h0M104 114h0M42 121h0M150 112h0M44 1h0M96 64h0M33 37h0M104 123h0M82 113h0M102 45h0M108 106h0M8 87h0M49 131h0M122 32h0M27 67h0M9 56h0M155 117h0M67 56h0M53 56h0M69 55h0M19 65h0M48 9h0M65 85h0M128 60h0M27 107h0M94 11h0M65 60h0M96 29h0M79 60h0M157 105h0M1 47h0M122 51h0M10 70h0M115 88h0M152 33h0M18 5h0M66 22h0M138 57h0M141 32h0M1 3h0M91 36h0M151 54h0M118 109h0M112 38h0M5 99h0M3 63h0M86 13h0M75 55h0M82 39h0M1 118h0M161 41h0M86 104h0M137 43h0M56 87h0M89 33h0M43 120h0M122 101h0M66 10h0M123 104h0M7 57h0M106 12h0M22 45h0M19 7h0M136 90h0M109 21h0M49 11h0M23 112h0M47 55h0M4 85h0M131 14h0M114 91h0M14 6h0M21 91h0M50 108h0M99 7h0M32 60h0M61 68h0M157 124h0M121 98h0M70 115h0M118 64h0M89 98h0M161 73h0M32 99h0M90 56h0M106 10h0M20 72h0M55 131h0M122 92h0M7 112h0M72 68h0M137 90h0M157 128h0M27 121h0M70 120h0M11 125h0M48 23h0M83 29h0M100 111h0M141 27h0M9 100h0M158 117h0M57 35h0M11 26h0" stroke="#c47ac8" stroke-width="1.5" stroke-linecap="round" stroke-opacity="0.55"/><path d="M122 27h0M106 123h0M138 41h0M106 23h0M16 113h0M27 17h0M83 132h0M53 61h0M4 50h0M110 13h0M58 41h0M102 96h0M100 133h0M27 9h0M132 112h0M99 125h0M16 58h0M12 117h0M106 86h0M98 45h0M111 63h0M94 69h0M138 58h0M47 3h0M84 108h0M91 95h0M68 50h0M52 24h0M42 106h0M88 92h0M59 1h0M111 36h0M3 127h0M50 75h0M115 108h0M24 20h0M115 36h0M155 9h0M40 11h0M17 12h0M31 65h0M124 112h0M80 116h0M128 31h0M156 59h0M43 116h0M98 48h0M139 62h0M82 56h0M87 89h0M126 62h0M16 128h0M91 65h0M26 1h0M140 14h0M87 77h0M163 11h0M124 123h0M20 47h0M124 44h0M90 35h0M103 52h0M28 119h0M88 35h0M128 6h0M52 104h0M101 72h0M15 14h0M5 30h0M59 15h0M96 118h0M151 62h0M79 69h0M50 77h0M17 128h0M70 82h0M156 31h0M144 75h0M93 130h0M101 65h0M140 82h0M62 39h0M60 55h0M81 62h0M15 19h0M83 99h0M157 97h0M164 94h0M42 125h0M63 2h0M44 26h0M36 59h0M102 66h0M10 53h0M6 114h0M72 28h0M10 82h0M127 87h0M26 29h0M14 91h0M131 122h0M151 1h0M101 65h0M115 84h0M34 37h0M118 71h0M20 67h0M103 10h0M17 54h0M64 26h0M42 89h0M156 124h0M140 40h0M140 74h0M46 98h0M136 101h0M133 51h0M121 43h0M114 112h0M7 47h0M81 119h0M144 60h0M93 112h0M124 110h0M10 113h0M148 34h0M98 102h0M36 125h0M75 64h0M118 90h0M110 129h0M104 10h0M162 21h0M157 1h0M6 28h0M160 68h0M148 54h0M155 123h0M148 115h0M25 81h0M5 96h0M99 37h0M25 42h0M17 108h0M97 52h0M96 114h0M105 107h0M47 35h0M73 65h0M96 64h0M3 79h0M142 132h0M20 106h0M60 64h0M55 80h0M127 128h0M71 117h0M38 101h0M111 9h0M139 97h0M164 66h0M34 36h0M25 88h0M91 126h0M26 40h0M103 54h0M109 116h0M76 49h0M27 65h0M126 122h0M149 115h0M117 47h0M113 130h0M115 84h0M4 60h0M95 94h0M35 126h0M147 46h0M139 17h0M15 86h0M48 80h0M158 101h0M141 10h0M143 7h0M112 114h0M97 26h0M133 123h0M155 100h0M62 57h0M35 76h0M97 42h0M29 33h0M88 22h0M140 16h0M29 124h0M104 124h0M110 119h0M132 6h0M142 9h0M74 51h0M135 131h0M120 107h0M90 81h0M147 59h0M128 28h0M30 92h0M27 2h0M76 73h0M149 12h0M113 15h0M87 52h0M135 119h0M20 97h0M152 66h0M63 99h0M129 30h0M151 124h0M111 72h0M57 106h0M68 85h0M59 50h0M57 36h0M11 73h0M66 74h0M93 84h0M156 95h0M138 44h0M158 106h0M56 21h0M100 36h0M80 19h0M1 22h0M89 84h0M54 24h0M38 49h0M4 79h0M111 26h0M87 85h0M1 104h0M101 57h0M71 118h0M136 89h0M116 121h0M139 129h0M87 128h0M46 76h0M58 2h0M119 93h0M49 86h0M36 117h0M90 82h0M137 16h0M41 5h0M134 109h0M149 92h0M137 66h0M0 66h0M126 124h0M35 126h0M14 27h0M53 6h0M102 86h0M3 104h0M59 57h0M6 11h0M18 107h0M29 1h0M39 87h0M36 53h0M24 102h0M65 95h0M151 88h0M45 59h0M59 1h0M134 78h0M58 63h0M146 87h0M101 108h0M43 14h0M134 131h0M89 49h0M54 38h0M133 57h0M39 14h0M61 104h0M93 16h0M117 104h0M142 20h0M11 38h0M148 88h0M29 80h0M1 125h0M111 43h0M1 54h0M3 68h0M125 25h0M100 30h0M99 122h0M40 24h0M142 118h0M4 47h0M36 53h0M48 53h0M24 31h0M83 47h0M142 55h0M138 108h0M15 106h0M93 123h0M116 10h0M115 88h0M29 30h0M79 103h0M136 98h0M81 78h0M98 43h0M88 49h0M63 75h0M32 101h0M19 114h0M4 82h0M46 19h0M19 123h0M110 5h0M100 30h0M109 78h0M60 47h0M123 87h0M80 108h0M36 132h0M43 11h0M84 20h0M95 65h0M157 81h0M101 94h0M25 116h0M53 56h0M102 17h0M73 54h0M50 110h0M68 105h0M126 95h0M80 83h0M146 30h0M74 14h0M2 9h0M164 123h0M3 76h0M39 33h0M101 93h0M75 49h0M118 31h0M37 39h0M122 39h0M159 64h0M135 101h0M8 121h0M108 129h0M18 56h0M13 86h0M103 14h0M41 28h0M84 107h0M29 62h0M110 108h0M39 54h0M148 121h0M92 96h0M130 87h0M152 13h0M64 119h0M103 67h0M90 10h0M72 66h0M40 50h0M120 52h0M79 51h0M23 87h0M22 13h0M164 102h0M2 82h0M109 25h0M156 16h0M8 124h0M27 16h0M160 19h0M151 62h0M159 107h0M70 59h0M42 14h0M144 106h0M54 119h0M161 130h0M121 95h0M123 1h0M72 50h0M150 56h0M99 35h0M145 58h0M109 2h0M44 110h0M119 104h0M33 22h0M140 86h0M83 75h0M29 68h0M98 9h0M130 98h0M82 6h0M92 61h0M63 59h0M60 77h0M79 67h0M22 63h0M69 115h0M30 9h0M42 6h0M42 129h0M49 129h0M151 105h0M60 33h0M27 123h0M34 20h0M88 56h0M2 43h0M29 48h0M115 4h0M122 81h0M137 58h0M30 17h0M161 16h0M119 85h0M23 43h0M102 79h0M102 67h0M138 59h0M147 61h0M149 129h0M155 30h0M23 32h0M44 38h0M164 97h0M46 28h0M69 59h0M74 82h0M162 71h0M36 59h0M5 83h0M106 38h0M34 107h0M143 123h0M163 56h0M26 82h0M108 106h0M13 100h0M76 47h0M68 113h0M22 15h0M85 71h0M31 57h0M145 82h0M66 4h0M77 52h0M52 1h0M85 113h0M45 96h0M150 57h0M58 18h0M89 72h0M111 32h0M132 39h0M20 99h0M61 100h0M162 72h0M154 49h0M14 64h0M124 41h0M79 92h0M80 62h0M72 53h0M87 78h0M4 81h0M134 84h0M157 21h0M91 67h0M137 24h0M10 3h0M33 30h0M150 119h0M89 68h0M156 90h0M48 21h0M109 20h0M146 34h0M100 67h0M73 27h0M46 56h0M95 31h0M23 81h0M149 13h0M80 59h0M71 43h0M134 36h0M153 54h0M140 34h0M98 38h0M90 62h0M108 12h0M81 112h0M108 83h0M128 38h0M152 59h0M59 76h0M10 62h0M64 66h0M85 74h0M40 83h0M155 12h0M33 124h0M118 62h0M138 80h0M88 38h0M72 41h0M64 23h0M106 118h0M117 43h0M112 2h0M160 96h0M79 82h0M158 80h0M74 23h0M116 115h0M116 39h0M164 86h0M36 56h0M91 18h0M143 108h0M72 120h0M131 30h0M15 53h0M61 33h0M92 8h0M12 8h0M66 73h0M51 78h0M102 85h0M130 38h0M76 111h0M80 98h0M132 89h0M122 2h0M133 65h0M126 84h0M12 116h0M78 4h0M75 96h0M33 97h0M154 128h0M96 51h0M91 24h0M3 89h0M77 28h0M31 108h0M156 10h0M115 71h0M46 83h0M48 112h0M82 1h0M93 37h0M55 98h0M45 29h0M23 20h0M94 132h0M77 90h0M80 7h0M155 13h0M3 45h0M4 43h0M94 6h0M90 33h0M158 100h0M11 45h0M97 114h0M3 102h0M104 40h0M114 37h0M2 17h0M139 78h0M18 125h0M110 22h0M18 9h0M110 3h0M147 59h0M16 90h0M1 51h0M79 102h0M128 108h0M140 31h0M142 8h0M76 21h0M126 94h0M149 37h0M104 47h0M72 46h0M0 72h0M88 12h0M59 131h0M26 47h0M6 51h0M136 51h0M140 39h0M47 11h0M56 92h0M20 17h0M80 7h0M109 115h0M15 62h0M23 131h0M46 9h0M141 31h0M35 99h0M53 26h0M88 9h0M63 46h0M125 68h0M27 51h0M96 113h0M35 19h0M66 128h0M140 95h0M60 121h0M8 80h0M104 76h0M36 13h0M34 116h0M157 102h0M67 80h0M148 83h0M81 35h0M85 78h0M100 131h0M136 107h0M14 59h0M137 113h0M153 25h0M134 111h0M111 107h0M101 69h0M112 5h0M55 6h0M12 126h0M141 51h0M75 74h0M34 48h0M53 95h0M1 21h0M51 118h0M35 39h0M28 14h0M77 80h0M106 45h0M80 19h0M108 73h0M58 37h0M127 60h0M69 23h0M84 4h0M132 118h0M82 27h0M132 48h0M88 100h0M106 98h0M55 101h0M89 131h0M14 27h0M68 61h0M46 49h0M38 110h0M101 38h0M24 92h0M82 20h0M35 6h0M121 11h0M118 83h0M79 38h0M24 98h0M67 16h0M29 132h0M153 91h0M11 130h0M32 50h0M162 99h0M44 44h0M158 11h0M160 30h0M92 88h0M135 18h0M106 1h0M49 12h0M156 57h0M53 107h0M72 12h0M52 42h0M99 37h0M69 60h0M149 88h0M26 87h0M28 9h0M98 68h0M100 122h0M156 21h0M43 116h0M1 20h0M137 42h0M4 2h0M104 105h0M97 36h0M148 132h0M95 108h0M13 124h0M30 76h0M128 64h0M49 77h0M104 11h0M93 62h0M58 13h0M160 32h0M36 74h0M141 22h0M36 55h0M34 28h0M149 8h0M144 52h0M25 46h0M110 125h0M147 70h0M147 54h0M56 95h0M86 123h0M35 70h0M108 105h0M136 38h0M41 43h0M22 41h0M127 31h0M136 91h0M21 9h0M67 13h0M109 128h0M67 2h0M19 7h0M93 14h0M70 121h0M103 132h0M36 121h0M147 45h0M63 119h0M139 53h0M80 91h0M137 62h0M158 57h0M137 28h0M107 102h0M6 66h0M47 113h0M141 53h0M22 0h0M35 77h0M13 98h0M77 116h0M150 28h0M68 121h0M43 71h0M34 2h0M97 69h0M38 76h0M34 46h0M80 35h0M5 31h0M149 48h0M106 7h0M109 39h0M110 1h0M154 15h0M77 2h0M120 97h0M155 82h0M30 61h0M78 51h0M73 48h0M132 52h0M75 98h0M150 128h0M97 66h0M158 6h0M135 127h0M8 26h0M134 92h0M45 69h0M145 114h0M41 63h0M46 6h0M57 38h0M146 90h0M139 95h0M42 84h0" stroke="#c47ac8" stroke-width="2.0" stroke-linecap="round" stroke-opacity="0.55"/><path d="M76 121h0M25 79h0M130 4h0M76 67h0M23 125h0M34 16h0M8 99h0M65 3h0M141 80h0M123 33h0M47 8h0M30 20h0M141 31h0M74 84h0M48 3h0M159 63h0M139 53h0M63 59h0M2 21h0M73 81h0M84 130h0M84 94h0M27 71h0M34 124h0M38 83h0M94 33h0M39 128h0M38 7h0M15 2h0M162 116h0M71 38h0M3 93h0M65 41h0M162 101h0M55 87h0M34 56h0M163 36h0M8 39h0M25 107h0M127 60h0M158 26h0M29 7h0M162 121h0M64 15h0M10 131h0M98 106h0M123 17h0M16 119h0M41 113h0M33 46h0M36 54h0M74 21h0M19 9h0M119 74h0M66 78h0M35 66h0M114 12h0M119 8h0M9 8h0M87 18h0M85 81h0M34 31h0M130 131h0M157 16h0M72 1h0M154 95h0M96 66h0M11 67h0M88 49h0M54 109h0M145 64h0M45 79h0M38 53h0M148 117h0M135 125h0M51 89h0M43 91h0M118 52h0M107 13h0M46 23h0M63 101h0M141 97h0M23 113h0M95 12h0M68 75h0M36 79h0M84 87h0M64 4h0M127 46h0M148 48h0M55 10h0M150 101h0M106 125h0M24 26h0M116 20h0M131 12h0M70 114h0M52 80h0M153 33h0M55 90h0M137 121h0M47 121h0M114 35h0M54 61h0M163 32h0M79 68h0M75 41h0M157 130h0M106 84h0M93 81h0M108 10h0M158 73h0M73 77h0M35 86h0M54 100h0M31 121h0M114 86h0M126 79h0M97 107h0M37 127h0M83 93h0M87 71h0M122 83h0M73 80h0M117 42h0M128 78h0M116 34h0M163 37h0M127 131h0M93 98h0M10 41h0M30 23h0M150 19h0M80 16h0M163 73h0M33 89h0M61 32h0M104 82h0M160 104h0M85 86h0M118 95h0M105 19h0M31 117h0M87 50h0M17 62h0M39 39h0M50 65h0M86 44h0M34 90h0M139 73h0M95 31h0M77 125h0M78 118h0M149 9h0M99 47h0M49 37h0M104 124h0M68 34h0M50 75h0M90 32h0M27 25h0M50 80h0M71 58h0M18 36h0M149 33h0M81 36h0M143 47h0M13 67h0M95 47h0M55 132h0M23 75h0M28 21h0M58 55h0M99 89h0M10 73h0M5 61h0M51 116h0M70 12h0M135 50h0M71 123h0M101 78h0M48 75h0M152 9h0M93 45h0M53 97h0M140 118h0M63 61h0M139 31h0M58 2h0M144 83h0M3 38h0M91 4h0M77 62h0M1 123h0M9 92h0M99 72h0M150 35h0M63 133h0M120 84h0M90 101h0M141 9h0M118 42h0M80 36h0M121 79h0M150 84h0M10 72h0M46 125h0M43 33h0M111 68h0M9 52h0M130 129h0M133 113h0M89 20h0M80 33h0M137 36h0M151 75h0M29 48h0M21 2h0M156 118h0M122 4h0M19 8h0M95 117h0M10 66h0M144 71h0M73 6h0M66 106h0M41 120h0M151 0h0M54 67h0M119 68h0M130 62h0M11 114h0M24 82h0M139 6h0M60 122h0M157 33h0M37 20h0M104 44h0M35 88h0M146 13h0M70 21h0M100 114h0M15 106h0M124 45h0M86 44h0M10 121h0M146 22h0M127 2h0M136 78h0M160 65h0M153 84h0M94 98h0M12 30h0M47 10h0M99 83h0M137 15h0M29 69h0M65 107h0M124 97h0M80 100h0M13 51h0M103 1h0M40 44h0M3 70h0M12 83h0M128 1h0M117 42h0M58 72h0M11 35h0M135 37h0M71 98h0M158 27h0M161 8h0M74 97h0M133 94h0M6 41h0M149 79h0M27 43h0M159 110h0M8 125h0M2 129h0M45 36h0M102 123h0M110 105h0M136 35h0M17 99h0M8 16h0M131 34h0M160 25h0M42 20h0M127 31h0M73 59h0M97 30h0M1 35h0M21 54h0M103 37h0M160 92h0M104 81h0M143 125h0M164 72h0M1 63h0M125 23h0M87 126h0M91 109h0M142 40h0M41 99h0M56 74h0M93 123h0M27 1h0M135 81h0M54 101h0M101 78h0M9 123h0M56 79h0M159 71h0M40 123h0M57 100h0M11 20h0M30 40h0M136 128h0M2 52h0M73 119h0M105 37h0M9 122h0M94 116h0M120 70h0M158 82h0M145 97h0M63 5h0M6 35h0M63 31h0M110 105h0M89 56h0M64 76h0M118 127h0M79 123h0M6 111h0M34 5h0M159 86h0M74 118h0M1 122h0M48 88h0M82 44h0M133 106h0M160 81h0M81 82h0M80 12h0M59 21h0M133 131h0M34 21h0M13 28h0M2 107h0M84 77h0M19 75h0M0 121h0M162 27h0M32 122h0M160 107h0M82 128h0M55 15h0M49 94h0M39 19h0M155 31h0M62 72h0M156 41h0M125 80h0M85 125h0M116 19h0M17 72h0M130 79h0M129 112h0M72 30h0M161 67h0M30 128h0M155 72h0M62 3h0M40 69h0M134 90h0M127 11h0M33 97h0M25 61h0M57 17h0M151 92h0M125 37h0M62 122h0M22 19h0M141 12h0M110 108h0M135 28h0M140 120h0M22 91h0M78 132h0M8 101h0M144 99h0M163 129h0M8 19h0M4 131h0M46 46h0M4 8h0M97 101h0M2 90h0M114 78h0M132 70h0M83 98h0M52 87h0M118 40h0M161 16h0M105 29h0M41 48h0M72 69h0M129 112h0M20 49h0M32 92h0M24 104h0M106 6h0M158 25h0M101 9h0M115 86h0M61 12h0M43 102h0M146 96h0M26 91h0M93 80h0M123 111h0M44 126h0M24 73h0M124 27h0M154 54h0M12 10h0M66 31h0M90 115h0M81 131h0M71 69h0M128 18h0M157 79h0M22 55h0M105 48h0M86 130h0M44 25h0M19 35h0M25 126h0M152 71h0M159 6h0M1 125h0M157 8h0M50 33h0M143 85h0M98 121h0M77 30h0M124 100h0M54 57h0M123 25h0M66 38h0M22 29h0M41 8h0M34 21h0M95 20h0M81 48h0M149 36h0M55 28h0M36 33h0M47 61h0M79 43h0M42 121h0M114 37h0M158 49h0M35 106h0M129 38h0M128 13h0M102 37h0M37 59h0M102 39h0M32 19h0M59 61h0M124 21h0M111 79h0M133 129h0M25 2h0M121 36h0M122 8h0M120 113h0M58 99h0M12 34h0M82 28h0M16 117h0M157 117h0M71 89h0M45 34h0M80 58h0M122 39h0M85 20h0M117 1h0M133 16h0M22 122h0M129 58h0M32 39h0M31 32h0M67 27h0M145 118h0M103 132h0M47 119h0M125 31h0M33 5h0M37 94h0M15 8h0M147 29h0M141 79h0M36 54h0M50 122h0M161 30h0M77 113h0M22 100h0M44 21h0M124 38h0M36 94h0M161 33h0M116 80h0M113 129h0M38 63h0M90 29h0M48 45h0M152 45h0M74 15h0M88 16h0M108 122h0M66 126h0M151 28h0M162 70h0M71 56h0M91 60h0M86 70h0M36 108h0M11 33h0M87 127h0M66 123h0M14 41h0M37 25h0M39 78h0M22 94h0M76 99h0M22 46h0M153 128h0M34 55h0M161 98h0" stroke="#c47ac8" stroke-width="2.5" stroke-linecap="round" stroke-opacity="0.55"/><path d="M96 77h0M147 114h0M67 80h0M17 129h0M112 86h0M70 92h0M57 8h0M28 88h0M126 120h0M43 45h0M10 104h0M71 49h0M103 45h0M162 31h0M160 92h0M104 98h0M15 102h0M96 79h0M161 48h0M136 37h0M38 53h0M59 67h0M135 43h0M138 129h0M10 66h0M33 8h0M26 43h0M47 2h0M147 105h0M155 53h0M13 41h0M112 22h0M152 120h0M70 58h0M73 58h0M73 92h0M143 12h0M86 108h0M53 93h0M79 2h0M65 45h0M45 29h0M89 60h0M140 5h0M162 98h0M114 87h0M31 26h0M1 8h0M119 128h0M73 6h0M62 133h0" stroke="#843ea8" stroke-width="1.0" stroke-linecap="round" stroke-opacity="0.5"/><path d="M21 122h0M139 132h0M23 12h0M129 14h0M32 91h0M11 3h0M11 21h0M20 54h0M100 100h0M154 36h0M103 73h0M9 60h0M106 37h0M93 90h0M76 127h0M7 80h0M77 45h0M130 126h0M62 16h0M141 20h0M131 130h0M31 77h0M66 52h0M5 107h0M97 116h0M66 120h0M69 40h0M164 62h0M122 90h0M72 119h0M67 76h0M104 78h0M127 87h0M81 76h0M57 84h0M142 93h0M75 80h0M72 107h0M89 126h0M112 85h0M92 17h0M155 121h0M2 5h0M6 38h0M69 14h0M68 123h0M87 56h0M44 120h0M123 92h0M123 109h0M68 70h0M33 0h0M41 74h0M10 81h0M81 59h0M1 39h0M124 94h0M26 34h0M106 108h0M48 114h0M146 90h0M64 29h0M91 109h0M101 98h0M8 60h0M36 81h0M69 54h0M123 132h0M86 123h0M48 78h0M91 115h0M89 74h0M157 4h0M52 57h0M132 102h0M8 42h0M101 92h0M162 83h0M0 31h0M52 12h0M67 39h0M152 30h0M25 65h0M142 79h0M109 125h0M86 126h0M90 45h0M22 60h0M13 4h0M117 108h0M102 6h0M9 14h0M75 100h0M91 78h0M72 113h0M11 0h0M12 30h0M162 58h0M149 132h0M83 35h0M116 67h0M152 107h0M45 114h0M61 105h0M32 104h0M152 10h0M86 32h0M109 93h0M108 97h0M58 112h0M41 82h0M82 90h0M35 120h0M146 23h0M152 47h0M81 10h0M14 32h0M11 46h0M41 1h0M7 35h0M134 32h0M161 43h0M68 132h0M106 28h0M162 122h0M91 94h0M164 13h0M149 15h0M69 42h0M64 21h0M78 124h0M160 26h0M15 108h0M66 85h0M102 131h0M154 34h0M136 92h0M80 123h0M5 17h0M146 7h0M59 113h0M83 101h0M79 27h0M48 32h0M146 11h0M91 116h0M112 115h0M77 20h0M162 5h0M123 110h0M160 49h0M11 69h0M146 88h0M106 58h0M43 5h0M80 38h0M18 8h0M60 122h0M10 74h0M25 97h0M152 57h0M95 127h0M120 49h0M41 38h0M134 59h0M6 65h0M104 66h0M41 127h0M18 92h0M94 1h0M66 62h0M129 118h0M78 53h0M42 112h0M146 15h0M71 96h0M59 124h0M46 37h0M107 36h0M112 37h0M54 124h0M121 59h0M124 101h0M158 71h0M103 101h0M146 10h0M107 23h0M43 21h0M69 66h0M136 100h0M25 95h0M47 117h0M149 118h0M48 33h0M141 11h0M80 53h0M110 23h0M120 25h0M20 121h0M51 94h0M77 104h0M32 74h0M42 88h0M58 43h0M6 60h0M128 49h0M111 19h0M88 58h0M135 78h0M129 22h0M92 82h0M152 80h0M98 111h0M78 10h0M43 83h0M34 107h0M8 60h0M32 108h0M9 108h0M32 50h0M127 42h0M114 69h0M103 43h0M85 32h0M76 44h0M161 104h0M130 117h0M67 45h0M160 79h0M102 105h0M85 95h0M35 23h0M90 96h0M28 35h0M110 106h0M145 43h0M120 27h0M28 96h0M23 60h0M105 99h0M43 102h0M5 11h0M81 89h0M51 123h0M47 92h0M133 108h0M5 94h0M55 102h0M46 126h0M116 96h0M149 76h0M102 99h0M21 6h0M30 47h0M138 130h0M120 113h0M164 30h0M71 52h0M61 106h0M26 51h0M94 29h0M155 2h0M143 100h0M63 103h0M70 73h0M33 92h0M129 96h0M155 80h0M146 68h0M9 24h0M148 25h0M71 100h0M11 1h0M127 67h0M142 17h0M80 41h0M17 6h0M1 11h0M89 45h0M29 131h0M109 70h0M65 46h0M109 31h0M111 74h0M154 107h0M156 84h0M67 119h0M1 29h0M38 100h0M44 100h0M142 81h0M62 39h0M133 85h0M57 46h0M64 5h0M63 133h0M145 95h0M101 87h0M40 91h0M15 88h0M114 51h0M90 46h0M86 114h0M8 57h0M63 4h0M41 113h0M28 108h0M79 129h0M115 107h0M95 17h0M145 130h0M120 66h0M85 133h0M149 102h0M124 57h0M43 118h0M127 29h0M110 20h0M133 105h0M146 108h0M140 70h0M83 67h0M94 132h0M46 103h0M48 127h0M106 66h0M51 79h0M66 47h0M58 15h0M97 55h0M148 55h0M82 45h0M41 98h0M139 10h0M43 63h0M149 132h0M40 2h0M142 88h0M131 37h0M71 92h0M121 72h0M112 31h0M78 100h0M18 52h0M105 88h0M159 25h0M153 118h0M74 69h0M128 10h0M79 96h0M23 102h0M106 94h0M50 11h0M40 52h0M73 130h0M4 22h0M126 68h0M121 132h0M54 10h0M128 12h0M151 16h0M6 108h0M158 48h0M106 131h0M10 83h0M137 99h0M152 106h0M124 39h0M41 115h0M6 81h0M20 109h0M71 109h0M161 98h0M103 84h0M52 27h0M66 53h0M1 108h0M44 68h0M73 78h0M137 128h0M154 125h0M40 31h0M22 119h0M123 100h0M122 103h0M57 41h0M109 123h0M62 7h0M128 93h0M89 18h0M11 34h0M40 69h0M141 17h0M161 64h0M66 75h0M146 116h0M103 29h0M121 67h0M52 66h0M147 16h0M100 94h0M49 93h0M150 62h0M29 86h0M31 7h0M2 7h0M145 92h0M11 98h0M152 32h0M76 39h0M95 44h0M156 92h0M24 38h0M92 15h0M11 82h0M37 53h0M91 22h0M45 17h0M62 7h0M149 88h0M42 99h0M9 126h0M22 1h0M57 112h0M27 82h0M11 125h0M54 108h0M28 38h0M110 109h0M82 1h0M145 8h0M37 125h0M50 118h0M49 120h0M132 94h0M88 41h0M8 20h0M35 53h0M93 119h0M114 125h0M6 46h0M78 106h0M17 110h0M142 84h0M35 40h0M78 9h0M86 24h0M154 76h0M63 11h0M10 132h0M72 14h0M19 95h0M118 84h0M114 4h0M97 51h0M84 4h0M13 18h0M42 98h0M145 42h0M140 91h0M20 28h0M157 24h0M58 85h0M142 110h0M158 61h0M120 58h0M28 61h0M90 49h0M91 101h0M23 29h0M127 99h0M78 42h0M22 55h0M113 13h0M30 27h0M31 8h0M162 89h0M128 74h0M159 34h0M88 87h0M52 32h0M77 93h0M38 104h0M59 53h0M151 101h0M38 113h0M136 101h0M134 42h0M44 57h0M69 22h0M19 16h0M22 84h0M161 51h0M63 29h0M84 47h0M42 73h0M107 20h0M134 58h0M114 24h0M99 88h0M100 103h0M36 21h0M44 10h0M24 45h0M3 43h0M160 83h0M116 39h0M37 61h0M30 32h0M13 81h0M123 56h0M43 37h0M37 9h0M132 29h0M69 75h0M31 6h0M45 108h0M96 82h0M93 36h0M91 107h0M73 80h0M118 1h0M61 127h0M124 41h0M32 114h0M162 111h0M125 122h0M100 3h0M79 17h0M93 133h0M156 14h0M152 60h0M54 116h0M84 122h0" stroke="#843ea8" stroke-width="1.5" stroke-linecap="round" stroke-opacity="0.5"/><path d="M146 54h0M114 131h0M17 49h0M140 111h0M157 13h0M79 42h0M73 18h0M4 55h0M72 50h0M139 127h0M43 26h0M59 83h0M60 111h0M14 110h0M69 58h0M47 105h0M98 103h0M78 48h0M135 106h0M92 92h0M96 42h0M45 19h0M58 98h0M32 23h0M98 120h0M45 67h0M61 84h0M71 100h0M126 99h0M104 53h0M20 16h0M62 128h0M12 100h0M3 80h0M132 52h0M139 25h0M117 132h0M12 90h0M141 90h0M85 33h0M49 103h0M10 30h0M24 25h0M77 92h0M8 122h0M7 127h0M51 71h0M14 80h0M125 55h0M51 52h0M30 5h0M23 109h0M23 7h0M72 41h0M52 26h0M111 131h0M0 119h0M114 33h0M144 44h0M163 71h0M157 55h0M83 118h0M69 47h0M140 57h0M114 75h0M92 94h0M82 106h0M26 45h0M2 12h0M123 39h0M90 43h0M115 30h0M60 88h0M71 101h0M36 56h0M93 101h0M67 39h0M48 72h0M153 3h0M64 122h0M163 92h0M86 100h0M39 7h0M140 40h0M140 55h0M82 42h0M86 62h0M153 30h0M106 59h0M84 12h0M9 56h0M125 65h0M145 43h0M90 1h0M96 117h0M163 51h0M133 126h0M141 48h0M8 101h0M129 28h0M15 110h0M46 32h0M110 106h0M99 61h0M152 124h0M76 127h0M137 92h0M21 2h0M158 46h0M24 114h0M108 86h0M62 55h0M66 34h0M110 115h0M48 55h0M123 78h0M63 103h0M108 33h0M71 54h0M84 13h0M22 133h0M73 24h0M44 27h0M163 30h0M7 73h0M141 85h0M126 124h0M64 111h0M4 126h0M8 70h0M132 58h0M4 24h0M106 65h0M141 23h0M39 73h0M50 23h0M125 100h0M124 53h0M146 105h0M19 125h0M38 36h0M83 98h0M16 17h0M0 104h0M10 47h0M95 84h0M62 20h0M130 37h0M21 63h0M132 36h0M46 38h0M34 71h0M134 48h0M141 73h0M41 17h0M12 5h0M122 66h0M69 23h0M5 79h0M149 89h0M124 106h0M163 114h0M51 75h0M153 72h0M69 67h0M137 60h0M8 7h0M120 19h0M7 122h0M49 67h0M28 16h0M3 130h0M36 127h0M44 99h0M154 44h0M6 127h0M39 50h0M131 65h0M164 56h0M151 72h0M133 9h0M63 86h0M109 9h0M109 84h0M161 131h0M7 98h0M59 15h0M7 73h0M23 19h0M23 85h0M48 74h0M45 9h0M40 41h0M49 50h0M88 0h0M128 47h0M60 33h0M142 87h0M6 21h0M29 32h0M133 53h0M109 30h0M95 91h0M89 95h0M23 20h0M88 112h0M7 104h0M114 19h0M9 102h0M131 107h0M111 89h0M90 17h0M69 119h0M126 83h0M35 3h0M4 14h0M71 8h0M25 97h0M98 107h0M104 35h0M45 27h0M81 109h0M15 33h0M145 47h0M79 8h0M125 11h0M41 55h0M46 35h0M162 27h0M127 99h0M21 75h0M20 78h0M23 104h0M75 46h0M74 92h0M105 66h0M6 18h0M27 24h0M47 21h0M161 51h0M135 76h0M126 125h0M62 10h0M49 41h0M156 35h0M148 70h0M157 94h0M114 131h0M122 90h0M82 87h0M88 67h0M109 45h0M89 88h0M76 8h0M124 7h0M76 91h0M125 88h0M100 71h0M115 116h0M113 99h0M87 109h0M21 80h0M86 89h0M137 102h0M70 127h0M137 56h0M137 65h0M107 124h0M51 6h0M107 76h0M127 89h0M58 28h0M100 121h0M18 80h0M27 113h0M121 84h0M67 41h0M63 90h0M8 51h0M62 88h0M53 58h0M145 71h0M111 119h0M106 109h0M95 94h0M47 81h0M62 41h0M1 24h0M86 90h0M50 11h0M151 38h0M148 119h0M87 81h0M104 106h0M93 118h0M117 30h0M8 85h0M97 47h0M35 46h0M153 21h0M65 16h0M102 56h0M64 7h0M78 13h0M57 46h0M156 43h0M141 0h0M62 120h0M128 5h0M112 9h0M129 41h0M141 120h0M82 80h0M52 72h0M5 21h0M70 15h0M40 116h0M49 50h0M154 97h0M68 35h0M110 54h0M59 122h0M2 115h0M110 107h0M156 114h0M107 82h0M107 33h0M39 14h0M62 37h0M94 44h0M20 30h0M75 55h0M60 23h0M10 107h0M9 32h0M141 109h0M126 12h0M69 97h0M124 126h0M125 89h0M46 95h0M63 79h0M137 37h0M115 44h0M136 66h0M115 32h0M92 53h0M120 91h0M49 83h0M12 75h0M75 44h0M141 50h0M7 44h0M58 120h0M78 23h0M35 55h0M110 94h0M139 105h0M41 113h0M131 59h0M55 43h0M124 122h0M43 110h0M154 132h0M24 123h0M91 7h0M7 104h0M161 76h0M80 78h0M121 60h0M56 20h0M13 22h0M47 32h0M47 70h0M131 7h0M19 109h0M37 120h0M28 1h0M141 92h0M157 108h0M95 87h0M3 52h0M151 69h0M16 18h0M67 54h0M67 114h0M96 0h0M161 4h0M142 19h0M112 28h0M82 37h0M162 43h0M164 87h0M30 69h0M22 70h0M48 126h0M90 55h0M9 65h0M80 83h0M82 85h0M136 4h0M85 46h0M7 85h0M161 124h0M162 8h0M115 113h0M95 95h0M133 33h0M110 104h0M105 90h0M120 43h0M102 112h0M26 124h0M88 106h0M65 105h0M24 82h0M14 109h0M59 79h0M158 10h0M145 119h0M158 11h0M110 127h0M90 79h0M137 37h0M5 18h0M77 107h0M145 55h0M105 10h0M29 1h0M33 127h0M58 119h0M78 29h0M125 58h0M3 48h0M27 54h0M87 18h0M83 6h0M61 25h0M162 100h0M78 97h0M129 52h0M142 101h0M47 74h0M17 132h0M126 29h0M124 73h0M51 27h0M48 75h0M50 48h0M56 65h0M60 34h0M0 19h0M69 32h0M17 51h0M149 113h0M158 16h0M78 116h0M157 23h0M132 12h0M123 19h0M144 68h0M47 38h0M27 127h0M3 113h0M148 127h0M41 14h0M151 46h0M134 120h0M33 68h0M157 35h0M163 88h0M81 82h0M62 128h0M101 38h0M65 114h0M9 9h0M157 30h0M14 103h0M112 39h0M38 69h0M9 30h0M160 117h0M87 60h0M137 128h0M159 18h0M86 76h0M104 106h0M27 48h0M57 28h0" stroke="#843ea8" stroke-width="2.0" stroke-linecap="round" stroke-opacity="0.5"/><path d="M28 74h0M40 43h0M126 3h0M83 79h0M158 77h0M135 33h0M10 20h0M30 64h0M135 12h0M72 1h0M6 71h0M25 95h0M115 118h0M153 67h0M142 95h0M98 11h0M124 87h0M32 115h0M154 91h0M137 114h0M89 82h0M95 24h0M105 4h0M134 116h0M114 31h0M6 60h0M24 38h0M36 94h0M157 53h0M94 22h0M29 3h0M88 125h0M8 74h0M114 124h0M102 88h0M139 58h0M126 77h0M61 84h0M161 82h0M112 18h0M53 73h0M55 10h0M14 110h0M32 97h0M122 95h0M59 3h0M42 73h0M155 3h0M98 66h0M82 61h0M97 53h0M133 49h0M4 93h0M42 47h0M52 65h0M16 92h0M152 114h0M127 128h0M130 121h0M113 46h0M44 128h0M14 89h0M107 29h0M34 103h0M16 59h0M141 51h0M87 16h0M35 30h0M33 60h0M140 41h0M151 11h0M156 125h0M132 108h0M161 104h0M13 53h0M147 51h0M127 18h0M36 61h0M118 125h0M30 78h0M129 108h0M94 72h0M109 121h0M54 43h0M91 116h0M117 119h0M157 54h0M4 75h0M68 29h0M16 131h0M10 35h0M90 72h0M93 116h0M14 105h0M4 88h0M47 19h0M53 16h0M41 59h0M68 61h0M97 6h0M58 64h0M4 50h0M95 108h0M146 18h0M57 120h0M149 16h0M136 23h0M62 89h0M123 85h0M79 62h0M117 84h0M98 13h0M113 8h0M25 117h0M162 96h0M5 5h0M103 60h0M115 41h0M108 82h0M14 10h0M122 99h0M102 18h0M73 75h0M62 94h0M25 68h0M102 80h0M15 62h0M14 113h0M89 93h0M123 61h0M56 85h0M107 33h0M98 45h0M164 93h0M16 45h0M13 40h0M9 21h0" stroke="#843ea8" stroke-width="2.5" stroke-linecap="round" stroke-opacity="0.5"/><path d="M2 -2h0M16 -1h0M27 -1h0M31 -2h0M35 -2h0M52 -2h0M56 -2h0M75 -2h0M88 -1h0M128 -2h0M133 -3h0M154 -2h0M165 -1h0M1 2h0M12 1h0M22 3h0M26 3h0M32 1h0M36 3h0M61 2h0M83 3h0M112 2h0M118 1h0M149 3h0M155 1h0M166 3h0M-3 8h0M2 7h0M18 6h0M22 7h0M41 7h0M54 7h0M66 5h0M69 7h0M86 7h0M94 7h0M108 6h0M119 6h0M121 7h0M142 7h0M157 6h0M20 11h0M74 11h0M140 10h0M154 10h0M3 16h0M8 14h0M22 14h0M27 16h0M32 15h0M37 16h0M56 16h0M76 14h0M84 16h0M104 15h0M109 16h0M113 13h0M119 13h0M161 14h0M5 19h0M11 18h0M25 20h0M31 18h0M41 20h0M82 18h0M87 20h0M101 18h0M117 19h0M131 20h0M140 18h0M164 18h0M-1 23h0M22 22h0M29 22h0M50 24h0M63 22h0M67 24h0M90 23h0M95 24h0M109 24h0M129 23h0M134 24h0M151 24h0M163 24h0M166 24h0M4 27h0M9 26h0M21 28h0M25 26h0M43 27h0M48 28h0M54 26h0M79 26h0M84 27h0M91 28h0M100 27h0M115 26h0M130 28h0M135 28h0M155 28h0M4 31h0M17 31h0M36 32h0M42 30h0M79 32h0M95 33h0M108 32h0M119 32h0M124 31h0M128 30h0M142 30h0M152 31h0M157 32h0M5 37h0M11 36h0M19 35h0M48 34h0M72 36h0M77 36h0M87 37h0M91 37h0M110 36h0M119 35h0M124 34h0M130 35h0M134 36h0M153 36h0M14 40h0M19 38h0M36 40h0M48 41h0M57 40h0M62 39h0M66 38h0M75 41h0M80 41h0M86 40h0M96 38h0M99 39h0M118 39h0M123 40h0M137 38h0M142 39h0M151 40h0M3 45h0M15 44h0M41 43h0M73 43h0M77 45h0M98 45h0M145 44h0M156 45h0M166 43h0M-2 49h0M4 47h0M12 47h0M21 47h0M26 47h0M37 47h0M42 47h0M45 47h0M51 48h0M56 48h0M66 47h0M109 48h0M139 49h0M141 48h0M153 49h0M16 52h0M24 54h0M59 51h0M72 54h0M88 53h0M113 52h0M125 53h0M130 53h0M141 51h0M145 51h0M18 57h0M27 57h0M51 57h0M61 57h0M94 57h0M102 58h0M113 55h0M137 58h0M142 57h0M146 55h0M150 58h0M165 57h0M11 62h0M25 60h0M31 61h0M65 60h0M73 61h0M98 62h0M101 60h0M112 61h0M130 59h0M136 62h0M149 61h0M155 60h0M0 64h0M28 65h0M57 64h0M66 64h0M84 65h0M109 64h0M118 63h0M129 65h0M144 64h0M149 64h0M1 69h0M5 68h0M10 69h0M20 68h0M35 70h0M38 70h0M45 68h0M74 68h0M77 69h0M84 69h0M92 68h0M100 68h0M112 70h0M127 70h0M158 70h0M-3 72h0M3 73h0M8 73h0M17 73h0M23 73h0M33 73h0M57 72h0M71 75h0M105 74h0M109 74h0M136 72h0M141 72h0M158 73h0M0 78h0M3 79h0M24 77h0M37 77h0M47 76h0M57 79h0M66 78h0M95 77h0M100 76h0M123 78h0M138 78h0M149 76h0M152 76h0M12 82h0M20 80h0M22 83h0M37 80h0M56 81h0M70 80h0M139 83h0M153 81h0M156 83h0M3 85h0M35 84h0M38 86h0M43 85h0M61 87h0M115 86h0M124 85h0M129 87h0M2 89h0M23 90h0M34 90h0M36 91h0M55 91h0M60 89h0M67 88h0M70 89h0M74 90h0M80 88h0M85 90h0M89 91h0M96 89h0M105 89h0M139 88h0M142 91h0M156 90h0M167 89h0M19 93h0M43 93h0M47 93h0M58 94h0M63 93h0M68 95h0M74 95h0M82 95h0M116 95h0M136 94h0M143 95h0M158 93h0M22 98h0M47 97h0M66 97h0M70 97h0M95 97h0M107 98h0M138 97h0M150 98h0M157 98h0M6 101h0M26 102h0M50 103h0M72 101h0M96 102h0M101 103h0M120 101h0M131 103h0M140 104h0M164 102h0M1 108h0M55 107h0M65 106h0M74 105h0M84 105h0M118 106h0M123 106h0M147 107h0M152 107h0M157 105h0M4 110h0M18 110h0M42 112h0M47 109h0M58 111h0M67 109h0M76 112h0M95 110h0M116 111h0M120 112h0M139 111h0M150 112h0M158 110h0M10 113h0M39 116h0M67 115h0M85 116h0M91 116h0M97 115h0M100 114h0M106 115h0M108 113h0M114 113h0M128 114h0M11 119h0M17 118h0M21 118h0M30 118h0M45 120h0M64 120h0M79 119h0M82 120h0M96 118h0M101 118h0M111 119h0M141 119h0M150 120h0M154 118h0M5 123h0M24 124h0M43 123h0M51 123h0M66 122h0M72 124h0M77 125h0M99 125h0M106 122h0M132 122h0M142 124h0M152 122h0M157 124h0M2 127h0M7 129h0M12 126h0M15 126h0M63 128h0M69 129h0M116 128h0M123 126h0M125 127h0M136 126h0M-4 131h0M33 133h0M37 133h0M41 131h0M69 130h0M78 131h0M93 133h0M97 132h0M104 132h0M122 132h0M128 131h0M132 132h0M165 132h0M16 136h0M24 135h0M54 135h0M60 137h0M64 137h0M69 136h0M101 135h0M107 136h0M125 134h0M134 135h0M139 135h0M146 137h0M151 136h0M156 137h0M165 137h0" stroke="#4e2a9a" stroke-width="2.0" stroke-linecap="round" stroke-opacity="0.75"/><path d="M12 -1h0M22 -1h0M39 -3h0M44 -3h0M61 -2h0M66 -1h0M71 -1h0M93 -1h0M99 -1h0M102 -1h0M111 -3h0M122 -2h0M151 -1h0M162 -1h0M8 1h0M15 1h0M39 3h0M50 3h0M55 2h0M65 3h0M69 3h0M75 1h0M80 2h0M93 1h0M99 2h0M121 2h0M128 3h0M132 2h0M136 2h0M142 3h0M146 2h0M25 6h0M47 5h0M49 7h0M62 6h0M89 7h0M98 7h0M103 6h0M112 6h0M127 6h0M133 7h0M137 7h0M145 6h0M150 8h0M161 5h0M165 7h0M5 9h0M10 9h0M16 11h0M39 11h0M43 10h0M49 9h0M54 11h0M59 11h0M64 9h0M68 12h0M84 12h0M93 9h0M96 11h0M103 11h0M108 12h0M111 9h0M122 10h0M124 11h0M131 12h0M134 11h0M145 12h0M149 10h0M13 13h0M17 14h0M41 14h0M47 15h0M53 14h0M62 14h0M66 13h0M70 15h0M80 15h0M90 16h0M95 16h0M99 13h0M128 14h0M132 14h0M144 16h0M147 15h0M158 16h0M166 15h0M1 19h0M16 17h0M20 19h0M34 20h0M50 18h0M53 19h0M59 18h0M64 20h0M69 18h0M75 18h0M98 18h0M127 18h0M160 18h0M36 22h0M43 23h0M57 24h0M72 23h0M76 22h0M98 24h0M113 24h0M120 22h0M123 23h0M138 24h0M142 24h0M149 24h0M158 24h0M33 28h0M39 28h0M59 27h0M62 27h0M73 27h0M112 26h0M120 28h0M124 26h0M144 27h0M8 32h0M26 30h0M46 30h0M51 30h0M60 32h0M65 32h0M70 31h0M84 32h0M91 33h0M99 30h0M103 30h0M113 32h0M133 31h0M136 32h0M147 32h0M162 32h0M1 37h0M14 35h0M25 36h0M28 37h0M33 36h0M39 37h0M43 37h0M57 36h0M62 35h0M66 34h0M102 36h0M107 36h0M115 35h0M138 34h0M144 34h0M158 34h0M163 34h0M3 41h0M7 38h0M24 39h0M27 38h0M32 38h0M51 40h0M71 39h0M89 38h0M108 40h0M114 40h0M130 40h0M149 40h0M166 38h0M7 44h0M20 43h0M25 45h0M30 43h0M34 44h0M49 45h0M59 43h0M63 45h0M82 43h0M93 44h0M102 45h0M108 42h0M112 43h0M117 44h0M120 43h0M125 43h0M131 43h0M137 44h0M140 45h0M9 48h0M69 47h0M90 49h0M93 47h0M100 48h0M103 47h0M114 47h0M120 47h0M122 49h0M127 48h0M148 48h0M156 48h0M162 49h0M165 48h0M0 52h0M6 54h0M21 53h0M33 51h0M39 52h0M45 52h0M53 52h0M77 54h0M82 51h0M93 52h0M97 51h0M102 51h0M106 52h0M116 54h0M121 54h0M151 52h0M155 51h0M160 53h0M165 53h0M-2 56h0M3 57h0M8 55h0M12 56h0M22 55h0M36 55h0M40 56h0M54 57h0M65 56h0M75 58h0M84 55h0M90 55h0M100 55h0M117 56h0M122 56h0M127 58h0M132 55h0M157 57h0M1 60h0M16 61h0M21 60h0M35 61h0M40 61h0M45 60h0M53 60h0M68 61h0M79 61h0M82 61h0M88 62h0M91 61h0M108 61h0M122 59h0M125 60h0M140 62h0M160 60h0M165 62h0M8 66h0M19 66h0M23 66h0M36 63h0M46 65h0M51 64h0M62 65h0M80 65h0M96 64h0M99 64h0M114 64h0M124 64h0M132 65h0M137 64h0M152 64h0M158 65h0M163 66h0M15 70h0M29 69h0M64 68h0M86 68h0M97 68h0M105 69h0M115 69h0M134 68h0M145 69h0M149 70h0M154 69h0M164 69h0M14 74h0M26 73h0M46 74h0M50 72h0M62 73h0M65 73h0M74 73h0M81 72h0M84 74h0M88 74h0M95 74h0M98 73h0M113 73h0M119 73h0M122 72h0M127 72h0M132 74h0M147 74h0M153 73h0M163 72h0M165 72h0M9 76h0M13 78h0M20 79h0M29 76h0M34 78h0M54 78h0M70 78h0M75 77h0M80 76h0M87 78h0M90 77h0M106 78h0M114 79h0M128 76h0M133 78h0M143 76h0M159 76h0M162 76h0M3 82h0M8 82h0M27 80h0M31 82h0M46 83h0M62 80h0M67 82h0M76 83h0M85 81h0M91 80h0M95 82h0M99 80h0M104 82h0M108 83h0M115 82h0M118 82h0M128 81h0M143 83h0M147 81h0M162 81h0M168 81h0M-1 84h0M8 85h0M14 85h0M20 85h0M24 85h0M29 86h0M58 86h0M67 86h0M72 85h0M75 86h0M81 86h0M87 86h0M90 85h0M107 85h0M110 85h0M135 85h0M143 85h0M149 85h0M155 87h0M165 85h0M-2 91h0M7 89h0M17 90h0M27 89h0M46 90h0M52 90h0M100 89h0M111 89h0M113 89h0M120 90h0M123 90h0M128 90h0M133 91h0M146 91h0M162 90h0M1 93h0M9 95h0M14 94h0M25 93h0M35 94h0M38 94h0M76 95h0M102 93h0M106 95h0M110 95h0M126 94h0M140 94h0M152 95h0M164 94h0M-1 99h0M2 99h0M17 98h0M52 97h0M59 97h0M86 98h0M89 97h0M99 97h0M105 99h0M114 99h0M118 97h0M123 100h0M132 98h0M167 99h0M1 104h0M20 103h0M29 101h0M33 103h0M44 101h0M53 102h0M59 101h0M77 102h0M82 102h0M111 103h0M117 102h0M125 102h0M136 101h0M-3 106h0M6 106h0M12 107h0M17 106h0M21 108h0M26 105h0M30 107h0M37 106h0M41 106h0M58 107h0M69 105h0M79 107h0M88 106h0M103 105h0M107 107h0M131 106h0M141 105h0M161 105h0M165 108h0M2 112h0M11 110h0M24 110h0M28 109h0M34 111h0M73 112h0M91 111h0M125 109h0M135 110h0M146 112h0M154 109h0M-2 114h0M5 116h0M19 113h0M24 116h0M29 115h0M48 115h0M51 115h0M61 115h0M77 116h0M82 116h0M119 115h0M124 115h0M139 115h0M142 115h0M149 116h0M152 115h0M157 115h0M162 115h0M6 120h0M40 119h0M88 119h0M117 119h0M122 120h0M131 119h0M135 119h0M145 118h0M158 119h0M8 124h0M12 123h0M17 122h0M29 124h0M31 124h0M48 124h0M58 122h0M79 123h0M85 122h0M91 123h0M96 124h0M109 123h0M113 122h0M120 124h0M30 127h0M39 126h0M45 127h0M50 127h0M53 126h0M59 128h0M73 126h0M94 126h0M111 126h0M161 128h0M2 132h0M6 132h0M26 131h0M45 133h0M50 132h0M57 132h0M88 130h0M109 131h0M113 130h0M137 132h0M142 130h0M146 132h0M150 131h0M155 131h0M2 136h0M33 134h0M38 136h0M45 135h0M48 136h0M78 134h0M82 136h0M87 135h0M92 135h0M98 135h0M111 136h0" stroke="#4e2a9a" stroke-width="2.5" stroke-linecap="round" stroke-opacity="0.75"/><path d="M79 -3h0M84 -1h0M109 -1h0M146 -3h0M45 1h0M159 3h0M13 5h0M38 6h0M80 5h0M25 12h0M29 11h0M36 9h0M89 11h0M117 12h0M159 11h0M165 12h0M138 14h0M153 14h0M92 20h0M107 19h0M122 19h0M155 20h0M8 22h0M12 22h0M48 21h0M86 22h0M104 23h0M13 26h0M30 27h0M67 26h0M87 26h0M96 29h0M106 27h0M150 27h0M164 28h0M23 31h0M33 30h0M82 35h0M95 35h0M134 41h0M45 44h0M87 44h0M161 43h0M16 49h0M74 49h0M84 47h0M131 49h0M64 51h0M67 51h0M136 54h0M31 58h0M79 55h0M6 62h0M146 60h0M70 65h0M76 63h0M105 63h0M25 70h0M60 67h0M119 70h0M42 73h0M42 76h0M63 79h0M110 77h0M119 76h0M0 80h0M80 80h0M49 86h0M54 87h0M96 86h0M100 85h0M121 87h0M140 84h0M159 85h0M42 91h0M151 90h0M28 94h0M53 94h0M86 95h0M91 94h0M96 93h0M119 94h0M130 93h0M149 93h0M7 97h0M28 99h0M32 99h0M42 99h0M56 99h0M74 99h0M129 99h0M148 97h0M9 103h0M16 102h0M67 102h0M86 102h0M91 102h0M144 103h0M150 102h0M46 107h0M51 106h0M94 106h0M112 106h0M126 108h0M137 106h0M15 110h0M40 112h0M100 111h0M106 111h0M131 110h0M14 115h0M33 115h0M41 114h0M72 114h0M135 116h0M1 119h0M26 118h0M36 118h0M68 119h0M74 119h0M107 118h0M-1 123h0M36 122h0M63 123h0M128 124h0M148 122h0M163 124h0M24 126h0M77 127h0M84 127h0M97 129h0M104 126h0M151 128h0M156 127h0M60 132h0M66 131h0M74 131h0M84 132h0M7 134h0M73 136h0M122 137h0M132 136h0" stroke="#4e2a9a" stroke-width="3.0" stroke-linecap="round" stroke-opacity="0.75"/><path d="M134 104l-2 0M106 58l2 1M138 58l0 -3M85 74l0 2M88 112l-1 -2M119 35l0 -2M57 47l-2 0M17 68l-1 2M122 12l1 1M147 29l0 2M0 107l2 2M141 36l-2 -2M2 71l0 -4M158 62l2 3M77 13l0 2M18 94l-2 0M20 27l-2 0M44 118l-1 2M17 119l-1 1M85 127l-2 3M22 72l3 2M100 44l4 0M129 111l0 3M83 46l-2 -2M123 37l0 3M35 100l-4 -1M56 76l-2 -1M19 79l-2 -3M73 79l1 -4M92 53l1 1M115 36l1 2M65 120l1 -3M27 96l2 0M46 71l-2 -2M88 20l3 2M2 100l1 2M116 110l-2 1M79 8l0 2M70 25l-2 1M18 24l-2 -4M99 37l0 -2M54 41l-3 -1M22 12l0 -2M96 93l0 -2M14 109l-3 2M59 123l2 0M20 7l-2 -1M98 64l-1 -3M156 90l3 2M0 106l1 -3M101 30l3 2M53 72l0 2M91 126l2 -1M101 42l0 -2M128 110l-2 3M26 133l1 3M47 43l-3 1M68 93l-1 -2M122 18l0 3M69 105l-2 -2M72 43l-2 3M62 46l3 -1M157 120l-2 3M23 93l-2 -1M139 128l-2 -1M39 77l-1 4M142 38l1 -3M69 123l-2 1M145 118l2 -2M8 36l2 0M49 52l2 1M18 118l0 -2M93 80l-1 3M26 12l-3 0M77 26l-2 1M76 128l-2 -1M41 54l0 -4M104 91l2 2M6 25l2 -1M14 125l1 -2M97 14l-3 -2M10 47l-1 2M124 61l3 -1M121 117l-1 -1M98 122l1 2M62 133l3 2M141 104l-2 0M91 49l0 3M22 54l0 2M86 43l-1 -2M14 3l3 -2M126 2l1 3M138 84l0 3M110 101l3 0M16 46l0 -3M145 21l3 -2M52 25l2 -1M82 52l0 2M15 81l3 -1M116 130l0 -2M23 120l2 -3M148 10l-1 1M38 98l-1 1M127 108l-2 -2M109 26l-2 -1M120 131l1 1M155 45l2 0M138 51l2 0M115 33l2 -1M82 20l1 -2M47 6l2 0M82 75l-1 -1M123 82l3 0M135 30l-2 1M129 117l2 2M93 40l-3 1M123 106l3 2M20 19l2 0M37 17l2 2M123 133l0 4M35 56l2 -1M25 101l1 -1M21 129l-1 3M39 23l-1 2M142 6l0 2M113 16l-1 -3M69 77l-2 2M129 33l3 -2M69 119l-1 -2M107 120l2 3M67 118l4 2M67 102l2 1M54 106l-4 -1M26 36l2 -2M16 96l3 2M94 115l0 2M44 106l-3 0M154 133l-2 3M96 49l-2 1M144 51l0 2M128 106l-2 3M143 86l-3 -1M148 59l-2 -1M7 63l-1 1M50 23l-3 1M95 9l-2 0M124 43l-1 -1M114 56l3 -2M105 61l-2 1M52 22l1 3M87 16l1 -2M76 104l-1 -3M28 1l2 2M39 76l-2 -2M113 40l0 -2M149 50l-2 1M154 57l1 -1M30 15l1 2M40 40l3 -1M36 102l0 3M102 95l-3 2M160 29l1 1M155 98l-1 2M154 81l-2 1M161 36l-2 1M1 72l1 1M60 119l1 2M98 90l0 -3M65 129l4 -1M91 83l-2 -2" stroke="#f2d8ee" stroke-width="0.7" stroke-opacity="0.8" fill="none"/><path d="M8 128h0M6 96h0M70 127h0M71 97h0M53 71h0M9 58h0M101 90h0M12 2h0M130 53h0M148 61h0M116 109h0M2 32h0M123 104h0M150 48h0M116 109h0M11 31h0M121 3h0M43 108h0M115 100h0M77 42h0M15 82h0M104 22h0M28 98h0M71 61h0M49 28h0M60 48h0M75 35h0M36 95h0M38 3h0M106 109h0M115 105h0M110 85h0M89 95h0M84 102h0M117 111h0M68 96h0M144 101h0M117 32h0M0 76h0M67 124h0M88 81h0M33 46h0M98 5h0M105 29h0M160 118h0M141 131h0M1 39h0M150 21h0M10 84h0M131 37h0M66 57h0M131 87h0M21 76h0M76 14h0M35 67h0M12 6h0M36 86h0M45 11h0M66 38h0M109 69h0M119 35h0M139 54h0M52 108h0M58 80h0M144 20h0M136 112h0M57 48h0M86 17h0M131 87h0M105 127h0M93 23h0M68 122h0M162 116h0M39 41h0M53 112h0M36 11h0M48 7h0M143 23h0M26 39h0M138 45h0" stroke="#f4e6f6" stroke-width="0.5" stroke-linecap="round" stroke-opacity="0.85"/><path d="M46 20h0M19 108h0M11 65h0M154 74h0M163 22h0M40 1h0M33 76h0M95 45h0M48 43h0M71 82h0M118 69h0M11 107h0M47 124h0M14 52h0M163 33h0M36 4h0M104 117h0M57 76h0M104 51h0M37 102h0M149 45h0M32 99h0M121 3h0M45 116h0M3 15h0M104 62h0M26 84h0M73 69h0M158 36h0M114 94h0M21 70h0M139 116h0M88 73h0M115 60h0M30 133h0M163 70h0M64 37h0M155 38h0M142 15h0M38 26h0M26 75h0M158 1h0M160 75h0M18 48h0M26 49h0M114 57h0M49 66h0M142 45h0M97 42h0M70 48h0M95 106h0M13 51h0M141 39h0M88 72h0M122 101h0M124 87h0M58 21h0M2 71h0M79 122h0M129 28h0M104 90h0M85 29h0M134 95h0M44 86h0M96 127h0M73 77h0M77 36h0M38 61h0M111 33h0M39 33h0M87 84h0M140 13h0M54 127h0M139 69h0M99 23h0M73 81h0M163 53h0M79 22h0M90 15h0M12 88h0M154 56h0M115 107h0M116 32h0M122 110h0M20 96h0M156 60h0M70 87h0M152 43h0M118 89h0M86 93h0M28 96h0M64 118h0M108 14h0M43 34h0M40 15h0M54 73h0M43 56h0M118 76h0M136 32h0M74 66h0M162 96h0M72 103h0M23 74h0M1 40h0M158 91h0M23 37h0M16 40h0M11 30h0M36 36h0M54 33h0M150 41h0M137 66h0M163 106h0M113 94h0M14 59h0M62 8h0M1 11h0M64 111h0M27 130h0M109 117h0M103 35h0M105 104h0M161 22h0M45 80h0M160 47h0M7 36h0M132 61h0M107 86h0M71 48h0M141 108h0M75 54h0M56 17h0M71 113h0M104 25h0M153 10h0M55 3h0M76 68h0M117 126h0M20 49h0M157 55h0M59 122h0M5 97h0M13 58h0M27 72h0M96 47h0M62 85h0M62 92h0M148 74h0M86 132h0M152 51h0M38 57h0M107 82h0M89 1h0M76 25h0M1 67h0M163 82h0M161 57h0M38 69h0M113 107h0M95 119h0M105 55h0M115 33h0M125 111h0M78 11h0M107 90h0M59 89h0M76 40h0M9 105h0M142 23h0M147 30h0M119 125h0M5 103h0M28 2h0M66 43h0M143 6h0M84 121h0M18 120h0M24 113h0M104 46h0M35 16h0M115 123h0M65 42h0M8 59h0M91 38h0M158 64h0M91 64h0M5 50h0M138 85h0M107 97h0M119 92h0M66 60h0M111 99h0M60 61h0M82 99h0M30 6h0M109 91h0M142 81h0M153 64h0M145 16h0M77 122h0M26 65h0M23 6h0M130 125h0M139 87h0M125 35h0M48 100h0M138 116h0M80 20h0M12 70h0M91 31h0M111 92h0M141 32h0M26 90h0M65 90h0M11 124h0M67 47h0M26 84h0M135 49h0M133 82h0M134 93h0M79 38h0M73 93h0M40 22h0M64 129h0M76 83h0M15 132h0M35 97h0M22 101h0M133 96h0M38 104h0M125 93h0M71 4h0M68 2h0M16 62h0M8 39h0M147 102h0M56 38h0M53 75h0M148 115h0M32 122h0M155 95h0M116 122h0M130 67h0M4 67h0M76 7h0M95 129h0M93 87h0M11 87h0" stroke="#f4e6f6" stroke-width="1.0" stroke-linecap="round" stroke-opacity="0.85"/><path d="M92 123h0M162 106h0M133 12h0M4 51h0M21 113h0M50 83h0M110 105h0M19 19h0M16 33h0M102 128h0M23 99h0M111 108h0M87 35h0M134 68h0M15 107h0M160 17h0M69 28h0M58 123h0M45 47h0M137 87h0M43 39h0M106 37h0M52 69h0M117 51h0M45 32h0M142 62h0M84 29h0M60 108h0M148 3h0M27 93h0M27 111h0M40 120h0M42 47h0M118 20h0M62 64h0M150 85h0M148 69h0M117 9h0M11 7h0M81 92h0M159 11h0M51 29h0M25 126h0M92 117h0M112 85h0M32 117h0M19 14h0M89 8h0M78 42h0M144 104h0M84 132h0M1 15h0M17 85h0M101 52h0M72 23h0M77 100h0M3 10h0M7 16h0M105 77h0M160 11h0M30 99h0M35 84h0M136 78h0M144 18h0M61 20h0M125 51h0M43 47h0M142 34h0M120 129h0M96 93h0M89 1h0M163 59h0M62 75h0M64 80h0M158 84h0M89 117h0M158 20h0M111 45h0M130 61h0M91 88h0M133 104h0M5 123h0M135 130h0M129 54h0M151 124h0M76 84h0M16 128h0M70 86h0M75 32h0M116 49h0M59 101h0M23 66h0" stroke="#f4e6f6" stroke-width="1.5" stroke-linecap="round" stroke-opacity="0.85"/><path d="M96 86h0M82 8h0M68 7h0M45 54h0M113 63h0M3 130h0M147 97h0M69 54h0M20 15h0M36 41h0M18 86h0M98 109h0M154 31h0M106 86h0M92 113h0M19 24h0M47 97h0M76 84h0M18 37h0M116 107h0M136 132h0M97 51h0M40 107h0M48 45h0M60 118h0M108 59h0M49 105h0M119 53h0M2 54h0M5 78h0M36 110h0M105 88h0M49 100h0M128 14h0M87 83h0M108 50h0M91 33h0M131 71h0M121 46h0M153 46h0M88 50h0M133 1h0M34 28h0M34 10h0M146 35h0M19 38h0M86 82h0M129 103h0M98 103h0M59 12h0M106 69h0M122 51h0M78 122h0M4 132h0M71 68h0M65 15h0M20 107h0M86 41h0M44 121h0M122 4h0M72 96h0M109 98h0M70 46h0M3 59h0M44 61h0M132 36h0M99 16h0M1 75h0" stroke="#e0407a" stroke-width="1.0" stroke-linecap="round" stroke-opacity="0.8"/><path d="M69 77h0M148 23h0M163 28h0M151 92h0M95 43h0M24 103h0M144 8h0M135 70h0M10 67h0M102 48h0M53 109h0M26 108h0M159 100h0M127 11h0M9 94h0M74 19h0M108 101h0M129 70h0M4 80h0M80 40h0M143 46h0M27 64h0M143 111h0M109 19h0M144 92h0M75 100h0M142 8h0M114 118h0M113 114h0M23 79h0M0 6h0M129 54h0M133 116h0M119 25h0M126 4h0M76 117h0M90 83h0M66 27h0M83 55h0M24 6h0M51 104h0M29 70h0" stroke="#e0407a" stroke-width="1.5" stroke-linecap="round" stroke-opacity="0.8"/><path d="M75 33h0M76 45h0M76 39h0M76 41h0M76 41h0M76 31h0M79 40h0M76 45h0M71 37h0M73 35h0M73 29h0M75 28h0M73 45h0M76 42h0M71 31h0M78 26h0M74 31h0M77 38h0M79 35h0M75 31h0M74 26h0M74 37h0M76 33h0M80 36h0M74 27h0M76 32h0M76 33h0M73 34h0M77 38h0M72 42h0M75 35h0M71 40h0M72 32h0M78 33h0M77 44h0M73 42h0M74 28h0M71 35h0M72 37h0M73 43h0" stroke="#3a2a8c" stroke-width="1.6" stroke-linecap="round" stroke-opacity="0.8"/><path d="M66 56h0M60 57h0M68 53h0M68 54h0M61 57h0M63 52h0M60 58h0M60 53h0M60 53h0M60 57h0M68 55h0M68 54h0M64 52h0M67 54h0M69 57h0M65 53h0M69 57h0M61 56h0M63 54h0M65 56h0" stroke="#3a2a8c" stroke-width="1.6" stroke-linecap="round" stroke-opacity="0.8"/><path d="M106 110h0M109 111h0M104 113h0M108 117h0M103 114h0M104 121h0M104 107h0M110 115h0M105 115h0M105 109h0M103 115h0M107 112h0M108 107h0M106 122h0M107 112h0M107 122h0M109 120h0M102 115h0M109 115h0M107 124h0M104 111h0M105 112h0M104 120h0M107 106h0M103 121h0M108 110h0M109 115h0M104 107h0M104 114h0M106 115h0" stroke="#3a2a8c" stroke-width="1.6" stroke-linecap="round" stroke-opacity="0.8"/><path d="M60 20h0M58 14h0M55 19h0M59 17h0M56 15h0M52 16h0M53 17h0M56 18h0M54 14h0M55 17h0M63 17h0M52 19h0M60 20h0M52 15h0M60 15h0M60 16h0M60 14h0M62 20h0M52 17h0M54 17h0" stroke="#3a2a8c" stroke-width="1.6" stroke-linecap="round" stroke-opacity="0.8"/></g><path d="M600,612 q-6,6 -7,14 q-4,6 -11,8 M593,626 q6,4 12,9 M578,592 q8,4 16,2" fill="none" stroke="#3c2684" stroke-width="3.4" stroke-opacity="0.38" stroke-linecap="round"/><path d="M594,586 q5,-2 9,1 q1,7 -1,13 q-5,2 -8,-1 q-2,-6 0,-13z" fill="#f8f0f6"/><ellipse cx="599.3" cy="593.5" rx="1.6" ry="2" transform="rotate(0 599.3 593.5)" fill="#d84a80"/><ellipse cx="597" cy="588.5" rx="1.8" ry="1.3" transform="rotate(0 597 588.5)" fill="#4a2c8a"/><ellipse cx="553" cy="604.7" rx="11.5" ry="3" transform="rotate(-18 553 604.7)" fill="#f4e6f0"/><ellipse cx="549" cy="606" rx="3.2" ry="1.5" transform="rotate(-18 549 606)" fill="#d8306a"/><ellipse cx="557" cy="603.3" rx="2.6" ry="1.3" transform="rotate(-18 557 603.3)" fill="#e05a8a"/><ellipse cx="529.2" cy="619.6" rx="2.5" ry="3.5" transform="rotate(0 529.2 619.6)" fill="#f6eef6"/><ellipse cx="573.4" cy="629.2" rx="4.5" ry="3" transform="rotate(-10 573.4 629.2)" fill="#c8285e"/><ellipse cx="611.1" cy="630" rx="4" ry="3.5" transform="rotate(0 611.1 630)" fill="#f6eaf4"/><ellipse cx="612" cy="631" rx="1.3" ry="1.3" transform="rotate(0 612 631)" fill="#e06090"/><ellipse cx="620" cy="697" rx="5.5" ry="11.5" transform="rotate(0 620 697)" fill="#fbf6fb"/><ellipse cx="671.8" cy="679" rx="4.5" ry="5" transform="rotate(0 671.8 679)" fill="#fbf6fb"/><ellipse cx="623.5" cy="704" rx="1.8" ry="2.5" transform="rotate(0 623.5 704)" fill="#d8306a"/><path d="M626,683 q4,8 2,22" fill="none" stroke="#3c2684" stroke-width="3.4" stroke-opacity="0.38" stroke-linecap="round"/><path d="M604,658 q6,3 6,12 q1,10 2,22" fill="none" stroke="#3e2a88" stroke-width="1" stroke-opacity="0.8"/><path d="M612,658 q-3,4 -1,10" fill="none" stroke="#f3e2f3" stroke-width="0.8"/></g></g><g clip-path="url(#ct3)"><g filter="url(#sf)"><rect x="521.1" y="714.0" width="163.9" height="132.5" fill="#d2d8f2"/><ellipse cx="580" cy="785" rx="55" ry="45" fill="url(#brn)"/><g transform="translate(521.1,714.0)"><path d="M139 105l-1 -4M80 2l1 2M32 57l4 3M83 106l0 3M46 6l3 1M140 81l-2 -4M42 78l-1 -2M158 50l-3 -1M137 62l-3 1M136 99l-2 -4M147 21l1 -3M123 120l-2 -2M24 21l-2 3M155 121l-3 -2M1 4l-1 5M27 23l-5 1M162 1l-2 -1M103 34l3 2M16 98l-2 1M22 88l4 2M124 16l-3 -3M124 99l-1 2M159 25l-2 2M33 18l3 -3M12 4l-2 0M79 22l0 -3M133 121l-3 -4M8 131l2 2M26 54l3 0M101 80l-3 0M164 20l3 1M8 62l1 3M33 131l-2 -3M31 102l3 -1M156 84l-2 -3M26 31l-4 -3M136 3l-2 -1M134 121l3 2M23 95l-3 2M101 121l-1 -3M110 19l2 2M147 119l-3 2M39 32l-4 -1M116 117l0 3M163 82l1 2M164 106l1 3M77 103l-3 2M56 83l1 3M82 92l-3 -3M163 35l3 -1M64 7l5 -1M96 128l3 1M75 67l3 1M95 36l-5 -1M84 17l0 3M109 63l0 4M4 52l3 1M106 101l-5 -1M57 116l-2 2M98 88l0 -4M32 2l2 -3M63 128l2 -2M42 111l4 3M134 129l2 0M98 112l3 -2M76 40l-2 2M146 50l3 2M116 69l3 4M2 99l2 2M97 70l-2 -3M92 99l1 5M45 15l-2 5M149 83l0 4M17 78l2 2M139 42l4 0M124 18l-2 1M56 128l0 4M121 99l0 4M126 8l0 2M152 15l-3 1M79 19l-1 2M7 101l3 1M140 29l-3 3M60 27l-4 -2M133 118l-1 2M141 57l-4 2M139 97l0 2M34 67l2 2M109 119l3 1M77 77l-1 -4M122 29l-3 -1M104 91l-2 2M85 6l3 -2M45 115l-2 3M94 118l2 0M126 69l-1 -4M120 93l1 -3M96 85l-1 3M104 21l0 -4M111 79l0 -5M147 7l3 2M119 72l4 1M86 44l3 1M90 4l0 -2M120 116l0 4M123 52l2 -3M65 129l4 -1M71 100l-3 0M83 131l3 1M12 11l-1 -2M6 10l-4 -1M82 41l2 2M84 47l-2 0M54 89l4 1M143 18l3 0M99 84l3 0M75 123l-3 4M149 125l-3 1M8 77l3 0M69 114l4 0M1 68l0 2M83 84l0 -3M154 42l-2 -1M17 107l2 -3M92 107l0 -4M132 93l2 0M154 28l-1 2M3 120l2 3M24 16l4 -1M158 0l-2 -4M8 53l0 -2M33 92l3 -1M21 64l4 1M145 90l1 -3M151 32l-2 -1M94 129l-3 1M135 59l3 -3M137 68l0 -4M87 85l2 -2M141 13l5 0M60 112l-4 3M36 121l-3 2M108 110l3 -1M24 74l1 4M80 26l2 -1M70 2l-1 -2M99 65l2 2M155 53l-2 -1M111 7l-3 4M84 71l-1 -3M23 131l-3 3M38 122l1 3M85 11l0 3M147 103l-2 2M141 34l-4 -3M113 116l-4 0M85 8l-4 2M65 81l1 -2M155 59l-4 -3M25 27l-1 5M161 130l3 0M156 8l0 -3M32 14l-4 -1M148 63l4 -2M8 51l0 4M114 94l0 -4M82 44l2 -2M49 69l-3 0M85 20l3 1M116 29l3 1M57 31l-2 3M59 88l-2 4M12 19l2 4M83 70l1 -2M13 7l0 -2M18 47l-1 -4M25 8l-4 1M115 90l-3 3M75 73l0 3M39 91l-1 -4M131 36l0 -5M124 79l3 -1M55 109l3 0M138 98l-2 -4M107 50l-4 1M30 57l3 2M44 19l3 3M96 28l3 -1M76 61l-2 1M16 85l0 3M133 71l-1 -4M76 48l4 0M85 63l3 3M142 44l3 1M16 35l1 2M72 13l1 -3M88 86l0 -2M99 84l-1 -4M21 52l0 -2M120 21l3 -3M85 132l0 3M2 29l4 1M9 113l2 -2M90 54l-4 -3M150 130l-3 -1M26 17l2 1M18 7l4 3M154 44l-4 0M27 42l3 -3M116 10l4 2M48 65l-4 3M85 1l-1 -3M98 102l-4 0M71 53l3 1M157 71l1 -3M138 109l0 -5M36 73l-1 -3M31 27l3 3M124 104l2 0M101 0l3 -2M41 102l-3 2M25 88l-3 -2M43 87l-4 1M95 54l3 0M24 15l2 -2M106 126l0 5M38 128l1 -4M38 124l-2 -1M64 90l-3 3M24 120l-1 4M144 120l-3 -3M41 90l-4 -1M51 96l4 -2M94 67l-1 3M149 33l-1 -2M146 39l0 -4M31 24l2 0M103 22l2 3M100 76l-3 -2M156 97l2 3M147 129l4 -1M124 126l2 -3M101 120l4 0M127 46l-2 2M146 36l-3 1M76 114l0 4M11 107l2 -3M153 66l-4 0M134 87l-1 3M16 99l-2 1M117 64l2 1M81 95l0 -2M4 72l-3 2M164 27l4 -3M105 51l2 4M79 37l-3 0M98 111l0 -3M49 41l1 -2M101 109l-2 0M92 89l2 3M119 19l-4 -2M148 88l-1 5M134 118l2 -2M10 55l1 4M24 90l-2 -4M70 30l-2 4M135 87l4 -2M72 49l1 -3M161 65l0 -5M25 81l-2 2M60 118l-2 4M72 27l0 2M55 123l2 4M16 18l2 -2M18 23l-3 -2M60 97l2 5M91 36l-3 3M7 57l-1 2M31 40l-3 0M133 13l2 1M14 77l4 -1M14 16l0 2M49 127l4 -3M76 29l-4 0M57 69l-2 -4M84 14l-4 2M106 36l0 2M152 70l-4 -1M67 29l-1 3M7 111l2 4M139 29l-2 -3M138 17l-3 0M122 131l-3 3M153 118l-2 2M80 110l3 0M11 34l1 4M128 58l2 2M94 123l-1 -3M130 65l2 2M24 22l-2 1M65 25l1 -4M48 60l-1 2M86 94l1 -5M147 12l-4 -2M8 116l2 3M124 120l3 1M37 17l0 5M60 2l1 -3M103 63l-3 0M58 88l-2 3M88 8l-4 0M142 32l1 -2M72 33l-3 2M7 49l1 -5M126 103l-2 2M132 120l1 -2M84 97l-3 -4M8 15l1 -5M111 85l-4 -1M88 43l0 -3M57 60l4 1M28 13l2 2M135 13l0 4M80 49l1 -2M122 78l-2 1M31 34l4 1M55 100l-2 -4M7 70l-2 -1M17 116l0 4M23 101l-4 -1M50 14l-3 3M98 27l-4 0M112 19l-4 1M83 38l-1 4M107 113l-3 0M34 75l1 3M155 119l4 0M100 90l4 -1M102 21l-1 -4M12 28l-1 3M44 38l-2 -4M24 10l0 2M155 98l-2 2M158 92l-3 0M39 39l0 3M95 85l-1 -2M37 54l4 -2M20 42l-2 3M45 35l2 -2M64 39l3 2M26 10l-3 2M23 54l3 1M77 86l-3 -4M48 76l-1 -4M2 3l-4 3M163 39l-4 2M66 106l-5 1M57 81l-4 0M15 87l-4 1M52 79l2 -3M28 93l-3 -2M114 9l-2 1M66 109l0 -5M42 108l0 -4M78 98l2 -1M138 32l0 3M35 117l-2 -4M75 4l3 0M162 104l3 -2M91 109l-1 2M49 96l3 3M79 22l-2 1M155 61l1 -3M27 8l2 -3M6 86l-1 -3M64 116l-1 4M23 70l-4 0M79 39l2 -1M155 17l1 -4M15 24l2 -3M93 99l4 -3M111 80l-1 2M155 18l2 3M78 116l0 -3M136 60l-5 1M125 131l3 -1M67 131l2 0M158 96l3 -1M161 113l-3 -2M85 127l2 0M105 52l1 3M65 90l2 0M31 14l4 1M161 18l-1 -3M60 119l-2 -2M126 112l0 3M39 85l0 5M129 46l0 4M112 132l-4 1M17 84l-1 -3M101 2l0 -4M112 75l2 -4M107 62l4 1M151 131l3 -3M132 47l-2 -1M122 48l-4 -2M44 26l2 -3M35 87l0 -4M145 95l-3 -1M160 90l-2 3M79 47l2 -1M122 90l-3 2M79 90l0 2M57 71l-1 3M47 40l4 1M111 25l1 -3M46 38l3 0M107 48l2 -1M4 96l-2 3M66 28l-4 -1M11 5l3 -1M65 46l-4 0M8 131l3 2M63 48l-3 1M91 92l-1 -3M29 130l-4 0M111 81l-3 3M143 42l-4 -2M26 74l-1 3M149 109l1 3M110 111l1 2M64 72l3 -2M51 76l2 -4M52 34l-3 -2M41 1l-3 4M44 118l3 2M27 46l-1 -3M7 88l-4 1M126 57l3 4M14 8l-2 3M21 39l0 3M156 68l1 4M99 53l-2 -1M159 34l-3 -2M44 55l-4 2M79 23l-4 -2M51 96l-1 2M8 131l-1 3M128 1l0 -3M81 82l1 3M25 83l-2 4M125 65l1 -2M67 108l-3 1M62 105l-4 1M90 85l4 -1M111 83l-2 3M152 119l-1 2M87 44l-5 -1M88 128l-3 2M29 4l3 -1M45 32l-4 0M41 9l-1 2M8 62l5 1M36 19l-1 -2M63 12l-1 4M13 82l1 3M129 61l1 -5M17 5l1 3M45 62l0 2M33 27l-4 -1M52 11l3 0M120 32l4 -1M100 84l1 4M26 9l-2 -3M132 114l-2 -1M42 28l-3 -4M74 125l-5 1M95 131l3 -1M121 6l-3 -3M53 56l0 3M73 94l-2 2M72 95l3 1M125 78l-3 3M123 113l4 0M161 111l-1 4M109 38l1 2M161 63l-2 0M45 106l-2 1M108 67l2 0M121 132l2 4M44 28l2 -1M88 65l2 1M49 132l-2 3M143 9l1 -3M111 7l-3 -2M58 91l-1 3M111 57l-2 -1M13 78l-2 -3M6 53l1 -2M149 112l3 1M86 77l2 -2M92 43l0 5M135 42l3 1M146 32l-3 -1M25 106l3 -1M74 29l2 4M150 17l0 -3M129 81l-1 -4M128 78l0 4M93 33l-3 1M15 14l-5 -2M2 14l-1 -4M9 55l-1 3M118 37l-4 -2M59 89l3 0M104 58l0 4M78 62l-1 3M48 82l3 -4M28 34l-4 -2M99 89l3 -1M129 1l-4 -1M135 15l1 4M148 24l-3 1M87 125l1 4M1 89l2 0M74 95l3 0M10 24l2 -2M109 42l1 -4M124 51l-4 -2M132 113l3 -3M91 57l-2 -2M45 119l-2 -4M45 117l2 1M129 12l-1 -4M3 30l2 -3M162 118l3 0M40 15l-1 4M81 83l2 1M142 118l2 2M74 103l3 4M6 26l-1 -3M107 66l-1 2M9 65l-1 3M139 89l-1 3M91 122l-2 3M123 114l0 3M19 25l-1 4M44 12l-2 -2M91 106l0 5M101 83l1 5M127 104l1 -5M24 87l3 -2M122 99l3 -3M7 24l2 -3M2 124l4 -2M140 48l-1 -3M82 22l2 1M95 120l1 -2M70 105l-3 2M51 72l-3 0M37 18l-1 2M115 83l-2 3M138 21l-1 3M91 91l-1 -2M84 117l2 -4M104 124l-1 -3M25 10l0 -4M160 52l-2 4M126 22l2 -3M137 19l0 4M77 7l-1 -2M121 58l4 2M138 90l-2 -4M110 33l2 0M116 62l-3 1M142 78l0 3M88 35l0 -2M66 33l-3 -1M58 103l-3 1M164 101l4 2M8 38l1 2M46 18l-4 3M49 49l2 -1M44 108l0 -2M23 31l-2 1M118 83l3 -4M58 49l2 2M91 101l2 0M87 29l0 2M122 51l4 -1M45 33l2 1M99 71l-2 2M32 53l2 -2M96 27l3 1M5 39l-3 1M160 114l5 -2M13 76l-2 1M36 50l4 2M112 47l1 2M119 62l-4 1M109 87l0 3M151 98l3 -3M155 101l-1 -3M85 78l1 1M5 32l-3 -1M112 73l4 -3M111 71l-2 -2M81 13l4 2M80 16l-4 2M96 44l-4 1M126 99l3 -2M61 96l3 3M162 130l-1 -3M50 103l-4 1M59 88l-1 -2M134 19l1 4M100 38l-2 3M55 48l-5 1M51 26l-2 3M27 46l-3 1M13 21l2 3M73 101l0 5M18 5l1 3M136 78l2 1M122 54l0 -2M20 55l-2 -2M57 116l-1 3M156 8l1 -3M64 75l-4 -1M29 18l2 -2M111 132l2 -4M67 109l2 2M67 110l0 -2M52 104l-3 -1M114 117l4 2M31 92l-3 -3M103 54l4 -2M156 71l2 -2M101 74l-1 -4M82 128l1 2M33 67l-2 -3M140 6l-1 -2M113 129l-1 -2M161 118l2 2M96 69l3 0M41 129l-3 0M70 65l-1 -2M61 76l-4 1M17 90l-1 3M114 66l-3 -1M107 28l2 4M75 11l3 -1M118 54l-1 4M54 95l1 4M14 16l2 3M22 22l-4 0M88 72l5 -1M138 94l-1 2M105 90l-2 4M16 62l3 0M149 2l-1 3M143 86l1 2M147 108l1 -3M154 16l4 -1M22 60l-1 3M151 67l-2 3M41 61l3 -1M16 15l3 -2M9 126l-2 -1M18 113l-3 -1M143 72l4 0M55 63l0 3M138 43l3 1M61 21l-1 -4M92 39l-1 2M111 132l-1 -2M150 90l4 2M33 12l0 4M130 33l-3 0M5 51l-3 0M107 59l-1 5M8 76l-3 2M45 71l-3 3M15 131l-4 -1M30 17l0 -4M12 98l-1 2M76 101l1 -3M150 66l4 0M74 95l-4 0M112 4l0 -2M97 56l2 -2M25 77l-3 -2M132 124l-4 -1M38 130l4 3M28 25l-3 4M30 66l0 2M104 112l3 1M113 120l-3 3M101 63l2 1M125 56l-2 3M64 80l-4 -2M36 75l-1 2M38 26l1 -3M41 130l-5 0M94 126l2 3M61 75l-2 -1M17 59l1 -3M84 83l2 1M59 41l-2 -2M81 67l-1 -3M36 45l-1 -3M85 103l1 -5M39 41l-3 2M134 30l0 -3M134 49l1 -5M11 72l1 3M105 3l-2 3M5 38l0 4M96 117l-3 0M60 132l-1 -3M37 42l4 1M91 101l-4 -2M163 55l3 -2M100 100l-4 2M90 39l4 -1M116 74l-5 0M56 106l-2 -3M62 71l-4 2M48 118l2 2M65 5l2 0M121 41l4 3M15 78l3 -1M61 131l2 2M10 96l3 0M104 24l4 -1M154 24l1 4M110 72l5 0M124 64l-2 -4M40 128l3 -2M26 118l-3 2M62 8l-4 -2M4 26l2 -4M87 28l1 2M18 131l3 -1M63 79l4 1M45 87l2 1M102 69l0 -3M124 9l-2 2M92 6l-2 -1M155 17l-3 2M123 86l4 0M125 18l4 0M161 120l-2 -3M24 56l-1 2M23 5l0 5M113 68l3 -1M59 46l0 2M161 100l2 1M90 7l2 2M158 2l4 2M118 4l-3 -4M75 114l3 3M57 66l1 2M31 123l3 -1M128 78l2 1M95 17l-1 3M3 61l-2 3M159 49l-4 3M113 5l-4 0M50 67l-1 2M4 80l-3 2M115 129l-1 4M50 96l0 2M123 90l3 1M155 20l-1 -2M75 116l-2 2M6 21l0 3M6 109l-1 -2M65 65l4 -1M161 126l-2 -1M124 24l-1 3M122 59l-1 -3M91 128l0 -3M73 38l2 -2M118 52l4 1M52 57l-1 -4M19 8l-1 -4M40 108l0 -3M115 48l2 -4M74 111l4 -1M164 33l4 2M135 114l-1 -3M51 6l3 0M49 20l-4 1M129 112l-1 -4M6 68l-1 -4M85 109l-1 2M68 94l3 -1M106 31l1 3M38 64l-1 2M142 132l-2 -2M101 83l-2 3M63 85l-3 2M10 29l2 1M16 71l-1 -2M107 3l2 -5M152 120l4 2M30 102l-3 -2M126 36l-3 0M132 76l-3 2M110 18l-3 2M107 40l-1 2M100 59l2 -3M23 130l1 -2M123 23l3 4M158 40l1 4M154 81l2 -3M19 13l-2 3M43 33l-1 -2M121 117l-1 -4M111 1l-2 -3M56 17l4 -1M121 35l-3 3M127 95l3 3M81 36l-2 1M8 34l-3 0M149 116l-2 -2M118 111l-1 -1M132 38l0 -2M111 7l-2 3M16 65l1 -3M107 88l3 -2M63 15l3 1M100 102l-1 -2M93 112l-2 3M92 50l3 1M27 77l-1 -2M130 101l-2 3M15 73l4 -3M115 103l-2 4M22 64l2 -3M136 48l1 -4M50 100l3 0M135 53l-4 2M51 114l1 3M130 115l1 -2M122 3l3 0M110 61l2 1M83 37l0 -4M60 55l3 -2M87 57l-1 2M31 36l-2 1M101 84l-3 -1M62 77l-2 -2M27 112l-3 -1M137 47l2 3M121 107l-4 1M27 35l-1 -2M161 62l4 2M146 81l2 1M161 60l-1 -2M68 42l-1 -2M81 38l3 -4M58 127l1 4M108 116l4 2M37 18l3 -2M71 10l1 -2M103 94l-1 5M86 93l-1 -4M107 10l-5 0M45 19l-3 -3M124 8l1 -4M53 6l-3 3M0 17l-1 4M157 130l3 -2M105 61l4 -2M107 89l-4 2M141 17l-2 3M4 109l4 1M73 39l-2 4M29 33l-3 -2M104 86l3 3M121 109l2 3M20 42l-4 -1M112 74l-2 5M131 60l-4 1M124 66l1 4M37 61l1 -2M1 3l2 -1M46 118l-3 -1M66 115l2 -3M3 125l-3 -1M6 53l-3 0M108 39l0 2M112 68l0 -4M6 37l3 -1M150 68l3 0M25 46l-2 -4M72 127l-2 3M138 7l-4 3M162 2l-5 0M119 131l5 -1M25 116l0 -3M13 59l3 0M40 79l3 -1M148 47l3 -4M36 84l-5 0M121 20l4 -3M45 116l-4 3M129 89l2 -1M32 61l3 3M81 53l2 1M26 61l1 3M53 49l2 2M44 115l2 4M147 50l3 1M128 8l-2 -2M2 103l-2 0M92 112l-4 0M133 111l0 2M132 127l-3 -1M139 113l-2 3M70 101l0 5M61 75l-3 -1M149 117l-4 2M80 93l-1 -2M59 92l3 2M52 26l1 -2M132 104l-1 2M51 105l3 3M115 62l3 -1M118 64l2 0M109 37l2 0M134 131l3 1M95 0l0 4M163 96l0 4M68 99l2 2M129 96l-2 3M94 104l-3 -3M106 54l-1 3M158 19l3 0M127 59l2 -4M27 96l3 -2M88 90l-4 -1M79 24l-1 -4M34 132l4 2M32 82l-4 0M105 44l-2 2M27 59l0 -3M34 19l3 3M52 12l5 0M96 78l-2 0M64 52l0 4M112 93l-3 0M151 105l-2 -3M92 6l1 -3M5 30l-3 2M82 34l-4 0M24 20l3 1M109 1l-3 -2M147 8l-4 0M22 66l-4 2M21 101l-3 1M130 100l1 3M9 132l-1 2M156 78l-3 -4M142 111l-2 0M59 57l-1 4M114 22l-2 1M90 17l-1 -3M148 9l-4 3M116 86l1 3M162 14l2 3M2 89l-2 3M81 12l-2 -1M147 106l5 -1M65 56l-1 3M161 65l-3 -1M7 62l0 -3M28 20l-2 4M21 114l-1 4M15 68l1 4M38 41l-2 3M15 60l-3 -2M54 77l1 -3M136 119l3 1M56 74l4 1M93 109l-5 2M4 18l1 3M40 118l0 2M145 109l-5 2M80 6l4 2M138 66l4 3M98 93l-1 3M102 10l-3 0M67 52l2 4M97 57l-4 2M54 42l3 -2M63 2l1 -3M142 10l0 -3M129 43l5 1M93 31l3 -1M150 21l4 -2M17 120l3 -1M142 11l-3 -3M40 8l-3 2M17 32l3 -2M14 80l3 -2M117 42l3 2M103 104l-1 2M102 16l0 2M118 99l-4 -2M44 80l-3 1M12 131l1 -5M136 38l4 2M63 107l1 -2M27 4l3 -2M92 75l-1 3M148 98l-2 -2M55 55l3 0M111 24l3 1M101 34l-4 -1M29 68l-5 0M26 19l-2 -3M105 111l2 3M10 78l3 -4M112 49l-1 3M49 95l5 -2M161 59l-3 2M42 9l2 -2M78 110l-3 0M67 16l2 2M93 92l5 0M75 86l-1 2M146 70l0 4M145 118l-2 1M122 110l-4 1M139 69l-1 2M150 128l-3 -3M59 19l-4 0M118 109l3 -2M83 61l5 -1M5 77l-4 1M30 128l-4 0M8 50l-4 1M144 127l2 1M127 20l-2 2M104 122l2 1M6 50l-4 0M37 47l-3 -3M98 38l0 -4M116 106l3 -4M72 103l-4 -1M164 91l-3 -3M115 100l-2 3M19 105l3 1M39 51l-1 -2M31 96l-5 2M62 89l3 -2M40 69l0 3M138 23l1 -2M106 0l4 3M142 120l-3 -1M90 7l2 -3M148 44l-3 -2M155 73l-1 -3M63 103l2 2M119 55l4 3M61 108l-2 -3M102 122l-4 0M108 32l0 -4M117 63l-1 -3M139 97l-2 -4M127 71l2 -4M89 103l-2 2M146 63l0 -3M162 16l2 3M16 107l0 -5M155 121l-3 -2M124 82l3 2M18 98l5 0M3 103l-3 -2M89 96l0 2M83 87l2 1M15 111l-3 -1M149 41l1 -3M24 62l1 -4M103 17l-4 -2M112 86l-3 -1M50 80l-2 -1M164 11l-3 4M109 15l-1 -3M50 114l1 -3M13 116l-3 -4M99 24l4 -2M47 40l-3 -3M61 127l-3 2M104 92l1 4M54 20l-1 -3M57 80l3 1M107 0l-2 -4M152 88l5 -1M147 21l4 0M16 94l3 3M121 123l2 -2M16 60l-2 -1M116 67l-1 -2M149 114l4 0M58 50l-4 1M104 114l0 -4M59 115l2 4M33 58l0 4M53 52l-4 0M63 3l2 -1M153 56l3 0M115 128l-3 -2M5 11l1 2M25 109l-3 -3M54 3l4 -2M101 58l2 -1M5 28l-4 -1M151 77l-4 -1M76 48l1 -3M138 94l2 2M22 125l1 2M97 64l1 -3M114 93l1 -3M45 32l-2 -2M148 83l1 4M4 85l-1 2M89 15l-2 2M5 95l1 -3M129 57l-2 2M139 64l-3 0M2 102l4 -1M63 103l-2 -2M131 3l4 -2M8 38l2 -2M58 128l2 3M1 95l0 -3M51 118l3 -3M49 113l-2 -3M117 36l0 3M47 105l-3 1M6 6l4 2M36 95l-2 -4M149 89l2 -2M145 24l0 -4M100 68l-1 2M47 97l-2 -2M103 123l4 -2M11 3l1 3M69 60l-1 3M24 102l-1 3M138 107l-2 -1M122 9l2 3M2 67l-3 1M90 37l-4 0M64 35l3 0M47 112l2 -1M161 33l1 4M162 4l0 -4M78 9l4 2M135 98l2 3M38 105l-3 2M117 79l-2 -3M48 129l4 -1M86 34l-3 0M142 56l2 3M21 129l-5 0M77 79l2 -4M121 83l1 -2M34 51l0 -5M11 5l-1 2M71 60l-2 1M59 99l-2 -4M91 65l5 0M163 102l-3 1M9 12l4 -2M39 111l3 0M9 124l0 2M89 97l0 2M71 126l-2 -1M8 40l0 -3M46 35l-2 1M37 52l-4 1M162 18l-2 2M23 89l-3 1M35 34l1 3M63 41l1 -2M55 53l0 4M139 128l4 -2M70 68l2 -1M67 89l0 -2M74 104l0 3M7 101l2 2M19 66l2 1M121 81l-2 0M161 83l-3 1M71 98l-1 -2M121 12l-2 1M54 111l-2 2M16 33l1 3M40 13l2 -1M78 5l3 2M143 95l4 2M162 25l-2 0M123 125l2 -3M119 99l0 2M131 36l-2 0M4 103l0 -3M60 121l-2 -1M152 59l4 -1M121 129l2 -1M159 112l-3 0M85 10l-3 3M96 19l-4 3M132 8l2 4M70 14l3 -1M138 58l-4 3M104 66l-2 0M152 109l-1 2M90 118l1 4M24 78l-3 -2M131 40l-1 -4M66 55l0 -5M62 94l1 3M29 7l2 2M70 116l2 -2M155 47l-1 2M98 66l2 -1M68 115l4 1M45 95l-3 2M100 16l-1 -5M68 90l4 1M142 23l-2 0M18 28l2 1M116 59l3 -2M30 102l2 2M105 6l-4 1M77 79l4 0M91 67l3 2M99 16l4 1M159 70l1 -2M98 17l4 0M144 122l-3 -3M91 98l-3 4M72 32l3 0M104 107l4 3M122 50l-2 -2M109 65l2 4M130 68l4 -2M112 86l4 -2M144 112l2 3M11 114l2 -3M147 122l-3 1M136 121l-2 2M58 38l-2 -3M139 111l-3 0M16 21l1 -3M152 8l-3 -3M65 109l-4 0M103 73l2 0M65 98l1 3M96 102l2 1M154 88l4 -1M52 20l-2 4M6 37l2 2M71 76l-4 0M6 79l4 2M49 38l-3 -3M70 69l1 -2M8 85l-3 -1M50 46l-3 -3M8 20l-1 -4M121 16l-4 2M122 77l3 -3M95 14l0 -3M81 67l-2 0M141 5l-2 -2M83 96l-2 -1M138 54l3 -4M55 63l2 1M158 68l1 2M70 3l-2 -4M18 41l3 0M33 10l-5 -1M78 11l-3 1M153 59l3 -3M15 3l0 -3M128 59l2 1M143 126l3 0M19 128l-3 -2M100 95l-3 1M88 41l2 -3M102 58l0 -3M140 104l2 -4M66 50l3 1M32 14l1 -2M163 77l1 -3M43 39l-3 0M126 39l-3 -2M113 48l-4 3M65 76l3 -1M103 113l2 3M11 18l0 3M143 24l1 2M35 4l-1 4M78 63l-3 0M157 128l4 -2M135 10l2 -3M47 17l0 -4M137 79l-1 2M158 95l2 -2M157 36l-3 -3M69 47l-1 5M50 72l-2 1M84 127l2 -1M99 105l-1 -4M101 54l-3 -3M49 85l-1 4M47 18l-4 -2M121 29l1 -2M90 72l-1 1M125 74l2 -3M30 123l-2 2M84 105l1 -2M2 61l-4 1M45 31l1 4M138 78l-1 5M27 91l2 2M147 120l2 3M110 66l-2 1M38 1l-3 3M114 101l2 -2M131 111l-3 0M146 60l3 -1M163 37l3 2M85 15l-2 -1M55 26l2 -1M5 108l2 -2M21 122l-1 -5M84 17l-1 2M117 72l-4 -1M110 85l4 -2M156 70l2 1M67 13l-2 -1M112 35l2 -1M49 37l-3 -2M80 101l3 -3M118 12l2 -3M86 2l3 -2M134 113l2 -5M99 31l-2 -2M11 43l2 -5M86 108l3 -1M104 98l0 -3" stroke="#e2e7f8" stroke-width="1.1" stroke-opacity="0.6" fill="none"/><path d="M0 2h0M7 0h0M18 -1h0M28 -2h0M40 0h0M49 0h0M60 0h0M71 0h0M79 1h0M90 -1h0M95 0h0M107 2h0M116 -2h0M125 -1h0M136 -2h0M149 -1h0M169 1h0M1 10h0M10 11h0M23 12h0M43 8h0M50 7h0M60 8h0M71 7h0M83 7h0M87 8h0M98 8h0M111 9h0M119 7h0M131 11h0M150 9h0M159 10h0M2 18h0M19 20h0M31 17h0M37 20h0M48 16h0M58 19h0M70 15h0M78 20h0M87 16h0M100 17h0M109 17h0M118 21h0M127 17h0M136 20h0M150 19h0M170 19h0M1 29h0M14 27h0M24 26h0M32 25h0M50 25h0M61 29h0M74 28h0M81 27h0M91 24h0M103 24h0M109 25h0M121 25h0M139 25h0M149 28h0M157 28h0M1 33h0M9 32h0M20 34h0M49 37h0M59 36h0M66 34h0M80 32h0M90 33h0M105 33h0M129 33h0M134 36h0M156 36h0M7 45h0M12 43h0M41 41h0M72 42h0M82 43h0M95 42h0M105 46h0M112 45h0M131 41h0M140 43h0M153 46h0M159 46h0M-1 50h0M6 50h0M18 52h0M38 50h0M55 53h0M66 49h0M78 54h0M83 51h0M95 49h0M113 55h0M127 55h0M133 52h0M142 50h0M154 51h0M163 52h0M5 62h0M16 61h0M27 63h0M36 58h0M47 61h0M51 60h0M65 63h0M72 63h0M85 63h0M93 60h0M105 61h0M112 60h0M124 62h0M134 62h0M143 63h0M150 58h0M164 58h0M-3 69h0M18 71h0M30 68h0M39 69h0M47 68h0M59 71h0M65 68h0M75 71h0M89 67h0M96 69h0M107 68h0M119 70h0M127 71h0M138 70h0M147 68h0M157 67h0M164 68h0M3 78h0M15 76h0M27 77h0M43 80h0M57 80h0M63 79h0M77 78h0M85 79h0M95 76h0M104 75h0M115 79h0M124 79h0M134 75h0M140 79h0M154 78h0M164 75h0M2 86h0M17 85h0M28 86h0M41 85h0M49 86h0M57 89h0M66 86h0M87 88h0M95 87h0M109 85h0M118 86h0M128 84h0M157 89h0M165 88h0M3 95h0M11 92h0M22 97h0M32 94h0M45 95h0M51 95h0M72 94h0M80 93h0M92 97h0M110 94h0M122 96h0M132 94h0M139 95h0M161 94h0M18 101h0M25 106h0M38 104h0M45 102h0M55 101h0M68 101h0M86 106h0M94 104h0M103 106h0M114 106h0M122 101h0M136 101h0M154 101h0M163 104h0M6 111h0M13 111h0M36 113h0M45 113h0M54 112h0M66 112h0M84 110h0M91 114h0M103 110h0M113 114h0M121 112h0M135 111h0M142 109h0M150 110h0M163 109h0M-3 119h0M6 119h0M27 119h0M38 120h0M47 121h0M56 120h0M83 122h0M97 122h0M106 121h0M114 118h0M125 118h0M141 118h0M151 119h0M160 118h0M3 129h0M16 127h0M23 130h0M34 126h0M56 131h0M67 128h0M76 127h0M81 131h0M91 130h0M104 126h0M111 126h0M125 130h0M132 130h0M145 128h0M165 127h0" stroke="#93a5e3" stroke-width="4.6" stroke-linecap="round" stroke-opacity="0.9"/><path d="M0 2h0M7 0h0M18 -1h0M28 -2h0M40 0h0M49 0h0M60 0h0M71 0h0M79 1h0M90 -1h0M95 0h0M107 2h0M116 -2h0M125 -1h0M136 -2h0M149 -1h0M169 1h0M1 10h0M10 11h0M23 12h0M43 8h0M50 7h0M60 8h0M71 7h0M83 7h0M87 8h0M98 8h0M111 9h0M119 7h0M131 11h0M150 9h0M159 10h0M2 18h0M19 20h0M31 17h0M37 20h0M48 16h0M58 19h0M70 15h0M78 20h0M87 16h0M100 17h0M109 17h0M118 21h0M127 17h0M136 20h0M150 19h0M170 19h0M1 29h0M14 27h0M24 26h0M32 25h0M50 25h0M61 29h0M74 28h0M81 27h0M91 24h0M103 24h0M109 25h0M121 25h0M139 25h0M149 28h0M157 28h0M1 33h0M9 32h0M20 34h0M49 37h0M59 36h0M66 34h0M80 32h0M90 33h0M105 33h0M129 33h0M134 36h0M156 36h0M7 45h0M12 43h0M41 41h0M72 42h0M82 43h0M95 42h0M105 46h0M112 45h0M131 41h0M140 43h0M153 46h0M159 46h0M-1 50h0M6 50h0M18 52h0M38 50h0M55 53h0M66 49h0M78 54h0M83 51h0M95 49h0M113 55h0M127 55h0M133 52h0M142 50h0M154 51h0M163 52h0M5 62h0M16 61h0M27 63h0M36 58h0M47 61h0M51 60h0M65 63h0M72 63h0M85 63h0M93 60h0M105 61h0M112 60h0M124 62h0M134 62h0M143 63h0M150 58h0M164 58h0M-3 69h0M18 71h0M30 68h0M39 69h0M47 68h0M59 71h0M65 68h0M75 71h0M89 67h0M96 69h0M107 68h0M119 70h0M127 71h0M138 70h0M147 68h0M157 67h0M164 68h0M3 78h0M15 76h0M27 77h0M43 80h0M57 80h0M63 79h0M77 78h0M85 79h0M95 76h0M104 75h0M115 79h0M124 79h0M134 75h0M140 79h0M154 78h0M164 75h0M2 86h0M17 85h0M28 86h0M41 85h0M49 86h0M57 89h0M66 86h0M87 88h0M95 87h0M109 85h0M118 86h0M128 84h0M157 89h0M165 88h0M3 95h0M11 92h0M22 97h0M32 94h0M45 95h0M51 95h0M72 94h0M80 93h0M92 97h0M110 94h0M122 96h0M132 94h0M139 95h0M161 94h0M18 101h0M25 106h0M38 104h0M45 102h0M55 101h0M68 101h0M86 106h0M94 104h0M103 106h0M114 106h0M122 101h0M136 101h0M154 101h0M163 104h0M6 111h0M13 111h0M36 113h0M45 113h0M54 112h0M66 112h0M84 110h0M91 114h0M103 110h0M113 114h0M121 112h0M135 111h0M142 109h0M150 110h0M163 109h0M-3 119h0M6 119h0M27 119h0M38 120h0M47 121h0M56 120h0M83 122h0M97 122h0M106 121h0M114 118h0M125 118h0M141 118h0M151 119h0M160 118h0M3 129h0M16 127h0M23 130h0M34 126h0M56 131h0M67 128h0M76 127h0M81 131h0M91 130h0M104 126h0M111 126h0M125 130h0M132 130h0M145 128h0M165 127h0" stroke="#a6b4e8" stroke-width="2.0" stroke-linecap="round" stroke-opacity="0.7"/><path d="M17 -2h0M41 1h0M71 -2h0M79 1h0M91 -2h0M108 1h0M124 1h0M136 -1h0M149 -2h0M0 10h0M24 11h0M84 8h0M97 9h0M130 11h0M149 9h0M159 10h0M39 21h0M57 18h0M70 16h0M86 17h0M101 17h0M110 18h0M127 16h0M170 19h0M14 28h0M24 26h0M31 25h0M50 25h0M60 29h0M82 26h0M102 23h0M109 26h0M138 24h0M2 35h0M21 33h0M79 31h0M105 34h0M134 36h0M6 46h0M70 41h0M81 43h0M96 43h0M104 45h0M154 45h0M159 45h0M-2 51h0M5 50h0M19 51h0M66 50h0M83 51h0M114 53h0M133 54h0M141 51h0M164 53h0M6 63h0M15 61h0M37 60h0M66 64h0M72 64h0M85 64h0M104 63h0M135 63h0M142 63h0M149 58h0M164 57h0M-4 68h0M64 69h0M90 66h0M105 67h0M128 70h0M145 67h0M157 68h0M164 69h0M44 80h0M58 80h0M63 79h0M76 78h0M95 76h0M140 78h0M41 85h0M50 86h0M56 90h0M67 88h0M94 87h0M119 85h0M158 88h0M5 95h0M44 93h0M92 97h0M122 96h0M161 95h0M19 102h0M25 107h0M37 104h0M54 101h0M153 102h0M161 102h0M37 113h0M44 112h0M112 114h0M135 110h0M142 109h0M164 110h0M4 118h0M83 122h0M115 118h0M141 116h0M2 130h0M15 128h0M33 128h0M56 131h0M67 127h0M76 128h0M105 125h0M111 125h0M132 131h0M146 128h0M165 125h0" stroke="#93a5e3" stroke-width="3.0" stroke-linecap="round" stroke-opacity="0.5"/><path d="M61 64h0M93 126h0M150 86h0M119 95h0M41 20h0M73 76h0M3 8h0M6 86h0M17 73h0M106 83h0M45 90h0M133 98h0M95 32h0M98 70h0M33 112h0M135 97h0M70 132h0M82 19h0M138 69h0M115 58h0M58 114h0M162 56h0M106 108h0M105 64h0M108 53h0M149 106h0M126 85h0M68 36h0M28 64h0M73 79h0M32 65h0M46 87h0M110 44h0M46 5h0M100 97h0M38 97h0" stroke="#3a52c6" stroke-width="1.5" stroke-linecap="round" stroke-opacity="0.8"/><path d="M82 127h0M40 114h0M118 41h0M135 100h0M19 81h0M82 24h0M62 76h0M16 6h0M149 63h0M125 118h0M55 120h0M112 112h0M36 45h0M52 116h0M29 37h0M128 82h0M137 3h0M154 34h0M57 14h0M58 10h0M48 126h0M88 98h0M2 93h0M163 2h0M71 47h0M46 27h0M31 71h0M78 70h0M135 28h0M134 42h0M154 44h0M53 101h0M140 107h0M129 34h0M30 86h0M32 19h0M155 54h0M80 20h0M40 87h0M34 126h0M129 82h0M149 104h0M27 110h0M37 65h0M61 3h0M126 71h0M121 105h0M17 96h0M56 112h0M76 53h0M108 7h0M150 111h0M87 4h0M121 63h0M80 98h0M116 66h0" stroke="#3a52c6" stroke-width="2.0" stroke-linecap="round" stroke-opacity="0.8"/><path d="M12 110h0M146 84h0M107 108h0M129 15h0M10 106h0M161 104h0M161 82h0M163 43h0M24 66h0M1 11h0M50 76h0M145 112h0M20 39h0M54 100h0M25 30h0M30 10h0" stroke="#3a52c6" stroke-width="2.5" stroke-linecap="round" stroke-opacity="0.8"/><path d="M26 72l-3 0M38 85l3 -2M58 74l-2 1M55 33l-2 1M128 55l-2 -2M87 57l1 2M36 45l3 2M76 73l-3 0M54 48l2 3M114 33l-2 -1M46 90l-3 0M111 116l-1 3M74 93l0 -3M20 99l-2 2M112 115l-1 3M47 116l1 -4M28 72l-1 1M96 61l2 1M102 88l-2 1M73 88l2 -1M76 35l1 2M105 38l-3 2M74 116l-2 0M78 69l-4 1M110 69l-1 2M32 84l1 1M69 43l2 0M115 101l3 3M56 88l-1 -2M24 113l0 -4M28 66l3 1M54 64l0 2M27 63l-2 1M80 105l-2 -1M98 97l3 -1M31 86l-2 2M53 115l-2 -1M78 82l0 3M43 54l2 1M59 77l-1 1M57 68l-1 -1M95 84l-4 0M35 107l-1 -2M92 98l2 0M119 49l1 3M22 79l4 0M52 74l1 -2M50 42l3 -1M95 100l-3 -1M119 84l1 2M20 40l3 1M116 100l2 1M118 96l3 -1M56 98l1 2M59 32l1 -2M20 103l-1 -3M101 91l-2 -1M121 61l0 3M43 91l-1 -3M58 86l-2 1M81 115l-1 -3M55 66l-1 1M59 44l-2 -2M92 90l2 -2M47 113l2 1M60 49l-2 1M81 120l0 4M71 100l0 2M56 120l2 -1M38 97l0 4M70 112l3 -2M56 120l2 0M34 70l2 2M117 43l-1 1M45 95l-2 0M28 113l0 4M112 113l3 0M64 80l-2 2M97 96l1 1M89 55l4 0M49 36l2 3M81 84l3 -2M89 55l2 1M116 54l-2 -1M114 120l-3 -3M52 86l-2 -1M64 96l-1 3M24 81l-1 -3M68 58l1 -2M64 63l0 -2M105 33l0 2M27 99l-2 2M97 94l-2 -3M66 46l3 2M36 87l1 3M73 57l-3 1M109 60l-2 2M56 77l-1 1M108 106l3 0M56 54l0 3M52 87l2 2M33 83l4 0M128 74l2 -1M28 55l0 3M123 68l1 -3M87 115l2 -1M78 87l1 -2M20 121l-2 3M70 117l-1 4M63 102l1 -3" stroke="#b08458" stroke-width="1" stroke-opacity="0.6" fill="none"/><path d="M63 74h0M115 62h0M108 63h0M52 73h0M60 52h0M92 73h0M78 74h0M62 97h0M38 115h0M45 83h0M53 75h0" stroke="#7a4e22" stroke-width="1.5" stroke-linecap="round" stroke-opacity="0.8"/><path d="M67 97h0M80 79h0M51 87h0M63 102h0M113 108h0M120 102h0M89 81h0M38 53h0M77 78h0M57 77h0M74 56h0M83 66h0M76 58h0M82 61h0M69 114h0M119 100h0M85 56h0M116 97h0" stroke="#7a4e22" stroke-width="2.0" stroke-linecap="round" stroke-opacity="0.8"/><path d="M118 59h0M62 65h0M61 62h0M49 81h0M120 115h0M65 93h0" stroke="#7a4e22" stroke-width="2.5" stroke-linecap="round" stroke-opacity="0.8"/></g></g></g></svg>
<svg width="685" height="848" viewBox="0 0 685 848" style="position:absolute;left:0;top:0" font-family='"Liberation Sans", sans-serif'>
<text x="0.3" y="12.6" font-size="16.5" text-anchor="start" fill="#111" >A</text>
<text x="356.4" y="13" font-size="16.5" text-anchor="start" fill="#111" >B</text>
<text x="0.2" y="261" font-size="16.5" text-anchor="start" fill="#111" >C</text>
<text x="355.6" y="259.4" font-size="16.5" text-anchor="start" fill="#111" >D</text>
<text x="0.2" y="516" font-size="16.5" text-anchor="start" fill="#111" >E</text>
<line x1="65.4" y1="169.08" x2="70" y2="169.08" stroke="#111" stroke-width="1.5"/>
<text x="58.5" y="171.60" font-size="12.6" text-anchor="end" fill="#1a1a1a" >50</text>
<line x1="65.4" y1="126.85" x2="70" y2="126.85" stroke="#111" stroke-width="1.5"/>
<text x="58.5" y="130.40" font-size="12.6" text-anchor="end" fill="#1a1a1a" >100</text>
<line x1="65.4" y1="84.62" x2="70" y2="84.62" stroke="#111" stroke-width="1.5"/>
<text x="58.5" y="87.40" font-size="12.6" text-anchor="end" fill="#1a1a1a" >150</text>
<line x1="65.4" y1="42.40" x2="70" y2="42.40" stroke="#111" stroke-width="1.5"/>
<text x="58.5" y="46.90" font-size="12.6" text-anchor="end" fill="#1a1a1a" >200</text>
<line x1="126" y1="211.3" x2="126" y2="215.9" stroke="#111" stroke-width="1.5"/>
<text x="128.5" y="230.8" font-size="12.6" text-anchor="middle" fill="#1a1a1a" >CON</text>
<line x1="237.5" y1="211.3" x2="237.5" y2="215.9" stroke="#111" stroke-width="1.5"/>
<text x="235" y="232.4" font-size="12.6" text-anchor="middle" fill="#1a1a1a" >LPS</text>
<text x="0" y="0" font-size="13" text-anchor="middle" fill="#1a1a1a" transform="translate(18,115.35) rotate(-90)" xml:space="preserve">ALT  (U/L)</text>
<rect x="85.70" y="176.20" width="20" height="35.10" fill="none" stroke="#333333" stroke-width="2.1"/>
<rect x="116.00" y="166.00" width="20" height="45.30" fill="none" stroke="#0000ff" stroke-width="2.1"/>
<rect x="146.70" y="165.00" width="20" height="46.30" fill="none" stroke="#ff4040" stroke-width="2.1"/>
<rect x="197.20" y="158.70" width="20" height="52.60" fill="none" stroke="#333333" stroke-width="2.1"/>
<rect x="228.00" y="121.20" width="20" height="90.10" fill="none" stroke="#0000ff" stroke-width="2.1"/>
<rect x="258.20" y="82.00" width="20" height="129.30" fill="none" stroke="#ff4040" stroke-width="2.1"/>
<circle cx="85.0" cy="175.0" r="2.4" fill="#333333"/>
<circle cx="90.0" cy="176.5" r="2.4" fill="#333333"/>
<circle cx="94.5" cy="176.0" r="2.4" fill="#333333"/>
<circle cx="102.0" cy="169.4" r="2.4" fill="#333333"/>
<circle cx="99.0" cy="176.5" r="2.4" fill="#333333"/>
<circle cx="95.6" cy="183.6" r="2.4" fill="#333333"/>
<circle cx="104.0" cy="176.0" r="2.4" fill="#333333"/>
<rect x="116.6" y="155.6" width="4.8" height="4.8" fill="#0000ff"/>
<rect x="127.2" y="155.6" width="4.8" height="4.8" fill="#0000ff"/>
<rect x="120.2" y="173.0" width="4.8" height="4.8" fill="#0000ff"/>
<rect x="127.2" y="169.0" width="4.8" height="4.8" fill="#0000ff"/>
<rect x="122.6" y="163.2" width="4.8" height="4.8" fill="#0000ff"/>
<rect x="125.6" y="164.2" width="4.8" height="4.8" fill="#0000ff"/>
<path d="M153.9,150.6h5l-2.5,4.8z" fill="#ff4040"/>
<path d="M150.9,155.1h5l-2.5,4.8z" fill="#ff4040"/>
<path d="M147.5,165.6h5l-2.5,4.8z" fill="#ff4040"/>
<path d="M160.5,168.6h5l-2.5,4.8z" fill="#ff4040"/>
<path d="M153.9,170.6h5l-2.5,4.8z" fill="#ff4040"/>
<path d="M151.5,160.6h5l-2.5,4.8z" fill="#ff4040"/>
<circle cx="203.8" cy="145.5" r="2.4" fill="#333333"/>
<circle cx="210.4" cy="146.7" r="2.4" fill="#333333"/>
<circle cx="207.0" cy="168.3" r="2.4" fill="#333333"/>
<circle cx="207.0" cy="177.3" r="2.4" fill="#333333"/>
<circle cx="204.0" cy="155.0" r="2.4" fill="#333333"/>
<circle cx="210.0" cy="155.5" r="2.4" fill="#333333"/>
<rect x="228.5" y="103.2" width="4.8" height="4.8" fill="#0000ff"/>
<rect x="242.0" y="109.6" width="4.8" height="4.8" fill="#0000ff"/>
<rect x="235.1" y="110.6" width="4.8" height="4.8" fill="#0000ff"/>
<rect x="231.6" y="125.7" width="4.8" height="4.8" fill="#0000ff"/>
<rect x="238.4" y="126.8" width="4.8" height="4.8" fill="#0000ff"/>
<rect x="235.1" y="135.9" width="4.8" height="4.8" fill="#0000ff"/>
<path d="M265.4,50.8h5l-2.5,4.8z" fill="#ff4040"/>
<path d="M269.0,62.3h5l-2.5,4.8z" fill="#ff4040"/>
<path d="M262.1,69.2h5l-2.5,4.8z" fill="#ff4040"/>
<path d="M265.4,86.6h5l-2.5,4.8z" fill="#ff4040"/>
<path d="M269.0,100.8h5l-2.5,4.8z" fill="#ff4040"/>
<path d="M262.1,105.5h5l-2.5,4.8z" fill="#ff4040"/>
<line x1="95.7" y1="173.5" x2="95.7" y2="177.5" stroke="#333333" stroke-width="2"/>
<line x1="90.7" y1="173.5" x2="100.7" y2="173.5" stroke="#333333" stroke-width="2.1"/>
<line x1="90.7" y1="177.5" x2="100.7" y2="177.5" stroke="#333333" stroke-width="2.1"/>
<line x1="126" y1="162" x2="126" y2="168" stroke="#0000ff" stroke-width="2"/>
<line x1="121" y1="162" x2="131" y2="162" stroke="#0000ff" stroke-width="2.1"/>
<line x1="121" y1="168" x2="131" y2="168" stroke="#0000ff" stroke-width="2.1"/>
<line x1="156.7" y1="161" x2="156.7" y2="167" stroke="#ff4040" stroke-width="2"/>
<line x1="151.7" y1="161" x2="161.7" y2="161" stroke="#ff4040" stroke-width="2.1"/>
<line x1="151.7" y1="167" x2="161.7" y2="167" stroke="#ff4040" stroke-width="2.1"/>
<line x1="207.2" y1="153.3" x2="207.2" y2="163.3" stroke="#333333" stroke-width="2"/>
<line x1="202.2" y1="153.3" x2="212.2" y2="153.3" stroke="#333333" stroke-width="2.1"/>
<line x1="202.2" y1="163.3" x2="212.2" y2="163.3" stroke="#333333" stroke-width="2.1"/>
<line x1="238" y1="116" x2="238" y2="127.5" stroke="#0000ff" stroke-width="2"/>
<line x1="233" y1="116" x2="243" y2="116" stroke="#0000ff" stroke-width="2.1"/>
<line x1="233" y1="127.5" x2="243" y2="127.5" stroke="#0000ff" stroke-width="2.1"/>
<line x1="268.2" y1="73.6" x2="268.2" y2="91.4" stroke="#ff4040" stroke-width="2"/>
<line x1="263.2" y1="73.6" x2="273.2" y2="73.6" stroke="#ff4040" stroke-width="2.1"/>
<line x1="263.2" y1="91.4" x2="273.2" y2="91.4" stroke="#ff4040" stroke-width="2.1"/>
<line x1="198.2" y1="41.7" x2="274.7" y2="41.7" stroke="#000" stroke-width="2.6"/>
<path d="M228.30,28.65L229.01,30.33L230.82,30.48L229.44,31.67L229.86,33.44L228.30,32.50L226.74,33.44L227.16,31.67L225.78,30.48L227.59,30.33Z" fill="#1a1a1a"/>
<path d="M233.60,28.65L234.31,30.33L236.12,30.48L234.74,31.67L235.16,33.44L233.60,32.50L232.04,33.44L232.46,31.67L231.08,30.48L232.89,30.33Z" fill="#1a1a1a"/>
<path d="M238.90,28.65L239.61,30.33L241.42,30.48L240.04,31.67L240.46,33.44L238.90,32.50L237.34,33.44L237.76,31.67L236.38,30.48L238.19,30.33Z" fill="#1a1a1a"/>
<line x1="198.3" y1="94.1" x2="238.8" y2="94.1" stroke="#000" stroke-width="2.6"/>
<path d="M212.30,81.75L213.01,83.43L214.82,83.58L213.44,84.77L213.86,86.54L212.30,85.60L210.74,86.54L211.16,84.77L209.78,83.58L211.59,83.43Z" fill="#1a1a1a"/>
<path d="M217.80,81.75L218.51,83.43L220.32,83.58L218.94,84.77L219.36,86.54L217.80,85.60L216.24,86.54L216.66,84.77L215.28,83.58L217.09,83.43Z" fill="#1a1a1a"/>
<path d="M223.20,81.75L223.91,83.43L225.72,83.58L224.34,84.77L224.76,86.54L223.20,85.60L221.64,86.54L222.06,84.77L220.68,83.58L222.49,83.43Z" fill="#1a1a1a"/>
<line x1="70" y1="41.7" x2="70" y2="212.20000000000002" stroke="#111" stroke-width="1.6"/>
<line x1="65.8" y1="211.3" x2="294" y2="211.3" stroke="#111" stroke-width="1.9"/>
<circle cx="88.2" cy="47" r="5" fill="#000"/>
<rect x="83.3" y="61.6" width="9.8" height="9.6" fill="#3a2ee0"/>
<path d="M82.4,81h11.6l-5.8,10.9z" fill="#ff0000"/>
<text x="99.8" y="51.9" font-size="12.6" text-anchor="start" fill="#1a1a1a" >Mock</text>
<text x="99.8" y="71.2" font-size="12.8" text-anchor="start" fill="#1a1a1a" >FLU (10 mg/kg)</text>
<text x="100.2" y="92.6" font-size="12.8" text-anchor="start" fill="#1a1a1a" >FLU (20 mg/kg)</text>
<line x1="421.9" y1="154.43" x2="426.5" y2="154.43" stroke="#111" stroke-width="1.5"/>
<text x="419.2" y="160.30" font-size="12.6" text-anchor="end" fill="#1a1a1a" >50</text>
<line x1="421.9" y1="97.25" x2="426.5" y2="97.25" stroke="#111" stroke-width="1.5"/>
<text x="419.2" y="101.70" font-size="12.6" text-anchor="end" fill="#1a1a1a" >100</text>
<line x1="421.9" y1="40.07" x2="426.5" y2="40.07" stroke="#111" stroke-width="1.5"/>
<text x="419.2" y="44.40" font-size="12.6" text-anchor="end" fill="#1a1a1a" >150</text>
<line x1="482.5" y1="211.6" x2="482.5" y2="216.2" stroke="#111" stroke-width="1.5"/>
<text x="483.5" y="230.5" font-size="12.6" text-anchor="middle" fill="#1a1a1a" >CON</text>
<line x1="594.2" y1="211.6" x2="594.2" y2="216.2" stroke="#111" stroke-width="1.5"/>
<text x="597.2" y="230.5" font-size="12.6" text-anchor="middle" fill="#1a1a1a" >LPS</text>
<text x="0" y="0" font-size="13" text-anchor="middle" fill="#1a1a1a" transform="translate(382.1,112.9) rotate(-90)" xml:space="preserve">AST  (U/L)</text>
<rect x="442.20" y="189.50" width="20" height="22.10" fill="none" stroke="#333333" stroke-width="2.1"/>
<rect x="472.50" y="187.30" width="20" height="24.30" fill="none" stroke="#0000ff" stroke-width="2.1"/>
<rect x="503.20" y="184.40" width="20" height="27.20" fill="none" stroke="#ff4040" stroke-width="2.1"/>
<rect x="553.70" y="186.10" width="20" height="25.50" fill="none" stroke="#333333" stroke-width="2.1"/>
<rect x="584.50" y="154.70" width="20" height="56.90" fill="none" stroke="#0000ff" stroke-width="2.1"/>
<rect x="614.70" y="93.40" width="20" height="118.20" fill="none" stroke="#ff4040" stroke-width="2.1"/>
<circle cx="452.1" cy="181.9" r="2.4" fill="#333333"/>
<circle cx="444.9" cy="187.0" r="2.4" fill="#333333"/>
<circle cx="449.0" cy="189.0" r="2.4" fill="#333333"/>
<circle cx="455.0" cy="190.0" r="2.4" fill="#333333"/>
<circle cx="460.0" cy="188.5" r="2.4" fill="#333333"/>
<circle cx="452.0" cy="191.0" r="2.4" fill="#333333"/>
<rect x="469.8" y="181.7" width="4.8" height="4.8" fill="#0000ff"/>
<rect x="486.9" y="178.3" width="4.8" height="4.8" fill="#0000ff"/>
<rect x="479.6" y="191.9" width="4.8" height="4.8" fill="#0000ff"/>
<rect x="475.6" y="184.6" width="4.8" height="4.8" fill="#0000ff"/>
<rect x="482.6" y="184.1" width="4.8" height="4.8" fill="#0000ff"/>
<rect x="488.6" y="185.6" width="4.8" height="4.8" fill="#0000ff"/>
<path d="M503.0,175.8h5l-2.5,4.8z" fill="#ff4040"/>
<path d="M517.9,175.8h5l-2.5,4.8z" fill="#ff4040"/>
<path d="M507.0,190.0h5l-2.5,4.8z" fill="#ff4040"/>
<path d="M509.5,179.6h5l-2.5,4.8z" fill="#ff4040"/>
<path d="M513.5,180.6h5l-2.5,4.8z" fill="#ff4040"/>
<path d="M511.5,183.6h5l-2.5,4.8z" fill="#ff4040"/>
<circle cx="563.6" cy="178.0" r="2.4" fill="#333333"/>
<circle cx="570.3" cy="180.4" r="2.4" fill="#333333"/>
<circle cx="556.6" cy="185.6" r="2.4" fill="#333333"/>
<circle cx="562.0" cy="186.0" r="2.4" fill="#333333"/>
<circle cx="566.6" cy="188.7" r="2.4" fill="#333333"/>
<circle cx="560.3" cy="195.9" r="2.4" fill="#333333"/>
<rect x="588.3" y="136.4" width="4.8" height="4.8" fill="#0000ff"/>
<rect x="595.1" y="139.9" width="4.8" height="4.8" fill="#0000ff"/>
<rect x="584.4" y="156.9" width="4.8" height="4.8" fill="#0000ff"/>
<rect x="600.6" y="153.9" width="4.8" height="4.8" fill="#0000ff"/>
<rect x="594.0" y="159.1" width="4.8" height="4.8" fill="#0000ff"/>
<rect x="589.2" y="163.1" width="4.8" height="4.8" fill="#0000ff"/>
<path d="M622.0,74.4h5l-2.5,4.8z" fill="#ff4040"/>
<path d="M628.8,83.8h5l-2.5,4.8z" fill="#ff4040"/>
<path d="M615.2,93.0h5l-2.5,4.8z" fill="#ff4040"/>
<path d="M625.5,97.4h5l-2.5,4.8z" fill="#ff4040"/>
<path d="M618.7,103.3h5l-2.5,4.8z" fill="#ff4040"/>
<path d="M622.0,93.6h5l-2.5,4.8z" fill="#ff4040"/>
<line x1="452.2" y1="186.5" x2="452.2" y2="190.5" stroke="#333333" stroke-width="2"/>
<line x1="447.2" y1="186.5" x2="457.2" y2="186.5" stroke="#333333" stroke-width="2.1"/>
<line x1="447.2" y1="190.5" x2="457.2" y2="190.5" stroke="#333333" stroke-width="2.1"/>
<line x1="482.5" y1="183.5" x2="482.5" y2="188.5" stroke="#0000ff" stroke-width="2"/>
<line x1="477.5" y1="183.5" x2="487.5" y2="183.5" stroke="#0000ff" stroke-width="2.1"/>
<line x1="477.5" y1="188.5" x2="487.5" y2="188.5" stroke="#0000ff" stroke-width="2.1"/>
<line x1="513.2" y1="180.5" x2="513.2" y2="186" stroke="#ff4040" stroke-width="2"/>
<line x1="508.20000000000005" y1="180.5" x2="518.2" y2="180.5" stroke="#ff4040" stroke-width="2.1"/>
<line x1="508.20000000000005" y1="186" x2="518.2" y2="186" stroke="#ff4040" stroke-width="2.1"/>
<line x1="563.7" y1="183" x2="563.7" y2="187" stroke="#333333" stroke-width="2"/>
<line x1="558.7" y1="183" x2="568.7" y2="183" stroke="#333333" stroke-width="2.1"/>
<line x1="558.7" y1="187" x2="568.7" y2="187" stroke="#333333" stroke-width="2.1"/>
<line x1="594.5" y1="149.7" x2="594.5" y2="156.3" stroke="#0000ff" stroke-width="2"/>
<line x1="589.5" y1="149.7" x2="599.5" y2="149.7" stroke="#0000ff" stroke-width="2.1"/>
<line x1="589.5" y1="156.3" x2="599.5" y2="156.3" stroke="#0000ff" stroke-width="2.1"/>
<line x1="624.7" y1="89.1" x2="624.7" y2="97.4" stroke="#ff4040" stroke-width="2"/>
<line x1="619.7" y1="89.1" x2="629.7" y2="89.1" stroke="#ff4040" stroke-width="2.1"/>
<line x1="619.7" y1="97.4" x2="629.7" y2="97.4" stroke="#ff4040" stroke-width="2.1"/>
<line x1="556" y1="63.5" x2="631.5" y2="63.5" stroke="#000" stroke-width="2.6"/>
<path d="M586.70,50.25L587.41,51.93L589.22,52.08L587.84,53.27L588.26,55.04L586.70,54.10L585.14,55.04L585.56,53.27L584.18,52.08L585.99,51.93Z" fill="#1a1a1a"/>
<path d="M592.10,50.25L592.81,51.93L594.62,52.08L593.24,53.27L593.66,55.04L592.10,54.10L590.54,55.04L590.96,53.27L589.58,52.08L591.39,51.93Z" fill="#1a1a1a"/>
<path d="M597.70,50.25L598.41,51.93L600.22,52.08L598.84,53.27L599.26,55.04L597.70,54.10L596.14,55.04L596.56,53.27L595.18,52.08L596.99,51.93Z" fill="#1a1a1a"/>
<line x1="556.4" y1="125.3" x2="594.6" y2="125.3" stroke="#000" stroke-width="2.6"/>
<path d="M569.90,113.15L570.61,114.83L572.42,114.98L571.04,116.17L571.46,117.94L569.90,117.00L568.34,117.94L568.76,116.17L567.38,114.98L569.19,114.83Z" fill="#1a1a1a"/>
<path d="M575.20,113.15L575.91,114.83L577.72,114.98L576.34,116.17L576.76,117.94L575.20,117.00L573.64,117.94L574.06,116.17L572.68,114.98L574.49,114.83Z" fill="#1a1a1a"/>
<path d="M580.50,113.15L581.21,114.83L583.02,114.98L581.64,116.17L582.06,117.94L580.50,117.00L578.94,117.94L579.36,116.17L577.98,114.98L579.79,114.83Z" fill="#1a1a1a"/>
<line x1="426.5" y1="39.374999999999986" x2="426.5" y2="212.5" stroke="#111" stroke-width="1.6"/>
<line x1="422.3" y1="211.6" x2="650.8" y2="211.6" stroke="#111" stroke-width="1.9"/>
<circle cx="443.6" cy="46.4" r="5" fill="#000"/>
<rect x="438.70000000000005" y="61.0" width="9.8" height="9.6" fill="#3a2ee0"/>
<path d="M437.8,80.4h11.6l-5.8,10.9z" fill="#ff0000"/>
<text x="460.2" y="51.3" font-size="12.6" text-anchor="start" fill="#1a1a1a" >Mock</text>
<text x="460.2" y="70.6" font-size="12.8" text-anchor="start" fill="#1a1a1a" >FLU (10 mg/kg)</text>
<text x="460.59999999999997" y="92.0" font-size="12.8" text-anchor="start" fill="#1a1a1a" >FLU (20 mg/kg)</text>
<line x1="65.4" y1="432.59" x2="70" y2="432.59" stroke="#111" stroke-width="1.5"/>
<text x="59.3" y="436.90" font-size="12.6" text-anchor="end" fill="#1a1a1a" >100</text>
<line x1="65.4" y1="398.18" x2="70" y2="398.18" stroke="#111" stroke-width="1.5"/>
<text x="59.3" y="402.60" font-size="12.6" text-anchor="end" fill="#1a1a1a" >200</text>
<line x1="65.4" y1="363.77" x2="70" y2="363.77" stroke="#111" stroke-width="1.5"/>
<text x="59.3" y="367.80" font-size="12.6" text-anchor="end" fill="#1a1a1a" >300</text>
<line x1="65.4" y1="329.36" x2="70" y2="329.36" stroke="#111" stroke-width="1.5"/>
<text x="59.3" y="333.80" font-size="12.6" text-anchor="end" fill="#1a1a1a" >400</text>
<line x1="65.4" y1="294.95" x2="70" y2="294.95" stroke="#111" stroke-width="1.5"/>
<text x="59.3" y="299.60" font-size="12.6" text-anchor="end" fill="#1a1a1a" >500</text>
<line x1="126" y1="467" x2="126" y2="471.6" stroke="#111" stroke-width="1.5"/>
<text x="129.5" y="488.3" font-size="12.6" text-anchor="middle" fill="#1a1a1a" >CON</text>
<line x1="238" y1="467" x2="238" y2="471.6" stroke="#111" stroke-width="1.5"/>
<text x="238.6" y="489.4" font-size="12.6" text-anchor="middle" fill="#1a1a1a" >LPS</text>
<text x="0" y="0" font-size="13" text-anchor="middle" fill="#1a1a1a" transform="translate(18.9,363.4) rotate(-90)" xml:space="preserve">IL-1β ( pg/mL )</text>
<rect x="85.70" y="458.20" width="20" height="8.80" fill="none" stroke="#333333" stroke-width="2.1"/>
<rect x="116.00" y="457.00" width="20" height="10.00" fill="none" stroke="#0000ff" stroke-width="2.1"/>
<rect x="146.70" y="456.30" width="20" height="10.70" fill="none" stroke="#ff4040" stroke-width="2.1"/>
<rect x="197.20" y="429.30" width="20" height="37.70" fill="none" stroke="#333333" stroke-width="2.1"/>
<rect x="228.00" y="406.70" width="20" height="60.30" fill="none" stroke="#0000ff" stroke-width="2.1"/>
<rect x="258.20" y="368.70" width="20" height="98.30" fill="none" stroke="#ff4040" stroke-width="2.1"/>
<circle cx="88.5" cy="457.0" r="2.4" fill="#333333"/>
<circle cx="92.0" cy="457.5" r="2.4" fill="#333333"/>
<circle cx="96.0" cy="457.0" r="2.4" fill="#333333"/>
<circle cx="99.0" cy="457.5" r="2.4" fill="#333333"/>
<circle cx="102.0" cy="457.0" r="2.4" fill="#333333"/>
<circle cx="94.0" cy="458.5" r="2.4" fill="#333333"/>
<rect x="116.1" y="453.6" width="4.8" height="4.8" fill="#0000ff"/>
<rect x="119.6" y="452.6" width="4.8" height="4.8" fill="#0000ff"/>
<rect x="123.6" y="451.6" width="4.8" height="4.8" fill="#0000ff"/>
<rect x="126.6" y="452.1" width="4.8" height="4.8" fill="#0000ff"/>
<rect x="129.6" y="453.1" width="4.8" height="4.8" fill="#0000ff"/>
<rect x="122.6" y="454.6" width="4.8" height="4.8" fill="#0000ff"/>
<path d="M146.5,453.1h5l-2.5,4.8z" fill="#ff4040"/>
<path d="M150.5,452.6h5l-2.5,4.8z" fill="#ff4040"/>
<path d="M154.5,451.1h5l-2.5,4.8z" fill="#ff4040"/>
<path d="M157.5,452.6h5l-2.5,4.8z" fill="#ff4040"/>
<path d="M160.5,453.6h5l-2.5,4.8z" fill="#ff4040"/>
<path d="M153.5,455.1h5l-2.5,4.8z" fill="#ff4040"/>
<circle cx="199.5" cy="424.0" r="2.4" fill="#333333"/>
<circle cx="204.6" cy="424.7" r="2.4" fill="#333333"/>
<circle cx="214.8" cy="424.4" r="2.4" fill="#333333"/>
<circle cx="208.0" cy="429.0" r="2.4" fill="#333333"/>
<circle cx="203.9" cy="436.6" r="2.4" fill="#333333"/>
<circle cx="210.7" cy="435.6" r="2.4" fill="#333333"/>
<rect x="235.0" y="384.6" width="4.8" height="4.8" fill="#0000ff"/>
<rect x="235.0" y="394.2" width="4.8" height="4.8" fill="#0000ff"/>
<rect x="232.9" y="414.2" width="4.8" height="4.8" fill="#0000ff"/>
<rect x="237.6" y="413.6" width="4.8" height="4.8" fill="#0000ff"/>
<rect x="230.6" y="405.6" width="4.8" height="4.8" fill="#0000ff"/>
<rect x="239.6" y="405.6" width="4.8" height="4.8" fill="#0000ff"/>
<path d="M265.7,317.0h5l-2.5,4.8z" fill="#ff4040"/>
<path d="M269.0,350.4h5l-2.5,4.8z" fill="#ff4040"/>
<path d="M262.0,354.8h5l-2.5,4.8z" fill="#ff4040"/>
<path d="M262.0,379.9h5l-2.5,4.8z" fill="#ff4040"/>
<path d="M268.3,386.1h5l-2.5,4.8z" fill="#ff4040"/>
<path d="M265.2,402.1h5l-2.5,4.8z" fill="#ff4040"/>
<line x1="95.7" y1="456" x2="95.7" y2="459" stroke="#333333" stroke-width="2"/>
<line x1="90.7" y1="456" x2="100.7" y2="456" stroke="#333333" stroke-width="2.1"/>
<line x1="90.7" y1="459" x2="100.7" y2="459" stroke="#333333" stroke-width="2.1"/>
<line x1="126" y1="454" x2="126" y2="458.5" stroke="#0000ff" stroke-width="2"/>
<line x1="121" y1="454" x2="131" y2="454" stroke="#0000ff" stroke-width="2.1"/>
<line x1="121" y1="458.5" x2="131" y2="458.5" stroke="#0000ff" stroke-width="2.1"/>
<line x1="156.7" y1="453.5" x2="156.7" y2="457.5" stroke="#ff4040" stroke-width="2"/>
<line x1="151.7" y1="453.5" x2="161.7" y2="453.5" stroke="#ff4040" stroke-width="2.1"/>
<line x1="151.7" y1="457.5" x2="161.7" y2="457.5" stroke="#ff4040" stroke-width="2.1"/>
<line x1="207.2" y1="424.5" x2="207.2" y2="431" stroke="#333333" stroke-width="2"/>
<line x1="202.2" y1="424.5" x2="212.2" y2="424.5" stroke="#333333" stroke-width="2.1"/>
<line x1="202.2" y1="431" x2="212.2" y2="431" stroke="#333333" stroke-width="2.1"/>
<line x1="238" y1="401" x2="238" y2="410" stroke="#0000ff" stroke-width="2"/>
<line x1="233" y1="401" x2="243" y2="401" stroke="#0000ff" stroke-width="2.1"/>
<line x1="233" y1="410" x2="243" y2="410" stroke="#0000ff" stroke-width="2.1"/>
<line x1="268.2" y1="355.3" x2="268.2" y2="380.9" stroke="#ff4040" stroke-width="2"/>
<line x1="263.2" y1="355.3" x2="273.2" y2="355.3" stroke="#ff4040" stroke-width="2.1"/>
<line x1="263.2" y1="380.9" x2="273.2" y2="380.9" stroke="#ff4040" stroke-width="2.1"/>
<line x1="200" y1="306.2" x2="272.6" y2="306.2" stroke="#000" stroke-width="2.6"/>
<path d="M230.80,292.45L231.51,294.13L233.32,294.28L231.94,295.47L232.36,297.24L230.80,296.30L229.24,297.24L229.66,295.47L228.28,294.28L230.09,294.13Z" fill="#1a1a1a"/>
<path d="M236.50,292.45L237.21,294.13L239.02,294.28L237.64,295.47L238.06,297.24L236.50,296.30L234.94,297.24L235.36,295.47L233.98,294.28L235.79,294.13Z" fill="#1a1a1a"/>
<path d="M241.90,292.45L242.61,294.13L244.42,294.28L243.04,295.47L243.46,297.24L241.90,296.30L240.34,297.24L240.76,295.47L239.38,294.28L241.19,294.13Z" fill="#1a1a1a"/>
<line x1="200.8" y1="374.5" x2="242.1" y2="374.5" stroke="#000" stroke-width="2.6"/>
<path d="M220.50,360.85L221.21,362.53L223.02,362.68L221.64,363.87L222.06,365.64L220.50,364.70L218.94,365.64L219.36,363.87L217.98,362.68L219.79,362.53Z" fill="#1a1a1a"/>
<path d="M225.90,360.85L226.61,362.53L228.42,362.68L227.04,363.87L227.46,365.64L225.90,364.70L224.34,365.64L224.76,363.87L223.38,362.68L225.19,362.53Z" fill="#1a1a1a"/>
<line x1="70" y1="294.25" x2="70" y2="467.9" stroke="#111" stroke-width="1.6"/>
<line x1="65.8" y1="467" x2="294.2" y2="467" stroke="#111" stroke-width="1.9"/>
<circle cx="85.4" cy="296" r="5" fill="#000"/>
<rect x="80.5" y="310.6" width="9.8" height="9.6" fill="#3a2ee0"/>
<path d="M79.60000000000001,330h11.6l-5.8,10.9z" fill="#ff0000"/>
<text x="96.8" y="300.9" font-size="12.6" text-anchor="start" fill="#1a1a1a" >Mock</text>
<text x="96.8" y="320.2" font-size="12.8" text-anchor="start" fill="#1a1a1a" >FLU (10 mg/kg)</text>
<text x="97.2" y="341.6" font-size="12.8" text-anchor="start" fill="#1a1a1a" >FLU (20 mg/kg)</text>
<line x1="422.0" y1="432.90" x2="426.6" y2="432.90" stroke="#111" stroke-width="1.5"/>
<text x="414.0" y="436.50" font-size="12.6" text-anchor="end" fill="#1a1a1a" >200</text>
<line x1="422.0" y1="398.80" x2="426.6" y2="398.80" stroke="#111" stroke-width="1.5"/>
<text x="414.0" y="402.90" font-size="12.6" text-anchor="end" fill="#1a1a1a" >400</text>
<line x1="422.0" y1="364.70" x2="426.6" y2="364.70" stroke="#111" stroke-width="1.5"/>
<text x="414.0" y="368.60" font-size="12.6" text-anchor="end" fill="#1a1a1a" >600</text>
<line x1="422.0" y1="330.60" x2="426.6" y2="330.60" stroke="#111" stroke-width="1.5"/>
<text x="414.0" y="333.20" font-size="12.6" text-anchor="end" fill="#1a1a1a" >800</text>
<line x1="422.0" y1="296.50" x2="426.6" y2="296.50" stroke="#111" stroke-width="1.5"/>
<text x="414.0" y="299.80" font-size="12.6" text-anchor="end" fill="#1a1a1a" >1000</text>
<line x1="482.6" y1="467" x2="482.6" y2="471.6" stroke="#111" stroke-width="1.5"/>
<text x="485.8" y="490.5" font-size="12.6" text-anchor="middle" fill="#1a1a1a" >CON</text>
<line x1="594.2" y1="467" x2="594.2" y2="471.6" stroke="#111" stroke-width="1.5"/>
<text x="594.6" y="490.5" font-size="12.6" text-anchor="middle" fill="#1a1a1a" >LPS</text>
<text x="0" y="0" font-size="13" text-anchor="middle" fill="#1a1a1a" transform="translate(376,362.2) rotate(-90)" xml:space="preserve">TNF-α ( pg/mL )</text>
<rect x="442.30" y="465.00" width="20" height="2.00" fill="none" stroke="#333333" stroke-width="2.1"/>
<rect x="472.60" y="464.40" width="20" height="2.60" fill="none" stroke="#0000ff" stroke-width="2.1"/>
<rect x="503.30" y="463.60" width="20" height="3.40" fill="none" stroke="#ff4040" stroke-width="2.1"/>
<rect x="553.80" y="415.60" width="20" height="51.40" fill="none" stroke="#333333" stroke-width="2.1"/>
<rect x="584.60" y="400.00" width="20" height="67.00" fill="none" stroke="#0000ff" stroke-width="2.1"/>
<rect x="614.80" y="353.30" width="20" height="113.70" fill="none" stroke="#ff4040" stroke-width="2.1"/>
<circle cx="455.4" cy="460.4" r="2.4" fill="#333333"/>
<circle cx="446.0" cy="464.0" r="2.4" fill="#333333"/>
<circle cx="451.0" cy="464.5" r="2.4" fill="#333333"/>
<circle cx="459.0" cy="464.0" r="2.4" fill="#333333"/>
<circle cx="462.0" cy="464.5" r="2.4" fill="#333333"/>
<circle cx="453.0" cy="466.0" r="2.4" fill="#333333"/>
<rect x="476.4" y="458.0" width="4.8" height="4.8" fill="#0000ff"/>
<rect x="483.4" y="457.3" width="4.8" height="4.8" fill="#0000ff"/>
<rect x="473.6" y="461.6" width="4.8" height="4.8" fill="#0000ff"/>
<rect x="479.6" y="462.1" width="4.8" height="4.8" fill="#0000ff"/>
<rect x="486.6" y="461.6" width="4.8" height="4.8" fill="#0000ff"/>
<rect x="481.6" y="463.6" width="4.8" height="4.8" fill="#0000ff"/>
<path d="M514.0,456.6h5l-2.5,4.8z" fill="#ff4040"/>
<path d="M504.5,459.6h5l-2.5,4.8z" fill="#ff4040"/>
<path d="M508.5,459.1h5l-2.5,4.8z" fill="#ff4040"/>
<path d="M512.5,460.6h5l-2.5,4.8z" fill="#ff4040"/>
<path d="M517.5,460.1h5l-2.5,4.8z" fill="#ff4040"/>
<path d="M509.5,462.6h5l-2.5,4.8z" fill="#ff4040"/>
<circle cx="556.2" cy="411.2" r="2.4" fill="#333333"/>
<circle cx="561.0" cy="412.0" r="2.4" fill="#333333"/>
<circle cx="565.0" cy="413.0" r="2.4" fill="#333333"/>
<circle cx="569.0" cy="412.5" r="2.4" fill="#333333"/>
<circle cx="571.5" cy="411.0" r="2.4" fill="#333333"/>
<circle cx="560.0" cy="424.0" r="2.4" fill="#333333"/>
<rect x="584.9" y="385.9" width="4.8" height="4.8" fill="#0000ff"/>
<rect x="598.1" y="389.9" width="4.8" height="4.8" fill="#0000ff"/>
<rect x="591.5" y="391.0" width="4.8" height="4.8" fill="#0000ff"/>
<rect x="589.3" y="401.6" width="4.8" height="4.8" fill="#0000ff"/>
<rect x="595.2" y="402.4" width="4.8" height="4.8" fill="#0000ff"/>
<rect x="591.8" y="410.7" width="4.8" height="4.8" fill="#0000ff"/>
<path d="M622.1,307.1h5l-2.5,4.8z" fill="#ff4040"/>
<path d="M622.1,332.9h5l-2.5,4.8z" fill="#ff4040"/>
<path d="M618.4,356.3h5l-2.5,4.8z" fill="#ff4040"/>
<path d="M628.6,360.1h5l-2.5,4.8z" fill="#ff4040"/>
<path d="M625.4,367.6h5l-2.5,4.8z" fill="#ff4040"/>
<path d="M618.4,372.8h5l-2.5,4.8z" fill="#ff4040"/>
<line x1="452.3" y1="462.5" x2="452.3" y2="465.5" stroke="#333333" stroke-width="2"/>
<line x1="447.3" y1="462.5" x2="457.3" y2="462.5" stroke="#333333" stroke-width="2.1"/>
<line x1="447.3" y1="465.5" x2="457.3" y2="465.5" stroke="#333333" stroke-width="2.1"/>
<line x1="482.6" y1="461.5" x2="482.6" y2="465.5" stroke="#0000ff" stroke-width="2"/>
<line x1="477.6" y1="461.5" x2="487.6" y2="461.5" stroke="#0000ff" stroke-width="2.1"/>
<line x1="477.6" y1="465.5" x2="487.6" y2="465.5" stroke="#0000ff" stroke-width="2.1"/>
<line x1="513.3000000000001" y1="460.5" x2="513.3000000000001" y2="465" stroke="#ff4040" stroke-width="2"/>
<line x1="508.30000000000007" y1="460.5" x2="518.3000000000001" y2="460.5" stroke="#ff4040" stroke-width="2.1"/>
<line x1="508.30000000000007" y1="465" x2="518.3000000000001" y2="465" stroke="#ff4040" stroke-width="2.1"/>
<line x1="563.8" y1="411.5" x2="563.8" y2="416" stroke="#333333" stroke-width="2"/>
<line x1="558.8" y1="411.5" x2="568.8" y2="411.5" stroke="#333333" stroke-width="2.1"/>
<line x1="558.8" y1="416" x2="568.8" y2="416" stroke="#333333" stroke-width="2.1"/>
<line x1="594.6" y1="395.2" x2="594.6" y2="404" stroke="#0000ff" stroke-width="2"/>
<line x1="589.6" y1="395.2" x2="599.6" y2="395.2" stroke="#0000ff" stroke-width="2.1"/>
<line x1="589.6" y1="404" x2="599.6" y2="404" stroke="#0000ff" stroke-width="2.1"/>
<line x1="624.8" y1="342.3" x2="624.8" y2="362.5" stroke="#ff4040" stroke-width="2"/>
<line x1="619.8" y1="342.3" x2="629.8" y2="342.3" stroke="#ff4040" stroke-width="2.1"/>
<line x1="619.8" y1="362.5" x2="629.8" y2="362.5" stroke="#ff4040" stroke-width="2.1"/>
<line x1="558" y1="297.9" x2="633.5" y2="297.9" stroke="#000" stroke-width="2.6"/>
<path d="M590.80,284.65L591.51,286.33L593.32,286.48L591.94,287.67L592.36,289.44L590.80,288.50L589.24,289.44L589.66,287.67L588.28,286.48L590.09,286.33Z" fill="#1a1a1a"/>
<path d="M596.50,284.65L597.21,286.33L599.02,286.48L597.64,287.67L598.06,289.44L596.50,288.50L594.94,289.44L595.36,287.67L593.98,286.48L595.79,286.33Z" fill="#1a1a1a"/>
<path d="M602.10,284.65L602.81,286.33L604.62,286.48L603.24,287.67L603.66,289.44L602.10,288.50L600.54,289.44L600.96,287.67L599.58,286.48L601.39,286.33Z" fill="#1a1a1a"/>
<line x1="557.8" y1="374.7" x2="599.3" y2="374.7" stroke="#000" stroke-width="2.6"/>
<path d="M576.50,361.85L577.21,363.53L579.02,363.68L577.64,364.87L578.06,366.64L576.50,365.70L574.94,366.64L575.36,364.87L573.98,363.68L575.79,363.53Z" fill="#1a1a1a"/>
<path d="M581.80,361.85L582.51,363.53L584.32,363.68L582.94,364.87L583.36,366.64L581.80,365.70L580.24,366.64L580.66,364.87L579.28,363.68L581.09,363.53Z" fill="#1a1a1a"/>
<line x1="426.6" y1="295.8" x2="426.6" y2="467.9" stroke="#111" stroke-width="1.6"/>
<line x1="422.40000000000003" y1="467" x2="651" y2="467" stroke="#111" stroke-width="1.9"/>
<circle cx="435" cy="300.6" r="5" fill="#000"/>
<rect x="430.1" y="315.20000000000005" width="9.8" height="9.6" fill="#3a2ee0"/>
<path d="M429.2,334.6h11.6l-5.8,10.9z" fill="#ff0000"/>
<text x="453.8" y="305.5" font-size="12.6" text-anchor="start" fill="#1a1a1a" >Mock</text>
<text x="453.8" y="324.8" font-size="12.8" text-anchor="start" fill="#1a1a1a" >FLU (10 mg/kg)</text>
<text x="454.2" y="346.20000000000005" font-size="12.8" text-anchor="start" fill="#1a1a1a" >FLU (20 mg/kg)</text>
<line x1="107.4" y1="544.9" x2="265" y2="545.7" stroke="#222" stroke-width="1.4"/>
<text x="171.8" y="542" font-size="12.6" text-anchor="start" fill="#111" >CON</text>
<line x1="439" y1="545.1" x2="608" y2="545.1" stroke="#222" stroke-width="1.4"/>
<text x="514.0" y="541.7" font-size="12.6" text-anchor="start" fill="#111" >LPS</text>
<text x="93.0" y="564.6" font-size="12.6" text-anchor="start" fill="#111" >Mock</text>
<text x="232.6" y="564.6" font-size="12.6" text-anchor="start" fill="#111" >FLU (20 mg/kg)</text>
<text x="424.0" y="564.6" font-size="12.6" text-anchor="start" fill="#111" >Mock</text>
<text x="571.6" y="564.6" font-size="12.6" text-anchor="start" fill="#111" >FLU (20 mg/kg)</text>
<text font-size="13" text-anchor="middle" fill="#111" transform="translate(13.2,636.4) rotate(-90)">H&amp;E staining</text>
<text font-size="13" text-anchor="middle" fill="#111" transform="translate(13.2,780.2) rotate(-90)">TUNEL staining</text>
</svg>
<svg width="685" height="848" style="position:absolute;left:0;top:0" font-family='"Liberation Sans", sans-serif'><text x="144" y="683.2" font-size="10.8" fill="#111">200μm</text><line x1="144" y1="688.2" x2="179.8" y2="688.2" stroke="#111" stroke-width="1.3"/><text x="309.9" y="683.2" font-size="10.8" fill="#111">200μm</text><line x1="312" y1="688.2" x2="348" y2="688.2" stroke="#111" stroke-width="1.3"/><text x="473.6" y="683.2" font-size="10.8" fill="#111">200μm</text><line x1="477" y1="688.2" x2="512.6" y2="688.2" stroke="#111" stroke-width="1.3"/><text x="641.6" y="681" font-size="10.8" fill="#111">200μm</text><line x1="645.1" y1="687.3" x2="680.6" y2="687.3" stroke="#111" stroke-width="1.3"/><text x="144.9" y="818.6" font-size="10.8" fill="#111">100μm</text><line x1="144" y1="824" x2="180" y2="824" stroke="#111" stroke-width="1.3"/><text x="310.3" y="818.8" font-size="10.8" fill="#111">100μm</text><line x1="310.3" y1="824" x2="346.5" y2="824" stroke="#111" stroke-width="1.3"/><text x="477" y="819.2" font-size="10.8" fill="#111">100μm</text><line x1="476.6" y1="824" x2="512.8" y2="824" stroke="#111" stroke-width="1.3"/><text x="639.5" y="818.8" font-size="10.8" fill="#111">100μm</text><line x1="643" y1="825" x2="679.7" y2="825" stroke="#444" stroke-width="1.3"/><path d="M609.3,756.4L604,744.2L612.6,744.2Z" fill="#0a0a0a"/><line x1="608.3" y1="744.2" x2="607.6" y2="731.5" stroke="#1a1a1a" stroke-width="1"/><path d="M541.8,762.9L531.2,770.2L538.9,774.9Z" fill="#0a0a0a"/><line x1="535.0" y1="772.5" x2="529.2" y2="780.8" stroke="#1a1a1a" stroke-width="1"/><path d="M559.9,798.9L549.6,806.6L556.6,811Z" fill="#0a0a0a"/><line x1="553.1" y1="808.8" x2="547.2" y2="817.3" stroke="#1a1a1a" stroke-width="1"/><path d="M594.9,825.2L584.6,832.9L590.8,837.4Z" fill="#0a0a0a"/><line x1="587.7" y1="835.1" x2="582.2" y2="843.6" stroke="#1a1a1a" stroke-width="1"/><circle cx="607.6" cy="731.3" r="1.2" fill="#5a3a1a"/><circle cx="542.8" cy="761.5" r="1.1" fill="#5a3a1a"/></svg>
</body></html>
